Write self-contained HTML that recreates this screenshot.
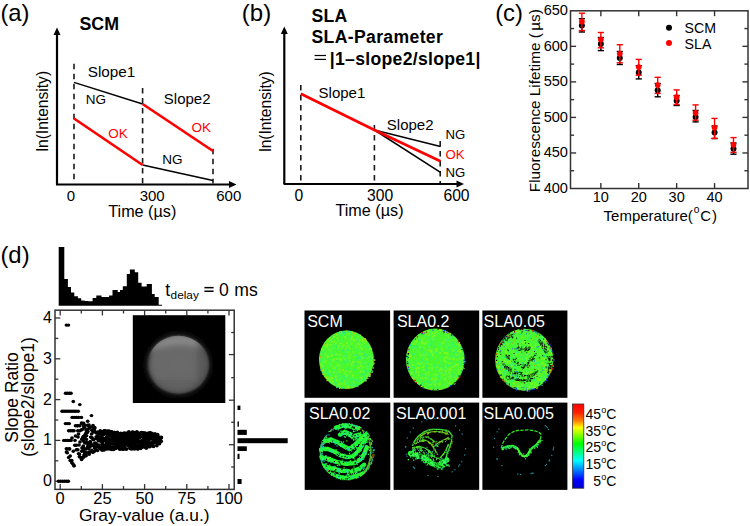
<!DOCTYPE html>
<html><head><meta charset="utf-8"><style>
html,body{margin:0;padding:0;background:#fff;}
svg{display:block;font-family:"Liberation Sans", sans-serif;}
</style></head><body>
<svg width="750" height="526" viewBox="0 0 750 526">
<text x="0.4" y="21" font-size="23.8" text-anchor="start" font-weight="normal" fill="#000" >(a)</text>
<text x="79.5" y="30" font-size="17.8" text-anchor="start" font-weight="bold" fill="#000" >SCM</text>
<line x1="57" y1="184.5" x2="57" y2="34" stroke="#000" stroke-width="2.2" />
<polygon points="53.5,35 60.5,35 57,27.5" fill="#000"/>
<line x1="56" y1="184.5" x2="230" y2="184.5" stroke="#000" stroke-width="2.2" />
<polygon points="229,181 229,188 236.5,184.5" fill="#000"/>
<line x1="74" y1="63.8" x2="74" y2="183.5" stroke="#1a1a1a" stroke-width="1.6" stroke-dasharray="5.4 4.6"/>
<line x1="142.6" y1="88" x2="142.6" y2="183.5" stroke="#1a1a1a" stroke-width="1.6" stroke-dasharray="5.4 4.6"/>
<line x1="213" y1="148.8" x2="213" y2="183.5" stroke="#1a1a1a" stroke-width="1.6" stroke-dasharray="5.4 4.6"/>
<line x1="74" y1="82.4" x2="142.6" y2="104" stroke="#000" stroke-width="1.5" />
<line x1="142.6" y1="165" x2="213" y2="180.6" stroke="#000" stroke-width="1.5" />
<line x1="142.6" y1="104" x2="213" y2="151" stroke="#f00" stroke-width="2.7" />
<line x1="74" y1="118.5" x2="142.6" y2="165" stroke="#f00" stroke-width="2.7" />
<text x="87.7" y="76.9" font-size="15.3" text-anchor="start" font-weight="normal" fill="#000" >Slope1</text>
<text x="163.8" y="104.4" font-size="15" text-anchor="start" font-weight="normal" fill="#000" >Slope2</text>
<text x="85.7" y="104" font-size="13.5" text-anchor="start" font-weight="normal" fill="#000" >NG</text>
<text x="162.2" y="164.3" font-size="13.5" text-anchor="start" font-weight="normal" fill="#000" >NG</text>
<text x="108.2" y="138.2" font-size="13.5" text-anchor="start" font-weight="normal" fill="#f00" >OK</text>
<text x="191.4" y="131.8" font-size="13.5" text-anchor="start" font-weight="normal" fill="#f00" >OK</text>
<text x="71" y="200.8" font-size="15" text-anchor="middle" font-weight="normal" fill="#000" >0</text>
<text x="152.2" y="200.8" font-size="15" text-anchor="middle" font-weight="normal" fill="#000" >300</text>
<text x="228.8" y="200.8" font-size="15" text-anchor="middle" font-weight="normal" fill="#000" >600</text>
<text x="142.3" y="216.8" font-size="16.2" text-anchor="middle" font-weight="normal" fill="#000" >Time (µs)</text>
<text transform="translate(47.8,111.2) rotate(-90)" font-size="15.6" text-anchor="middle">ln(Intensity)</text>
<text x="241.8" y="21" font-size="24" text-anchor="start" font-weight="normal" fill="#000" >(b)</text>
<text x="311.5" y="21.8" font-size="17.6" text-anchor="start" font-weight="bold" fill="#000" letter-spacing="0.3">SLA</text>
<text x="311.5" y="42.8" font-size="17.6" text-anchor="start" font-weight="bold" fill="#000" letter-spacing="0.35">SLA-Parameter</text>
<line x1="314.6" y1="55.5" x2="326" y2="55.5" stroke="#000" stroke-width="1.2" />
<line x1="314.6" y1="59.4" x2="326" y2="59.4" stroke="#000" stroke-width="1.2" />
<text x="329.8" y="64.6" font-size="17.6" text-anchor="start" font-weight="bold" fill="#000" letter-spacing="0.3">|1–slope2/slope1|</text>
<line x1="284.3" y1="184" x2="284.3" y2="33" stroke="#000" stroke-width="2.2" />
<polygon points="280.8,34 287.8,34 284.3,26.5" fill="#000"/>
<line x1="283.6" y1="184" x2="457" y2="184" stroke="#000" stroke-width="2.2" />
<polygon points="456.5,180.5 456.5,187.5 464,184" fill="#000"/>
<line x1="300.8" y1="85" x2="300.8" y2="183" stroke="#1a1a1a" stroke-width="1.6" stroke-dasharray="5.4 4.6"/>
<line x1="374.4" y1="125" x2="374.4" y2="183" stroke="#1a1a1a" stroke-width="1.6" stroke-dasharray="5.4 4.6"/>
<line x1="440.2" y1="141" x2="440.2" y2="183" stroke="#1a1a1a" stroke-width="1.6" stroke-dasharray="5.4 4.6"/>
<line x1="374.4" y1="130" x2="440.5" y2="146.4" stroke="#000" stroke-width="1.5" />
<line x1="374.4" y1="130" x2="440.5" y2="172.3" stroke="#000" stroke-width="1.5" />
<polyline points="300.8,93.7 374.4,130 440.5,161.2" fill="none" stroke="#f00" stroke-width="2.7"/>
<text x="318.6" y="98.2" font-size="15" text-anchor="start" font-weight="normal" fill="#000" >Slope1</text>
<text x="386.8" y="129.6" font-size="15" text-anchor="start" font-weight="normal" fill="#000" >Slope2</text>
<text x="445.4" y="139.3" font-size="13.2" text-anchor="start" font-weight="normal" fill="#000" >NG</text>
<text x="445.4" y="158.6" font-size="13.2" text-anchor="start" font-weight="normal" fill="#f00" >OK</text>
<text x="445.4" y="177.4" font-size="13.2" text-anchor="start" font-weight="normal" fill="#000" >NG</text>
<text x="298.9" y="200.5" font-size="15.7" text-anchor="middle" font-weight="normal" fill="#000" >0</text>
<text x="380.2" y="200.5" font-size="15.7" text-anchor="middle" font-weight="normal" fill="#000" >300</text>
<text x="456.5" y="200.5" font-size="15.7" text-anchor="middle" font-weight="normal" fill="#000" >600</text>
<text x="369.5" y="215.8" font-size="16.2" text-anchor="middle" font-weight="normal" fill="#000" >Time (µs)</text>
<text transform="translate(270.7,111.5) rotate(-90)" font-size="15.6" text-anchor="middle">ln(Intensity)</text>
<text x="495.2" y="21" font-size="23.8" text-anchor="start" font-weight="normal" fill="#000" >(c)</text>
<rect x="570.5" y="10.8" width="177.5" height="177.7" fill="none" stroke="#333" stroke-width="1.5"/>
<text x="568" y="192.7" font-size="14.6" text-anchor="end" font-weight="normal" fill="#000" >400</text>
<line x1="570.5" y1="170.73000000000002" x2="574.1" y2="170.73000000000002" stroke="#333" stroke-width="1.4" />
<line x1="748.0" y1="170.73000000000002" x2="744.4" y2="170.73000000000002" stroke="#333" stroke-width="1.4" />
<line x1="570.5" y1="152.96" x2="576.1" y2="152.96" stroke="#333" stroke-width="1.4" />
<line x1="748.0" y1="152.96" x2="742.4" y2="152.96" stroke="#333" stroke-width="1.4" />
<text x="568" y="157.16" font-size="14.6" text-anchor="end" font-weight="normal" fill="#000" >450</text>
<line x1="570.5" y1="135.19" x2="574.1" y2="135.19" stroke="#333" stroke-width="1.4" />
<line x1="748.0" y1="135.19" x2="744.4" y2="135.19" stroke="#333" stroke-width="1.4" />
<line x1="570.5" y1="117.42" x2="576.1" y2="117.42" stroke="#333" stroke-width="1.4" />
<line x1="748.0" y1="117.42" x2="742.4" y2="117.42" stroke="#333" stroke-width="1.4" />
<text x="568" y="121.62" font-size="14.6" text-anchor="end" font-weight="normal" fill="#000" >500</text>
<line x1="570.5" y1="99.64999999999999" x2="574.1" y2="99.64999999999999" stroke="#333" stroke-width="1.4" />
<line x1="748.0" y1="99.64999999999999" x2="744.4" y2="99.64999999999999" stroke="#333" stroke-width="1.4" />
<line x1="570.5" y1="81.88" x2="576.1" y2="81.88" stroke="#333" stroke-width="1.4" />
<line x1="748.0" y1="81.88" x2="742.4" y2="81.88" stroke="#333" stroke-width="1.4" />
<text x="568" y="86.08" font-size="14.6" text-anchor="end" font-weight="normal" fill="#000" >550</text>
<line x1="570.5" y1="64.11" x2="574.1" y2="64.11" stroke="#333" stroke-width="1.4" />
<line x1="748.0" y1="64.11" x2="744.4" y2="64.11" stroke="#333" stroke-width="1.4" />
<line x1="570.5" y1="46.34" x2="576.1" y2="46.34" stroke="#333" stroke-width="1.4" />
<line x1="748.0" y1="46.34" x2="742.4" y2="46.34" stroke="#333" stroke-width="1.4" />
<text x="568" y="50.540000000000006" font-size="14.6" text-anchor="end" font-weight="normal" fill="#000" >600</text>
<line x1="570.5" y1="28.57" x2="574.1" y2="28.57" stroke="#333" stroke-width="1.4" />
<line x1="748.0" y1="28.57" x2="744.4" y2="28.57" stroke="#333" stroke-width="1.4" />
<text x="568" y="15.0" font-size="14.6" text-anchor="end" font-weight="normal" fill="#000" >650</text>
<line x1="600.85" y1="188.5" x2="600.85" y2="183.1" stroke="#333" stroke-width="1.4" />
<line x1="600.85" y1="10.8" x2="600.85" y2="16.200000000000003" stroke="#333" stroke-width="1.4" />
<text x="600.85" y="201.8" font-size="14.5" text-anchor="middle" font-weight="normal" fill="#000" >10</text>
<line x1="638.75" y1="188.5" x2="638.75" y2="183.1" stroke="#333" stroke-width="1.4" />
<line x1="638.75" y1="10.8" x2="638.75" y2="16.200000000000003" stroke="#333" stroke-width="1.4" />
<text x="638.75" y="201.8" font-size="14.5" text-anchor="middle" font-weight="normal" fill="#000" >20</text>
<line x1="676.6500000000001" y1="188.5" x2="676.6500000000001" y2="183.1" stroke="#333" stroke-width="1.4" />
<line x1="676.6500000000001" y1="10.8" x2="676.6500000000001" y2="16.200000000000003" stroke="#333" stroke-width="1.4" />
<text x="676.6500000000001" y="201.8" font-size="14.5" text-anchor="middle" font-weight="normal" fill="#000" >30</text>
<line x1="714.5500000000001" y1="188.5" x2="714.5500000000001" y2="183.1" stroke="#333" stroke-width="1.4" />
<line x1="714.5500000000001" y1="10.8" x2="714.5500000000001" y2="16.200000000000003" stroke="#333" stroke-width="1.4" />
<text x="714.5500000000001" y="201.8" font-size="14.5" text-anchor="middle" font-weight="normal" fill="#000" >40</text>
<text x="603.6" y="220.6" font-size="15">Temperature(<tspan font-size="10.2" dx="0.9" dy="-7.2">o</tspan><tspan dx="0.8" dy="7.2">C</tspan><tspan dx="0.9">)</tspan></text>
<text transform="translate(540.4,100.7) rotate(-90)" font-size="15.3" text-anchor="middle">Fluorescence Lifetime (<tspan dx="2.5">µs)</tspan></text>
<line x1="581.9000000000001" y1="18.7" x2="581.9000000000001" y2="32" stroke="#000" stroke-width="1.4" />
<line x1="578.8000000000001" y1="18.7" x2="585.0000000000001" y2="18.7" stroke="#000" stroke-width="1.4" />
<line x1="578.8000000000001" y1="32" x2="585.0000000000001" y2="32" stroke="#000" stroke-width="1.4" />
<line x1="600.85" y1="37.5" x2="600.85" y2="50.6" stroke="#000" stroke-width="1.4" />
<line x1="597.75" y1="37.5" x2="603.95" y2="37.5" stroke="#000" stroke-width="1.4" />
<line x1="597.75" y1="50.6" x2="603.95" y2="50.6" stroke="#000" stroke-width="1.4" />
<line x1="619.8000000000001" y1="51.5" x2="619.8000000000001" y2="64.5" stroke="#000" stroke-width="1.4" />
<line x1="616.7" y1="51.5" x2="622.9000000000001" y2="51.5" stroke="#000" stroke-width="1.4" />
<line x1="616.7" y1="64.5" x2="622.9000000000001" y2="64.5" stroke="#000" stroke-width="1.4" />
<line x1="638.75" y1="65.7" x2="638.75" y2="78.9" stroke="#000" stroke-width="1.4" />
<line x1="635.65" y1="65.7" x2="641.85" y2="65.7" stroke="#000" stroke-width="1.4" />
<line x1="635.65" y1="78.9" x2="641.85" y2="78.9" stroke="#000" stroke-width="1.4" />
<line x1="657.7" y1="83.5" x2="657.7" y2="96.8" stroke="#000" stroke-width="1.4" />
<line x1="654.6" y1="83.5" x2="660.8000000000001" y2="83.5" stroke="#000" stroke-width="1.4" />
<line x1="654.6" y1="96.8" x2="660.8000000000001" y2="96.8" stroke="#000" stroke-width="1.4" />
<line x1="676.6500000000001" y1="95.5" x2="676.6500000000001" y2="105.5" stroke="#000" stroke-width="1.4" />
<line x1="673.5500000000001" y1="95.5" x2="679.7500000000001" y2="95.5" stroke="#000" stroke-width="1.4" />
<line x1="673.5500000000001" y1="105.5" x2="679.7500000000001" y2="105.5" stroke="#000" stroke-width="1.4" />
<line x1="695.6" y1="110.5" x2="695.6" y2="121.9" stroke="#000" stroke-width="1.4" />
<line x1="692.5" y1="110.5" x2="698.7" y2="110.5" stroke="#000" stroke-width="1.4" />
<line x1="692.5" y1="121.9" x2="698.7" y2="121.9" stroke="#000" stroke-width="1.4" />
<line x1="714.5500000000001" y1="126" x2="714.5500000000001" y2="138.6" stroke="#000" stroke-width="1.4" />
<line x1="711.45" y1="126" x2="717.6500000000001" y2="126" stroke="#000" stroke-width="1.4" />
<line x1="711.45" y1="138.6" x2="717.6500000000001" y2="138.6" stroke="#000" stroke-width="1.4" />
<line x1="733.5" y1="143" x2="733.5" y2="154.2" stroke="#000" stroke-width="1.4" />
<line x1="730.4" y1="143" x2="736.6" y2="143" stroke="#000" stroke-width="1.4" />
<line x1="730.4" y1="154.2" x2="736.6" y2="154.2" stroke="#000" stroke-width="1.4" />
<circle cx="581.90" cy="25.4" r="3.0" fill="#000"/>
<circle cx="600.85" cy="44.1" r="3.0" fill="#000"/>
<circle cx="619.80" cy="58" r="3.0" fill="#000"/>
<circle cx="638.75" cy="72.6" r="3.0" fill="#000"/>
<circle cx="657.70" cy="90.3" r="3.0" fill="#000"/>
<circle cx="676.65" cy="100.7" r="3.0" fill="#000"/>
<circle cx="695.60" cy="117" r="3.0" fill="#000"/>
<circle cx="714.55" cy="132.6" r="3.0" fill="#000"/>
<circle cx="733.50" cy="148.8" r="3.0" fill="#000"/>
<line x1="581.9000000000001" y1="13.2" x2="581.9000000000001" y2="30.6" stroke="#f00" stroke-width="1.4" />
<line x1="578.8000000000001" y1="13.2" x2="585.0000000000001" y2="13.2" stroke="#f00" stroke-width="1.4" />
<line x1="578.8000000000001" y1="30.6" x2="585.0000000000001" y2="30.6" stroke="#f00" stroke-width="1.4" />
<line x1="600.85" y1="32.5" x2="600.85" y2="47.8" stroke="#f00" stroke-width="1.4" />
<line x1="597.75" y1="32.5" x2="603.95" y2="32.5" stroke="#f00" stroke-width="1.4" />
<line x1="597.75" y1="47.8" x2="603.95" y2="47.8" stroke="#f00" stroke-width="1.4" />
<line x1="619.8000000000001" y1="44.7" x2="619.8000000000001" y2="62.8" stroke="#f00" stroke-width="1.4" />
<line x1="616.7" y1="44.7" x2="622.9000000000001" y2="44.7" stroke="#f00" stroke-width="1.4" />
<line x1="616.7" y1="62.8" x2="622.9000000000001" y2="62.8" stroke="#f00" stroke-width="1.4" />
<line x1="638.75" y1="59.4" x2="638.75" y2="75.2" stroke="#f00" stroke-width="1.4" />
<line x1="635.65" y1="59.4" x2="641.85" y2="59.4" stroke="#f00" stroke-width="1.4" />
<line x1="635.65" y1="75.2" x2="641.85" y2="75.2" stroke="#f00" stroke-width="1.4" />
<line x1="657.7" y1="77.3" x2="657.7" y2="93.4" stroke="#f00" stroke-width="1.4" />
<line x1="654.6" y1="77.3" x2="660.8000000000001" y2="77.3" stroke="#f00" stroke-width="1.4" />
<line x1="654.6" y1="93.4" x2="660.8000000000001" y2="93.4" stroke="#f00" stroke-width="1.4" />
<line x1="676.6500000000001" y1="89.9" x2="676.6500000000001" y2="104.5" stroke="#f00" stroke-width="1.4" />
<line x1="673.5500000000001" y1="89.9" x2="679.7500000000001" y2="89.9" stroke="#f00" stroke-width="1.4" />
<line x1="673.5500000000001" y1="104.5" x2="679.7500000000001" y2="104.5" stroke="#f00" stroke-width="1.4" />
<line x1="695.6" y1="104.9" x2="695.6" y2="120.2" stroke="#f00" stroke-width="1.4" />
<line x1="692.5" y1="104.9" x2="698.7" y2="104.9" stroke="#f00" stroke-width="1.4" />
<line x1="692.5" y1="120.2" x2="698.7" y2="120.2" stroke="#f00" stroke-width="1.4" />
<line x1="714.5500000000001" y1="118.4" x2="714.5500000000001" y2="138.3" stroke="#f00" stroke-width="1.4" />
<line x1="711.45" y1="118.4" x2="717.6500000000001" y2="118.4" stroke="#f00" stroke-width="1.4" />
<line x1="711.45" y1="138.3" x2="717.6500000000001" y2="138.3" stroke="#f00" stroke-width="1.4" />
<line x1="733.5" y1="137.6" x2="733.5" y2="152.3" stroke="#f00" stroke-width="1.4" />
<line x1="730.4" y1="137.6" x2="736.6" y2="137.6" stroke="#f00" stroke-width="1.4" />
<line x1="730.4" y1="152.3" x2="736.6" y2="152.3" stroke="#f00" stroke-width="1.4" />
<circle cx="581.90" cy="21.6" r="2.85" fill="#f00"/>
<circle cx="600.85" cy="39.5" r="2.85" fill="#f00"/>
<circle cx="619.80" cy="53.8" r="2.85" fill="#f00"/>
<circle cx="638.75" cy="67" r="2.85" fill="#f00"/>
<circle cx="657.70" cy="85" r="2.85" fill="#f00"/>
<circle cx="676.65" cy="97.2" r="2.85" fill="#f00"/>
<circle cx="695.60" cy="112.9" r="2.85" fill="#f00"/>
<circle cx="714.55" cy="127.6" r="2.85" fill="#f00"/>
<circle cx="733.50" cy="144.7" r="2.85" fill="#f00"/>
<circle cx="669" cy="27.8" r="3" fill="#000"/>
<circle cx="669" cy="43" r="3" fill="#f00"/>
<text x="684.6" y="33" font-size="14.2" text-anchor="start" font-weight="normal" fill="#000" >SCM</text>
<text x="684.6" y="48.6" font-size="14.2" text-anchor="start" font-weight="normal" fill="#000" >SLA</text>
<text x="0.4" y="262.7" font-size="23.9" text-anchor="start" font-weight="normal" fill="#000" >(d)</text>
<polygon points="58.7,305.8 58.7,246.9 64.3,246.9 64.3,278.9 67.9,278.9 67.9,286.9 71.0,286.9 71.0,292.6 74.3,292.6 74.3,296.2 77.9,296.2 77.9,298.2 81.2,298.2 81.2,300.6 84.6,300.6 84.6,301 88.3,301 88.3,301.3 92.6,301.3 92.6,298 96.3,298 96.3,295.5 101.5,295.5 101.5,297 105.5,297 105.5,297 109.1,297 109.1,295.6 112.5,295.6 112.5,290.1 117.7,290.1 117.7,292 120,292 120,289.9 122.8,289.9 122.8,286.3 126.8,286.3 126.8,274 129.9,274 129.9,269.4 134.8,269.4 134.8,272.2 138.2,272.2 138.2,282.8 141.6,282.8 141.6,286.5 146.7,286.5 146.7,284 151.9,284 151.9,293.9 154.7,293.9 154.7,297 158.7,297 158.7,304.7 162.1,304.7 162.1,305.8" fill="#000"/>
<text x="165.3" y="295.8" font-size="17.5">t</text>
<text x="170.6" y="299" font-size="11.8">delay</text>
<rect x="204.4" y="286.9" width="9.2" height="1.5" fill="#000"/><rect x="204.4" y="290.5" width="9.2" height="1.5" fill="#000"/>
<text x="219" y="295.8" font-size="17.6">0</text>
<text x="234.3" y="295.8" font-size="17.6">ms</text>
<rect x="55" y="310.2" width="179.2" height="179.2" fill="none" stroke="#333" stroke-width="1.5"/>
<line x1="55" y1="481.2" x2="60.3" y2="481.2" stroke="#333" stroke-width="1.3" />
<text x="52" y="486.2" font-size="16" text-anchor="end" font-weight="normal" fill="#000" >0</text>
<line x1="55" y1="460.8" x2="58.3" y2="460.8" stroke="#333" stroke-width="1.3" />
<line x1="55" y1="440.4" x2="60.3" y2="440.4" stroke="#333" stroke-width="1.3" />
<text x="52" y="445.4" font-size="16" text-anchor="end" font-weight="normal" fill="#000" >1</text>
<line x1="55" y1="420.0" x2="58.3" y2="420.0" stroke="#333" stroke-width="1.3" />
<line x1="55" y1="399.6" x2="60.3" y2="399.6" stroke="#333" stroke-width="1.3" />
<text x="52" y="404.6" font-size="16" text-anchor="end" font-weight="normal" fill="#000" >2</text>
<line x1="55" y1="379.2" x2="58.3" y2="379.2" stroke="#333" stroke-width="1.3" />
<line x1="55" y1="358.8" x2="60.3" y2="358.8" stroke="#333" stroke-width="1.3" />
<text x="52" y="363.8" font-size="16" text-anchor="end" font-weight="normal" fill="#000" >3</text>
<line x1="55" y1="338.4" x2="58.3" y2="338.4" stroke="#333" stroke-width="1.3" />
<line x1="55" y1="318.0" x2="60.3" y2="318.0" stroke="#333" stroke-width="1.3" />
<text x="52" y="323.0" font-size="16" text-anchor="end" font-weight="normal" fill="#000" >4</text>
<line x1="60.2" y1="489.4" x2="60.2" y2="484.09999999999997" stroke="#333" stroke-width="1.3" />
<line x1="60.2" y1="310.2" x2="60.2" y2="315.5" stroke="#333" stroke-width="1.3" />
<text x="60.2" y="504" font-size="16.5" text-anchor="middle" font-weight="normal" fill="#000" >0</text>
<line x1="81.3" y1="489.4" x2="81.3" y2="486.09999999999997" stroke="#333" stroke-width="1.3" />
<line x1="81.3" y1="310.2" x2="81.3" y2="313.5" stroke="#333" stroke-width="1.3" />
<line x1="102.4" y1="489.4" x2="102.4" y2="484.09999999999997" stroke="#333" stroke-width="1.3" />
<line x1="102.4" y1="310.2" x2="102.4" y2="315.5" stroke="#333" stroke-width="1.3" />
<text x="102.4" y="504" font-size="16.5" text-anchor="middle" font-weight="normal" fill="#000" >25</text>
<line x1="123.5" y1="489.4" x2="123.5" y2="486.09999999999997" stroke="#333" stroke-width="1.3" />
<line x1="123.5" y1="310.2" x2="123.5" y2="313.5" stroke="#333" stroke-width="1.3" />
<line x1="144.6" y1="489.4" x2="144.6" y2="484.09999999999997" stroke="#333" stroke-width="1.3" />
<line x1="144.6" y1="310.2" x2="144.6" y2="315.5" stroke="#333" stroke-width="1.3" />
<text x="144.6" y="504" font-size="16.5" text-anchor="middle" font-weight="normal" fill="#000" >50</text>
<line x1="165.7" y1="489.4" x2="165.7" y2="486.09999999999997" stroke="#333" stroke-width="1.3" />
<line x1="165.7" y1="310.2" x2="165.7" y2="313.5" stroke="#333" stroke-width="1.3" />
<line x1="186.8" y1="489.4" x2="186.8" y2="484.09999999999997" stroke="#333" stroke-width="1.3" />
<line x1="186.8" y1="310.2" x2="186.8" y2="315.5" stroke="#333" stroke-width="1.3" />
<text x="186.8" y="504" font-size="16.5" text-anchor="middle" font-weight="normal" fill="#000" >75</text>
<line x1="207.89999999999998" y1="489.4" x2="207.89999999999998" y2="486.09999999999997" stroke="#333" stroke-width="1.3" />
<line x1="207.89999999999998" y1="310.2" x2="207.89999999999998" y2="313.5" stroke="#333" stroke-width="1.3" />
<line x1="229.0" y1="489.4" x2="229.0" y2="484.09999999999997" stroke="#333" stroke-width="1.3" />
<line x1="229.0" y1="310.2" x2="229.0" y2="315.5" stroke="#333" stroke-width="1.3" />
<text x="229.0" y="504" font-size="16.5" text-anchor="middle" font-weight="normal" fill="#000" >100</text>
<line x1="234.2" y1="332.5" x2="231.2" y2="332.5" stroke="#333" stroke-width="1.3" />
<line x1="234.2" y1="354.6" x2="228.89999999999998" y2="354.6" stroke="#333" stroke-width="1.3" />
<line x1="234.2" y1="377.7" x2="231.2" y2="377.7" stroke="#333" stroke-width="1.3" />
<line x1="234.2" y1="400.2" x2="228.89999999999998" y2="400.2" stroke="#333" stroke-width="1.3" />
<line x1="234.2" y1="422.3" x2="231.2" y2="422.3" stroke="#333" stroke-width="1.3" />
<line x1="234.2" y1="444.7" x2="228.89999999999998" y2="444.7" stroke="#333" stroke-width="1.3" />
<line x1="234.2" y1="467.0" x2="231.2" y2="467.0" stroke="#333" stroke-width="1.3" />
<text x="144.3" y="520.5" font-size="17.4" text-anchor="middle" font-weight="normal" fill="#000" >Gray-value (a.u.)</text>
<text transform="translate(17.8,397.5) rotate(-90)" font-size="17.5" text-anchor="middle">Slope Ratio</text>
<text transform="translate(34.2,397) rotate(-90)" font-size="17.5" text-anchor="middle">(slope2/slope1)</text>
<rect x="237.5" y="405.6" width="2.9000000000000057" height="4.399999999999977" fill="#000"/>
<rect x="237.5" y="421.4" width="1.4000000000000057" height="5.300000000000011" fill="#000"/>
<rect x="237.5" y="429.8" width="9.300000000000011" height="5.099999999999966" fill="#000"/>
<rect x="237.5" y="438.2" width="50.19999999999999" height="5.0" fill="#000"/>
<rect x="237.5" y="446.3" width="9.300000000000011" height="4.699999999999989" fill="#000"/>
<rect x="237.5" y="453.8" width="2.0" height="5.199999999999989" fill="#000"/>
<rect x="237.5" y="479" width="4.099999999999994" height="5" fill="#000"/>
<defs><radialGradient id="disc" cx="0.5" cy="0.5" r="0.5"><stop offset="0" stop-color="#6a6a6a"/><stop offset="0.8" stop-color="#686868"/><stop offset="0.93" stop-color="#585858"/><stop offset="1" stop-color="#2a2a2a"/></radialGradient><filter id="blur1" x="-20%" y="-20%" width="140%" height="140%"><feGaussianBlur stdDeviation="1.8"/></filter><filter id="blur2" x="-20%" y="-20%" width="140%" height="140%"><feGaussianBlur stdDeviation="2.5"/></filter><filter id="blur3" x="-30%" y="-30%" width="160%" height="160%"><feGaussianBlur stdDeviation="3.5"/></filter><clipPath id="discclip"><ellipse cx="178.3" cy="364.6" rx="30.5" ry="28.8"/></clipPath></defs>
<rect x="132.8" y="315.2" width="92.5" height="87.8" fill="#000"/>
<ellipse cx="178.3" cy="364.6" rx="33" ry="31.5" fill="#161616" filter="url(#blur3)"/>
<ellipse cx="178.3" cy="364.6" rx="31" ry="29.4" fill="url(#disc)" filter="url(#blur1)"/>
<g clip-path="url(#discclip)" filter="url(#blur2)"><path d="M148,352 C156,336 176,330 196,337 C202,341 205,346 203,350 C188,343 166,343 148,354 Z" fill="#8a8a8a" opacity="0.9"/><rect x="197" y="340" width="15" height="50" fill="#4a4a4a" opacity="0.5"/><rect x="150" y="380" width="60" height="20" fill="#555" opacity="0.4"/></g>
<g fill="#000"><ellipse cx="58.5" cy="481.2" rx="1.85" ry="1.7"/><ellipse cx="60.5" cy="481.2" rx="1.85" ry="1.7"/><ellipse cx="62.5" cy="481.2" rx="1.85" ry="1.7"/><ellipse cx="64.5" cy="481.2" rx="1.85" ry="1.7"/><ellipse cx="66.5" cy="481.2" rx="1.85" ry="1.7"/><ellipse cx="68.3" cy="481.2" rx="1.85" ry="1.7"/><ellipse cx="66.4" cy="325.1" rx="1.85" ry="1.7"/><ellipse cx="68.4" cy="325.1" rx="1.85" ry="1.7"/><ellipse cx="65.6" cy="393.3" rx="1.85" ry="1.7"/><ellipse cx="67.4" cy="393.3" rx="1.85" ry="1.7"/><ellipse cx="69.3" cy="393.3" rx="1.85" ry="1.7"/><ellipse cx="71" cy="393.3" rx="1.85" ry="1.7"/><ellipse cx="73.3" cy="401.5" rx="1.85" ry="1.7"/><ellipse cx="79.8" cy="404.6" rx="1.85" ry="1.7"/><ellipse cx="91.5" cy="415.6" rx="1.85" ry="1.7"/><ellipse cx="87.7" cy="421.2" rx="1.85" ry="1.7"/><ellipse cx="81.6" cy="422.9" rx="1.85" ry="1.7"/><ellipse cx="77.5" cy="425.8" rx="1.85" ry="1.7"/><ellipse cx="93" cy="425.5" rx="1.85" ry="1.7"/><ellipse cx="67.2" cy="449" rx="1.85" ry="1.7"/><ellipse cx="69.5" cy="449" rx="1.85" ry="1.7"/><ellipse cx="74.8" cy="445.3" rx="1.85" ry="1.7"/><ellipse cx="76.3" cy="449.8" rx="1.85" ry="1.7"/><ellipse cx="68.7" cy="457.4" rx="1.85" ry="1.7"/><ellipse cx="70.2" cy="460.5" rx="1.85" ry="1.7"/><ellipse cx="71.8" cy="462.8" rx="1.85" ry="1.7"/><ellipse cx="74" cy="465.8" rx="1.85" ry="1.7"/><ellipse cx="73" cy="464" rx="1.85" ry="1.7"/><ellipse cx="78.6" cy="453.6" rx="1.85" ry="1.7"/><ellipse cx="79.4" cy="456.7" rx="1.85" ry="1.7"/><ellipse cx="81.6" cy="459" rx="1.85" ry="1.7"/><ellipse cx="73.3" cy="451.3" rx="1.85" ry="1.7"/><ellipse cx="66.5" cy="452" rx="1.85" ry="1.7"/><ellipse cx="84" cy="455" rx="1.85" ry="1.7"/><ellipse cx="86" cy="452" rx="1.85" ry="1.7"/><ellipse cx="82" cy="448" rx="1.85" ry="1.7"/><ellipse cx="88" cy="448" rx="1.85" ry="1.7"/><ellipse cx="79" cy="445" rx="1.85" ry="1.7"/><ellipse cx="77.8" cy="430.8" rx="1.85" ry="1.7"/><ellipse cx="80" cy="430.8" rx="1.85" ry="1.7"/><ellipse cx="84" cy="428" rx="1.85" ry="1.7"/><ellipse cx="86" cy="433" rx="1.85" ry="1.7"/><ellipse cx="83" cy="437" rx="1.85" ry="1.7"/><ellipse cx="78" cy="437" rx="1.85" ry="1.7"/><ellipse cx="75" cy="440.4" rx="1.85" ry="1.7"/><ellipse cx="80" cy="442" rx="1.85" ry="1.7"/><ellipse cx="85" cy="443" rx="1.85" ry="1.7"/><ellipse cx="66.4" cy="448.8" rx="1.85" ry="1.7"/><ellipse cx="69.4" cy="448.8" rx="1.85" ry="1.7"/><ellipse cx="67.2" cy="452.8" rx="1.85" ry="1.7"/><ellipse cx="70.2" cy="455.9" rx="1.85" ry="1.7"/><ellipse cx="71.8" cy="460.5" rx="1.85" ry="1.7"/><ellipse cx="74" cy="465.8" rx="1.85" ry="1.7"/><ellipse cx="76.3" cy="445.3" rx="1.85" ry="1.7"/><ellipse cx="77.8" cy="449.8" rx="1.85" ry="1.7"/><ellipse cx="79.4" cy="454.3" rx="1.85" ry="1.7"/><ellipse cx="80.9" cy="457.4" rx="1.85" ry="1.7"/><ellipse cx="81.6" cy="459.6" rx="1.85" ry="1.7"/><ellipse cx="75.5" cy="436" rx="1.85" ry="1.7"/><ellipse cx="72" cy="438" rx="1.85" ry="1.7"/><ellipse cx="78.5" cy="434" rx="1.85" ry="1.7"/><ellipse cx="62.1" cy="411.3" rx="1.85" ry="1.7"/><ellipse cx="64" cy="411.3" rx="1.85" ry="1.7"/><ellipse cx="66" cy="411.3" rx="1.85" ry="1.7"/><ellipse cx="68" cy="411.3" rx="1.85" ry="1.7"/><ellipse cx="70" cy="411.3" rx="1.85" ry="1.7"/><ellipse cx="72" cy="411.3" rx="1.85" ry="1.7"/><ellipse cx="74" cy="411.3" rx="1.85" ry="1.7"/><ellipse cx="76" cy="411.3" rx="1.85" ry="1.7"/><ellipse cx="78.2" cy="411.3" rx="1.85" ry="1.7"/><ellipse cx="72.2" cy="417.4" rx="1.85" ry="1.7"/><ellipse cx="74.2" cy="417.4" rx="1.85" ry="1.7"/><ellipse cx="76.4" cy="417.4" rx="1.85" ry="1.7"/><ellipse cx="78.6" cy="417.4" rx="1.85" ry="1.7"/><ellipse cx="81.4" cy="417.4" rx="1.85" ry="1.7"/><ellipse cx="65.5" cy="423.6" rx="1.85" ry="1.7"/><ellipse cx="67.5" cy="423.6" rx="1.85" ry="1.7"/><ellipse cx="69.2" cy="423.6" rx="1.85" ry="1.7"/><ellipse cx="75.5" cy="425.8" rx="1.85" ry="1.7"/><ellipse cx="77.5" cy="425.8" rx="1.85" ry="1.7"/><ellipse cx="79.8" cy="425.8" rx="1.85" ry="1.7"/><ellipse cx="68.7" cy="430.8" rx="1.85" ry="1.7"/><ellipse cx="70.5" cy="430.8" rx="1.85" ry="1.7"/><ellipse cx="72.3" cy="430.8" rx="1.85" ry="1.7"/><ellipse cx="74" cy="430.8" rx="1.85" ry="1.7"/><ellipse cx="63.8" cy="440.4" rx="1.85" ry="1.7"/><ellipse cx="65.8" cy="440.4" rx="1.85" ry="1.7"/><ellipse cx="67.8" cy="440.4" rx="1.85" ry="1.7"/><ellipse cx="69.8" cy="440.4" rx="1.85" ry="1.7"/><ellipse cx="71" cy="440.4" rx="1.85" ry="1.7"/><ellipse cx="82.3" cy="438.8" rx="1.85" ry="1.7"/><ellipse cx="82.1" cy="439.3" rx="1.85" ry="1.7"/><ellipse cx="82.1" cy="429.5" rx="1.85" ry="1.7"/><ellipse cx="81.7" cy="451.3" rx="1.85" ry="1.7"/><ellipse cx="82.1" cy="457.4" rx="1.85" ry="1.7"/><ellipse cx="81.7" cy="423.5" rx="1.85" ry="1.7"/><ellipse cx="81.7" cy="429.7" rx="1.85" ry="1.7"/><ellipse cx="82.2" cy="439.2" rx="1.85" ry="1.7"/><ellipse cx="83.4" cy="441.0" rx="1.85" ry="1.7"/><ellipse cx="83.3" cy="445.9" rx="1.85" ry="1.7"/><ellipse cx="83.6" cy="457.3" rx="1.85" ry="1.7"/><ellipse cx="83.2" cy="447.4" rx="1.85" ry="1.7"/><ellipse cx="83.6" cy="449.4" rx="1.85" ry="1.7"/><ellipse cx="83.6" cy="436.5" rx="1.85" ry="1.7"/><ellipse cx="83.6" cy="423.3" rx="1.85" ry="1.7"/><ellipse cx="83.3" cy="439.3" rx="1.85" ry="1.7"/><ellipse cx="83.6" cy="425.8" rx="1.85" ry="1.7"/><ellipse cx="85.0" cy="434.6" rx="1.85" ry="1.7"/><ellipse cx="84.6" cy="427.4" rx="1.85" ry="1.7"/><ellipse cx="84.6" cy="425.5" rx="1.85" ry="1.7"/><ellipse cx="84.6" cy="442.1" rx="1.85" ry="1.7"/><ellipse cx="84.7" cy="437.5" rx="1.85" ry="1.7"/><ellipse cx="84.7" cy="455.8" rx="1.85" ry="1.7"/><ellipse cx="84.7" cy="452.9" rx="1.85" ry="1.7"/><ellipse cx="84.6" cy="451.9" rx="1.85" ry="1.7"/><ellipse cx="86.1" cy="455.8" rx="1.85" ry="1.7"/><ellipse cx="86.1" cy="448.8" rx="1.85" ry="1.7"/><ellipse cx="86.3" cy="442.7" rx="1.85" ry="1.7"/><ellipse cx="86.5" cy="435.8" rx="1.85" ry="1.7"/><ellipse cx="86.4" cy="439.4" rx="1.85" ry="1.7"/><ellipse cx="86.0" cy="453.2" rx="1.85" ry="1.7"/><ellipse cx="86.5" cy="429.9" rx="1.85" ry="1.7"/><ellipse cx="86.4" cy="430.2" rx="1.85" ry="1.7"/><ellipse cx="87.4" cy="443.1" rx="1.85" ry="1.7"/><ellipse cx="87.4" cy="425.3" rx="1.85" ry="1.7"/><ellipse cx="87.8" cy="446.2" rx="1.85" ry="1.7"/><ellipse cx="87.4" cy="442.8" rx="1.85" ry="1.7"/><ellipse cx="87.8" cy="431.2" rx="1.85" ry="1.7"/><ellipse cx="87.9" cy="443.4" rx="1.85" ry="1.7"/><ellipse cx="87.3" cy="432.5" rx="1.85" ry="1.7"/><ellipse cx="87.6" cy="429.6" rx="1.85" ry="1.7"/><ellipse cx="89.2" cy="428.3" rx="1.85" ry="1.7"/><ellipse cx="89.1" cy="454.3" rx="1.85" ry="1.7"/><ellipse cx="89.3" cy="452.2" rx="1.85" ry="1.7"/><ellipse cx="89.0" cy="425.0" rx="1.85" ry="1.7"/><ellipse cx="89.3" cy="446.7" rx="1.85" ry="1.7"/><ellipse cx="89.1" cy="426.6" rx="1.85" ry="1.7"/><ellipse cx="89.1" cy="451.9" rx="1.85" ry="1.7"/><ellipse cx="88.9" cy="448.6" rx="1.85" ry="1.7"/><ellipse cx="90.6" cy="445.0" rx="1.85" ry="1.7"/><ellipse cx="90.6" cy="437.1" rx="1.85" ry="1.7"/><ellipse cx="90.3" cy="441.7" rx="1.85" ry="1.7"/><ellipse cx="90.1" cy="442.0" rx="1.85" ry="1.7"/><ellipse cx="90.6" cy="443.6" rx="1.85" ry="1.7"/><ellipse cx="90.5" cy="446.3" rx="1.85" ry="1.7"/><ellipse cx="90.6" cy="441.9" rx="1.85" ry="1.7"/><ellipse cx="90.1" cy="427.2" rx="1.85" ry="1.7"/><ellipse cx="90.2" cy="442.5" rx="1.85" ry="1.7"/><ellipse cx="91.9" cy="445.1" rx="1.85" ry="1.7"/><ellipse cx="91.5" cy="451.4" rx="1.85" ry="1.7"/><ellipse cx="91.6" cy="434.0" rx="1.85" ry="1.7"/><ellipse cx="91.9" cy="430.3" rx="1.85" ry="1.7"/><ellipse cx="91.7" cy="437.9" rx="1.85" ry="1.7"/><ellipse cx="92.0" cy="437.6" rx="1.85" ry="1.7"/><ellipse cx="91.8" cy="450.2" rx="1.85" ry="1.7"/><ellipse cx="93.4" cy="439.5" rx="1.85" ry="1.7"/><ellipse cx="93.1" cy="445.2" rx="1.85" ry="1.7"/><ellipse cx="93.1" cy="430.9" rx="1.85" ry="1.7"/><ellipse cx="93.3" cy="432.0" rx="1.85" ry="1.7"/><ellipse cx="93.4" cy="439.5" rx="1.85" ry="1.7"/><ellipse cx="92.9" cy="452.4" rx="1.85" ry="1.7"/><ellipse cx="92.9" cy="427.2" rx="1.85" ry="1.7"/><ellipse cx="93.1" cy="445.2" rx="1.85" ry="1.7"/><ellipse cx="94.3" cy="430.6" rx="1.85" ry="1.7"/><ellipse cx="94.4" cy="447.9" rx="1.85" ry="1.7"/><ellipse cx="94.6" cy="428.4" rx="1.85" ry="1.7"/><ellipse cx="94.8" cy="442.9" rx="1.85" ry="1.7"/><ellipse cx="94.4" cy="451.2" rx="1.85" ry="1.7"/><ellipse cx="94.7" cy="427.5" rx="1.85" ry="1.7"/><ellipse cx="94.5" cy="431.7" rx="1.85" ry="1.7"/><ellipse cx="96.1" cy="444.4" rx="1.85" ry="1.7"/><ellipse cx="96.2" cy="445.8" rx="1.85" ry="1.7"/><ellipse cx="95.8" cy="449.9" rx="1.85" ry="1.7"/><ellipse cx="96.2" cy="438.7" rx="1.85" ry="1.7"/><ellipse cx="96.2" cy="436.9" rx="1.85" ry="1.7"/><ellipse cx="96.0" cy="446.7" rx="1.85" ry="1.7"/><ellipse cx="96.1" cy="443.3" rx="1.85" ry="1.7"/><ellipse cx="96.1" cy="447.2" rx="1.85" ry="1.7"/><ellipse cx="96.3" cy="433.0" rx="1.85" ry="1.7"/><ellipse cx="97.6" cy="450.6" rx="1.85" ry="1.7"/><ellipse cx="97.6" cy="435.9" rx="1.85" ry="1.7"/><ellipse cx="97.6" cy="438.6" rx="1.85" ry="1.7"/><ellipse cx="97.2" cy="436.2" rx="1.85" ry="1.7"/><ellipse cx="97.5" cy="432.0" rx="1.85" ry="1.7"/><ellipse cx="99.1" cy="447.3" rx="1.85" ry="1.7"/><ellipse cx="98.6" cy="439.9" rx="1.85" ry="1.7"/><ellipse cx="98.7" cy="434.1" rx="1.85" ry="1.7"/><ellipse cx="98.8" cy="444.9" rx="1.85" ry="1.7"/><ellipse cx="98.7" cy="447.3" rx="1.85" ry="1.7"/><ellipse cx="99.0" cy="437.5" rx="1.85" ry="1.7"/><ellipse cx="99.1" cy="433.8" rx="1.85" ry="1.7"/><ellipse cx="98.6" cy="440.5" rx="1.85" ry="1.7"/><ellipse cx="98.9" cy="440.8" rx="1.85" ry="1.7"/><ellipse cx="100.2" cy="430.6" rx="1.85" ry="1.7"/><ellipse cx="100.2" cy="438.1" rx="1.85" ry="1.7"/><ellipse cx="99.9" cy="440.0" rx="1.85" ry="1.7"/><ellipse cx="100.5" cy="440.9" rx="1.85" ry="1.7"/><ellipse cx="100.2" cy="448.7" rx="1.85" ry="1.7"/><ellipse cx="100.4" cy="432.6" rx="1.85" ry="1.7"/><ellipse cx="100.1" cy="448.3" rx="1.85" ry="1.7"/><ellipse cx="100.5" cy="433.9" rx="1.85" ry="1.7"/><ellipse cx="100.8" cy="432.7" rx="1.85" ry="1.7"/><ellipse cx="101.2" cy="434.0" rx="1.85" ry="1.7"/><ellipse cx="101.2" cy="436.6" rx="1.85" ry="1.7"/><ellipse cx="100.9" cy="432.2" rx="1.85" ry="1.7"/><ellipse cx="100.9" cy="440.4" rx="1.85" ry="1.7"/><ellipse cx="101.0" cy="440.8" rx="1.85" ry="1.7"/><ellipse cx="100.9" cy="438.4" rx="1.85" ry="1.7"/><ellipse cx="101.2" cy="434.2" rx="1.85" ry="1.7"/><ellipse cx="102.2" cy="440.8" rx="1.85" ry="1.7"/><ellipse cx="102.2" cy="442.4" rx="1.85" ry="1.7"/><ellipse cx="102.1" cy="434.8" rx="1.85" ry="1.7"/><ellipse cx="102.2" cy="446.4" rx="1.85" ry="1.7"/><ellipse cx="101.9" cy="436.5" rx="1.85" ry="1.7"/><ellipse cx="101.8" cy="448.7" rx="1.85" ry="1.7"/><ellipse cx="102.2" cy="450.2" rx="1.85" ry="1.7"/><ellipse cx="101.8" cy="432.8" rx="1.85" ry="1.7"/><ellipse cx="101.9" cy="444.7" rx="1.85" ry="1.7"/><ellipse cx="103.1" cy="432.2" rx="1.85" ry="1.7"/><ellipse cx="103.1" cy="438.7" rx="1.85" ry="1.7"/><ellipse cx="102.8" cy="432.7" rx="1.85" ry="1.7"/><ellipse cx="102.6" cy="443.9" rx="1.85" ry="1.7"/><ellipse cx="103.0" cy="434.2" rx="1.85" ry="1.7"/><ellipse cx="103.2" cy="448.4" rx="1.85" ry="1.7"/><ellipse cx="102.9" cy="432.5" rx="1.85" ry="1.7"/><ellipse cx="102.9" cy="445.4" rx="1.85" ry="1.7"/><ellipse cx="102.7" cy="443.9" rx="1.85" ry="1.7"/><ellipse cx="103.6" cy="431.7" rx="1.85" ry="1.7"/><ellipse cx="103.8" cy="431.0" rx="1.85" ry="1.7"/><ellipse cx="103.8" cy="440.5" rx="1.85" ry="1.7"/><ellipse cx="103.6" cy="433.2" rx="1.85" ry="1.7"/><ellipse cx="104.0" cy="434.4" rx="1.85" ry="1.7"/><ellipse cx="104.1" cy="450.0" rx="1.85" ry="1.7"/><ellipse cx="103.5" cy="432.2" rx="1.85" ry="1.7"/><ellipse cx="103.8" cy="449.2" rx="1.85" ry="1.7"/><ellipse cx="103.7" cy="445.5" rx="1.85" ry="1.7"/><ellipse cx="104.7" cy="439.6" rx="1.85" ry="1.7"/><ellipse cx="104.8" cy="438.9" rx="1.85" ry="1.7"/><ellipse cx="104.8" cy="430.6" rx="1.85" ry="1.7"/><ellipse cx="104.5" cy="447.1" rx="1.85" ry="1.7"/><ellipse cx="104.8" cy="439.4" rx="1.85" ry="1.7"/><ellipse cx="104.5" cy="438.4" rx="1.85" ry="1.7"/><ellipse cx="104.7" cy="433.6" rx="1.85" ry="1.7"/><ellipse cx="104.9" cy="430.7" rx="1.85" ry="1.7"/><ellipse cx="104.8" cy="446.2" rx="1.85" ry="1.7"/><ellipse cx="105.7" cy="447.4" rx="1.85" ry="1.7"/><ellipse cx="105.7" cy="438.4" rx="1.85" ry="1.7"/><ellipse cx="105.9" cy="440.4" rx="1.85" ry="1.7"/><ellipse cx="105.5" cy="446.3" rx="1.85" ry="1.7"/><ellipse cx="105.7" cy="448.4" rx="1.85" ry="1.7"/><ellipse cx="105.8" cy="445.8" rx="1.85" ry="1.7"/><ellipse cx="105.8" cy="438.4" rx="1.85" ry="1.7"/><ellipse cx="105.7" cy="447.8" rx="1.85" ry="1.7"/><ellipse cx="105.8" cy="445.6" rx="1.85" ry="1.7"/><ellipse cx="106.6" cy="438.5" rx="1.85" ry="1.7"/><ellipse cx="106.4" cy="431.9" rx="1.85" ry="1.7"/><ellipse cx="106.2" cy="439.7" rx="1.85" ry="1.7"/><ellipse cx="106.6" cy="437.5" rx="1.85" ry="1.7"/><ellipse cx="106.3" cy="442.7" rx="1.85" ry="1.7"/><ellipse cx="106.6" cy="449.0" rx="1.85" ry="1.7"/><ellipse cx="106.6" cy="437.1" rx="1.85" ry="1.7"/><ellipse cx="106.5" cy="441.7" rx="1.85" ry="1.7"/><ellipse cx="106.8" cy="438.2" rx="1.85" ry="1.7"/><ellipse cx="107.5" cy="443.1" rx="1.85" ry="1.7"/><ellipse cx="107.7" cy="445.4" rx="1.85" ry="1.7"/><ellipse cx="107.5" cy="431.0" rx="1.85" ry="1.7"/><ellipse cx="107.3" cy="445.0" rx="1.85" ry="1.7"/><ellipse cx="107.1" cy="438.4" rx="1.85" ry="1.7"/><ellipse cx="107.3" cy="434.4" rx="1.85" ry="1.7"/><ellipse cx="107.3" cy="432.5" rx="1.85" ry="1.7"/><ellipse cx="107.4" cy="448.2" rx="1.85" ry="1.7"/><ellipse cx="107.7" cy="440.5" rx="1.85" ry="1.7"/><ellipse cx="108.6" cy="441.7" rx="1.85" ry="1.7"/><ellipse cx="108.5" cy="443.0" rx="1.85" ry="1.7"/><ellipse cx="108.4" cy="432.1" rx="1.85" ry="1.7"/><ellipse cx="108.0" cy="445.4" rx="1.85" ry="1.7"/><ellipse cx="108.1" cy="448.7" rx="1.85" ry="1.7"/><ellipse cx="108.1" cy="439.8" rx="1.85" ry="1.7"/><ellipse cx="108.4" cy="440.3" rx="1.85" ry="1.7"/><ellipse cx="108.6" cy="431.8" rx="1.85" ry="1.7"/><ellipse cx="108.3" cy="438.8" rx="1.85" ry="1.7"/><ellipse cx="109.1" cy="442.3" rx="1.85" ry="1.7"/><ellipse cx="109.3" cy="436.2" rx="1.85" ry="1.7"/><ellipse cx="109.1" cy="441.5" rx="1.85" ry="1.7"/><ellipse cx="109.1" cy="444.6" rx="1.85" ry="1.7"/><ellipse cx="109.0" cy="431.0" rx="1.85" ry="1.7"/><ellipse cx="109.0" cy="431.6" rx="1.85" ry="1.7"/><ellipse cx="109.1" cy="445.3" rx="1.85" ry="1.7"/><ellipse cx="109.3" cy="448.0" rx="1.85" ry="1.7"/><ellipse cx="109.5" cy="431.7" rx="1.85" ry="1.7"/><ellipse cx="109.8" cy="448.9" rx="1.85" ry="1.7"/><ellipse cx="110.1" cy="448.2" rx="1.85" ry="1.7"/><ellipse cx="110.4" cy="440.0" rx="1.85" ry="1.7"/><ellipse cx="110.1" cy="435.5" rx="1.85" ry="1.7"/><ellipse cx="110.2" cy="448.8" rx="1.85" ry="1.7"/><ellipse cx="110.4" cy="439.8" rx="1.85" ry="1.7"/><ellipse cx="110.2" cy="446.5" rx="1.85" ry="1.7"/><ellipse cx="110.2" cy="433.0" rx="1.85" ry="1.7"/><ellipse cx="109.9" cy="439.5" rx="1.85" ry="1.7"/><ellipse cx="111.0" cy="431.8" rx="1.85" ry="1.7"/><ellipse cx="111.0" cy="433.2" rx="1.85" ry="1.7"/><ellipse cx="111.0" cy="443.6" rx="1.85" ry="1.7"/><ellipse cx="111.0" cy="435.8" rx="1.85" ry="1.7"/><ellipse cx="111.2" cy="438.9" rx="1.85" ry="1.7"/><ellipse cx="111.3" cy="441.0" rx="1.85" ry="1.7"/><ellipse cx="111.1" cy="449.0" rx="1.85" ry="1.7"/><ellipse cx="110.8" cy="435.4" rx="1.85" ry="1.7"/><ellipse cx="111.2" cy="447.9" rx="1.85" ry="1.7"/><ellipse cx="111.8" cy="442.8" rx="1.85" ry="1.7"/><ellipse cx="112.0" cy="436.0" rx="1.85" ry="1.7"/><ellipse cx="112.0" cy="441.6" rx="1.85" ry="1.7"/><ellipse cx="112.1" cy="442.9" rx="1.85" ry="1.7"/><ellipse cx="111.7" cy="434.5" rx="1.85" ry="1.7"/><ellipse cx="112.1" cy="449.5" rx="1.85" ry="1.7"/><ellipse cx="111.6" cy="447.6" rx="1.85" ry="1.7"/><ellipse cx="111.8" cy="432.0" rx="1.85" ry="1.7"/><ellipse cx="112.0" cy="439.0" rx="1.85" ry="1.7"/><ellipse cx="112.8" cy="432.9" rx="1.85" ry="1.7"/><ellipse cx="112.6" cy="432.3" rx="1.85" ry="1.7"/><ellipse cx="112.8" cy="443.7" rx="1.85" ry="1.7"/><ellipse cx="112.7" cy="442.9" rx="1.85" ry="1.7"/><ellipse cx="112.6" cy="440.0" rx="1.85" ry="1.7"/><ellipse cx="112.9" cy="437.4" rx="1.85" ry="1.7"/><ellipse cx="112.5" cy="446.8" rx="1.85" ry="1.7"/><ellipse cx="113.0" cy="433.2" rx="1.85" ry="1.7"/><ellipse cx="113.9" cy="442.7" rx="1.85" ry="1.7"/><ellipse cx="113.7" cy="435.0" rx="1.85" ry="1.7"/><ellipse cx="113.9" cy="435.8" rx="1.85" ry="1.7"/><ellipse cx="113.8" cy="437.9" rx="1.85" ry="1.7"/><ellipse cx="113.6" cy="449.6" rx="1.85" ry="1.7"/><ellipse cx="113.8" cy="441.3" rx="1.85" ry="1.7"/><ellipse cx="113.7" cy="448.3" rx="1.85" ry="1.7"/><ellipse cx="113.5" cy="437.9" rx="1.85" ry="1.7"/><ellipse cx="114.3" cy="447.4" rx="1.85" ry="1.7"/><ellipse cx="114.6" cy="432.5" rx="1.85" ry="1.7"/><ellipse cx="114.7" cy="440.1" rx="1.85" ry="1.7"/><ellipse cx="114.8" cy="436.6" rx="1.85" ry="1.7"/><ellipse cx="114.4" cy="432.4" rx="1.85" ry="1.7"/><ellipse cx="114.3" cy="443.4" rx="1.85" ry="1.7"/><ellipse cx="114.7" cy="436.7" rx="1.85" ry="1.7"/><ellipse cx="114.5" cy="444.0" rx="1.85" ry="1.7"/><ellipse cx="115.4" cy="433.7" rx="1.85" ry="1.7"/><ellipse cx="115.4" cy="444.6" rx="1.85" ry="1.7"/><ellipse cx="115.6" cy="433.2" rx="1.85" ry="1.7"/><ellipse cx="115.8" cy="441.7" rx="1.85" ry="1.7"/><ellipse cx="115.7" cy="448.6" rx="1.85" ry="1.7"/><ellipse cx="115.7" cy="439.2" rx="1.85" ry="1.7"/><ellipse cx="115.4" cy="436.7" rx="1.85" ry="1.7"/><ellipse cx="115.8" cy="438.5" rx="1.85" ry="1.7"/><ellipse cx="116.2" cy="447.7" rx="1.85" ry="1.7"/><ellipse cx="116.3" cy="437.8" rx="1.85" ry="1.7"/><ellipse cx="116.3" cy="437.8" rx="1.85" ry="1.7"/><ellipse cx="116.2" cy="438.3" rx="1.85" ry="1.7"/><ellipse cx="116.6" cy="441.6" rx="1.85" ry="1.7"/><ellipse cx="116.6" cy="441.1" rx="1.85" ry="1.7"/><ellipse cx="116.2" cy="441.5" rx="1.85" ry="1.7"/><ellipse cx="116.6" cy="445.2" rx="1.85" ry="1.7"/><ellipse cx="117.0" cy="436.3" rx="1.85" ry="1.7"/><ellipse cx="117.3" cy="440.7" rx="1.85" ry="1.7"/><ellipse cx="117.6" cy="441.6" rx="1.85" ry="1.7"/><ellipse cx="117.5" cy="443.2" rx="1.85" ry="1.7"/><ellipse cx="117.3" cy="432.3" rx="1.85" ry="1.7"/><ellipse cx="117.1" cy="445.7" rx="1.85" ry="1.7"/><ellipse cx="117.4" cy="432.6" rx="1.85" ry="1.7"/><ellipse cx="117.1" cy="447.8" rx="1.85" ry="1.7"/><ellipse cx="118.0" cy="442.8" rx="1.85" ry="1.7"/><ellipse cx="118.3" cy="444.9" rx="1.85" ry="1.7"/><ellipse cx="118.0" cy="435.7" rx="1.85" ry="1.7"/><ellipse cx="118.2" cy="445.3" rx="1.85" ry="1.7"/><ellipse cx="118.1" cy="445.2" rx="1.85" ry="1.7"/><ellipse cx="118.5" cy="437.4" rx="1.85" ry="1.7"/><ellipse cx="118.2" cy="443.5" rx="1.85" ry="1.7"/><ellipse cx="118.3" cy="441.0" rx="1.85" ry="1.7"/><ellipse cx="119.3" cy="444.2" rx="1.85" ry="1.7"/><ellipse cx="119.3" cy="438.7" rx="1.85" ry="1.7"/><ellipse cx="119.3" cy="443.4" rx="1.85" ry="1.7"/><ellipse cx="119.3" cy="446.0" rx="1.85" ry="1.7"/><ellipse cx="119.4" cy="447.5" rx="1.85" ry="1.7"/><ellipse cx="119.1" cy="442.9" rx="1.85" ry="1.7"/><ellipse cx="119.3" cy="444.2" rx="1.85" ry="1.7"/><ellipse cx="119.1" cy="438.9" rx="1.85" ry="1.7"/><ellipse cx="120.1" cy="433.9" rx="1.85" ry="1.7"/><ellipse cx="119.9" cy="449.3" rx="1.85" ry="1.7"/><ellipse cx="119.8" cy="434.3" rx="1.85" ry="1.7"/><ellipse cx="119.9" cy="439.0" rx="1.85" ry="1.7"/><ellipse cx="119.7" cy="448.9" rx="1.85" ry="1.7"/><ellipse cx="119.8" cy="436.8" rx="1.85" ry="1.7"/><ellipse cx="120.2" cy="443.1" rx="1.85" ry="1.7"/><ellipse cx="119.7" cy="434.5" rx="1.85" ry="1.7"/><ellipse cx="121.0" cy="439.6" rx="1.85" ry="1.7"/><ellipse cx="120.6" cy="447.8" rx="1.85" ry="1.7"/><ellipse cx="120.7" cy="433.2" rx="1.85" ry="1.7"/><ellipse cx="120.7" cy="435.2" rx="1.85" ry="1.7"/><ellipse cx="121.0" cy="444.3" rx="1.85" ry="1.7"/><ellipse cx="120.7" cy="435.3" rx="1.85" ry="1.7"/><ellipse cx="120.7" cy="436.4" rx="1.85" ry="1.7"/><ellipse cx="120.8" cy="445.1" rx="1.85" ry="1.7"/><ellipse cx="122.0" cy="441.2" rx="1.85" ry="1.7"/><ellipse cx="121.7" cy="440.0" rx="1.85" ry="1.7"/><ellipse cx="122.0" cy="447.4" rx="1.85" ry="1.7"/><ellipse cx="121.8" cy="437.5" rx="1.85" ry="1.7"/><ellipse cx="121.8" cy="448.7" rx="1.85" ry="1.7"/><ellipse cx="121.5" cy="435.3" rx="1.85" ry="1.7"/><ellipse cx="122.0" cy="448.5" rx="1.85" ry="1.7"/><ellipse cx="121.8" cy="438.3" rx="1.85" ry="1.7"/><ellipse cx="122.6" cy="440.6" rx="1.85" ry="1.7"/><ellipse cx="122.8" cy="449.3" rx="1.85" ry="1.7"/><ellipse cx="122.4" cy="435.6" rx="1.85" ry="1.7"/><ellipse cx="122.6" cy="439.9" rx="1.85" ry="1.7"/><ellipse cx="122.8" cy="445.7" rx="1.85" ry="1.7"/><ellipse cx="122.5" cy="442.3" rx="1.85" ry="1.7"/><ellipse cx="122.6" cy="434.1" rx="1.85" ry="1.7"/><ellipse cx="122.9" cy="436.0" rx="1.85" ry="1.7"/><ellipse cx="123.7" cy="440.7" rx="1.85" ry="1.7"/><ellipse cx="123.5" cy="449.3" rx="1.85" ry="1.7"/><ellipse cx="123.4" cy="441.0" rx="1.85" ry="1.7"/><ellipse cx="123.3" cy="445.3" rx="1.85" ry="1.7"/><ellipse cx="123.8" cy="446.2" rx="1.85" ry="1.7"/><ellipse cx="123.3" cy="446.2" rx="1.85" ry="1.7"/><ellipse cx="123.7" cy="436.2" rx="1.85" ry="1.7"/><ellipse cx="123.6" cy="433.1" rx="1.85" ry="1.7"/><ellipse cx="124.8" cy="439.8" rx="1.85" ry="1.7"/><ellipse cx="124.7" cy="441.9" rx="1.85" ry="1.7"/><ellipse cx="124.7" cy="436.8" rx="1.85" ry="1.7"/><ellipse cx="124.8" cy="438.9" rx="1.85" ry="1.7"/><ellipse cx="124.7" cy="433.0" rx="1.85" ry="1.7"/><ellipse cx="124.5" cy="435.1" rx="1.85" ry="1.7"/><ellipse cx="124.3" cy="440.8" rx="1.85" ry="1.7"/><ellipse cx="124.4" cy="446.4" rx="1.85" ry="1.7"/><ellipse cx="125.1" cy="437.0" rx="1.85" ry="1.7"/><ellipse cx="125.4" cy="436.9" rx="1.85" ry="1.7"/><ellipse cx="125.3" cy="444.2" rx="1.85" ry="1.7"/><ellipse cx="125.2" cy="443.7" rx="1.85" ry="1.7"/><ellipse cx="125.4" cy="438.5" rx="1.85" ry="1.7"/><ellipse cx="125.6" cy="448.8" rx="1.85" ry="1.7"/><ellipse cx="125.1" cy="443.1" rx="1.85" ry="1.7"/><ellipse cx="125.5" cy="438.2" rx="1.85" ry="1.7"/><ellipse cx="126.3" cy="435.7" rx="1.85" ry="1.7"/><ellipse cx="126.0" cy="439.6" rx="1.85" ry="1.7"/><ellipse cx="126.5" cy="449.2" rx="1.85" ry="1.7"/><ellipse cx="126.4" cy="435.1" rx="1.85" ry="1.7"/><ellipse cx="126.2" cy="436.6" rx="1.85" ry="1.7"/><ellipse cx="126.2" cy="441.1" rx="1.85" ry="1.7"/><ellipse cx="126.2" cy="437.4" rx="1.85" ry="1.7"/><ellipse cx="126.2" cy="443.4" rx="1.85" ry="1.7"/><ellipse cx="127.3" cy="435.0" rx="1.85" ry="1.7"/><ellipse cx="127.5" cy="437.3" rx="1.85" ry="1.7"/><ellipse cx="127.3" cy="441.5" rx="1.85" ry="1.7"/><ellipse cx="127.4" cy="437.4" rx="1.85" ry="1.7"/><ellipse cx="127.0" cy="433.1" rx="1.85" ry="1.7"/><ellipse cx="127.3" cy="433.1" rx="1.85" ry="1.7"/><ellipse cx="127.0" cy="444.1" rx="1.85" ry="1.7"/><ellipse cx="127.4" cy="438.6" rx="1.85" ry="1.7"/><ellipse cx="127.9" cy="442.0" rx="1.85" ry="1.7"/><ellipse cx="127.9" cy="435.5" rx="1.85" ry="1.7"/><ellipse cx="128.0" cy="433.7" rx="1.85" ry="1.7"/><ellipse cx="128.4" cy="432.7" rx="1.85" ry="1.7"/><ellipse cx="128.1" cy="439.1" rx="1.85" ry="1.7"/><ellipse cx="128.3" cy="443.0" rx="1.85" ry="1.7"/><ellipse cx="128.0" cy="446.1" rx="1.85" ry="1.7"/><ellipse cx="128.0" cy="437.4" rx="1.85" ry="1.7"/><ellipse cx="128.9" cy="431.7" rx="1.85" ry="1.7"/><ellipse cx="129.3" cy="443.9" rx="1.85" ry="1.7"/><ellipse cx="129.1" cy="445.5" rx="1.85" ry="1.7"/><ellipse cx="128.7" cy="442.3" rx="1.85" ry="1.7"/><ellipse cx="128.9" cy="437.4" rx="1.85" ry="1.7"/><ellipse cx="128.8" cy="443.1" rx="1.85" ry="1.7"/><ellipse cx="129.0" cy="438.2" rx="1.85" ry="1.7"/><ellipse cx="129.2" cy="445.5" rx="1.85" ry="1.7"/><ellipse cx="129.7" cy="442.4" rx="1.85" ry="1.7"/><ellipse cx="130.1" cy="445.1" rx="1.85" ry="1.7"/><ellipse cx="129.8" cy="441.2" rx="1.85" ry="1.7"/><ellipse cx="129.7" cy="440.4" rx="1.85" ry="1.7"/><ellipse cx="130.2" cy="444.2" rx="1.85" ry="1.7"/><ellipse cx="130.0" cy="440.7" rx="1.85" ry="1.7"/><ellipse cx="129.7" cy="446.3" rx="1.85" ry="1.7"/><ellipse cx="130.0" cy="448.3" rx="1.85" ry="1.7"/><ellipse cx="130.5" cy="435.0" rx="1.85" ry="1.7"/><ellipse cx="130.8" cy="435.9" rx="1.85" ry="1.7"/><ellipse cx="130.7" cy="443.9" rx="1.85" ry="1.7"/><ellipse cx="130.7" cy="448.0" rx="1.85" ry="1.7"/><ellipse cx="130.6" cy="439.7" rx="1.85" ry="1.7"/><ellipse cx="130.6" cy="448.8" rx="1.85" ry="1.7"/><ellipse cx="130.8" cy="447.5" rx="1.85" ry="1.7"/><ellipse cx="130.8" cy="441.5" rx="1.85" ry="1.7"/><ellipse cx="131.9" cy="436.2" rx="1.85" ry="1.7"/><ellipse cx="131.9" cy="449.1" rx="1.85" ry="1.7"/><ellipse cx="131.5" cy="442.2" rx="1.85" ry="1.7"/><ellipse cx="131.6" cy="446.1" rx="1.85" ry="1.7"/><ellipse cx="131.5" cy="447.4" rx="1.85" ry="1.7"/><ellipse cx="131.9" cy="441.7" rx="1.85" ry="1.7"/><ellipse cx="131.7" cy="434.8" rx="1.85" ry="1.7"/><ellipse cx="131.4" cy="432.9" rx="1.85" ry="1.7"/><ellipse cx="132.9" cy="434.7" rx="1.85" ry="1.7"/><ellipse cx="132.7" cy="448.1" rx="1.85" ry="1.7"/><ellipse cx="132.7" cy="437.0" rx="1.85" ry="1.7"/><ellipse cx="132.5" cy="444.6" rx="1.85" ry="1.7"/><ellipse cx="132.8" cy="442.0" rx="1.85" ry="1.7"/><ellipse cx="132.4" cy="431.9" rx="1.85" ry="1.7"/><ellipse cx="132.4" cy="439.8" rx="1.85" ry="1.7"/><ellipse cx="132.6" cy="438.4" rx="1.85" ry="1.7"/><ellipse cx="133.5" cy="434.7" rx="1.85" ry="1.7"/><ellipse cx="133.5" cy="436.2" rx="1.85" ry="1.7"/><ellipse cx="133.6" cy="437.4" rx="1.85" ry="1.7"/><ellipse cx="133.6" cy="432.3" rx="1.85" ry="1.7"/><ellipse cx="133.8" cy="434.1" rx="1.85" ry="1.7"/><ellipse cx="133.5" cy="442.1" rx="1.85" ry="1.7"/><ellipse cx="133.6" cy="438.8" rx="1.85" ry="1.7"/><ellipse cx="133.7" cy="443.7" rx="1.85" ry="1.7"/><ellipse cx="134.4" cy="444.8" rx="1.85" ry="1.7"/><ellipse cx="134.6" cy="449.0" rx="1.85" ry="1.7"/><ellipse cx="134.3" cy="446.6" rx="1.85" ry="1.7"/><ellipse cx="134.4" cy="439.2" rx="1.85" ry="1.7"/><ellipse cx="134.4" cy="447.5" rx="1.85" ry="1.7"/><ellipse cx="134.4" cy="440.8" rx="1.85" ry="1.7"/><ellipse cx="134.3" cy="447.5" rx="1.85" ry="1.7"/><ellipse cx="134.5" cy="432.6" rx="1.85" ry="1.7"/><ellipse cx="135.4" cy="447.4" rx="1.85" ry="1.7"/><ellipse cx="135.5" cy="442.1" rx="1.85" ry="1.7"/><ellipse cx="135.4" cy="437.0" rx="1.85" ry="1.7"/><ellipse cx="135.1" cy="432.9" rx="1.85" ry="1.7"/><ellipse cx="135.3" cy="439.5" rx="1.85" ry="1.7"/><ellipse cx="135.0" cy="438.6" rx="1.85" ry="1.7"/><ellipse cx="135.3" cy="443.8" rx="1.85" ry="1.7"/><ellipse cx="135.2" cy="435.8" rx="1.85" ry="1.7"/><ellipse cx="136.0" cy="438.6" rx="1.85" ry="1.7"/><ellipse cx="136.4" cy="432.9" rx="1.85" ry="1.7"/><ellipse cx="136.3" cy="448.5" rx="1.85" ry="1.7"/><ellipse cx="136.2" cy="446.8" rx="1.85" ry="1.7"/><ellipse cx="136.0" cy="445.7" rx="1.85" ry="1.7"/><ellipse cx="136.2" cy="444.7" rx="1.85" ry="1.7"/><ellipse cx="136.0" cy="447.4" rx="1.85" ry="1.7"/><ellipse cx="136.0" cy="445.5" rx="1.85" ry="1.7"/><ellipse cx="137.4" cy="441.0" rx="1.85" ry="1.7"/><ellipse cx="136.9" cy="431.7" rx="1.85" ry="1.7"/><ellipse cx="137.0" cy="436.9" rx="1.85" ry="1.7"/><ellipse cx="137.3" cy="432.8" rx="1.85" ry="1.7"/><ellipse cx="137.0" cy="445.9" rx="1.85" ry="1.7"/><ellipse cx="137.2" cy="437.9" rx="1.85" ry="1.7"/><ellipse cx="136.8" cy="432.5" rx="1.85" ry="1.7"/><ellipse cx="137.0" cy="447.3" rx="1.85" ry="1.7"/><ellipse cx="138.3" cy="440.4" rx="1.85" ry="1.7"/><ellipse cx="138.0" cy="448.7" rx="1.85" ry="1.7"/><ellipse cx="137.9" cy="435.3" rx="1.85" ry="1.7"/><ellipse cx="138.2" cy="447.7" rx="1.85" ry="1.7"/><ellipse cx="138.2" cy="435.1" rx="1.85" ry="1.7"/><ellipse cx="138.0" cy="437.9" rx="1.85" ry="1.7"/><ellipse cx="138.2" cy="434.7" rx="1.85" ry="1.7"/><ellipse cx="137.8" cy="449.0" rx="1.85" ry="1.7"/><ellipse cx="138.7" cy="442.7" rx="1.85" ry="1.7"/><ellipse cx="138.6" cy="447.0" rx="1.85" ry="1.7"/><ellipse cx="139.0" cy="433.6" rx="1.85" ry="1.7"/><ellipse cx="139.1" cy="437.2" rx="1.85" ry="1.7"/><ellipse cx="139.0" cy="446.8" rx="1.85" ry="1.7"/><ellipse cx="139.0" cy="434.1" rx="1.85" ry="1.7"/><ellipse cx="138.9" cy="448.0" rx="1.85" ry="1.7"/><ellipse cx="138.7" cy="433.1" rx="1.85" ry="1.7"/><ellipse cx="139.9" cy="437.1" rx="1.85" ry="1.7"/><ellipse cx="139.6" cy="435.2" rx="1.85" ry="1.7"/><ellipse cx="139.9" cy="435.8" rx="1.85" ry="1.7"/><ellipse cx="139.7" cy="445.4" rx="1.85" ry="1.7"/><ellipse cx="140.0" cy="443.2" rx="1.85" ry="1.7"/><ellipse cx="139.6" cy="441.9" rx="1.85" ry="1.7"/><ellipse cx="140.1" cy="437.0" rx="1.85" ry="1.7"/><ellipse cx="139.7" cy="443.3" rx="1.85" ry="1.7"/><ellipse cx="140.5" cy="442.8" rx="1.85" ry="1.7"/><ellipse cx="140.7" cy="448.6" rx="1.85" ry="1.7"/><ellipse cx="140.7" cy="440.9" rx="1.85" ry="1.7"/><ellipse cx="140.8" cy="432.6" rx="1.85" ry="1.7"/><ellipse cx="140.6" cy="436.7" rx="1.85" ry="1.7"/><ellipse cx="140.5" cy="445.6" rx="1.85" ry="1.7"/><ellipse cx="140.9" cy="436.7" rx="1.85" ry="1.7"/><ellipse cx="140.6" cy="436.0" rx="1.85" ry="1.7"/><ellipse cx="141.4" cy="441.2" rx="1.85" ry="1.7"/><ellipse cx="141.9" cy="447.1" rx="1.85" ry="1.7"/><ellipse cx="141.6" cy="432.5" rx="1.85" ry="1.7"/><ellipse cx="141.5" cy="444.6" rx="1.85" ry="1.7"/><ellipse cx="141.6" cy="447.6" rx="1.85" ry="1.7"/><ellipse cx="141.6" cy="435.0" rx="1.85" ry="1.7"/><ellipse cx="141.5" cy="442.8" rx="1.85" ry="1.7"/><ellipse cx="141.8" cy="443.1" rx="1.85" ry="1.7"/><ellipse cx="142.5" cy="440.6" rx="1.85" ry="1.7"/><ellipse cx="142.6" cy="446.2" rx="1.85" ry="1.7"/><ellipse cx="142.8" cy="440.7" rx="1.85" ry="1.7"/><ellipse cx="142.7" cy="434.9" rx="1.85" ry="1.7"/><ellipse cx="142.6" cy="434.7" rx="1.85" ry="1.7"/><ellipse cx="142.5" cy="435.9" rx="1.85" ry="1.7"/><ellipse cx="142.7" cy="444.9" rx="1.85" ry="1.7"/><ellipse cx="142.3" cy="445.2" rx="1.85" ry="1.7"/><ellipse cx="143.2" cy="440.2" rx="1.85" ry="1.7"/><ellipse cx="143.4" cy="441.7" rx="1.85" ry="1.7"/><ellipse cx="143.5" cy="432.6" rx="1.85" ry="1.7"/><ellipse cx="143.4" cy="443.9" rx="1.85" ry="1.7"/><ellipse cx="143.2" cy="446.5" rx="1.85" ry="1.7"/><ellipse cx="143.1" cy="434.6" rx="1.85" ry="1.7"/><ellipse cx="143.4" cy="440.3" rx="1.85" ry="1.7"/><ellipse cx="143.3" cy="439.4" rx="1.85" ry="1.7"/><ellipse cx="144.0" cy="445.3" rx="1.85" ry="1.7"/><ellipse cx="144.3" cy="447.0" rx="1.85" ry="1.7"/><ellipse cx="144.5" cy="441.0" rx="1.85" ry="1.7"/><ellipse cx="144.1" cy="436.0" rx="1.85" ry="1.7"/><ellipse cx="144.0" cy="437.2" rx="1.85" ry="1.7"/><ellipse cx="144.4" cy="437.3" rx="1.85" ry="1.7"/><ellipse cx="144.2" cy="440.8" rx="1.85" ry="1.7"/><ellipse cx="144.1" cy="441.8" rx="1.85" ry="1.7"/><ellipse cx="145.0" cy="445.6" rx="1.85" ry="1.7"/><ellipse cx="145.0" cy="436.3" rx="1.85" ry="1.7"/><ellipse cx="145.4" cy="443.4" rx="1.85" ry="1.7"/><ellipse cx="144.9" cy="445.0" rx="1.85" ry="1.7"/><ellipse cx="145.1" cy="438.9" rx="1.85" ry="1.7"/><ellipse cx="145.5" cy="435.7" rx="1.85" ry="1.7"/><ellipse cx="145.2" cy="432.9" rx="1.85" ry="1.7"/><ellipse cx="145.5" cy="444.6" rx="1.85" ry="1.7"/><ellipse cx="146.1" cy="434.6" rx="1.85" ry="1.7"/><ellipse cx="145.8" cy="444.3" rx="1.85" ry="1.7"/><ellipse cx="146.3" cy="436.1" rx="1.85" ry="1.7"/><ellipse cx="146.0" cy="434.5" rx="1.85" ry="1.7"/><ellipse cx="146.1" cy="437.0" rx="1.85" ry="1.7"/><ellipse cx="145.8" cy="433.5" rx="1.85" ry="1.7"/><ellipse cx="146.3" cy="448.3" rx="1.85" ry="1.7"/><ellipse cx="146.8" cy="444.0" rx="1.85" ry="1.7"/><ellipse cx="147.0" cy="436.3" rx="1.85" ry="1.7"/><ellipse cx="147.0" cy="436.2" rx="1.85" ry="1.7"/><ellipse cx="146.9" cy="447.2" rx="1.85" ry="1.7"/><ellipse cx="147.3" cy="437.7" rx="1.85" ry="1.7"/><ellipse cx="146.7" cy="442.1" rx="1.85" ry="1.7"/><ellipse cx="147.1" cy="438.7" rx="1.85" ry="1.7"/><ellipse cx="147.8" cy="433.3" rx="1.85" ry="1.7"/><ellipse cx="148.1" cy="443.4" rx="1.85" ry="1.7"/><ellipse cx="148.1" cy="441.7" rx="1.85" ry="1.7"/><ellipse cx="147.8" cy="439.7" rx="1.85" ry="1.7"/><ellipse cx="147.8" cy="445.7" rx="1.85" ry="1.7"/><ellipse cx="147.7" cy="444.7" rx="1.85" ry="1.7"/><ellipse cx="147.7" cy="437.9" rx="1.85" ry="1.7"/><ellipse cx="148.6" cy="441.0" rx="1.85" ry="1.7"/><ellipse cx="148.6" cy="435.6" rx="1.85" ry="1.7"/><ellipse cx="148.7" cy="439.8" rx="1.85" ry="1.7"/><ellipse cx="149.1" cy="439.4" rx="1.85" ry="1.7"/><ellipse cx="149.0" cy="443.1" rx="1.85" ry="1.7"/><ellipse cx="148.7" cy="435.6" rx="1.85" ry="1.7"/><ellipse cx="148.9" cy="433.6" rx="1.85" ry="1.7"/><ellipse cx="149.6" cy="438.1" rx="1.85" ry="1.7"/><ellipse cx="149.5" cy="432.8" rx="1.85" ry="1.7"/><ellipse cx="149.6" cy="436.6" rx="1.85" ry="1.7"/><ellipse cx="149.8" cy="446.8" rx="1.85" ry="1.7"/><ellipse cx="149.6" cy="436.7" rx="1.85" ry="1.7"/><ellipse cx="150.0" cy="434.9" rx="1.85" ry="1.7"/><ellipse cx="149.9" cy="438.1" rx="1.85" ry="1.7"/><ellipse cx="150.8" cy="443.6" rx="1.85" ry="1.7"/><ellipse cx="150.5" cy="432.9" rx="1.85" ry="1.7"/><ellipse cx="150.3" cy="438.5" rx="1.85" ry="1.7"/><ellipse cx="150.5" cy="446.1" rx="1.85" ry="1.7"/><ellipse cx="150.6" cy="444.4" rx="1.85" ry="1.7"/><ellipse cx="150.5" cy="433.4" rx="1.85" ry="1.7"/><ellipse cx="150.3" cy="436.2" rx="1.85" ry="1.7"/><ellipse cx="151.6" cy="435.0" rx="1.85" ry="1.7"/><ellipse cx="151.4" cy="433.3" rx="1.85" ry="1.7"/><ellipse cx="151.5" cy="439.1" rx="1.85" ry="1.7"/><ellipse cx="151.6" cy="434.8" rx="1.85" ry="1.7"/><ellipse cx="151.6" cy="436.6" rx="1.85" ry="1.7"/><ellipse cx="151.3" cy="442.7" rx="1.85" ry="1.7"/><ellipse cx="151.4" cy="435.8" rx="1.85" ry="1.7"/><ellipse cx="152.3" cy="443.2" rx="1.85" ry="1.7"/><ellipse cx="152.6" cy="438.5" rx="1.85" ry="1.7"/><ellipse cx="152.3" cy="436.2" rx="1.85" ry="1.7"/><ellipse cx="152.2" cy="437.9" rx="1.85" ry="1.7"/><ellipse cx="152.1" cy="433.5" rx="1.85" ry="1.7"/><ellipse cx="152.4" cy="442.1" rx="1.85" ry="1.7"/><ellipse cx="152.7" cy="444.6" rx="1.85" ry="1.7"/><ellipse cx="153.4" cy="437.3" rx="1.85" ry="1.7"/><ellipse cx="153.1" cy="446.0" rx="1.85" ry="1.7"/><ellipse cx="153.4" cy="442.8" rx="1.85" ry="1.7"/><ellipse cx="153.5" cy="446.5" rx="1.85" ry="1.7"/><ellipse cx="153.4" cy="436.4" rx="1.85" ry="1.7"/><ellipse cx="153.3" cy="434.4" rx="1.85" ry="1.7"/><ellipse cx="153.0" cy="438.6" rx="1.85" ry="1.7"/><ellipse cx="154.1" cy="438.5" rx="1.85" ry="1.7"/><ellipse cx="154.1" cy="440.1" rx="1.85" ry="1.7"/><ellipse cx="154.1" cy="435.5" rx="1.85" ry="1.7"/><ellipse cx="154.0" cy="439.8" rx="1.85" ry="1.7"/><ellipse cx="154.0" cy="442.4" rx="1.85" ry="1.7"/><ellipse cx="154.1" cy="434.6" rx="1.85" ry="1.7"/><ellipse cx="154.0" cy="439.1" rx="1.85" ry="1.7"/><ellipse cx="155.2" cy="441.2" rx="1.85" ry="1.7"/><ellipse cx="155.2" cy="440.8" rx="1.85" ry="1.7"/><ellipse cx="155.0" cy="433.8" rx="1.85" ry="1.7"/><ellipse cx="154.8" cy="438.3" rx="1.85" ry="1.7"/><ellipse cx="154.8" cy="438.8" rx="1.85" ry="1.7"/><ellipse cx="155.2" cy="440.0" rx="1.85" ry="1.7"/><ellipse cx="155.9" cy="439.7" rx="1.85" ry="1.7"/><ellipse cx="155.7" cy="436.9" rx="1.85" ry="1.7"/><ellipse cx="156.2" cy="438.1" rx="1.85" ry="1.7"/><ellipse cx="155.9" cy="440.9" rx="1.85" ry="1.7"/><ellipse cx="155.8" cy="442.2" rx="1.85" ry="1.7"/><ellipse cx="156.1" cy="439.7" rx="1.85" ry="1.7"/><ellipse cx="156.8" cy="445.7" rx="1.85" ry="1.7"/><ellipse cx="157.2" cy="441.0" rx="1.85" ry="1.7"/><ellipse cx="157.0" cy="443.4" rx="1.85" ry="1.7"/><ellipse cx="156.8" cy="441.5" rx="1.85" ry="1.7"/><ellipse cx="156.8" cy="439.0" rx="1.85" ry="1.7"/><ellipse cx="157.1" cy="444.1" rx="1.85" ry="1.7"/><ellipse cx="158.0" cy="438.6" rx="1.85" ry="1.7"/><ellipse cx="157.6" cy="434.4" rx="1.85" ry="1.7"/><ellipse cx="157.7" cy="440.1" rx="1.85" ry="1.7"/><ellipse cx="158.1" cy="438.3" rx="1.85" ry="1.7"/><ellipse cx="157.6" cy="435.8" rx="1.85" ry="1.7"/><ellipse cx="157.9" cy="436.7" rx="1.85" ry="1.7"/><ellipse cx="158.4" cy="437.1" rx="1.85" ry="1.7"/><ellipse cx="158.6" cy="440.5" rx="1.85" ry="1.7"/><ellipse cx="158.7" cy="437.2" rx="1.85" ry="1.7"/><ellipse cx="158.7" cy="441.6" rx="1.85" ry="1.7"/><ellipse cx="158.7" cy="441.4" rx="1.85" ry="1.7"/><ellipse cx="159.0" cy="443.6" rx="1.85" ry="1.7"/><ellipse cx="159.5" cy="438.4" rx="1.85" ry="1.7"/><ellipse cx="159.5" cy="443.7" rx="1.85" ry="1.7"/><ellipse cx="159.7" cy="442.1" rx="1.85" ry="1.7"/><ellipse cx="159.9" cy="441.8" rx="1.85" ry="1.7"/><ellipse cx="159.4" cy="443.1" rx="1.85" ry="1.7"/><ellipse cx="160.5" cy="441.0" rx="1.85" ry="1.7"/><ellipse cx="160.4" cy="440.5" rx="1.85" ry="1.7"/><ellipse cx="160.6" cy="438.3" rx="1.85" ry="1.7"/><ellipse cx="160.3" cy="440.3" rx="1.85" ry="1.7"/><ellipse cx="160.4" cy="438.0" rx="1.85" ry="1.7"/><ellipse cx="161.4" cy="437.8" rx="1.85" ry="1.7"/><ellipse cx="161.1" cy="437.5" rx="1.85" ry="1.7"/><ellipse cx="161.2" cy="437.1" rx="1.85" ry="1.7"/><ellipse cx="161.2" cy="441.4" rx="1.85" ry="1.7"/></g>
<defs><clipPath id="c1"><ellipse cx="346.4" cy="359.7" rx="27.6" ry="29.3"/></clipPath><clipPath id="c2"><ellipse cx="435" cy="359.4" rx="29.5" ry="30.9"/></clipPath><clipPath id="c3"><ellipse cx="524.2" cy="359.7" rx="29.2" ry="31.2"/></clipPath><clipPath id="c4"><ellipse cx="346.8" cy="451.6" rx="28" ry="29"/></clipPath></defs>
<rect x="304.5" y="310.5" width="85.6" height="87.3" fill="#000"/>
<rect x="393.6" y="310.5" width="85.6" height="87.3" fill="#000"/>
<rect x="482.4" y="310.5" width="85.0" height="87.3" fill="#000"/>
<rect x="304.7" y="402.6" width="85.6" height="87.3" fill="#000"/>
<rect x="393.6" y="402.6" width="85.6" height="87.3" fill="#000"/>
<rect x="482.4" y="402.6" width="85.0" height="87.3" fill="#000"/>
<defs><filter id="soft" x="-10%" y="-10%" width="120%" height="120%"><feGaussianBlur stdDeviation="0.45"/></filter></defs>
<g filter="url(#soft)"><ellipse cx="346.4" cy="359.7" rx="27.4" ry="29.2" fill="#48f82c"/>
<g clip-path="url(#c1)" opacity="0.5"><rect x="363.3" y="379.9" width="2" height="2" fill="#30f890"/><rect x="345.8" y="380.3" width="2" height="2" fill="#70f040"/><rect x="329.7" y="362.8" width="2" height="2" fill="#90ff18"/><rect x="350.3" y="362.4" width="2" height="2" fill="#70f040"/><rect x="324.4" y="370.2" width="2" height="2" fill="#30f890"/><rect x="341.6" y="345.4" width="2" height="2" fill="#90ff18"/><rect x="339.0" y="354.6" width="2" height="2" fill="#40ff60"/><rect x="350.7" y="360.6" width="2" height="2" fill="#20e8a0"/><rect x="372.3" y="361.3" width="2" height="2" fill="#b0f810"/><rect x="350.1" y="378.3" width="2" height="2" fill="#30f890"/><rect x="322.6" y="355.3" width="2" height="2" fill="#70f040"/><rect x="331.1" y="354.1" width="2" height="2" fill="#b0f810"/><rect x="350.0" y="379.2" width="2" height="2" fill="#40ff60"/><rect x="362.3" y="351.3" width="2" height="2" fill="#20e8a0"/><rect x="354.1" y="355.3" width="2" height="2" fill="#b0f810"/><rect x="372.0" y="358.4" width="2" height="2" fill="#30f890"/><rect x="345.3" y="332.0" width="2" height="2" fill="#b0f810"/><rect x="319.3" y="359.6" width="2" height="2" fill="#20e8a0"/><rect x="357.3" y="338.7" width="2" height="2" fill="#40ff60"/><rect x="340.6" y="387.9" width="2" height="2" fill="#70f040"/><rect x="357.5" y="342.6" width="2" height="2" fill="#20e8a0"/><rect x="358.0" y="343.5" width="2" height="2" fill="#b0f810"/><rect x="351.6" y="341.7" width="2" height="2" fill="#90ff18"/><rect x="329.0" y="380.1" width="2" height="2" fill="#b0f810"/><rect x="345.8" y="351.1" width="2" height="2" fill="#b0f810"/><rect x="322.1" y="358.3" width="2" height="2" fill="#20e8a0"/><rect x="355.4" y="344.6" width="2" height="2" fill="#b0f810"/><rect x="352.1" y="360.8" width="2" height="2" fill="#b0f810"/><rect x="358.9" y="341.0" width="2" height="2" fill="#20e8a0"/><rect x="337.5" y="367.2" width="2" height="2" fill="#20e8a0"/><rect x="346.8" y="362.9" width="2" height="2" fill="#90ff18"/><rect x="321.6" y="353.0" width="2" height="2" fill="#90ff18"/><rect x="333.0" y="369.4" width="2" height="2" fill="#20e8a0"/><rect x="330.5" y="382.0" width="2" height="2" fill="#b0f810"/><rect x="320.6" y="351.2" width="2" height="2" fill="#30f890"/><rect x="327.4" y="377.8" width="2" height="2" fill="#b0f810"/><rect x="336.5" y="358.9" width="2" height="2" fill="#20e8a0"/><rect x="353.8" y="387.1" width="2" height="2" fill="#70f040"/><rect x="360.7" y="343.6" width="2" height="2" fill="#90ff18"/><rect x="362.9" y="352.9" width="2" height="2" fill="#40ff60"/><rect x="345.5" y="360.3" width="2" height="2" fill="#20e8a0"/><rect x="331.0" y="343.6" width="2" height="2" fill="#70f040"/><rect x="326.4" y="344.3" width="2" height="2" fill="#b0f810"/><rect x="355.7" y="379.8" width="2" height="2" fill="#30f890"/><rect x="353.8" y="334.7" width="2" height="2" fill="#40ff60"/><rect x="372.7" y="365.5" width="2" height="2" fill="#30f890"/><rect x="349.5" y="361.6" width="2" height="2" fill="#30f890"/><rect x="346.8" y="344.2" width="2" height="2" fill="#40ff60"/><rect x="363.3" y="374.4" width="2" height="2" fill="#40ff60"/><rect x="343.6" y="371.3" width="2" height="2" fill="#40ff60"/><rect x="335.2" y="357.6" width="2" height="2" fill="#40ff60"/><rect x="337.5" y="346.9" width="2" height="2" fill="#b0f810"/><rect x="338.1" y="377.8" width="2" height="2" fill="#30f890"/><rect x="340.3" y="375.6" width="2" height="2" fill="#90ff18"/><rect x="345.7" y="374.4" width="2" height="2" fill="#b0f810"/><rect x="333.8" y="358.8" width="2" height="2" fill="#20e8a0"/><rect x="321.6" y="371.7" width="2" height="2" fill="#90ff18"/><rect x="356.9" y="361.0" width="2" height="2" fill="#b0f810"/><rect x="364.2" y="354.8" width="2" height="2" fill="#20e8a0"/><rect x="337.5" y="340.2" width="2" height="2" fill="#90ff18"/><rect x="368.1" y="356.3" width="2" height="2" fill="#b0f810"/><rect x="333.4" y="358.3" width="2" height="2" fill="#b0f810"/><rect x="368.7" y="364.3" width="2" height="2" fill="#40ff60"/><rect x="336.7" y="343.6" width="2" height="2" fill="#b0f810"/><rect x="338.2" y="387.2" width="2" height="2" fill="#30f890"/><rect x="337.5" y="385.2" width="2" height="2" fill="#40ff60"/><rect x="359.5" y="351.7" width="2" height="2" fill="#90ff18"/><rect x="334.4" y="367.1" width="2" height="2" fill="#30f890"/><rect x="322.8" y="349.6" width="2" height="2" fill="#20e8a0"/><rect x="357.8" y="333.6" width="2" height="2" fill="#20e8a0"/><rect x="322.0" y="366.2" width="2" height="2" fill="#b0f810"/><rect x="342.6" y="355.7" width="2" height="2" fill="#90ff18"/><rect x="339.2" y="370.6" width="2" height="2" fill="#b0f810"/><rect x="363.3" y="346.1" width="2" height="2" fill="#70f040"/><rect x="364.2" y="374.3" width="2" height="2" fill="#40ff60"/><rect x="342.8" y="359.6" width="2" height="2" fill="#20e8a0"/><rect x="364.5" y="339.6" width="2" height="2" fill="#30f890"/><rect x="360.5" y="382.3" width="2" height="2" fill="#20e8a0"/><rect x="349.7" y="343.0" width="2" height="2" fill="#90ff18"/><rect x="345.5" y="368.7" width="2" height="2" fill="#70f040"/><rect x="361.1" y="352.6" width="2" height="2" fill="#b0f810"/><rect x="322.8" y="354.2" width="2" height="2" fill="#20e8a0"/><rect x="348.7" y="384.5" width="2" height="2" fill="#30f890"/><rect x="354.0" y="368.6" width="2" height="2" fill="#20e8a0"/><rect x="351.9" y="384.5" width="2" height="2" fill="#20e8a0"/><rect x="332.5" y="359.2" width="2" height="2" fill="#40ff60"/><rect x="338.4" y="373.0" width="2" height="2" fill="#20e8a0"/><rect x="350.7" y="335.3" width="2" height="2" fill="#70f040"/><rect x="359.9" y="376.0" width="2" height="2" fill="#30f890"/><rect x="338.8" y="376.6" width="2" height="2" fill="#70f040"/><rect x="362.7" y="340.3" width="2" height="2" fill="#90ff18"/><rect x="334.7" y="379.0" width="2" height="2" fill="#70f040"/><rect x="364.5" y="369.8" width="2" height="2" fill="#20e8a0"/><rect x="358.8" y="367.1" width="2" height="2" fill="#40ff60"/><rect x="322.0" y="348.6" width="2" height="2" fill="#70f040"/><rect x="353.6" y="353.9" width="2" height="2" fill="#30f890"/><rect x="347.8" y="356.8" width="2" height="2" fill="#b0f810"/><rect x="364.1" y="361.4" width="2" height="2" fill="#30f890"/><rect x="355.7" y="383.7" width="2" height="2" fill="#20e8a0"/><rect x="338.1" y="364.4" width="2" height="2" fill="#90ff18"/><rect x="341.8" y="349.1" width="2" height="2" fill="#30f890"/><rect x="321.5" y="371.1" width="2" height="2" fill="#20e8a0"/><rect x="359.0" y="351.1" width="2" height="2" fill="#40ff60"/><rect x="342.7" y="343.7" width="2" height="2" fill="#90ff18"/><rect x="343.2" y="354.9" width="2" height="2" fill="#30f890"/><rect x="352.5" y="332.3" width="2" height="2" fill="#b0f810"/><rect x="331.2" y="348.5" width="2" height="2" fill="#40ff60"/><rect x="340.8" y="364.1" width="2" height="2" fill="#40ff60"/><rect x="373.1" y="354.3" width="2" height="2" fill="#30f890"/><rect x="346.4" y="385.7" width="2" height="2" fill="#20e8a0"/><rect x="359.1" y="344.9" width="2" height="2" fill="#40ff60"/><rect x="345.2" y="381.2" width="2" height="2" fill="#40ff60"/><rect x="351.6" y="376.4" width="2" height="2" fill="#40ff60"/><rect x="366.7" y="373.2" width="2" height="2" fill="#30f890"/><rect x="333.6" y="340.5" width="2" height="2" fill="#90ff18"/><rect x="334.6" y="370.0" width="2" height="2" fill="#40ff60"/><rect x="355.9" y="383.8" width="2" height="2" fill="#20e8a0"/><rect x="358.3" y="349.7" width="2" height="2" fill="#40ff60"/><rect x="363.8" y="373.3" width="2" height="2" fill="#20e8a0"/><rect x="357.2" y="367.2" width="2" height="2" fill="#90ff18"/><rect x="334.7" y="368.5" width="2" height="2" fill="#30f890"/><rect x="345.9" y="355.4" width="2" height="2" fill="#30f890"/><rect x="340.2" y="384.9" width="2" height="2" fill="#70f040"/><rect x="321.3" y="365.0" width="2" height="2" fill="#30f890"/><rect x="321.8" y="359.5" width="2" height="2" fill="#30f890"/><rect x="323.9" y="358.3" width="2" height="2" fill="#90ff18"/><rect x="350.9" y="331.0" width="2" height="2" fill="#40ff60"/><rect x="338.4" y="382.9" width="2" height="2" fill="#20e8a0"/><rect x="339.4" y="386.4" width="2" height="2" fill="#90ff18"/><rect x="323.9" y="352.7" width="2" height="2" fill="#40ff60"/><rect x="355.8" y="338.8" width="2" height="2" fill="#b0f810"/><rect x="367.5" y="344.9" width="2" height="2" fill="#b0f810"/><rect x="358.9" y="358.6" width="2" height="2" fill="#40ff60"/><rect x="336.4" y="364.5" width="2" height="2" fill="#b0f810"/><rect x="355.3" y="348.6" width="2" height="2" fill="#30f890"/><rect x="338.8" y="341.9" width="2" height="2" fill="#70f040"/><rect x="327.1" y="353.1" width="2" height="2" fill="#20e8a0"/><rect x="329.8" y="365.0" width="2" height="2" fill="#40ff60"/><rect x="355.5" y="377.7" width="2" height="2" fill="#b0f810"/><rect x="371.3" y="347.8" width="2" height="2" fill="#30f890"/><rect x="361.6" y="366.4" width="2" height="2" fill="#90ff18"/><rect x="337.9" y="353.7" width="2" height="2" fill="#40ff60"/><rect x="332.4" y="370.8" width="2" height="2" fill="#20e8a0"/><rect x="362.7" y="370.6" width="2" height="2" fill="#90ff18"/><rect x="327.2" y="356.0" width="2" height="2" fill="#b0f810"/><rect x="369.8" y="346.2" width="2" height="2" fill="#b0f810"/><rect x="344.8" y="345.5" width="2" height="2" fill="#70f040"/><rect x="336.0" y="333.3" width="2" height="2" fill="#b0f810"/><rect x="328.8" y="371.2" width="2" height="2" fill="#b0f810"/><rect x="359.0" y="352.1" width="2" height="2" fill="#b0f810"/><rect x="351.5" y="387.3" width="2" height="2" fill="#20e8a0"/><rect x="336.2" y="345.6" width="2" height="2" fill="#20e8a0"/><rect x="349.0" y="332.3" width="2" height="2" fill="#40ff60"/><rect x="341.8" y="375.0" width="2" height="2" fill="#20e8a0"/><rect x="330.4" y="377.4" width="2" height="2" fill="#b0f810"/><rect x="338.6" y="361.6" width="2" height="2" fill="#30f890"/><rect x="367.9" y="342.3" width="2" height="2" fill="#20e8a0"/><rect x="338.6" y="367.8" width="2" height="2" fill="#70f040"/><rect x="350.6" y="381.4" width="2" height="2" fill="#30f890"/><rect x="329.1" y="360.3" width="2" height="2" fill="#b0f810"/><rect x="335.0" y="376.9" width="2" height="2" fill="#90ff18"/><rect x="319.9" y="351.7" width="2" height="2" fill="#20e8a0"/><rect x="371.0" y="356.6" width="2" height="2" fill="#b0f810"/><rect x="365.5" y="374.6" width="2" height="2" fill="#30f890"/><rect x="356.4" y="356.9" width="2" height="2" fill="#20e8a0"/><rect x="358.6" y="339.8" width="2" height="2" fill="#b0f810"/><rect x="368.6" y="373.0" width="2" height="2" fill="#90ff18"/><rect x="363.2" y="356.4" width="2" height="2" fill="#70f040"/><rect x="325.4" y="376.5" width="2" height="2" fill="#70f040"/><rect x="364.8" y="379.6" width="2" height="2" fill="#90ff18"/><rect x="362.1" y="375.2" width="2" height="2" fill="#70f040"/><rect x="365.3" y="346.9" width="2" height="2" fill="#40ff60"/><rect x="346.7" y="385.1" width="2" height="2" fill="#30f890"/><rect x="365.8" y="354.4" width="2" height="2" fill="#20e8a0"/><rect x="368.1" y="362.8" width="2" height="2" fill="#20e8a0"/><rect x="347.1" y="374.6" width="2" height="2" fill="#90ff18"/><rect x="342.0" y="380.8" width="2" height="2" fill="#40ff60"/><rect x="337.4" y="383.3" width="2" height="2" fill="#b0f810"/><rect x="322.2" y="368.7" width="2" height="2" fill="#90ff18"/><rect x="327.8" y="353.9" width="2" height="2" fill="#30f890"/><rect x="348.9" y="337.7" width="2" height="2" fill="#70f040"/><rect x="353.4" y="385.0" width="2" height="2" fill="#30f890"/><rect x="364.0" y="376.8" width="2" height="2" fill="#20e8a0"/><rect x="339.9" y="382.7" width="2" height="2" fill="#b0f810"/><rect x="356.5" y="357.9" width="2" height="2" fill="#20e8a0"/><rect x="329.0" y="378.4" width="2" height="2" fill="#70f040"/><rect x="329.9" y="359.4" width="2" height="2" fill="#20e8a0"/><rect x="342.1" y="368.9" width="2" height="2" fill="#b0f810"/><rect x="331.9" y="364.7" width="2" height="2" fill="#70f040"/><rect x="333.8" y="380.9" width="2" height="2" fill="#20e8a0"/><rect x="324.2" y="360.8" width="2" height="2" fill="#70f040"/><rect x="331.2" y="374.4" width="2" height="2" fill="#40ff60"/><rect x="330.9" y="341.0" width="2" height="2" fill="#b0f810"/><rect x="355.8" y="341.3" width="2" height="2" fill="#70f040"/><rect x="330.4" y="347.2" width="2" height="2" fill="#b0f810"/><rect x="339.9" y="331.4" width="2" height="2" fill="#b0f810"/><rect x="356.8" y="379.9" width="2" height="2" fill="#20e8a0"/><rect x="352.9" y="379.8" width="2" height="2" fill="#b0f810"/><rect x="332.6" y="372.0" width="2" height="2" fill="#70f040"/><rect x="335.2" y="379.5" width="2" height="2" fill="#b0f810"/><rect x="337.9" y="332.3" width="2" height="2" fill="#30f890"/><rect x="322.6" y="360.9" width="2" height="2" fill="#b0f810"/><rect x="361.0" y="356.4" width="2" height="2" fill="#30f890"/><rect x="328.1" y="372.5" width="2" height="2" fill="#b0f810"/><rect x="349.5" y="341.5" width="2" height="2" fill="#40ff60"/><rect x="360.1" y="338.6" width="2" height="2" fill="#20e8a0"/><rect x="372.7" y="361.5" width="2" height="2" fill="#b0f810"/><rect x="327.0" y="372.5" width="2" height="2" fill="#40ff60"/><rect x="360.9" y="381.5" width="2" height="2" fill="#70f040"/><rect x="355.9" y="378.0" width="2" height="2" fill="#40ff60"/><rect x="322.6" y="358.1" width="2" height="2" fill="#70f040"/><rect x="352.9" y="362.9" width="2" height="2" fill="#70f040"/><rect x="365.9" y="362.3" width="2" height="2" fill="#90ff18"/><rect x="340.0" y="342.4" width="2" height="2" fill="#b0f810"/><rect x="343.9" y="375.7" width="2" height="2" fill="#20e8a0"/><rect x="353.2" y="386.3" width="2" height="2" fill="#40ff60"/><rect x="367.4" y="369.9" width="2" height="2" fill="#20e8a0"/><rect x="336.2" y="342.9" width="2" height="2" fill="#20e8a0"/><rect x="345.5" y="347.7" width="2" height="2" fill="#b0f810"/><rect x="343.8" y="330.6" width="2" height="2" fill="#20e8a0"/><rect x="343.7" y="382.4" width="2" height="2" fill="#90ff18"/><rect x="332.8" y="371.3" width="2" height="2" fill="#70f040"/><rect x="352.8" y="333.3" width="2" height="2" fill="#40ff60"/><rect x="343.4" y="345.1" width="2" height="2" fill="#20e8a0"/><rect x="339.6" y="333.8" width="2" height="2" fill="#30f890"/><rect x="361.7" y="337.8" width="2" height="2" fill="#70f040"/><rect x="339.0" y="377.3" width="2" height="2" fill="#90ff18"/><rect x="349.1" y="347.2" width="2" height="2" fill="#b0f810"/><rect x="343.5" y="332.5" width="2" height="2" fill="#20e8a0"/><rect x="321.7" y="369.4" width="2" height="2" fill="#b0f810"/><rect x="362.4" y="382.6" width="2" height="2" fill="#70f040"/><rect x="336.3" y="357.9" width="2" height="2" fill="#90ff18"/><rect x="360.8" y="347.7" width="2" height="2" fill="#40ff60"/><rect x="346.5" y="345.3" width="2" height="2" fill="#b0f810"/><rect x="352.6" y="383.0" width="2" height="2" fill="#30f890"/><rect x="360.0" y="371.1" width="2" height="2" fill="#70f040"/><rect x="370.7" y="347.3" width="2" height="2" fill="#30f890"/><rect x="366.5" y="367.4" width="2" height="2" fill="#90ff18"/><rect x="338.5" y="340.9" width="2" height="2" fill="#20e8a0"/><rect x="357.1" y="333.3" width="2" height="2" fill="#20e8a0"/><rect x="325.4" y="368.2" width="2" height="2" fill="#40ff60"/><rect x="363.3" y="376.2" width="2" height="2" fill="#30f890"/><rect x="348.7" y="373.6" width="2" height="2" fill="#70f040"/><rect x="338.2" y="368.1" width="2" height="2" fill="#90ff18"/><rect x="347.7" y="375.2" width="2" height="2" fill="#20e8a0"/><rect x="335.3" y="353.2" width="2" height="2" fill="#b0f810"/><rect x="345.4" y="380.3" width="2" height="2" fill="#30f890"/><rect x="369.6" y="344.0" width="2" height="2" fill="#30f890"/><rect x="348.4" y="359.9" width="2" height="2" fill="#70f040"/><rect x="339.2" y="376.1" width="2" height="2" fill="#20e8a0"/><rect x="343.6" y="372.3" width="2" height="2" fill="#90ff18"/><rect x="363.9" y="342.2" width="2" height="2" fill="#90ff18"/><rect x="347.7" y="354.8" width="2" height="2" fill="#70f040"/><rect x="360.2" y="378.6" width="2" height="2" fill="#30f890"/><rect x="333.6" y="353.9" width="2" height="2" fill="#30f890"/><rect x="321.8" y="365.9" width="2" height="2" fill="#30f890"/><rect x="353.0" y="361.3" width="2" height="2" fill="#90ff18"/><rect x="360.3" y="363.8" width="2" height="2" fill="#30f890"/><rect x="335.4" y="365.0" width="2" height="2" fill="#70f040"/><rect x="330.9" y="340.5" width="2" height="2" fill="#b0f810"/><rect x="351.4" y="348.0" width="2" height="2" fill="#70f040"/><rect x="329.5" y="374.6" width="2" height="2" fill="#40ff60"/><rect x="337.8" y="348.5" width="2" height="2" fill="#30f890"/><rect x="325.5" y="346.1" width="2" height="2" fill="#90ff18"/><rect x="333.8" y="378.2" width="2" height="2" fill="#20e8a0"/><rect x="328.9" y="337.7" width="2" height="2" fill="#40ff60"/><rect x="327.0" y="353.5" width="2" height="2" fill="#b0f810"/><rect x="359.5" y="346.6" width="2" height="2" fill="#b0f810"/><rect x="359.3" y="366.2" width="2" height="2" fill="#20e8a0"/><rect x="342.1" y="334.7" width="2" height="2" fill="#40ff60"/><rect x="350.2" y="367.9" width="2" height="2" fill="#30f890"/><rect x="368.7" y="346.5" width="2" height="2" fill="#30f890"/><rect x="354.3" y="362.6" width="2" height="2" fill="#20e8a0"/><rect x="329.9" y="363.1" width="2" height="2" fill="#40ff60"/><rect x="365.9" y="365.0" width="2" height="2" fill="#70f040"/><rect x="333.0" y="335.9" width="2" height="2" fill="#b0f810"/><rect x="361.2" y="348.1" width="2" height="2" fill="#b0f810"/><rect x="338.2" y="358.3" width="2" height="2" fill="#40ff60"/><rect x="350.8" y="362.5" width="2" height="2" fill="#70f040"/><rect x="359.6" y="365.0" width="2" height="2" fill="#b0f810"/><rect x="363.2" y="378.7" width="2" height="2" fill="#30f890"/><rect x="355.8" y="347.0" width="2" height="2" fill="#70f040"/><rect x="357.0" y="342.3" width="2" height="2" fill="#90ff18"/><rect x="338.7" y="374.6" width="2" height="2" fill="#70f040"/><rect x="366.7" y="353.6" width="2" height="2" fill="#30f890"/><rect x="363.5" y="378.9" width="2" height="2" fill="#20e8a0"/><rect x="369.7" y="357.8" width="2" height="2" fill="#20e8a0"/><rect x="340.3" y="339.3" width="2" height="2" fill="#40ff60"/><rect x="345.9" y="346.6" width="2" height="2" fill="#70f040"/><rect x="337.9" y="358.5" width="2" height="2" fill="#40ff60"/><rect x="351.3" y="365.0" width="2" height="2" fill="#40ff60"/><rect x="355.2" y="338.0" width="2" height="2" fill="#40ff60"/><rect x="332.9" y="367.9" width="2" height="2" fill="#40ff60"/><rect x="335.5" y="382.3" width="2" height="2" fill="#20e8a0"/><rect x="356.0" y="360.3" width="2" height="2" fill="#40ff60"/><rect x="359.9" y="351.1" width="2" height="2" fill="#40ff60"/><rect x="329.8" y="351.0" width="2" height="2" fill="#40ff60"/><rect x="320.2" y="363.3" width="2" height="2" fill="#b0f810"/><rect x="370.9" y="354.7" width="2" height="2" fill="#30f890"/><rect x="368.2" y="347.4" width="2" height="2" fill="#90ff18"/><rect x="364.9" y="365.9" width="2" height="2" fill="#40ff60"/><rect x="351.3" y="335.7" width="2" height="2" fill="#b0f810"/><rect x="331.9" y="384.5" width="2" height="2" fill="#b0f810"/><rect x="335.9" y="371.5" width="2" height="2" fill="#20e8a0"/><rect x="366.4" y="357.0" width="2" height="2" fill="#90ff18"/><rect x="360.0" y="362.4" width="2" height="2" fill="#90ff18"/><rect x="322.1" y="349.0" width="2" height="2" fill="#90ff18"/><rect x="349.1" y="331.5" width="2" height="2" fill="#20e8a0"/><rect x="354.7" y="362.6" width="2" height="2" fill="#20e8a0"/><rect x="336.6" y="337.2" width="2" height="2" fill="#90ff18"/><rect x="344.8" y="382.9" width="2" height="2" fill="#20e8a0"/><rect x="330.3" y="338.7" width="2" height="2" fill="#90ff18"/><rect x="339.3" y="350.1" width="2" height="2" fill="#70f040"/><rect x="363.0" y="362.1" width="2" height="2" fill="#70f040"/><rect x="342.8" y="344.6" width="2" height="2" fill="#90ff18"/><rect x="325.4" y="343.9" width="2" height="2" fill="#90ff18"/><rect x="326.2" y="370.6" width="2" height="2" fill="#20e8a0"/><rect x="356.6" y="353.1" width="2" height="2" fill="#70f040"/><rect x="342.6" y="333.6" width="2" height="2" fill="#40ff60"/><rect x="344.3" y="361.2" width="2" height="2" fill="#20e8a0"/><rect x="348.9" y="338.9" width="2" height="2" fill="#70f040"/><rect x="365.6" y="370.3" width="2" height="2" fill="#20e8a0"/><rect x="352.4" y="338.2" width="2" height="2" fill="#30f890"/><rect x="330.0" y="383.1" width="2" height="2" fill="#30f890"/><rect x="352.0" y="374.6" width="2" height="2" fill="#b0f810"/><rect x="333.7" y="342.9" width="2" height="2" fill="#40ff60"/><rect x="319.0" y="357.4" width="2" height="2" fill="#40ff60"/><rect x="366.4" y="355.8" width="2" height="2" fill="#20e8a0"/><rect x="361.1" y="359.1" width="2" height="2" fill="#70f040"/><rect x="322.3" y="352.8" width="2" height="2" fill="#20e8a0"/><rect x="328.0" y="372.4" width="2" height="2" fill="#40ff60"/><rect x="336.9" y="362.8" width="2" height="2" fill="#70f040"/><rect x="328.9" y="348.5" width="2" height="2" fill="#90ff18"/><rect x="346.4" y="362.6" width="2" height="2" fill="#70f040"/><rect x="344.6" y="337.7" width="2" height="2" fill="#40ff60"/><rect x="333.5" y="367.1" width="2" height="2" fill="#b0f810"/><rect x="364.3" y="345.0" width="2" height="2" fill="#30f890"/><rect x="369.0" y="347.5" width="2" height="2" fill="#70f040"/><rect x="344.7" y="374.9" width="2" height="2" fill="#40ff60"/><rect x="329.7" y="339.3" width="2" height="2" fill="#40ff60"/><rect x="327.5" y="376.6" width="2" height="2" fill="#70f040"/><rect x="335.5" y="374.7" width="2" height="2" fill="#30f890"/><rect x="371.3" y="358.9" width="2" height="2" fill="#40ff60"/><rect x="359.7" y="342.2" width="2" height="2" fill="#40ff60"/><rect x="363.3" y="353.8" width="2" height="2" fill="#20e8a0"/><rect x="342.2" y="378.2" width="2" height="2" fill="#40ff60"/><rect x="324.2" y="370.2" width="2" height="2" fill="#70f040"/><rect x="351.8" y="385.8" width="2" height="2" fill="#70f040"/><rect x="344.6" y="351.0" width="2" height="2" fill="#90ff18"/><rect x="349.3" y="370.6" width="2" height="2" fill="#b0f810"/><rect x="360.1" y="362.1" width="2" height="2" fill="#70f040"/><rect x="347.7" y="350.6" width="2" height="2" fill="#b0f810"/><rect x="342.2" y="333.3" width="2" height="2" fill="#30f890"/><rect x="322.2" y="372.3" width="2" height="2" fill="#30f890"/><rect x="327.2" y="353.1" width="2" height="2" fill="#40ff60"/><rect x="367.7" y="366.6" width="2" height="2" fill="#30f890"/><rect x="344.2" y="335.7" width="2" height="2" fill="#b0f810"/><rect x="344.9" y="330.5" width="2" height="2" fill="#b0f810"/><rect x="343.0" y="379.7" width="2" height="2" fill="#b0f810"/><rect x="361.7" y="339.5" width="2" height="2" fill="#b0f810"/><rect x="330.6" y="338.2" width="2" height="2" fill="#30f890"/><rect x="339.1" y="345.8" width="2" height="2" fill="#20e8a0"/><rect x="329.1" y="359.9" width="2" height="2" fill="#20e8a0"/><rect x="351.9" y="352.1" width="2" height="2" fill="#70f040"/><rect x="328.9" y="343.6" width="2" height="2" fill="#90ff18"/><rect x="328.7" y="357.2" width="2" height="2" fill="#20e8a0"/><rect x="341.7" y="379.7" width="2" height="2" fill="#20e8a0"/><rect x="367.3" y="346.2" width="2" height="2" fill="#20e8a0"/><rect x="336.4" y="377.1" width="2" height="2" fill="#30f890"/><rect x="347.6" y="334.7" width="2" height="2" fill="#40ff60"/><rect x="370.7" y="346.7" width="2" height="2" fill="#40ff60"/><rect x="366.9" y="367.7" width="2" height="2" fill="#40ff60"/><rect x="348.0" y="332.9" width="2" height="2" fill="#90ff18"/><rect x="332.1" y="358.9" width="2" height="2" fill="#90ff18"/><rect x="337.9" y="365.3" width="2" height="2" fill="#90ff18"/><rect x="328.1" y="372.4" width="2" height="2" fill="#30f890"/><rect x="325.3" y="355.0" width="2" height="2" fill="#90ff18"/><rect x="359.9" y="354.6" width="2" height="2" fill="#70f040"/><rect x="341.6" y="345.4" width="2" height="2" fill="#90ff18"/><rect x="325.0" y="359.9" width="2" height="2" fill="#90ff18"/><rect x="335.1" y="379.1" width="2" height="2" fill="#90ff18"/><rect x="345.0" y="337.4" width="2" height="2" fill="#70f040"/><rect x="339.9" y="358.2" width="2" height="2" fill="#40ff60"/><rect x="336.4" y="357.8" width="2" height="2" fill="#90ff18"/><rect x="338.7" y="378.6" width="2" height="2" fill="#40ff60"/><rect x="365.5" y="378.4" width="2" height="2" fill="#b0f810"/><rect x="346.1" y="368.4" width="2" height="2" fill="#20e8a0"/><rect x="349.3" y="353.9" width="2" height="2" fill="#90ff18"/><rect x="341.2" y="346.9" width="2" height="2" fill="#90ff18"/><rect x="324.0" y="359.2" width="2" height="2" fill="#40ff60"/><rect x="344.8" y="360.6" width="2" height="2" fill="#30f890"/><rect x="357.3" y="335.8" width="2" height="2" fill="#90ff18"/><rect x="357.7" y="366.7" width="2" height="2" fill="#b0f810"/><rect x="328.4" y="340.4" width="2" height="2" fill="#40ff60"/><rect x="330.4" y="347.2" width="2" height="2" fill="#30f890"/><rect x="358.1" y="371.6" width="2" height="2" fill="#30f890"/><rect x="346.3" y="385.4" width="2" height="2" fill="#b0f810"/><rect x="331.9" y="352.0" width="2" height="2" fill="#30f890"/><rect x="345.0" y="350.4" width="2" height="2" fill="#40ff60"/><rect x="346.5" y="381.0" width="2" height="2" fill="#40ff60"/><rect x="356.5" y="361.8" width="2" height="2" fill="#70f040"/><rect x="330.1" y="377.6" width="2" height="2" fill="#b0f810"/><rect x="347.5" y="383.8" width="2" height="2" fill="#40ff60"/><rect x="372.4" y="361.1" width="2" height="2" fill="#30f890"/><rect x="331.6" y="380.7" width="2" height="2" fill="#b0f810"/><rect x="344.8" y="349.4" width="2" height="2" fill="#40ff60"/><rect x="327.6" y="373.3" width="2" height="2" fill="#20e8a0"/><rect x="343.5" y="339.7" width="2" height="2" fill="#70f040"/><rect x="329.5" y="355.6" width="2" height="2" fill="#90ff18"/><rect x="332.7" y="343.6" width="2" height="2" fill="#30f890"/><rect x="339.0" y="354.0" width="2" height="2" fill="#90ff18"/><rect x="350.4" y="378.6" width="2" height="2" fill="#20e8a0"/><rect x="366.5" y="362.4" width="2" height="2" fill="#20e8a0"/><rect x="345.7" y="370.1" width="2" height="2" fill="#b0f810"/><rect x="359.8" y="370.6" width="2" height="2" fill="#b0f810"/><rect x="362.9" y="357.2" width="2" height="2" fill="#20e8a0"/><rect x="359.4" y="339.0" width="2" height="2" fill="#b0f810"/><rect x="327.4" y="348.5" width="2" height="2" fill="#70f040"/><rect x="341.9" y="349.2" width="2" height="2" fill="#20e8a0"/><rect x="362.7" y="381.1" width="2" height="2" fill="#90ff18"/><rect x="321.8" y="362.3" width="2" height="2" fill="#40ff60"/><rect x="336.5" y="371.6" width="2" height="2" fill="#90ff18"/><rect x="356.3" y="345.0" width="2" height="2" fill="#70f040"/><rect x="323.8" y="375.9" width="2" height="2" fill="#90ff18"/><rect x="343.6" y="383.4" width="2" height="2" fill="#b0f810"/><rect x="344.4" y="358.1" width="2" height="2" fill="#30f890"/><rect x="365.8" y="348.3" width="2" height="2" fill="#70f040"/><rect x="345.9" y="331.3" width="2" height="2" fill="#30f890"/><rect x="322.8" y="366.2" width="2" height="2" fill="#20e8a0"/><rect x="340.2" y="345.8" width="2" height="2" fill="#40ff60"/><rect x="328.4" y="372.1" width="2" height="2" fill="#30f890"/><rect x="366.2" y="374.8" width="2" height="2" fill="#b0f810"/><rect x="346.2" y="359.0" width="2" height="2" fill="#30f890"/><rect x="356.8" y="340.1" width="2" height="2" fill="#20e8a0"/><rect x="329.9" y="358.8" width="2" height="2" fill="#40ff60"/><rect x="350.7" y="338.1" width="2" height="2" fill="#b0f810"/><rect x="334.6" y="375.5" width="2" height="2" fill="#b0f810"/><rect x="347.2" y="386.0" width="2" height="2" fill="#90ff18"/><rect x="367.6" y="377.3" width="2" height="2" fill="#90ff18"/><rect x="350.5" y="363.6" width="2" height="2" fill="#b0f810"/><rect x="336.3" y="385.0" width="2" height="2" fill="#40ff60"/><rect x="345.9" y="382.9" width="2" height="2" fill="#30f890"/><rect x="333.2" y="347.0" width="2" height="2" fill="#40ff60"/><rect x="339.6" y="385.2" width="2" height="2" fill="#70f040"/><rect x="350.4" y="346.1" width="2" height="2" fill="#20e8a0"/><rect x="339.9" y="358.9" width="2" height="2" fill="#b0f810"/><rect x="361.4" y="373.4" width="2" height="2" fill="#20e8a0"/><rect x="334.4" y="343.7" width="2" height="2" fill="#40ff60"/><rect x="346.9" y="349.5" width="2" height="2" fill="#20e8a0"/><rect x="372.3" y="363.5" width="2" height="2" fill="#70f040"/><rect x="328.2" y="338.7" width="2" height="2" fill="#70f040"/><rect x="344.6" y="350.7" width="2" height="2" fill="#40ff60"/><rect x="362.0" y="357.1" width="2" height="2" fill="#90ff18"/><rect x="350.4" y="340.3" width="2" height="2" fill="#70f040"/><rect x="331.2" y="377.0" width="2" height="2" fill="#b0f810"/><rect x="344.4" y="347.0" width="2" height="2" fill="#70f040"/><rect x="338.7" y="365.7" width="2" height="2" fill="#70f040"/><rect x="369.1" y="347.8" width="2" height="2" fill="#90ff18"/><rect x="364.1" y="361.1" width="2" height="2" fill="#30f890"/><rect x="331.0" y="336.5" width="2" height="2" fill="#70f040"/><rect x="348.7" y="335.9" width="2" height="2" fill="#40ff60"/><rect x="355.8" y="354.0" width="2" height="2" fill="#20e8a0"/><rect x="358.7" y="334.4" width="2" height="2" fill="#30f890"/><rect x="322.2" y="365.5" width="2" height="2" fill="#b0f810"/><rect x="344.1" y="331.8" width="2" height="2" fill="#20e8a0"/><rect x="337.2" y="332.2" width="2" height="2" fill="#20e8a0"/><rect x="355.5" y="332.3" width="2" height="2" fill="#90ff18"/><rect x="337.9" y="345.1" width="2" height="2" fill="#90ff18"/><rect x="364.3" y="369.6" width="2" height="2" fill="#20e8a0"/><rect x="357.6" y="356.7" width="2" height="2" fill="#20e8a0"/><rect x="359.1" y="361.5" width="2" height="2" fill="#90ff18"/><rect x="353.8" y="332.5" width="2" height="2" fill="#b0f810"/><rect x="353.6" y="379.1" width="2" height="2" fill="#20e8a0"/><rect x="334.9" y="342.1" width="2" height="2" fill="#90ff18"/><rect x="331.3" y="371.6" width="2" height="2" fill="#20e8a0"/><rect x="335.8" y="345.4" width="2" height="2" fill="#20e8a0"/><rect x="367.0" y="374.5" width="2" height="2" fill="#30f890"/><rect x="359.8" y="357.7" width="2" height="2" fill="#30f890"/><rect x="371.8" y="363.2" width="2" height="2" fill="#70f040"/><rect x="343.3" y="378.3" width="2" height="2" fill="#20e8a0"/><rect x="360.3" y="376.0" width="2" height="2" fill="#40ff60"/><rect x="349.2" y="336.5" width="2" height="2" fill="#20e8a0"/><rect x="353.1" y="339.1" width="2" height="2" fill="#b0f810"/><rect x="332.8" y="370.9" width="2" height="2" fill="#90ff18"/><rect x="331.8" y="360.1" width="2" height="2" fill="#90ff18"/><rect x="345.5" y="375.2" width="2" height="2" fill="#90ff18"/><rect x="350.6" y="337.0" width="2" height="2" fill="#b0f810"/><rect x="329.4" y="381.4" width="2" height="2" fill="#40ff60"/><rect x="345.9" y="377.0" width="2" height="2" fill="#40ff60"/><rect x="343.5" y="358.3" width="2" height="2" fill="#90ff18"/><rect x="359.1" y="356.1" width="2" height="2" fill="#30f890"/><rect x="352.9" y="339.3" width="2" height="2" fill="#90ff18"/><rect x="323.9" y="353.1" width="2" height="2" fill="#90ff18"/><rect x="328.3" y="349.5" width="2" height="2" fill="#70f040"/><rect x="344.5" y="351.5" width="2" height="2" fill="#30f890"/><rect x="359.3" y="379.3" width="2" height="2" fill="#30f890"/><rect x="346.0" y="341.6" width="2" height="2" fill="#b0f810"/><rect x="360.3" y="376.9" width="2" height="2" fill="#b0f810"/><rect x="339.1" y="357.8" width="2" height="2" fill="#90ff18"/><rect x="352.5" y="350.8" width="2" height="2" fill="#90ff18"/></g>
<rect x="320.8" y="368.1" width="1.3" height="1.3" fill="#a0e000"/><rect x="321.2" y="368.1" width="1.3" height="1.3" fill="#20d0a0"/><rect x="357.1" y="385.9" width="1.3" height="1.3" fill="#20d0a0"/><rect x="369.0" y="375.8" width="1.3" height="1.3" fill="#c0d000"/><rect x="320.8" y="353.0" width="1.3" height="1.3" fill="#c0d000"/><rect x="324.1" y="343.5" width="1.3" height="1.3" fill="#a0e000"/><rect x="331.2" y="336.3" width="1.3" height="1.3" fill="#20d0a0"/><rect x="327.5" y="340.1" width="1.3" height="1.3" fill="#c0d000"/><rect x="371.8" y="370.3" width="1.3" height="1.3" fill="#20d0a0"/><rect x="324.9" y="343.2" width="1.3" height="1.3" fill="#e0a000"/><rect x="321.8" y="369.9" width="1.3" height="1.3" fill="#20d0a0"/><rect x="329.3" y="337.7" width="1.3" height="1.3" fill="#c0d000"/><rect x="320.2" y="367.4" width="1.3" height="1.3" fill="#c0d000"/><rect x="339.3" y="331.9" width="1.3" height="1.3" fill="#20d0a0"/><rect x="318.9" y="357.3" width="1.3" height="1.3" fill="#c0d000"/><rect x="325.0" y="376.1" width="1.3" height="1.3" fill="#a0e000"/><rect x="371.6" y="371.6" width="1.3" height="1.3" fill="#c0d000"/><rect x="352.4" y="386.9" width="1.3" height="1.3" fill="#c0d000"/><rect x="320.6" y="364.9" width="1.3" height="1.3" fill="#a0e000"/><rect x="322.9" y="373.4" width="1.3" height="1.3" fill="#20d0a0"/><rect x="351.3" y="331.3" width="1.3" height="1.3" fill="#c0d000"/><rect x="336.1" y="386.8" width="1.3" height="1.3" fill="#a0e000"/><rect x="347.8" y="330.6" width="1.3" height="1.3" fill="#20d0a0"/><rect x="339.0" y="331.5" width="1.3" height="1.3" fill="#a0e000"/><rect x="354.4" y="331.9" width="1.3" height="1.3" fill="#20d0a0"/><rect x="320.5" y="369.1" width="1.3" height="1.3" fill="#20d0a0"/><rect x="322.7" y="373.7" width="1.3" height="1.3" fill="#a0e000"/><rect x="322.4" y="373.5" width="1.3" height="1.3" fill="#e0a000"/><rect x="363.7" y="338.7" width="1.3" height="1.3" fill="#e0a000"/><rect x="374.0" y="359.3" width="1.3" height="1.3" fill="#20d0a0"/><rect x="325.6" y="377.0" width="1.3" height="1.3" fill="#c0d000"/><rect x="372.8" y="367.3" width="1.3" height="1.3" fill="#a0e000"/><rect x="345.0" y="387.8" width="1.3" height="1.3" fill="#e0a000"/><rect x="359.5" y="334.5" width="1.3" height="1.3" fill="#c0d000"/><rect x="369.0" y="375.0" width="1.3" height="1.3" fill="#20d0a0"/><rect x="373.4" y="362.5" width="1.3" height="1.3" fill="#a0e000"/><rect x="365.1" y="380.1" width="1.3" height="1.3" fill="#20d0a0"/><rect x="364.7" y="338.1" width="1.3" height="1.3" fill="#20d0a0"/><rect x="336.2" y="386.6" width="1.3" height="1.3" fill="#20d0a0"/><rect x="342.2" y="331.0" width="1.3" height="1.3" fill="#20d0a0"/><rect x="336.0" y="333.2" width="1.3" height="1.3" fill="#a0e000"/><rect x="324.9" y="342.3" width="1.3" height="1.3" fill="#c0d000"/><rect x="367.2" y="377.8" width="1.3" height="1.3" fill="#e0a000"/><rect x="348.3" y="387.9" width="1.3" height="1.3" fill="#e0a000"/><rect x="323.2" y="373.1" width="1.3" height="1.3" fill="#a0e000"/><rect x="339.0" y="387.7" width="1.3" height="1.3" fill="#c0d000"/><rect x="365.3" y="380.1" width="1.3" height="1.3" fill="#c0d000"/><rect x="341.4" y="387.2" width="1.3" height="1.3" fill="#20d0a0"/><rect x="346.2" y="330.5" width="1.3" height="1.3" fill="#a0e000"/><rect x="320.5" y="369.5" width="1.3" height="1.3" fill="#20d0a0"/><rect x="341.0" y="387.6" width="1.3" height="1.3" fill="#20d0a0"/><rect x="369.3" y="375.6" width="1.3" height="1.3" fill="#a0e000"/><rect x="372.9" y="356.2" width="1.3" height="1.3" fill="#20d0a0"/><rect x="324.2" y="344.7" width="1.3" height="1.3" fill="#a0e000"/><rect x="368.9" y="344.6" width="1.3" height="1.3" fill="#c0d000"/><rect x="372.9" y="363.5" width="1.3" height="1.3" fill="#a0e000"/><rect x="371.2" y="371.5" width="1.3" height="1.3" fill="#20d0a0"/><rect x="373.9" y="359.6" width="1.3" height="1.3" fill="#e0a000"/><rect x="344.3" y="331.8" width="1.3" height="1.3" fill="#20d0a0"/><rect x="353.5" y="332.8" width="1.3" height="1.3" fill="#e0a000"/><rect x="369.6" y="374.3" width="1.3" height="1.3" fill="#c0d000"/><rect x="365.0" y="338.9" width="1.3" height="1.3" fill="#c0d000"/><rect x="363.9" y="338.2" width="1.3" height="1.3" fill="#a0e000"/><rect x="326.4" y="379.9" width="1.3" height="1.3" fill="#c0d000"/><rect x="369.8" y="373.4" width="1.3" height="1.3" fill="#e0a000"/><rect x="365.8" y="340.3" width="1.3" height="1.3" fill="#a0e000"/><rect x="370.8" y="348.3" width="1.3" height="1.3" fill="#a0e000"/><rect x="321.8" y="369.9" width="1.3" height="1.3" fill="#c0d000"/><rect x="319.7" y="356.4" width="1.3" height="1.3" fill="#e0a000"/><rect x="324.7" y="342.7" width="1.3" height="1.3" fill="#20d0a0"/></g>
<g filter="url(#soft)"><ellipse cx="435.3" cy="359.6" rx="29.3" ry="31" fill="#48f82c"/>
<g clip-path="url(#c2)" opacity="0.5"><rect x="462.6" y="351.2" width="2" height="2" fill="#30f890"/><rect x="449.9" y="369.5" width="2" height="2" fill="#90ff18"/><rect x="432.9" y="334.2" width="2" height="2" fill="#40ff60"/><rect x="434.9" y="373.6" width="2" height="2" fill="#30f890"/><rect x="424.8" y="353.4" width="2" height="2" fill="#70f040"/><rect x="417.9" y="338.2" width="2" height="2" fill="#20e8a0"/><rect x="455.7" y="352.3" width="2" height="2" fill="#70f040"/><rect x="407.0" y="359.0" width="2" height="2" fill="#30f890"/><rect x="416.3" y="381.9" width="2" height="2" fill="#70f040"/><rect x="410.4" y="372.8" width="2" height="2" fill="#90ff18"/><rect x="421.7" y="353.8" width="2" height="2" fill="#30f890"/><rect x="440.5" y="370.9" width="2" height="2" fill="#20e8a0"/><rect x="405.6" y="357.4" width="2" height="2" fill="#b0f810"/><rect x="407.6" y="348.1" width="2" height="2" fill="#70f040"/><rect x="442.3" y="334.1" width="2" height="2" fill="#40ff60"/><rect x="439.3" y="341.6" width="2" height="2" fill="#70f040"/><rect x="448.6" y="382.2" width="2" height="2" fill="#b0f810"/><rect x="433.3" y="334.5" width="2" height="2" fill="#90ff18"/><rect x="406.7" y="361.3" width="2" height="2" fill="#20e8a0"/><rect x="408.8" y="356.7" width="2" height="2" fill="#b0f810"/><rect x="455.7" y="339.7" width="2" height="2" fill="#70f040"/><rect x="420.1" y="380.6" width="2" height="2" fill="#20e8a0"/><rect x="431.6" y="338.1" width="2" height="2" fill="#90ff18"/><rect x="459.8" y="349.2" width="2" height="2" fill="#90ff18"/><rect x="451.6" y="342.4" width="2" height="2" fill="#70f040"/><rect x="424.4" y="387.5" width="2" height="2" fill="#b0f810"/><rect x="445.8" y="339.2" width="2" height="2" fill="#20e8a0"/><rect x="421.9" y="340.1" width="2" height="2" fill="#40ff60"/><rect x="432.5" y="337.9" width="2" height="2" fill="#40ff60"/><rect x="456.3" y="349.6" width="2" height="2" fill="#30f890"/><rect x="438.7" y="341.8" width="2" height="2" fill="#30f890"/><rect x="445.8" y="352.0" width="2" height="2" fill="#b0f810"/><rect x="452.6" y="373.9" width="2" height="2" fill="#30f890"/><rect x="433.0" y="374.0" width="2" height="2" fill="#30f890"/><rect x="435.3" y="348.0" width="2" height="2" fill="#40ff60"/><rect x="435.4" y="373.6" width="2" height="2" fill="#30f890"/><rect x="412.9" y="371.6" width="2" height="2" fill="#30f890"/><rect x="451.6" y="365.9" width="2" height="2" fill="#90ff18"/><rect x="431.0" y="351.5" width="2" height="2" fill="#30f890"/><rect x="459.9" y="363.6" width="2" height="2" fill="#30f890"/><rect x="427.6" y="367.3" width="2" height="2" fill="#90ff18"/><rect x="433.0" y="337.2" width="2" height="2" fill="#30f890"/><rect x="430.4" y="363.6" width="2" height="2" fill="#90ff18"/><rect x="438.3" y="364.2" width="2" height="2" fill="#40ff60"/><rect x="456.6" y="350.2" width="2" height="2" fill="#b0f810"/><rect x="448.0" y="371.1" width="2" height="2" fill="#30f890"/><rect x="427.1" y="380.8" width="2" height="2" fill="#20e8a0"/><rect x="433.2" y="330.1" width="2" height="2" fill="#70f040"/><rect x="451.1" y="339.7" width="2" height="2" fill="#70f040"/><rect x="443.7" y="357.0" width="2" height="2" fill="#b0f810"/><rect x="431.2" y="368.4" width="2" height="2" fill="#70f040"/><rect x="441.9" y="330.2" width="2" height="2" fill="#20e8a0"/><rect x="419.1" y="349.5" width="2" height="2" fill="#20e8a0"/><rect x="422.0" y="384.9" width="2" height="2" fill="#40ff60"/><rect x="433.7" y="383.4" width="2" height="2" fill="#70f040"/><rect x="420.9" y="338.2" width="2" height="2" fill="#90ff18"/><rect x="427.9" y="345.8" width="2" height="2" fill="#90ff18"/><rect x="439.8" y="367.5" width="2" height="2" fill="#b0f810"/><rect x="438.2" y="388.8" width="2" height="2" fill="#b0f810"/><rect x="461.9" y="347.0" width="2" height="2" fill="#90ff18"/><rect x="433.2" y="351.2" width="2" height="2" fill="#30f890"/><rect x="415.4" y="346.2" width="2" height="2" fill="#20e8a0"/><rect x="431.2" y="344.3" width="2" height="2" fill="#70f040"/><rect x="430.4" y="385.7" width="2" height="2" fill="#90ff18"/><rect x="453.4" y="363.8" width="2" height="2" fill="#30f890"/><rect x="426.3" y="358.7" width="2" height="2" fill="#30f890"/><rect x="445.2" y="367.1" width="2" height="2" fill="#90ff18"/><rect x="438.6" y="362.4" width="2" height="2" fill="#b0f810"/><rect x="419.0" y="363.2" width="2" height="2" fill="#b0f810"/><rect x="417.2" y="376.9" width="2" height="2" fill="#90ff18"/><rect x="432.4" y="339.2" width="2" height="2" fill="#20e8a0"/><rect x="457.5" y="362.6" width="2" height="2" fill="#70f040"/><rect x="455.3" y="349.2" width="2" height="2" fill="#30f890"/><rect x="424.4" y="341.1" width="2" height="2" fill="#30f890"/><rect x="406.9" y="355.8" width="2" height="2" fill="#20e8a0"/><rect x="418.6" y="378.5" width="2" height="2" fill="#40ff60"/><rect x="425.1" y="386.4" width="2" height="2" fill="#70f040"/><rect x="448.1" y="369.5" width="2" height="2" fill="#b0f810"/><rect x="447.1" y="334.6" width="2" height="2" fill="#30f890"/><rect x="417.6" y="370.9" width="2" height="2" fill="#90ff18"/><rect x="452.8" y="343.9" width="2" height="2" fill="#30f890"/><rect x="431.1" y="377.8" width="2" height="2" fill="#b0f810"/><rect x="457.7" y="371.8" width="2" height="2" fill="#90ff18"/><rect x="448.5" y="372.0" width="2" height="2" fill="#b0f810"/><rect x="410.1" y="365.5" width="2" height="2" fill="#70f040"/><rect x="446.3" y="349.3" width="2" height="2" fill="#30f890"/><rect x="458.8" y="373.2" width="2" height="2" fill="#b0f810"/><rect x="424.5" y="368.4" width="2" height="2" fill="#30f890"/><rect x="458.7" y="363.3" width="2" height="2" fill="#30f890"/><rect x="431.6" y="337.9" width="2" height="2" fill="#40ff60"/><rect x="445.7" y="356.5" width="2" height="2" fill="#40ff60"/><rect x="432.5" y="381.7" width="2" height="2" fill="#70f040"/><rect x="430.2" y="333.5" width="2" height="2" fill="#70f040"/><rect x="459.6" y="347.7" width="2" height="2" fill="#40ff60"/><rect x="425.8" y="366.9" width="2" height="2" fill="#20e8a0"/><rect x="433.9" y="379.6" width="2" height="2" fill="#b0f810"/><rect x="432.3" y="350.9" width="2" height="2" fill="#b0f810"/><rect x="438.8" y="350.7" width="2" height="2" fill="#40ff60"/><rect x="444.8" y="379.8" width="2" height="2" fill="#70f040"/><rect x="456.2" y="342.9" width="2" height="2" fill="#b0f810"/><rect x="458.7" y="357.6" width="2" height="2" fill="#90ff18"/><rect x="453.2" y="356.2" width="2" height="2" fill="#b0f810"/><rect x="423.4" y="337.0" width="2" height="2" fill="#70f040"/><rect x="442.4" y="374.0" width="2" height="2" fill="#90ff18"/><rect x="407.2" y="351.7" width="2" height="2" fill="#70f040"/><rect x="452.4" y="372.0" width="2" height="2" fill="#b0f810"/><rect x="422.9" y="358.3" width="2" height="2" fill="#90ff18"/><rect x="411.0" y="365.7" width="2" height="2" fill="#70f040"/><rect x="447.4" y="346.3" width="2" height="2" fill="#20e8a0"/><rect x="432.3" y="338.5" width="2" height="2" fill="#b0f810"/><rect x="457.4" y="363.8" width="2" height="2" fill="#b0f810"/><rect x="443.9" y="379.4" width="2" height="2" fill="#70f040"/><rect x="432.8" y="374.8" width="2" height="2" fill="#b0f810"/><rect x="457.8" y="349.3" width="2" height="2" fill="#70f040"/><rect x="421.1" y="377.0" width="2" height="2" fill="#b0f810"/><rect x="434.3" y="334.3" width="2" height="2" fill="#b0f810"/><rect x="438.6" y="383.5" width="2" height="2" fill="#70f040"/><rect x="442.4" y="341.9" width="2" height="2" fill="#b0f810"/><rect x="449.2" y="350.6" width="2" height="2" fill="#20e8a0"/><rect x="428.4" y="331.2" width="2" height="2" fill="#b0f810"/><rect x="439.0" y="367.9" width="2" height="2" fill="#70f040"/><rect x="458.6" y="350.2" width="2" height="2" fill="#20e8a0"/><rect x="424.7" y="368.8" width="2" height="2" fill="#30f890"/><rect x="418.0" y="374.1" width="2" height="2" fill="#90ff18"/><rect x="430.7" y="388.7" width="2" height="2" fill="#20e8a0"/><rect x="444.5" y="385.3" width="2" height="2" fill="#90ff18"/><rect x="459.3" y="360.8" width="2" height="2" fill="#70f040"/><rect x="434.5" y="382.6" width="2" height="2" fill="#70f040"/><rect x="428.2" y="329.8" width="2" height="2" fill="#30f890"/><rect x="418.5" y="383.2" width="2" height="2" fill="#20e8a0"/><rect x="447.5" y="338.0" width="2" height="2" fill="#20e8a0"/><rect x="410.9" y="361.8" width="2" height="2" fill="#40ff60"/><rect x="408.3" y="366.7" width="2" height="2" fill="#70f040"/><rect x="443.2" y="360.9" width="2" height="2" fill="#40ff60"/><rect x="446.8" y="383.1" width="2" height="2" fill="#70f040"/><rect x="434.2" y="383.8" width="2" height="2" fill="#b0f810"/><rect x="442.9" y="368.7" width="2" height="2" fill="#70f040"/><rect x="459.2" y="358.2" width="2" height="2" fill="#90ff18"/><rect x="457.0" y="360.9" width="2" height="2" fill="#30f890"/><rect x="420.5" y="376.3" width="2" height="2" fill="#70f040"/><rect x="422.7" y="353.9" width="2" height="2" fill="#b0f810"/><rect x="426.5" y="382.6" width="2" height="2" fill="#70f040"/><rect x="425.8" y="335.2" width="2" height="2" fill="#40ff60"/><rect x="458.7" y="372.4" width="2" height="2" fill="#40ff60"/><rect x="420.6" y="385.4" width="2" height="2" fill="#40ff60"/><rect x="424.5" y="343.5" width="2" height="2" fill="#30f890"/><rect x="421.5" y="358.6" width="2" height="2" fill="#20e8a0"/><rect x="408.3" y="354.0" width="2" height="2" fill="#20e8a0"/><rect x="423.7" y="347.0" width="2" height="2" fill="#90ff18"/><rect x="456.0" y="352.2" width="2" height="2" fill="#20e8a0"/><rect x="430.0" y="389.2" width="2" height="2" fill="#30f890"/><rect x="423.2" y="334.9" width="2" height="2" fill="#40ff60"/><rect x="439.0" y="377.4" width="2" height="2" fill="#40ff60"/><rect x="423.4" y="362.7" width="2" height="2" fill="#70f040"/><rect x="448.7" y="344.1" width="2" height="2" fill="#90ff18"/><rect x="452.3" y="349.7" width="2" height="2" fill="#b0f810"/><rect x="438.3" y="375.2" width="2" height="2" fill="#90ff18"/><rect x="446.7" y="368.2" width="2" height="2" fill="#90ff18"/><rect x="435.4" y="331.0" width="2" height="2" fill="#90ff18"/><rect x="418.7" y="381.1" width="2" height="2" fill="#90ff18"/><rect x="432.4" y="382.2" width="2" height="2" fill="#70f040"/><rect x="413.3" y="375.8" width="2" height="2" fill="#40ff60"/><rect x="430.2" y="385.1" width="2" height="2" fill="#20e8a0"/><rect x="410.5" y="359.0" width="2" height="2" fill="#40ff60"/><rect x="433.8" y="332.7" width="2" height="2" fill="#b0f810"/><rect x="458.5" y="348.8" width="2" height="2" fill="#b0f810"/><rect x="429.0" y="383.0" width="2" height="2" fill="#b0f810"/><rect x="449.7" y="367.0" width="2" height="2" fill="#70f040"/><rect x="448.1" y="386.3" width="2" height="2" fill="#40ff60"/><rect x="426.9" y="362.7" width="2" height="2" fill="#90ff18"/><rect x="427.8" y="376.9" width="2" height="2" fill="#30f890"/><rect x="444.6" y="367.1" width="2" height="2" fill="#30f890"/><rect x="459.1" y="345.0" width="2" height="2" fill="#b0f810"/><rect x="415.0" y="368.3" width="2" height="2" fill="#90ff18"/><rect x="445.3" y="338.2" width="2" height="2" fill="#20e8a0"/><rect x="429.9" y="383.5" width="2" height="2" fill="#90ff18"/><rect x="426.6" y="370.1" width="2" height="2" fill="#70f040"/><rect x="444.2" y="366.0" width="2" height="2" fill="#90ff18"/><rect x="429.6" y="369.5" width="2" height="2" fill="#40ff60"/><rect x="435.0" y="377.5" width="2" height="2" fill="#90ff18"/><rect x="428.3" y="334.0" width="2" height="2" fill="#30f890"/><rect x="425.7" y="375.6" width="2" height="2" fill="#20e8a0"/><rect x="445.4" y="363.8" width="2" height="2" fill="#30f890"/><rect x="411.5" y="371.0" width="2" height="2" fill="#90ff18"/><rect x="425.3" y="380.6" width="2" height="2" fill="#30f890"/><rect x="421.4" y="382.4" width="2" height="2" fill="#20e8a0"/><rect x="448.6" y="355.5" width="2" height="2" fill="#30f890"/><rect x="419.2" y="372.7" width="2" height="2" fill="#20e8a0"/><rect x="450.0" y="342.9" width="2" height="2" fill="#20e8a0"/><rect x="416.5" y="345.8" width="2" height="2" fill="#20e8a0"/><rect x="424.4" y="340.7" width="2" height="2" fill="#70f040"/><rect x="445.7" y="341.9" width="2" height="2" fill="#70f040"/><rect x="420.0" y="373.1" width="2" height="2" fill="#30f890"/><rect x="413.4" y="366.6" width="2" height="2" fill="#30f890"/><rect x="457.5" y="349.6" width="2" height="2" fill="#90ff18"/><rect x="449.4" y="367.4" width="2" height="2" fill="#b0f810"/><rect x="444.6" y="360.0" width="2" height="2" fill="#40ff60"/><rect x="435.9" y="364.2" width="2" height="2" fill="#70f040"/><rect x="430.7" y="351.2" width="2" height="2" fill="#b0f810"/><rect x="408.3" y="365.6" width="2" height="2" fill="#70f040"/><rect x="436.1" y="380.8" width="2" height="2" fill="#20e8a0"/><rect x="459.2" y="364.3" width="2" height="2" fill="#20e8a0"/><rect x="447.2" y="364.5" width="2" height="2" fill="#30f890"/><rect x="444.3" y="339.3" width="2" height="2" fill="#b0f810"/><rect x="420.8" y="356.7" width="2" height="2" fill="#40ff60"/><rect x="424.3" y="360.0" width="2" height="2" fill="#30f890"/><rect x="435.4" y="380.5" width="2" height="2" fill="#30f890"/><rect x="417.6" y="343.1" width="2" height="2" fill="#40ff60"/><rect x="415.4" y="339.5" width="2" height="2" fill="#b0f810"/><rect x="409.2" y="355.2" width="2" height="2" fill="#b0f810"/><rect x="440.0" y="368.0" width="2" height="2" fill="#90ff18"/><rect x="425.6" y="349.2" width="2" height="2" fill="#70f040"/><rect x="440.1" y="376.6" width="2" height="2" fill="#90ff18"/><rect x="418.3" y="368.0" width="2" height="2" fill="#40ff60"/><rect x="443.3" y="337.9" width="2" height="2" fill="#70f040"/><rect x="432.0" y="381.6" width="2" height="2" fill="#70f040"/><rect x="449.1" y="358.2" width="2" height="2" fill="#b0f810"/><rect x="449.2" y="376.8" width="2" height="2" fill="#30f890"/><rect x="456.5" y="363.8" width="2" height="2" fill="#90ff18"/><rect x="439.3" y="378.2" width="2" height="2" fill="#30f890"/><rect x="420.7" y="340.1" width="2" height="2" fill="#b0f810"/><rect x="433.0" y="385.6" width="2" height="2" fill="#20e8a0"/><rect x="459.8" y="367.4" width="2" height="2" fill="#90ff18"/><rect x="446.7" y="338.9" width="2" height="2" fill="#30f890"/><rect x="424.0" y="330.8" width="2" height="2" fill="#90ff18"/><rect x="420.7" y="342.2" width="2" height="2" fill="#90ff18"/><rect x="435.7" y="350.0" width="2" height="2" fill="#b0f810"/><rect x="451.2" y="347.0" width="2" height="2" fill="#40ff60"/><rect x="446.4" y="356.6" width="2" height="2" fill="#40ff60"/><rect x="430.3" y="343.9" width="2" height="2" fill="#20e8a0"/><rect x="417.8" y="351.1" width="2" height="2" fill="#70f040"/><rect x="432.3" y="354.5" width="2" height="2" fill="#40ff60"/><rect x="429.4" y="350.3" width="2" height="2" fill="#b0f810"/><rect x="432.2" y="329.5" width="2" height="2" fill="#30f890"/><rect x="438.8" y="376.8" width="2" height="2" fill="#20e8a0"/><rect x="431.9" y="335.8" width="2" height="2" fill="#b0f810"/><rect x="446.7" y="353.0" width="2" height="2" fill="#90ff18"/><rect x="425.9" y="333.7" width="2" height="2" fill="#70f040"/><rect x="455.1" y="337.4" width="2" height="2" fill="#70f040"/><rect x="420.3" y="362.0" width="2" height="2" fill="#90ff18"/><rect x="417.8" y="349.4" width="2" height="2" fill="#70f040"/><rect x="445.1" y="344.9" width="2" height="2" fill="#30f890"/><rect x="446.0" y="380.5" width="2" height="2" fill="#70f040"/><rect x="439.0" y="383.3" width="2" height="2" fill="#b0f810"/><rect x="425.7" y="354.3" width="2" height="2" fill="#40ff60"/><rect x="449.7" y="342.8" width="2" height="2" fill="#40ff60"/><rect x="456.4" y="375.3" width="2" height="2" fill="#30f890"/><rect x="440.3" y="375.8" width="2" height="2" fill="#40ff60"/><rect x="409.3" y="353.7" width="2" height="2" fill="#b0f810"/><rect x="424.2" y="376.5" width="2" height="2" fill="#70f040"/><rect x="410.5" y="364.2" width="2" height="2" fill="#40ff60"/><rect x="425.6" y="354.0" width="2" height="2" fill="#90ff18"/><rect x="448.6" y="382.5" width="2" height="2" fill="#b0f810"/><rect x="455.8" y="368.8" width="2" height="2" fill="#40ff60"/><rect x="422.3" y="342.2" width="2" height="2" fill="#90ff18"/><rect x="444.4" y="373.2" width="2" height="2" fill="#90ff18"/><rect x="442.2" y="384.2" width="2" height="2" fill="#40ff60"/><rect x="414.2" y="345.3" width="2" height="2" fill="#20e8a0"/><rect x="415.3" y="373.1" width="2" height="2" fill="#20e8a0"/><rect x="457.3" y="369.0" width="2" height="2" fill="#90ff18"/><rect x="458.7" y="350.2" width="2" height="2" fill="#70f040"/><rect x="449.6" y="373.6" width="2" height="2" fill="#70f040"/><rect x="417.0" y="362.4" width="2" height="2" fill="#90ff18"/><rect x="435.4" y="366.6" width="2" height="2" fill="#20e8a0"/><rect x="438.6" y="350.9" width="2" height="2" fill="#20e8a0"/><rect x="431.9" y="353.0" width="2" height="2" fill="#b0f810"/><rect x="422.1" y="365.7" width="2" height="2" fill="#40ff60"/><rect x="452.0" y="372.5" width="2" height="2" fill="#20e8a0"/><rect x="454.4" y="351.7" width="2" height="2" fill="#30f890"/><rect x="427.9" y="334.0" width="2" height="2" fill="#90ff18"/><rect x="434.1" y="364.6" width="2" height="2" fill="#30f890"/><rect x="442.6" y="367.8" width="2" height="2" fill="#40ff60"/><rect x="435.4" y="366.2" width="2" height="2" fill="#90ff18"/><rect x="417.6" y="335.5" width="2" height="2" fill="#30f890"/><rect x="421.3" y="341.8" width="2" height="2" fill="#b0f810"/><rect x="425.6" y="341.5" width="2" height="2" fill="#90ff18"/><rect x="455.6" y="364.1" width="2" height="2" fill="#40ff60"/><rect x="406.7" y="364.4" width="2" height="2" fill="#40ff60"/><rect x="437.1" y="333.9" width="2" height="2" fill="#30f890"/><rect x="427.4" y="353.2" width="2" height="2" fill="#40ff60"/><rect x="416.2" y="382.2" width="2" height="2" fill="#b0f810"/><rect x="431.7" y="380.5" width="2" height="2" fill="#40ff60"/><rect x="406.0" y="357.6" width="2" height="2" fill="#30f890"/><rect x="453.7" y="365.0" width="2" height="2" fill="#b0f810"/><rect x="459.2" y="360.7" width="2" height="2" fill="#20e8a0"/><rect x="429.1" y="331.4" width="2" height="2" fill="#30f890"/><rect x="427.3" y="338.9" width="2" height="2" fill="#70f040"/><rect x="422.0" y="366.0" width="2" height="2" fill="#90ff18"/><rect x="438.3" y="365.0" width="2" height="2" fill="#20e8a0"/><rect x="436.6" y="333.2" width="2" height="2" fill="#40ff60"/><rect x="427.6" y="344.5" width="2" height="2" fill="#30f890"/><rect x="456.8" y="354.8" width="2" height="2" fill="#90ff18"/><rect x="412.0" y="376.3" width="2" height="2" fill="#30f890"/><rect x="460.5" y="346.7" width="2" height="2" fill="#90ff18"/><rect x="436.3" y="372.8" width="2" height="2" fill="#30f890"/><rect x="432.0" y="351.2" width="2" height="2" fill="#40ff60"/><rect x="422.9" y="352.2" width="2" height="2" fill="#20e8a0"/><rect x="413.7" y="356.9" width="2" height="2" fill="#70f040"/><rect x="411.6" y="371.5" width="2" height="2" fill="#90ff18"/><rect x="417.1" y="368.7" width="2" height="2" fill="#40ff60"/><rect x="462.3" y="369.3" width="2" height="2" fill="#90ff18"/><rect x="415.5" y="357.3" width="2" height="2" fill="#70f040"/><rect x="413.3" y="343.0" width="2" height="2" fill="#b0f810"/><rect x="415.4" y="366.6" width="2" height="2" fill="#90ff18"/><rect x="441.8" y="350.0" width="2" height="2" fill="#40ff60"/><rect x="426.9" y="330.1" width="2" height="2" fill="#b0f810"/><rect x="415.1" y="372.3" width="2" height="2" fill="#70f040"/><rect x="422.4" y="361.9" width="2" height="2" fill="#70f040"/><rect x="433.3" y="373.8" width="2" height="2" fill="#b0f810"/><rect x="460.5" y="351.2" width="2" height="2" fill="#20e8a0"/><rect x="444.9" y="342.1" width="2" height="2" fill="#30f890"/><rect x="456.5" y="355.5" width="2" height="2" fill="#20e8a0"/><rect x="433.9" y="375.4" width="2" height="2" fill="#70f040"/><rect x="430.8" y="341.3" width="2" height="2" fill="#20e8a0"/><rect x="411.7" y="365.4" width="2" height="2" fill="#20e8a0"/><rect x="441.8" y="349.3" width="2" height="2" fill="#40ff60"/><rect x="459.5" y="351.5" width="2" height="2" fill="#70f040"/><rect x="453.8" y="375.7" width="2" height="2" fill="#90ff18"/><rect x="434.6" y="334.4" width="2" height="2" fill="#70f040"/><rect x="451.9" y="375.4" width="2" height="2" fill="#20e8a0"/><rect x="426.2" y="358.2" width="2" height="2" fill="#b0f810"/><rect x="453.1" y="355.5" width="2" height="2" fill="#20e8a0"/><rect x="458.2" y="350.0" width="2" height="2" fill="#b0f810"/><rect x="417.9" y="380.4" width="2" height="2" fill="#40ff60"/><rect x="442.2" y="372.3" width="2" height="2" fill="#b0f810"/><rect x="444.1" y="377.8" width="2" height="2" fill="#b0f810"/><rect x="461.4" y="357.3" width="2" height="2" fill="#70f040"/><rect x="433.6" y="376.6" width="2" height="2" fill="#70f040"/><rect x="427.4" y="384.3" width="2" height="2" fill="#40ff60"/><rect x="423.4" y="337.3" width="2" height="2" fill="#70f040"/><rect x="423.8" y="351.7" width="2" height="2" fill="#30f890"/><rect x="456.6" y="379.1" width="2" height="2" fill="#40ff60"/><rect x="427.7" y="375.0" width="2" height="2" fill="#70f040"/><rect x="446.7" y="384.8" width="2" height="2" fill="#40ff60"/><rect x="439.4" y="337.4" width="2" height="2" fill="#70f040"/><rect x="411.9" y="376.5" width="2" height="2" fill="#70f040"/><rect x="452.2" y="343.5" width="2" height="2" fill="#40ff60"/><rect x="455.3" y="363.5" width="2" height="2" fill="#b0f810"/><rect x="434.2" y="356.5" width="2" height="2" fill="#70f040"/><rect x="407.3" y="363.4" width="2" height="2" fill="#30f890"/><rect x="451.7" y="341.9" width="2" height="2" fill="#20e8a0"/><rect x="442.3" y="384.9" width="2" height="2" fill="#40ff60"/><rect x="443.2" y="374.1" width="2" height="2" fill="#70f040"/><rect x="412.1" y="348.5" width="2" height="2" fill="#70f040"/><rect x="435.7" y="350.4" width="2" height="2" fill="#90ff18"/><rect x="422.0" y="352.7" width="2" height="2" fill="#40ff60"/><rect x="447.5" y="357.8" width="2" height="2" fill="#90ff18"/><rect x="412.0" y="353.3" width="2" height="2" fill="#20e8a0"/><rect x="438.5" y="382.8" width="2" height="2" fill="#90ff18"/><rect x="422.8" y="368.9" width="2" height="2" fill="#90ff18"/><rect x="423.2" y="358.6" width="2" height="2" fill="#70f040"/><rect x="437.7" y="333.0" width="2" height="2" fill="#b0f810"/><rect x="440.6" y="371.8" width="2" height="2" fill="#b0f810"/><rect x="425.2" y="351.2" width="2" height="2" fill="#70f040"/><rect x="415.3" y="341.2" width="2" height="2" fill="#90ff18"/><rect x="460.6" y="344.2" width="2" height="2" fill="#90ff18"/><rect x="443.5" y="359.5" width="2" height="2" fill="#b0f810"/><rect x="439.2" y="372.0" width="2" height="2" fill="#70f040"/><rect x="431.8" y="356.3" width="2" height="2" fill="#40ff60"/><rect x="446.7" y="347.5" width="2" height="2" fill="#20e8a0"/><rect x="423.0" y="373.7" width="2" height="2" fill="#30f890"/><rect x="446.9" y="356.0" width="2" height="2" fill="#70f040"/><rect x="455.0" y="346.2" width="2" height="2" fill="#40ff60"/><rect x="447.3" y="376.6" width="2" height="2" fill="#30f890"/><rect x="458.8" y="344.0" width="2" height="2" fill="#b0f810"/><rect x="439.8" y="343.6" width="2" height="2" fill="#30f890"/><rect x="413.9" y="352.7" width="2" height="2" fill="#30f890"/><rect x="425.9" y="364.9" width="2" height="2" fill="#20e8a0"/><rect x="424.9" y="387.2" width="2" height="2" fill="#30f890"/><rect x="428.4" y="339.6" width="2" height="2" fill="#30f890"/><rect x="443.0" y="371.6" width="2" height="2" fill="#20e8a0"/><rect x="425.3" y="373.2" width="2" height="2" fill="#b0f810"/><rect x="418.3" y="336.9" width="2" height="2" fill="#90ff18"/><rect x="440.4" y="346.0" width="2" height="2" fill="#40ff60"/><rect x="442.0" y="366.2" width="2" height="2" fill="#30f890"/><rect x="406.7" y="358.5" width="2" height="2" fill="#b0f810"/><rect x="421.8" y="347.4" width="2" height="2" fill="#70f040"/><rect x="433.6" y="345.8" width="2" height="2" fill="#20e8a0"/><rect x="436.8" y="332.7" width="2" height="2" fill="#40ff60"/><rect x="418.9" y="339.3" width="2" height="2" fill="#20e8a0"/><rect x="435.2" y="348.0" width="2" height="2" fill="#b0f810"/><rect x="416.0" y="360.2" width="2" height="2" fill="#40ff60"/><rect x="419.1" y="361.4" width="2" height="2" fill="#30f890"/><rect x="443.8" y="351.8" width="2" height="2" fill="#b0f810"/><rect x="455.1" y="377.9" width="2" height="2" fill="#90ff18"/><rect x="418.7" y="382.2" width="2" height="2" fill="#90ff18"/><rect x="459.6" y="350.7" width="2" height="2" fill="#b0f810"/><rect x="450.7" y="343.9" width="2" height="2" fill="#30f890"/><rect x="449.1" y="358.7" width="2" height="2" fill="#b0f810"/><rect x="437.6" y="344.8" width="2" height="2" fill="#40ff60"/><rect x="462.5" y="357.4" width="2" height="2" fill="#b0f810"/><rect x="417.5" y="367.0" width="2" height="2" fill="#b0f810"/><rect x="463.3" y="366.5" width="2" height="2" fill="#70f040"/><rect x="456.3" y="348.1" width="2" height="2" fill="#40ff60"/><rect x="454.0" y="349.1" width="2" height="2" fill="#30f890"/><rect x="431.6" y="354.1" width="2" height="2" fill="#b0f810"/><rect x="445.7" y="355.9" width="2" height="2" fill="#b0f810"/><rect x="437.6" y="375.2" width="2" height="2" fill="#20e8a0"/><rect x="431.9" y="349.0" width="2" height="2" fill="#20e8a0"/><rect x="447.6" y="336.7" width="2" height="2" fill="#90ff18"/><rect x="444.2" y="388.4" width="2" height="2" fill="#b0f810"/><rect x="429.6" y="337.5" width="2" height="2" fill="#40ff60"/><rect x="444.9" y="370.3" width="2" height="2" fill="#b0f810"/><rect x="416.9" y="364.9" width="2" height="2" fill="#30f890"/><rect x="432.5" y="365.6" width="2" height="2" fill="#30f890"/><rect x="417.6" y="373.8" width="2" height="2" fill="#b0f810"/><rect x="441.6" y="342.4" width="2" height="2" fill="#90ff18"/><rect x="427.6" y="371.9" width="2" height="2" fill="#90ff18"/><rect x="440.3" y="369.1" width="2" height="2" fill="#b0f810"/><rect x="440.9" y="348.2" width="2" height="2" fill="#90ff18"/><rect x="458.7" y="358.3" width="2" height="2" fill="#70f040"/><rect x="425.5" y="361.7" width="2" height="2" fill="#30f890"/><rect x="425.0" y="333.2" width="2" height="2" fill="#90ff18"/><rect x="423.2" y="364.9" width="2" height="2" fill="#70f040"/><rect x="446.3" y="333.6" width="2" height="2" fill="#90ff18"/><rect x="433.2" y="375.2" width="2" height="2" fill="#40ff60"/><rect x="408.7" y="346.5" width="2" height="2" fill="#40ff60"/><rect x="428.1" y="378.0" width="2" height="2" fill="#70f040"/><rect x="447.0" y="344.9" width="2" height="2" fill="#40ff60"/><rect x="447.2" y="358.2" width="2" height="2" fill="#70f040"/><rect x="428.8" y="381.9" width="2" height="2" fill="#20e8a0"/><rect x="413.2" y="371.1" width="2" height="2" fill="#20e8a0"/><rect x="437.4" y="360.6" width="2" height="2" fill="#70f040"/><rect x="450.1" y="345.7" width="2" height="2" fill="#30f890"/><rect x="456.2" y="341.6" width="2" height="2" fill="#20e8a0"/><rect x="411.8" y="364.0" width="2" height="2" fill="#90ff18"/><rect x="452.5" y="355.4" width="2" height="2" fill="#30f890"/><rect x="432.2" y="328.9" width="2" height="2" fill="#70f040"/><rect x="449.8" y="375.1" width="2" height="2" fill="#90ff18"/><rect x="407.2" y="358.0" width="2" height="2" fill="#90ff18"/><rect x="445.9" y="346.6" width="2" height="2" fill="#70f040"/><rect x="448.4" y="376.6" width="2" height="2" fill="#b0f810"/><rect x="426.1" y="368.9" width="2" height="2" fill="#20e8a0"/><rect x="456.3" y="365.5" width="2" height="2" fill="#70f040"/><rect x="419.5" y="354.5" width="2" height="2" fill="#90ff18"/><rect x="431.2" y="332.2" width="2" height="2" fill="#90ff18"/><rect x="411.1" y="346.8" width="2" height="2" fill="#20e8a0"/><rect x="452.4" y="345.5" width="2" height="2" fill="#20e8a0"/><rect x="434.7" y="364.3" width="2" height="2" fill="#20e8a0"/><rect x="455.4" y="353.8" width="2" height="2" fill="#b0f810"/><rect x="459.8" y="368.0" width="2" height="2" fill="#90ff18"/><rect x="408.1" y="349.4" width="2" height="2" fill="#b0f810"/><rect x="457.9" y="352.8" width="2" height="2" fill="#70f040"/><rect x="424.9" y="377.2" width="2" height="2" fill="#90ff18"/><rect x="415.4" y="382.0" width="2" height="2" fill="#70f040"/><rect x="433.1" y="381.2" width="2" height="2" fill="#40ff60"/><rect x="451.0" y="364.6" width="2" height="2" fill="#70f040"/><rect x="427.8" y="348.5" width="2" height="2" fill="#b0f810"/><rect x="430.5" y="349.1" width="2" height="2" fill="#b0f810"/><rect x="443.0" y="359.4" width="2" height="2" fill="#90ff18"/><rect x="435.6" y="352.2" width="2" height="2" fill="#30f890"/><rect x="457.0" y="354.6" width="2" height="2" fill="#30f890"/><rect x="448.4" y="362.1" width="2" height="2" fill="#b0f810"/><rect x="420.2" y="337.4" width="2" height="2" fill="#70f040"/><rect x="413.1" y="370.1" width="2" height="2" fill="#20e8a0"/><rect x="428.6" y="343.0" width="2" height="2" fill="#30f890"/><rect x="439.0" y="361.6" width="2" height="2" fill="#20e8a0"/><rect x="449.9" y="337.2" width="2" height="2" fill="#20e8a0"/><rect x="439.9" y="360.4" width="2" height="2" fill="#40ff60"/><rect x="452.3" y="376.4" width="2" height="2" fill="#30f890"/><rect x="460.3" y="346.9" width="2" height="2" fill="#30f890"/><rect x="413.7" y="378.5" width="2" height="2" fill="#b0f810"/><rect x="424.6" y="342.8" width="2" height="2" fill="#90ff18"/><rect x="437.4" y="371.6" width="2" height="2" fill="#20e8a0"/><rect x="430.4" y="337.1" width="2" height="2" fill="#30f890"/><rect x="426.6" y="354.9" width="2" height="2" fill="#20e8a0"/><rect x="435.6" y="373.7" width="2" height="2" fill="#b0f810"/><rect x="437.3" y="387.4" width="2" height="2" fill="#20e8a0"/><rect x="435.6" y="359.0" width="2" height="2" fill="#30f890"/><rect x="414.5" y="347.0" width="2" height="2" fill="#40ff60"/><rect x="430.9" y="367.2" width="2" height="2" fill="#b0f810"/><rect x="438.0" y="370.2" width="2" height="2" fill="#90ff18"/><rect x="452.7" y="358.1" width="2" height="2" fill="#b0f810"/><rect x="440.3" y="372.6" width="2" height="2" fill="#40ff60"/><rect x="449.1" y="359.7" width="2" height="2" fill="#20e8a0"/><rect x="428.8" y="377.1" width="2" height="2" fill="#20e8a0"/><rect x="439.6" y="329.5" width="2" height="2" fill="#b0f810"/><rect x="450.9" y="363.9" width="2" height="2" fill="#30f890"/><rect x="455.9" y="358.8" width="2" height="2" fill="#90ff18"/><rect x="421.3" y="347.8" width="2" height="2" fill="#20e8a0"/><rect x="414.9" y="370.6" width="2" height="2" fill="#b0f810"/><rect x="446.1" y="331.6" width="2" height="2" fill="#90ff18"/><rect x="426.4" y="347.5" width="2" height="2" fill="#20e8a0"/><rect x="430.0" y="353.5" width="2" height="2" fill="#30f890"/><rect x="419.0" y="346.1" width="2" height="2" fill="#90ff18"/><rect x="420.5" y="374.5" width="2" height="2" fill="#20e8a0"/><rect x="423.8" y="342.8" width="2" height="2" fill="#90ff18"/><rect x="448.7" y="370.4" width="2" height="2" fill="#70f040"/><rect x="449.7" y="377.4" width="2" height="2" fill="#70f040"/><rect x="444.6" y="331.4" width="2" height="2" fill="#b0f810"/><rect x="440.4" y="356.0" width="2" height="2" fill="#30f890"/><rect x="436.9" y="366.5" width="2" height="2" fill="#70f040"/><rect x="458.7" y="348.9" width="2" height="2" fill="#90ff18"/><rect x="435.4" y="368.0" width="2" height="2" fill="#30f890"/><rect x="442.5" y="366.1" width="2" height="2" fill="#20e8a0"/><rect x="452.7" y="351.7" width="2" height="2" fill="#20e8a0"/><rect x="459.2" y="350.8" width="2" height="2" fill="#b0f810"/><rect x="445.2" y="361.2" width="2" height="2" fill="#90ff18"/><rect x="439.0" y="351.7" width="2" height="2" fill="#b0f810"/><rect x="429.9" y="388.5" width="2" height="2" fill="#40ff60"/></g>
<rect x="407.3" y="364.4" width="1.2" height="1.2" fill="#20c0c0"/><rect x="453.7" y="383.9" width="1.2" height="1.2" fill="#20c0c0"/><rect x="407.1" y="362.9" width="1.2" height="1.2" fill="#000"/><rect x="424.9" y="331.6" width="1.2" height="1.2" fill="#c0d000"/><rect x="463.7" y="359.9" width="1.2" height="1.2" fill="#000"/><rect x="415.8" y="382.2" width="1.2" height="1.2" fill="#e02000"/><rect x="461.5" y="370.3" width="1.2" height="1.2" fill="#2040ff"/><rect x="407.4" y="357.1" width="1.2" height="1.2" fill="#000"/><rect x="444.0" y="330.0" width="1.2" height="1.2" fill="#2040ff"/><rect x="447.3" y="332.5" width="1.2" height="1.2" fill="#e02000"/><rect x="458.6" y="375.5" width="1.2" height="1.2" fill="#000"/><rect x="457.2" y="379.4" width="1.2" height="1.2" fill="#e02000"/><rect x="408.2" y="352.3" width="1.2" height="1.2" fill="#c0d000"/><rect x="449.9" y="385.2" width="1.2" height="1.2" fill="#2040ff"/><rect x="408.4" y="349.3" width="1.2" height="1.2" fill="#2040ff"/><rect x="412.0" y="377.4" width="1.2" height="1.2" fill="#c0d000"/><rect x="407.4" y="365.3" width="1.2" height="1.2" fill="#c0d000"/><rect x="463.0" y="365.3" width="1.2" height="1.2" fill="#e02000"/><rect x="463.3" y="355.2" width="1.2" height="1.2" fill="#20c0c0"/><rect x="461.4" y="348.9" width="1.2" height="1.2" fill="#000"/><rect x="421.8" y="332.1" width="1.2" height="1.2" fill="#e02000"/><rect x="420.6" y="385.8" width="1.2" height="1.2" fill="#c0d000"/><rect x="445.9" y="331.5" width="1.2" height="1.2" fill="#2040ff"/><rect x="414.8" y="379.7" width="1.2" height="1.2" fill="#2040ff"/><rect x="406.4" y="355.9" width="1.2" height="1.2" fill="#000"/><rect x="463.4" y="367.9" width="1.2" height="1.2" fill="#c0d000"/><rect x="458.1" y="377.7" width="1.2" height="1.2" fill="#e02000"/><rect x="460.9" y="374.0" width="1.2" height="1.2" fill="#000"/><rect x="430.5" y="389.7" width="1.2" height="1.2" fill="#2040ff"/><rect x="406.6" y="356.9" width="1.2" height="1.2" fill="#20c0c0"/><rect x="429.6" y="389.3" width="1.2" height="1.2" fill="#000"/><rect x="437.1" y="388.9" width="1.2" height="1.2" fill="#000"/><rect x="460.9" y="345.6" width="1.2" height="1.2" fill="#e02000"/><rect x="438.3" y="329.0" width="1.2" height="1.2" fill="#c0d000"/><rect x="464.3" y="360.9" width="1.2" height="1.2" fill="#20c0c0"/><rect x="447.3" y="386.4" width="1.2" height="1.2" fill="#c0d000"/><rect x="462.8" y="367.1" width="1.2" height="1.2" fill="#20c0c0"/><rect x="463.9" y="359.3" width="1.2" height="1.2" fill="#2040ff"/><rect x="460.4" y="346.6" width="1.2" height="1.2" fill="#20c0c0"/><rect x="416.7" y="336.0" width="1.2" height="1.2" fill="#c0d000"/><rect x="406.7" y="359.2" width="1.2" height="1.2" fill="#20c0c0"/><rect x="433.1" y="388.9" width="1.2" height="1.2" fill="#e02000"/><rect x="408.3" y="369.1" width="1.2" height="1.2" fill="#2040ff"/><rect x="430.4" y="388.6" width="1.2" height="1.2" fill="#c0d000"/><rect x="417.0" y="336.2" width="1.2" height="1.2" fill="#e02000"/><rect x="432.4" y="329.5" width="1.2" height="1.2" fill="#2040ff"/><rect x="423.8" y="332.3" width="1.2" height="1.2" fill="#e02000"/><rect x="408.2" y="348.7" width="1.2" height="1.2" fill="#e02000"/><rect x="436.9" y="389.9" width="1.2" height="1.2" fill="#2040ff"/><rect x="408.9" y="348.6" width="1.2" height="1.2" fill="#20c0c0"/><rect x="437.2" y="329.2" width="1.2" height="1.2" fill="#c0d000"/><rect x="459.3" y="376.4" width="1.2" height="1.2" fill="#e02000"/><rect x="410.0" y="344.9" width="1.2" height="1.2" fill="#20c0c0"/><rect x="416.7" y="336.4" width="1.2" height="1.2" fill="#e02000"/><rect x="463.4" y="362.8" width="1.2" height="1.2" fill="#2040ff"/><rect x="443.5" y="331.4" width="1.2" height="1.2" fill="#000"/><rect x="407.9" y="353.1" width="1.2" height="1.2" fill="#000"/><rect x="442.7" y="330.8" width="1.2" height="1.2" fill="#e02000"/><rect x="424.7" y="386.8" width="1.2" height="1.2" fill="#c0d000"/><rect x="406.9" y="361.2" width="1.2" height="1.2" fill="#e02000"/><rect x="407.7" y="353.2" width="1.2" height="1.2" fill="#000"/><rect x="409.6" y="344.5" width="1.2" height="1.2" fill="#20c0c0"/><rect x="422.7" y="386.4" width="1.2" height="1.2" fill="#e02000"/><rect x="424.3" y="332.1" width="1.2" height="1.2" fill="#20c0c0"/><rect x="425.9" y="331.5" width="1.2" height="1.2" fill="#000"/><rect x="415.7" y="382.9" width="1.2" height="1.2" fill="#000"/><rect x="414.8" y="338.5" width="1.2" height="1.2" fill="#2040ff"/><rect x="421.0" y="333.1" width="1.2" height="1.2" fill="#e02000"/><rect x="457.2" y="339.0" width="1.2" height="1.2" fill="#e02000"/><rect x="464.1" y="361.1" width="1.2" height="1.2" fill="#20c0c0"/><rect x="451.7" y="335.3" width="1.2" height="1.2" fill="#20c0c0"/><rect x="440.5" y="388.6" width="1.2" height="1.2" fill="#c0d000"/><rect x="459.0" y="342.0" width="1.2" height="1.2" fill="#c0d000"/><rect x="407.6" y="366.2" width="1.2" height="1.2" fill="#e02000"/><rect x="408.1" y="367.0" width="1.2" height="1.2" fill="#2040ff"/><rect x="449.6" y="332.8" width="1.2" height="1.2" fill="#c0d000"/><rect x="426.4" y="331.4" width="1.2" height="1.2" fill="#c0d000"/><rect x="422.2" y="333.0" width="1.2" height="1.2" fill="#2040ff"/><rect x="408.6" y="349.7" width="1.2" height="1.2" fill="#20c0c0"/><rect x="437.5" y="328.5" width="1.2" height="1.2" fill="#000"/><rect x="457.8" y="341.3" width="1.2" height="1.2" fill="#e02000"/><rect x="454.4" y="382.8" width="1.2" height="1.2" fill="#c0d000"/><rect x="454.3" y="382.2" width="1.2" height="1.2" fill="#000"/><rect x="444.9" y="330.7" width="1.2" height="1.2" fill="#c0d000"/><rect x="429.6" y="388.7" width="1.2" height="1.2" fill="#c0d000"/><rect x="422.7" y="387.5" width="1.2" height="1.2" fill="#2040ff"/><rect x="450.9" y="334.5" width="1.2" height="1.2" fill="#000"/><rect x="411.1" y="375.3" width="1.2" height="1.2" fill="#20c0c0"/><rect x="420.2" y="384.7" width="1.2" height="1.2" fill="#000"/><rect x="413.7" y="379.8" width="1.2" height="1.2" fill="#e02000"/></g>
<g filter="url(#soft)"><ellipse cx="524.2" cy="359.7" rx="29" ry="31" fill="#48f82c"/>
<g clip-path="url(#c3)" opacity="0.5"><rect x="525.8" y="382.7" width="2" height="2" fill="#40ff60"/><rect x="541.6" y="348.9" width="2" height="2" fill="#20e8a0"/><rect x="527.3" y="361.1" width="2" height="2" fill="#70f040"/><rect x="523.4" y="374.8" width="2" height="2" fill="#b0f810"/><rect x="498.0" y="365.0" width="2" height="2" fill="#70f040"/><rect x="502.6" y="377.1" width="2" height="2" fill="#90ff18"/><rect x="506.2" y="337.9" width="2" height="2" fill="#20e8a0"/><rect x="521.4" y="362.1" width="2" height="2" fill="#30f890"/><rect x="539.6" y="385.4" width="2" height="2" fill="#30f890"/><rect x="522.6" y="364.9" width="2" height="2" fill="#40ff60"/><rect x="499.8" y="364.2" width="2" height="2" fill="#70f040"/><rect x="517.9" y="330.5" width="2" height="2" fill="#70f040"/><rect x="521.2" y="336.2" width="2" height="2" fill="#90ff18"/><rect x="530.8" y="353.0" width="2" height="2" fill="#90ff18"/><rect x="509.4" y="360.2" width="2" height="2" fill="#b0f810"/><rect x="502.9" y="369.3" width="2" height="2" fill="#40ff60"/><rect x="500.7" y="373.2" width="2" height="2" fill="#20e8a0"/><rect x="511.0" y="378.9" width="2" height="2" fill="#20e8a0"/><rect x="526.1" y="377.7" width="2" height="2" fill="#30f890"/><rect x="542.2" y="335.3" width="2" height="2" fill="#b0f810"/><rect x="516.0" y="335.1" width="2" height="2" fill="#40ff60"/><rect x="551.3" y="353.2" width="2" height="2" fill="#20e8a0"/><rect x="543.0" y="375.1" width="2" height="2" fill="#b0f810"/><rect x="535.0" y="339.1" width="2" height="2" fill="#40ff60"/><rect x="538.6" y="375.0" width="2" height="2" fill="#b0f810"/><rect x="532.9" y="359.1" width="2" height="2" fill="#30f890"/><rect x="514.6" y="366.2" width="2" height="2" fill="#40ff60"/><rect x="507.3" y="368.6" width="2" height="2" fill="#30f890"/><rect x="546.2" y="366.4" width="2" height="2" fill="#30f890"/><rect x="508.1" y="376.3" width="2" height="2" fill="#20e8a0"/><rect x="545.4" y="338.7" width="2" height="2" fill="#20e8a0"/><rect x="524.7" y="365.6" width="2" height="2" fill="#30f890"/><rect x="544.2" y="370.9" width="2" height="2" fill="#30f890"/><rect x="551.5" y="350.0" width="2" height="2" fill="#40ff60"/><rect x="515.3" y="351.8" width="2" height="2" fill="#30f890"/><rect x="541.1" y="357.4" width="2" height="2" fill="#40ff60"/><rect x="550.9" y="352.1" width="2" height="2" fill="#70f040"/><rect x="504.7" y="380.0" width="2" height="2" fill="#70f040"/><rect x="510.3" y="340.8" width="2" height="2" fill="#20e8a0"/><rect x="547.2" y="378.2" width="2" height="2" fill="#20e8a0"/><rect x="521.1" y="384.3" width="2" height="2" fill="#b0f810"/><rect x="525.4" y="376.8" width="2" height="2" fill="#40ff60"/><rect x="502.8" y="356.6" width="2" height="2" fill="#30f890"/><rect x="531.1" y="329.6" width="2" height="2" fill="#40ff60"/><rect x="546.9" y="362.8" width="2" height="2" fill="#b0f810"/><rect x="539.8" y="378.1" width="2" height="2" fill="#40ff60"/><rect x="500.7" y="365.1" width="2" height="2" fill="#40ff60"/><rect x="512.2" y="349.3" width="2" height="2" fill="#70f040"/><rect x="531.3" y="360.8" width="2" height="2" fill="#b0f810"/><rect x="541.8" y="362.2" width="2" height="2" fill="#b0f810"/><rect x="502.6" y="366.2" width="2" height="2" fill="#40ff60"/><rect x="529.7" y="371.8" width="2" height="2" fill="#40ff60"/><rect x="532.5" y="346.4" width="2" height="2" fill="#70f040"/><rect x="545.0" y="376.9" width="2" height="2" fill="#20e8a0"/><rect x="519.9" y="349.4" width="2" height="2" fill="#20e8a0"/><rect x="528.7" y="387.3" width="2" height="2" fill="#90ff18"/><rect x="512.9" y="382.4" width="2" height="2" fill="#b0f810"/><rect x="521.2" y="350.3" width="2" height="2" fill="#40ff60"/><rect x="547.0" y="351.6" width="2" height="2" fill="#90ff18"/><rect x="499.2" y="370.6" width="2" height="2" fill="#90ff18"/><rect x="546.2" y="372.6" width="2" height="2" fill="#90ff18"/><rect x="538.9" y="345.8" width="2" height="2" fill="#90ff18"/><rect x="525.4" y="354.1" width="2" height="2" fill="#90ff18"/><rect x="513.6" y="385.9" width="2" height="2" fill="#20e8a0"/><rect x="530.4" y="374.8" width="2" height="2" fill="#b0f810"/><rect x="543.9" y="372.3" width="2" height="2" fill="#20e8a0"/><rect x="535.0" y="372.0" width="2" height="2" fill="#40ff60"/><rect x="501.5" y="365.2" width="2" height="2" fill="#40ff60"/><rect x="507.8" y="369.3" width="2" height="2" fill="#70f040"/><rect x="525.3" y="361.5" width="2" height="2" fill="#20e8a0"/><rect x="543.4" y="358.0" width="2" height="2" fill="#b0f810"/><rect x="528.6" y="386.2" width="2" height="2" fill="#b0f810"/><rect x="523.8" y="329.1" width="2" height="2" fill="#20e8a0"/><rect x="516.7" y="372.2" width="2" height="2" fill="#30f890"/><rect x="542.3" y="335.8" width="2" height="2" fill="#30f890"/><rect x="526.5" y="353.5" width="2" height="2" fill="#b0f810"/><rect x="511.2" y="358.6" width="2" height="2" fill="#70f040"/><rect x="521.2" y="358.0" width="2" height="2" fill="#b0f810"/><rect x="539.2" y="374.9" width="2" height="2" fill="#90ff18"/><rect x="513.2" y="340.4" width="2" height="2" fill="#70f040"/><rect x="550.6" y="369.5" width="2" height="2" fill="#30f890"/><rect x="516.2" y="372.9" width="2" height="2" fill="#20e8a0"/><rect x="498.6" y="363.6" width="2" height="2" fill="#40ff60"/><rect x="526.1" y="370.4" width="2" height="2" fill="#30f890"/><rect x="536.5" y="384.1" width="2" height="2" fill="#90ff18"/><rect x="525.3" y="357.3" width="2" height="2" fill="#b0f810"/><rect x="507.5" y="351.2" width="2" height="2" fill="#40ff60"/><rect x="524.5" y="384.2" width="2" height="2" fill="#20e8a0"/><rect x="506.4" y="369.7" width="2" height="2" fill="#30f890"/><rect x="540.2" y="338.2" width="2" height="2" fill="#30f890"/><rect x="529.6" y="365.5" width="2" height="2" fill="#30f890"/><rect x="529.4" y="352.4" width="2" height="2" fill="#20e8a0"/><rect x="512.7" y="360.5" width="2" height="2" fill="#30f890"/><rect x="510.2" y="379.9" width="2" height="2" fill="#20e8a0"/><rect x="519.2" y="374.8" width="2" height="2" fill="#40ff60"/><rect x="514.8" y="364.5" width="2" height="2" fill="#30f890"/><rect x="520.4" y="340.9" width="2" height="2" fill="#30f890"/><rect x="518.7" y="357.1" width="2" height="2" fill="#70f040"/><rect x="503.7" y="342.9" width="2" height="2" fill="#70f040"/><rect x="520.2" y="354.8" width="2" height="2" fill="#70f040"/><rect x="546.1" y="367.8" width="2" height="2" fill="#b0f810"/><rect x="512.9" y="387.6" width="2" height="2" fill="#70f040"/><rect x="510.2" y="363.5" width="2" height="2" fill="#20e8a0"/><rect x="521.4" y="383.5" width="2" height="2" fill="#70f040"/><rect x="525.9" y="370.8" width="2" height="2" fill="#30f890"/><rect x="540.7" y="352.3" width="2" height="2" fill="#20e8a0"/><rect x="528.0" y="344.2" width="2" height="2" fill="#70f040"/><rect x="513.9" y="331.6" width="2" height="2" fill="#b0f810"/><rect x="509.8" y="334.7" width="2" height="2" fill="#70f040"/><rect x="511.8" y="336.5" width="2" height="2" fill="#20e8a0"/><rect x="498.4" y="354.1" width="2" height="2" fill="#b0f810"/><rect x="535.3" y="360.1" width="2" height="2" fill="#70f040"/><rect x="532.7" y="362.3" width="2" height="2" fill="#30f890"/><rect x="514.5" y="343.6" width="2" height="2" fill="#30f890"/><rect x="509.5" y="383.9" width="2" height="2" fill="#30f890"/><rect x="537.5" y="338.4" width="2" height="2" fill="#b0f810"/><rect x="545.4" y="352.7" width="2" height="2" fill="#30f890"/><rect x="549.1" y="365.9" width="2" height="2" fill="#20e8a0"/><rect x="510.2" y="356.9" width="2" height="2" fill="#20e8a0"/><rect x="524.0" y="329.5" width="2" height="2" fill="#30f890"/><rect x="498.3" y="350.7" width="2" height="2" fill="#90ff18"/><rect x="531.0" y="346.2" width="2" height="2" fill="#90ff18"/><rect x="512.2" y="343.0" width="2" height="2" fill="#b0f810"/><rect x="524.6" y="340.1" width="2" height="2" fill="#40ff60"/><rect x="501.3" y="342.0" width="2" height="2" fill="#20e8a0"/><rect x="516.9" y="364.1" width="2" height="2" fill="#20e8a0"/><rect x="526.8" y="389.7" width="2" height="2" fill="#b0f810"/><rect x="542.6" y="355.6" width="2" height="2" fill="#20e8a0"/><rect x="525.1" y="334.1" width="2" height="2" fill="#20e8a0"/><rect x="519.7" y="348.4" width="2" height="2" fill="#70f040"/><rect x="533.2" y="352.5" width="2" height="2" fill="#30f890"/><rect x="503.9" y="360.0" width="2" height="2" fill="#b0f810"/><rect x="504.9" y="357.5" width="2" height="2" fill="#b0f810"/><rect x="531.0" y="350.7" width="2" height="2" fill="#90ff18"/><rect x="536.9" y="377.5" width="2" height="2" fill="#90ff18"/><rect x="537.0" y="341.3" width="2" height="2" fill="#40ff60"/><rect x="511.4" y="334.3" width="2" height="2" fill="#20e8a0"/><rect x="537.7" y="340.7" width="2" height="2" fill="#40ff60"/><rect x="536.6" y="348.6" width="2" height="2" fill="#40ff60"/><rect x="506.3" y="362.2" width="2" height="2" fill="#90ff18"/><rect x="511.3" y="353.2" width="2" height="2" fill="#70f040"/><rect x="525.9" y="348.0" width="2" height="2" fill="#b0f810"/><rect x="501.8" y="362.8" width="2" height="2" fill="#70f040"/><rect x="499.9" y="345.3" width="2" height="2" fill="#b0f810"/><rect x="505.2" y="352.1" width="2" height="2" fill="#b0f810"/><rect x="549.7" y="373.0" width="2" height="2" fill="#b0f810"/><rect x="528.8" y="355.2" width="2" height="2" fill="#90ff18"/><rect x="542.4" y="343.8" width="2" height="2" fill="#b0f810"/><rect x="536.5" y="365.8" width="2" height="2" fill="#40ff60"/><rect x="524.8" y="373.3" width="2" height="2" fill="#40ff60"/><rect x="539.2" y="378.4" width="2" height="2" fill="#b0f810"/><rect x="541.7" y="336.7" width="2" height="2" fill="#40ff60"/><rect x="527.2" y="365.5" width="2" height="2" fill="#90ff18"/><rect x="502.1" y="372.0" width="2" height="2" fill="#30f890"/><rect x="535.3" y="370.5" width="2" height="2" fill="#40ff60"/><rect x="543.3" y="364.4" width="2" height="2" fill="#b0f810"/><rect x="523.1" y="357.4" width="2" height="2" fill="#40ff60"/><rect x="515.4" y="376.5" width="2" height="2" fill="#30f890"/><rect x="529.7" y="382.8" width="2" height="2" fill="#70f040"/><rect x="507.5" y="374.3" width="2" height="2" fill="#30f890"/><rect x="530.2" y="353.9" width="2" height="2" fill="#70f040"/><rect x="545.1" y="378.8" width="2" height="2" fill="#40ff60"/><rect x="547.4" y="377.0" width="2" height="2" fill="#40ff60"/><rect x="516.5" y="342.6" width="2" height="2" fill="#70f040"/><rect x="517.4" y="384.3" width="2" height="2" fill="#b0f810"/><rect x="549.0" y="350.0" width="2" height="2" fill="#30f890"/><rect x="525.0" y="329.1" width="2" height="2" fill="#b0f810"/><rect x="504.8" y="350.6" width="2" height="2" fill="#b0f810"/><rect x="506.9" y="360.4" width="2" height="2" fill="#b0f810"/><rect x="517.3" y="385.3" width="2" height="2" fill="#b0f810"/><rect x="533.9" y="382.5" width="2" height="2" fill="#b0f810"/><rect x="534.7" y="375.0" width="2" height="2" fill="#b0f810"/><rect x="515.0" y="362.6" width="2" height="2" fill="#20e8a0"/><rect x="534.8" y="373.6" width="2" height="2" fill="#b0f810"/><rect x="513.0" y="343.4" width="2" height="2" fill="#40ff60"/><rect x="512.3" y="342.8" width="2" height="2" fill="#40ff60"/><rect x="529.1" y="334.0" width="2" height="2" fill="#30f890"/><rect x="518.8" y="333.2" width="2" height="2" fill="#20e8a0"/><rect x="508.0" y="350.7" width="2" height="2" fill="#30f890"/><rect x="522.4" y="378.9" width="2" height="2" fill="#90ff18"/><rect x="544.2" y="365.5" width="2" height="2" fill="#90ff18"/><rect x="517.2" y="338.6" width="2" height="2" fill="#40ff60"/><rect x="542.6" y="352.6" width="2" height="2" fill="#30f890"/><rect x="508.0" y="382.6" width="2" height="2" fill="#30f890"/><rect x="537.2" y="379.2" width="2" height="2" fill="#b0f810"/><rect x="543.8" y="377.6" width="2" height="2" fill="#b0f810"/><rect x="542.8" y="376.6" width="2" height="2" fill="#20e8a0"/><rect x="502.4" y="373.2" width="2" height="2" fill="#b0f810"/><rect x="539.9" y="377.3" width="2" height="2" fill="#70f040"/><rect x="530.6" y="337.7" width="2" height="2" fill="#90ff18"/><rect x="512.3" y="353.9" width="2" height="2" fill="#40ff60"/><rect x="513.4" y="372.0" width="2" height="2" fill="#70f040"/><rect x="546.3" y="340.5" width="2" height="2" fill="#70f040"/><rect x="513.0" y="386.9" width="2" height="2" fill="#40ff60"/><rect x="504.9" y="336.7" width="2" height="2" fill="#b0f810"/><rect x="516.8" y="331.2" width="2" height="2" fill="#b0f810"/><rect x="501.7" y="362.1" width="2" height="2" fill="#b0f810"/><rect x="517.8" y="352.1" width="2" height="2" fill="#b0f810"/><rect x="525.4" y="372.6" width="2" height="2" fill="#b0f810"/><rect x="511.8" y="363.1" width="2" height="2" fill="#20e8a0"/><rect x="530.4" y="387.0" width="2" height="2" fill="#b0f810"/><rect x="533.4" y="356.3" width="2" height="2" fill="#40ff60"/><rect x="550.9" y="352.2" width="2" height="2" fill="#90ff18"/><rect x="515.7" y="361.6" width="2" height="2" fill="#30f890"/><rect x="546.9" y="363.6" width="2" height="2" fill="#20e8a0"/><rect x="543.1" y="370.5" width="2" height="2" fill="#40ff60"/><rect x="512.1" y="385.8" width="2" height="2" fill="#b0f810"/><rect x="521.3" y="351.4" width="2" height="2" fill="#20e8a0"/><rect x="525.1" y="354.0" width="2" height="2" fill="#30f890"/><rect x="523.1" y="341.4" width="2" height="2" fill="#90ff18"/><rect x="548.8" y="347.7" width="2" height="2" fill="#70f040"/><rect x="519.9" y="345.8" width="2" height="2" fill="#40ff60"/><rect x="528.9" y="363.8" width="2" height="2" fill="#30f890"/><rect x="538.0" y="338.0" width="2" height="2" fill="#70f040"/><rect x="499.8" y="360.2" width="2" height="2" fill="#20e8a0"/><rect x="532.2" y="348.3" width="2" height="2" fill="#70f040"/><rect x="517.5" y="379.7" width="2" height="2" fill="#b0f810"/><rect x="514.1" y="367.4" width="2" height="2" fill="#30f890"/><rect x="520.9" y="341.1" width="2" height="2" fill="#40ff60"/><rect x="507.6" y="365.7" width="2" height="2" fill="#70f040"/><rect x="524.4" y="361.3" width="2" height="2" fill="#90ff18"/><rect x="523.2" y="378.6" width="2" height="2" fill="#70f040"/><rect x="512.8" y="357.1" width="2" height="2" fill="#30f890"/><rect x="533.1" y="377.1" width="2" height="2" fill="#90ff18"/><rect x="517.1" y="350.9" width="2" height="2" fill="#20e8a0"/><rect x="534.2" y="378.7" width="2" height="2" fill="#30f890"/><rect x="534.3" y="343.1" width="2" height="2" fill="#40ff60"/><rect x="503.7" y="374.0" width="2" height="2" fill="#30f890"/><rect x="524.6" y="365.9" width="2" height="2" fill="#70f040"/><rect x="552.5" y="364.8" width="2" height="2" fill="#90ff18"/><rect x="525.2" y="379.1" width="2" height="2" fill="#90ff18"/><rect x="536.0" y="380.9" width="2" height="2" fill="#40ff60"/><rect x="543.4" y="347.2" width="2" height="2" fill="#b0f810"/><rect x="516.9" y="389.6" width="2" height="2" fill="#70f040"/><rect x="531.2" y="330.0" width="2" height="2" fill="#70f040"/><rect x="524.2" y="375.8" width="2" height="2" fill="#40ff60"/><rect x="512.4" y="346.4" width="2" height="2" fill="#30f890"/><rect x="542.3" y="366.9" width="2" height="2" fill="#30f890"/><rect x="522.7" y="358.7" width="2" height="2" fill="#30f890"/><rect x="522.5" y="355.8" width="2" height="2" fill="#20e8a0"/><rect x="530.8" y="361.4" width="2" height="2" fill="#b0f810"/><rect x="507.4" y="358.6" width="2" height="2" fill="#70f040"/><rect x="513.4" y="377.9" width="2" height="2" fill="#40ff60"/><rect x="529.2" y="357.6" width="2" height="2" fill="#40ff60"/><rect x="524.4" y="334.9" width="2" height="2" fill="#70f040"/><rect x="537.7" y="368.6" width="2" height="2" fill="#70f040"/><rect x="537.9" y="372.6" width="2" height="2" fill="#40ff60"/><rect x="499.1" y="353.4" width="2" height="2" fill="#70f040"/><rect x="535.7" y="383.6" width="2" height="2" fill="#b0f810"/><rect x="502.9" y="379.6" width="2" height="2" fill="#40ff60"/><rect x="539.8" y="351.0" width="2" height="2" fill="#70f040"/><rect x="506.2" y="367.5" width="2" height="2" fill="#b0f810"/><rect x="509.2" y="361.7" width="2" height="2" fill="#90ff18"/><rect x="498.9" y="358.5" width="2" height="2" fill="#b0f810"/><rect x="514.9" y="331.0" width="2" height="2" fill="#30f890"/><rect x="538.2" y="381.4" width="2" height="2" fill="#30f890"/><rect x="528.1" y="351.2" width="2" height="2" fill="#b0f810"/><rect x="520.2" y="351.0" width="2" height="2" fill="#90ff18"/><rect x="503.1" y="343.2" width="2" height="2" fill="#30f890"/><rect x="543.9" y="339.6" width="2" height="2" fill="#70f040"/><rect x="497.6" y="365.8" width="2" height="2" fill="#b0f810"/><rect x="515.3" y="376.1" width="2" height="2" fill="#30f890"/><rect x="533.0" y="385.7" width="2" height="2" fill="#30f890"/><rect x="515.6" y="374.5" width="2" height="2" fill="#70f040"/><rect x="544.8" y="371.9" width="2" height="2" fill="#90ff18"/><rect x="513.3" y="331.1" width="2" height="2" fill="#b0f810"/><rect x="542.2" y="383.9" width="2" height="2" fill="#30f890"/><rect x="527.8" y="390.1" width="2" height="2" fill="#90ff18"/><rect x="536.6" y="341.6" width="2" height="2" fill="#20e8a0"/><rect x="528.6" y="335.9" width="2" height="2" fill="#20e8a0"/><rect x="528.2" y="338.8" width="2" height="2" fill="#20e8a0"/><rect x="547.5" y="373.2" width="2" height="2" fill="#30f890"/><rect x="502.1" y="343.0" width="2" height="2" fill="#30f890"/><rect x="532.9" y="387.7" width="2" height="2" fill="#30f890"/><rect x="538.5" y="372.2" width="2" height="2" fill="#b0f810"/><rect x="506.7" y="343.1" width="2" height="2" fill="#b0f810"/><rect x="536.1" y="346.5" width="2" height="2" fill="#20e8a0"/><rect x="510.5" y="336.4" width="2" height="2" fill="#40ff60"/><rect x="535.7" y="339.0" width="2" height="2" fill="#70f040"/><rect x="530.1" y="381.7" width="2" height="2" fill="#70f040"/><rect x="517.1" y="383.5" width="2" height="2" fill="#40ff60"/><rect x="512.7" y="377.6" width="2" height="2" fill="#30f890"/><rect x="545.7" y="347.8" width="2" height="2" fill="#40ff60"/><rect x="503.4" y="371.4" width="2" height="2" fill="#20e8a0"/><rect x="509.7" y="357.9" width="2" height="2" fill="#30f890"/><rect x="514.4" y="377.3" width="2" height="2" fill="#30f890"/><rect x="524.1" y="377.4" width="2" height="2" fill="#b0f810"/><rect x="546.8" y="348.5" width="2" height="2" fill="#b0f810"/><rect x="502.7" y="340.2" width="2" height="2" fill="#20e8a0"/><rect x="534.8" y="344.6" width="2" height="2" fill="#90ff18"/><rect x="547.5" y="342.3" width="2" height="2" fill="#70f040"/><rect x="546.9" y="340.5" width="2" height="2" fill="#70f040"/><rect x="552.2" y="359.2" width="2" height="2" fill="#40ff60"/><rect x="528.0" y="358.6" width="2" height="2" fill="#30f890"/><rect x="535.4" y="361.8" width="2" height="2" fill="#20e8a0"/><rect x="501.0" y="356.7" width="2" height="2" fill="#30f890"/><rect x="528.7" y="373.1" width="2" height="2" fill="#70f040"/><rect x="508.6" y="367.3" width="2" height="2" fill="#b0f810"/><rect x="532.7" y="385.8" width="2" height="2" fill="#90ff18"/><rect x="536.9" y="370.0" width="2" height="2" fill="#70f040"/><rect x="511.8" y="364.6" width="2" height="2" fill="#70f040"/><rect x="526.2" y="333.7" width="2" height="2" fill="#70f040"/><rect x="551.3" y="356.0" width="2" height="2" fill="#40ff60"/><rect x="542.2" y="352.5" width="2" height="2" fill="#70f040"/><rect x="495.4" y="364.8" width="2" height="2" fill="#90ff18"/><rect x="507.1" y="381.9" width="2" height="2" fill="#40ff60"/><rect x="541.7" y="363.2" width="2" height="2" fill="#40ff60"/><rect x="529.8" y="343.8" width="2" height="2" fill="#90ff18"/><rect x="543.3" y="350.1" width="2" height="2" fill="#30f890"/><rect x="538.6" y="376.4" width="2" height="2" fill="#20e8a0"/><rect x="552.4" y="363.7" width="2" height="2" fill="#30f890"/><rect x="531.5" y="385.9" width="2" height="2" fill="#70f040"/><rect x="506.6" y="383.9" width="2" height="2" fill="#40ff60"/><rect x="529.6" y="358.9" width="2" height="2" fill="#90ff18"/><rect x="525.3" y="376.1" width="2" height="2" fill="#40ff60"/><rect x="535.8" y="338.9" width="2" height="2" fill="#30f890"/><rect x="510.0" y="364.6" width="2" height="2" fill="#b0f810"/><rect x="530.3" y="340.6" width="2" height="2" fill="#40ff60"/><rect x="521.5" y="364.2" width="2" height="2" fill="#30f890"/><rect x="507.5" y="341.3" width="2" height="2" fill="#20e8a0"/><rect x="524.4" y="371.2" width="2" height="2" fill="#70f040"/><rect x="497.6" y="358.1" width="2" height="2" fill="#20e8a0"/><rect x="526.7" y="362.7" width="2" height="2" fill="#30f890"/><rect x="547.5" y="362.4" width="2" height="2" fill="#70f040"/><rect x="500.9" y="364.9" width="2" height="2" fill="#20e8a0"/><rect x="506.5" y="357.9" width="2" height="2" fill="#b0f810"/><rect x="530.2" y="371.4" width="2" height="2" fill="#b0f810"/><rect x="541.2" y="381.6" width="2" height="2" fill="#30f890"/><rect x="509.7" y="369.8" width="2" height="2" fill="#70f040"/><rect x="521.6" y="375.2" width="2" height="2" fill="#40ff60"/><rect x="535.3" y="356.6" width="2" height="2" fill="#40ff60"/><rect x="527.8" y="364.4" width="2" height="2" fill="#70f040"/><rect x="540.0" y="336.8" width="2" height="2" fill="#20e8a0"/><rect x="520.3" y="356.2" width="2" height="2" fill="#20e8a0"/><rect x="516.1" y="353.6" width="2" height="2" fill="#90ff18"/><rect x="519.6" y="385.5" width="2" height="2" fill="#40ff60"/><rect x="543.3" y="375.0" width="2" height="2" fill="#40ff60"/><rect x="544.1" y="364.3" width="2" height="2" fill="#b0f810"/><rect x="508.8" y="365.3" width="2" height="2" fill="#40ff60"/><rect x="531.8" y="377.2" width="2" height="2" fill="#70f040"/><rect x="518.1" y="374.6" width="2" height="2" fill="#30f890"/><rect x="539.6" y="353.6" width="2" height="2" fill="#70f040"/><rect x="519.0" y="357.7" width="2" height="2" fill="#70f040"/><rect x="524.2" y="390.6" width="2" height="2" fill="#30f890"/><rect x="495.7" y="360.6" width="2" height="2" fill="#b0f810"/><rect x="542.8" y="370.5" width="2" height="2" fill="#b0f810"/><rect x="517.3" y="351.6" width="2" height="2" fill="#30f890"/><rect x="551.1" y="348.7" width="2" height="2" fill="#b0f810"/><rect x="537.9" y="366.5" width="2" height="2" fill="#70f040"/><rect x="508.9" y="363.7" width="2" height="2" fill="#20e8a0"/><rect x="537.8" y="364.1" width="2" height="2" fill="#90ff18"/><rect x="541.3" y="383.1" width="2" height="2" fill="#90ff18"/><rect x="516.9" y="339.9" width="2" height="2" fill="#70f040"/><rect x="517.6" y="350.3" width="2" height="2" fill="#30f890"/><rect x="534.0" y="382.1" width="2" height="2" fill="#40ff60"/><rect x="534.0" y="386.0" width="2" height="2" fill="#90ff18"/><rect x="551.5" y="368.9" width="2" height="2" fill="#20e8a0"/><rect x="529.9" y="386.5" width="2" height="2" fill="#70f040"/><rect x="501.9" y="379.5" width="2" height="2" fill="#40ff60"/><rect x="532.0" y="366.2" width="2" height="2" fill="#40ff60"/><rect x="536.3" y="373.0" width="2" height="2" fill="#20e8a0"/><rect x="535.5" y="366.1" width="2" height="2" fill="#40ff60"/><rect x="553.1" y="359.1" width="2" height="2" fill="#90ff18"/><rect x="544.0" y="368.8" width="2" height="2" fill="#70f040"/><rect x="545.6" y="377.1" width="2" height="2" fill="#70f040"/><rect x="541.2" y="362.2" width="2" height="2" fill="#b0f810"/><rect x="536.0" y="343.2" width="2" height="2" fill="#70f040"/><rect x="503.3" y="364.8" width="2" height="2" fill="#70f040"/><rect x="535.9" y="376.7" width="2" height="2" fill="#70f040"/><rect x="531.1" y="382.6" width="2" height="2" fill="#b0f810"/><rect x="531.4" y="348.9" width="2" height="2" fill="#90ff18"/><rect x="513.3" y="385.8" width="2" height="2" fill="#90ff18"/><rect x="551.5" y="369.8" width="2" height="2" fill="#70f040"/><rect x="514.9" y="351.0" width="2" height="2" fill="#20e8a0"/><rect x="551.3" y="362.2" width="2" height="2" fill="#70f040"/><rect x="548.3" y="358.3" width="2" height="2" fill="#20e8a0"/><rect x="519.2" y="344.2" width="2" height="2" fill="#70f040"/><rect x="505.4" y="354.5" width="2" height="2" fill="#90ff18"/><rect x="512.7" y="351.8" width="2" height="2" fill="#70f040"/><rect x="506.4" y="358.9" width="2" height="2" fill="#40ff60"/><rect x="503.6" y="345.5" width="2" height="2" fill="#b0f810"/><rect x="549.2" y="348.4" width="2" height="2" fill="#40ff60"/><rect x="517.6" y="389.7" width="2" height="2" fill="#40ff60"/><rect x="533.5" y="381.8" width="2" height="2" fill="#90ff18"/><rect x="522.3" y="341.6" width="2" height="2" fill="#b0f810"/><rect x="524.4" y="380.3" width="2" height="2" fill="#40ff60"/><rect x="504.9" y="366.0" width="2" height="2" fill="#20e8a0"/><rect x="527.1" y="347.0" width="2" height="2" fill="#20e8a0"/><rect x="505.1" y="356.0" width="2" height="2" fill="#20e8a0"/><rect x="542.1" y="366.1" width="2" height="2" fill="#20e8a0"/><rect x="539.0" y="337.2" width="2" height="2" fill="#30f890"/><rect x="525.7" y="378.9" width="2" height="2" fill="#90ff18"/><rect x="541.8" y="357.5" width="2" height="2" fill="#90ff18"/><rect x="543.5" y="367.2" width="2" height="2" fill="#30f890"/><rect x="499.5" y="371.9" width="2" height="2" fill="#b0f810"/><rect x="521.2" y="358.4" width="2" height="2" fill="#40ff60"/><rect x="505.8" y="359.0" width="2" height="2" fill="#40ff60"/><rect x="544.4" y="345.6" width="2" height="2" fill="#30f890"/><rect x="514.6" y="353.7" width="2" height="2" fill="#90ff18"/><rect x="531.6" y="359.7" width="2" height="2" fill="#30f890"/></g><g clip-path="url(#c3)"><rect x="534.0" y="360.5" width="1.0" height="1.0" fill="#2060ff"/><rect x="528.0" y="364.7" width="1.0" height="1.0" fill="#000"/><rect x="500.2" y="353.9" width="1.0" height="1.0" fill="#103010"/><rect x="539.3" y="381.2" width="1.0" height="1.0" fill="#20e0a0"/><rect x="537.2" y="365.3" width="1.0" height="1.0" fill="#20e0a0"/><rect x="506.4" y="366.2" width="1.0" height="1.0" fill="#20c0c0"/><rect x="527.7" y="362.2" width="1.0" height="1.0" fill="#2060ff"/><rect x="517.0" y="371.6" width="1.0" height="1.0" fill="#2060ff"/><rect x="505.3" y="382.6" width="1.0" height="1.0" fill="#103010"/><rect x="521.1" y="339.8" width="1.0" height="1.0" fill="#20e0a0"/><rect x="496.9" y="350.8" width="1.0" height="1.0" fill="#103010"/><rect x="516.1" y="370.8" width="1.0" height="1.0" fill="#2060ff"/><rect x="548.8" y="364.8" width="1.0" height="1.0" fill="#2060ff"/><rect x="516.3" y="347.8" width="1.0" height="1.0" fill="#2060ff"/><rect x="522.6" y="346.1" width="1.0" height="1.0" fill="#20e0a0"/><rect x="532.7" y="340.0" width="1.0" height="1.0" fill="#c0a000"/><rect x="515.5" y="375.2" width="1.0" height="1.0" fill="#2060ff"/><rect x="500.8" y="362.6" width="1.0" height="1.0" fill="#c0a000"/><rect x="552.2" y="352.3" width="1.0" height="1.0" fill="#000"/><rect x="528.2" y="343.0" width="1.0" height="1.0" fill="#103010"/><rect x="497.9" y="348.6" width="1.0" height="1.0" fill="#20e0a0"/><rect x="520.8" y="372.2" width="1.0" height="1.0" fill="#000"/><rect x="544.1" y="348.2" width="1.0" height="1.0" fill="#20e0a0"/><rect x="547.2" y="352.9" width="1.0" height="1.0" fill="#c0a000"/><rect x="544.1" y="346.2" width="1.0" height="1.0" fill="#103010"/><rect x="534.1" y="368.9" width="1.0" height="1.0" fill="#c0a000"/><rect x="499.8" y="369.1" width="1.0" height="1.0" fill="#20c0c0"/><rect x="520.8" y="344.0" width="1.0" height="1.0" fill="#20e0a0"/><rect x="533.6" y="369.1" width="1.0" height="1.0" fill="#c0a000"/><rect x="539.4" y="386.2" width="1.0" height="1.0" fill="#103010"/><rect x="503.8" y="363.1" width="1.0" height="1.0" fill="#20c0c0"/><rect x="521.1" y="378.4" width="1.0" height="1.0" fill="#20c0c0"/><rect x="501.8" y="361.2" width="1.0" height="1.0" fill="#000"/><rect x="498.2" y="362.2" width="1.0" height="1.0" fill="#20c0c0"/><rect x="514.1" y="330.9" width="1.0" height="1.0" fill="#000"/><rect x="523.4" y="387.0" width="1.0" height="1.0" fill="#2060ff"/><rect x="522.4" y="362.4" width="1.0" height="1.0" fill="#2060ff"/><rect x="507.3" y="349.4" width="1.0" height="1.0" fill="#000"/><rect x="539.0" y="377.0" width="1.0" height="1.0" fill="#20c0c0"/><rect x="546.0" y="367.3" width="1.0" height="1.0" fill="#103010"/><rect x="531.1" y="330.2" width="1.0" height="1.0" fill="#c0a000"/><rect x="516.1" y="338.1" width="1.0" height="1.0" fill="#20c0c0"/><rect x="517.0" y="338.4" width="1.0" height="1.0" fill="#20c0c0"/><rect x="507.0" y="372.8" width="1.0" height="1.0" fill="#20e0a0"/><rect x="512.0" y="348.3" width="1.0" height="1.0" fill="#2060ff"/><rect x="516.0" y="376.6" width="1.0" height="1.0" fill="#20c0c0"/><rect x="529.4" y="333.4" width="1.0" height="1.0" fill="#c0a000"/><rect x="516.0" y="337.6" width="1.0" height="1.0" fill="#103010"/><rect x="547.2" y="366.4" width="1.0" height="1.0" fill="#20e0a0"/><rect x="514.4" y="365.0" width="1.0" height="1.0" fill="#2060ff"/><rect x="534.0" y="350.2" width="1.0" height="1.0" fill="#20e0a0"/><rect x="516.4" y="382.1" width="1.0" height="1.0" fill="#c0a000"/><rect x="521.7" y="331.4" width="1.0" height="1.0" fill="#000"/><rect x="498.0" y="364.6" width="1.0" height="1.0" fill="#c0a000"/><rect x="523.5" y="373.7" width="1.0" height="1.0" fill="#20e0a0"/><rect x="512.1" y="374.6" width="1.0" height="1.0" fill="#2060ff"/><rect x="514.5" y="368.9" width="1.0" height="1.0" fill="#103010"/><rect x="517.2" y="375.0" width="1.0" height="1.0" fill="#c0a000"/><rect x="534.5" y="369.1" width="1.0" height="1.0" fill="#103010"/><rect x="542.4" y="342.5" width="1.0" height="1.0" fill="#2060ff"/><rect x="501.7" y="367.2" width="1.0" height="1.0" fill="#20e0a0"/><rect x="526.4" y="364.9" width="1.0" height="1.0" fill="#2060ff"/><rect x="539.1" y="382.8" width="1.0" height="1.0" fill="#000"/><rect x="539.5" y="357.8" width="1.0" height="1.0" fill="#c0a000"/><rect x="525.0" y="342.6" width="1.0" height="1.0" fill="#103010"/><rect x="507.9" y="350.2" width="1.0" height="1.0" fill="#103010"/><rect x="525.0" y="371.4" width="1.0" height="1.0" fill="#20e0a0"/><rect x="508.2" y="355.2" width="1.0" height="1.0" fill="#000"/><rect x="512.4" y="336.7" width="1.0" height="1.0" fill="#000"/><rect x="509.2" y="376.1" width="1.0" height="1.0" fill="#c0a000"/><rect x="514.5" y="339.8" width="1.0" height="1.0" fill="#c0a000"/><rect x="517.7" y="377.8" width="1.0" height="1.0" fill="#20e0a0"/><rect x="530.5" y="388.3" width="1.0" height="1.0" fill="#2060ff"/><rect x="545.2" y="366.7" width="1.0" height="1.0" fill="#20e0a0"/><rect x="526.0" y="388.4" width="1.0" height="1.0" fill="#2060ff"/><rect x="517.5" y="343.4" width="1.0" height="1.0" fill="#000"/><rect x="526.3" y="352.3" width="1.0" height="1.0" fill="#103010"/><rect x="520.9" y="332.7" width="1.0" height="1.0" fill="#2060ff"/><rect x="528.2" y="365.0" width="1.0" height="1.0" fill="#c0a000"/><rect x="532.7" y="330.9" width="1.0" height="1.0" fill="#103010"/><rect x="505.4" y="354.7" width="1.0" height="1.0" fill="#103010"/><rect x="542.4" y="369.9" width="1.0" height="1.0" fill="#2060ff"/><rect x="505.4" y="367.7" width="1.0" height="1.0" fill="#2060ff"/><rect x="523.4" y="358.1" width="1.0" height="1.0" fill="#20e0a0"/><rect x="535.8" y="336.2" width="1.0" height="1.0" fill="#c0a000"/><rect x="526.9" y="390.7" width="1.0" height="1.0" fill="#2060ff"/><rect x="528.6" y="353.9" width="1.0" height="1.0" fill="#20c0c0"/><rect x="503.0" y="378.0" width="1.0" height="1.0" fill="#20c0c0"/><rect x="509.7" y="372.6" width="1.0" height="1.0" fill="#000"/><rect x="513.5" y="333.5" width="1.0" height="1.0" fill="#000"/><rect x="538.1" y="346.3" width="1.0" height="1.0" fill="#2060ff"/><rect x="543.0" y="382.8" width="1.0" height="1.0" fill="#20e0a0"/><rect x="507.8" y="357.9" width="1.0" height="1.0" fill="#103010"/><rect x="499.9" y="350.2" width="1.0" height="1.0" fill="#2060ff"/><rect x="549.8" y="369.7" width="1.0" height="1.0" fill="#c0a000"/><rect x="543.0" y="338.6" width="1.0" height="1.0" fill="#103010"/><rect x="511.9" y="342.9" width="1.0" height="1.0" fill="#c0a000"/><rect x="508.7" y="385.4" width="1.0" height="1.0" fill="#2060ff"/><rect x="528.3" y="331.6" width="1.0" height="1.0" fill="#20c0c0"/><rect x="502.0" y="369.0" width="1.0" height="1.0" fill="#c0a000"/><rect x="545.6" y="370.3" width="1.0" height="1.0" fill="#c0a000"/><rect x="535.3" y="331.4" width="1.0" height="1.0" fill="#000"/><rect x="524.4" y="349.4" width="1.0" height="1.0" fill="#c0a000"/><rect x="521.6" y="387.1" width="1.0" height="1.0" fill="#2060ff"/><rect x="531.1" y="380.7" width="1.0" height="1.0" fill="#c0a000"/><rect x="530.8" y="337.9" width="1.0" height="1.0" fill="#2060ff"/><rect x="513.3" y="361.4" width="1.0" height="1.0" fill="#2060ff"/><rect x="517.0" y="360.6" width="1.0" height="1.0" fill="#20c0c0"/><rect x="512.5" y="385.6" width="1.0" height="1.0" fill="#c0a000"/><rect x="499.7" y="351.4" width="1.0" height="1.0" fill="#000"/><rect x="514.3" y="333.1" width="1.0" height="1.0" fill="#20e0a0"/><rect x="540.4" y="344.3" width="1.0" height="1.0" fill="#20c0c0"/><rect x="513.6" y="353.0" width="1.0" height="1.0" fill="#103010"/><rect x="499.3" y="352.0" width="1.0" height="1.0" fill="#20c0c0"/><rect x="508.8" y="366.0" width="1.0" height="1.0" fill="#20c0c0"/><rect x="538.9" y="357.2" width="1.0" height="1.0" fill="#000"/><rect x="516.9" y="349.5" width="1.0" height="1.0" fill="#20e0a0"/><rect x="544.0" y="355.6" width="1.0" height="1.0" fill="#20c0c0"/><rect x="519.7" y="333.7" width="1.0" height="1.0" fill="#20e0a0"/><rect x="536.5" y="376.1" width="1.0" height="1.0" fill="#103010"/><rect x="534.0" y="379.4" width="1.0" height="1.0" fill="#20e0a0"/><rect x="536.7" y="346.7" width="1.0" height="1.0" fill="#2060ff"/><rect x="511.2" y="360.8" width="1.0" height="1.0" fill="#2060ff"/><rect x="513.6" y="378.6" width="1.0" height="1.0" fill="#20e0a0"/><rect x="526.1" y="333.3" width="1.0" height="1.0" fill="#2060ff"/><rect x="531.5" y="349.9" width="1.0" height="1.0" fill="#20e0a0"/><rect x="540.6" y="371.7" width="1.0" height="1.0" fill="#2060ff"/><rect x="508.9" y="383.5" width="1.0" height="1.0" fill="#000"/><rect x="524.8" y="330.0" width="1.0" height="1.0" fill="#20c0c0"/><rect x="521.3" y="372.1" width="1.0" height="1.0" fill="#000"/><rect x="530.8" y="360.5" width="1.0" height="1.0" fill="#c0a000"/><rect x="511.2" y="353.5" width="1.0" height="1.0" fill="#c0a000"/><rect x="510.5" y="368.5" width="1.0" height="1.0" fill="#000"/><rect x="542.2" y="355.2" width="1.0" height="1.0" fill="#000"/><rect x="541.2" y="367.6" width="1.0" height="1.0" fill="#20c0c0"/><rect x="517.7" y="383.9" width="1.0" height="1.0" fill="#c0a000"/><rect x="534.1" y="365.0" width="1.0" height="1.0" fill="#c0a000"/><rect x="540.0" y="339.7" width="1.0" height="1.0" fill="#000"/><rect x="517.5" y="373.6" width="1.0" height="1.0" fill="#20c0c0"/><rect x="498.9" y="364.4" width="1.0" height="1.0" fill="#20c0c0"/><rect x="503.1" y="373.4" width="1.0" height="1.0" fill="#20e0a0"/><rect x="531.8" y="373.5" width="1.0" height="1.0" fill="#000"/><rect x="514.5" y="348.4" width="1.0" height="1.0" fill="#103010"/><rect x="514.0" y="354.7" width="1.0" height="1.0" fill="#20e0a0"/><rect x="505.0" y="344.5" width="1.0" height="1.0" fill="#c0a000"/><rect x="513.2" y="341.3" width="1.0" height="1.0" fill="#c0a000"/><rect x="509.1" y="364.2" width="1.0" height="1.0" fill="#20e0a0"/><rect x="514.8" y="371.0" width="1.0" height="1.0" fill="#20e0a0"/><rect x="506.4" y="383.6" width="1.0" height="1.0" fill="#c0a000"/><rect x="543.7" y="355.5" width="1.0" height="1.0" fill="#20e0a0"/><rect x="516.3" y="348.6" width="1.0" height="1.0" fill="#2060ff"/><rect x="497.8" y="347.1" width="1.0" height="1.0" fill="#000"/><rect x="545.4" y="362.0" width="1.0" height="1.0" fill="#20c0c0"/><rect x="533.8" y="331.1" width="1.0" height="1.0" fill="#2060ff"/><rect x="505.8" y="370.2" width="1.0" height="1.0" fill="#20e0a0"/><rect x="503.7" y="346.2" width="1.0" height="1.0" fill="#2060ff"/><rect x="503.1" y="361.0" width="1.0" height="1.0" fill="#20c0c0"/><rect x="538.3" y="362.3" width="1.0" height="1.0" fill="#20e0a0"/><rect x="541.6" y="365.8" width="1.0" height="1.0" fill="#c0a000"/><rect x="524.6" y="340.0" width="1.0" height="1.0" fill="#000"/></g>
<g clip-path="url(#c3)"><rect x="504.1" y="338.2" width="1.0" height="1.0" fill="#101010"/><rect x="506.4" y="336.2" width="1.0" height="1.0" fill="#101010"/><rect x="502.1" y="338.9" width="1.0" height="1.0" fill="#006040"/><rect x="511.6" y="336.4" width="1.0" height="1.0" fill="#006040"/><rect x="507.8" y="336.2" width="1.0" height="1.0" fill="#006040"/><rect x="502.5" y="341.4" width="1.0" height="1.0" fill="#006040"/><rect x="504.2" y="336.3" width="1.0" height="1.0" fill="#403000"/><rect x="510.7" y="334.6" width="1.0" height="1.0" fill="#101010"/><rect x="502.1" y="342.1" width="1.0" height="1.0" fill="#101010"/><rect x="506.9" y="338.5" width="1.0" height="1.0" fill="#000"/><rect x="510.7" y="336.4" width="1.0" height="1.0" fill="#000"/><rect x="501.7" y="344.3" width="1.0" height="1.0" fill="#000"/><rect x="500.0" y="343.2" width="1.0" height="1.0" fill="#000"/><rect x="506.4" y="340.1" width="1.0" height="1.0" fill="#101010"/><rect x="504.2" y="337.7" width="1.0" height="1.0" fill="#006040"/><rect x="512.0" y="337.4" width="1.0" height="1.0" fill="#000"/><rect x="507.0" y="339.6" width="1.0" height="1.0" fill="#403000"/><rect x="500.5" y="342.6" width="1.0" height="1.0" fill="#000"/><rect x="502.7" y="338.8" width="1.0" height="1.0" fill="#000"/><rect x="503.9" y="337.9" width="1.0" height="1.0" fill="#000"/><rect x="502.4" y="341.0" width="1.0" height="1.0" fill="#101010"/><rect x="501.1" y="343.3" width="1.0" height="1.0" fill="#000"/><rect x="509.2" y="337.0" width="1.0" height="1.0" fill="#403000"/><rect x="511.5" y="335.8" width="1.0" height="1.0" fill="#000"/><rect x="509.2" y="333.3" width="1.0" height="1.0" fill="#000"/><rect x="509.0" y="335.2" width="1.0" height="1.0" fill="#000"/><rect x="501.1" y="341.6" width="1.0" height="1.0" fill="#403000"/><rect x="502.3" y="339.0" width="1.0" height="1.0" fill="#006040"/><rect x="503.9" y="337.3" width="1.0" height="1.0" fill="#006040"/><rect x="501.1" y="343.8" width="1.0" height="1.0" fill="#000"/><rect x="505.2" y="339.2" width="1.0" height="1.0" fill="#000"/><rect x="504.4" y="336.8" width="1.0" height="1.0" fill="#000"/><rect x="502.4" y="341.1" width="1.0" height="1.0" fill="#000"/><rect x="507.8" y="337.6" width="1.0" height="1.0" fill="#101010"/><rect x="507.7" y="337.4" width="1.0" height="1.0" fill="#403000"/><rect x="499.9" y="343.4" width="1.0" height="1.0" fill="#403000"/><rect x="503.4" y="342.2" width="1.0" height="1.0" fill="#101010"/><rect x="509.6" y="335.3" width="1.0" height="1.0" fill="#403000"/><rect x="505.1" y="339.7" width="1.0" height="1.0" fill="#403000"/><rect x="511.7" y="334.0" width="1.0" height="1.0" fill="#000"/><rect x="502.5" y="340.0" width="1.0" height="1.0" fill="#403000"/><rect x="502.9" y="338.5" width="1.0" height="1.0" fill="#006040"/><rect x="498.1" y="343.0" width="1.0" height="1.0" fill="#006040"/><rect x="508.9" y="337.3" width="1.0" height="1.0" fill="#101010"/><rect x="503.7" y="338.5" width="1.0" height="1.0" fill="#006040"/><rect x="510.7" y="334.5" width="1.0" height="1.0" fill="#403000"/><rect x="508.4" y="336.6" width="1.0" height="1.0" fill="#403000"/><rect x="504.6" y="338.0" width="1.0" height="1.0" fill="#101010"/><rect x="498.4" y="344.7" width="1.0" height="1.0" fill="#403000"/><rect x="502.5" y="340.9" width="1.0" height="1.0" fill="#000"/><rect x="507.0" y="337.5" width="1.0" height="1.0" fill="#000"/><rect x="519.0" y="364.8" width="1.0" height="1.0" fill="#403000"/><rect x="524.2" y="364.5" width="1.0" height="1.0" fill="#403000"/><rect x="531.9" y="357.7" width="1.0" height="1.0" fill="#000"/><rect x="527.9" y="362.7" width="1.0" height="1.0" fill="#000"/><rect x="535.6" y="353.1" width="1.0" height="1.0" fill="#101010"/><rect x="526.8" y="363.7" width="1.0" height="1.0" fill="#006040"/><rect x="509.0" y="355.1" width="1.0" height="1.0" fill="#000"/><rect x="508.3" y="358.2" width="1.0" height="1.0" fill="#006040"/><rect x="529.2" y="365.2" width="1.0" height="1.0" fill="#000"/><rect x="507.7" y="358.4" width="1.0" height="1.0" fill="#006040"/><rect x="522.9" y="366.6" width="1.0" height="1.0" fill="#000"/><rect x="517.6" y="363.4" width="1.0" height="1.0" fill="#403000"/><rect x="506.0" y="354.7" width="1.0" height="1.0" fill="#000"/><rect x="508.0" y="357.4" width="1.0" height="1.0" fill="#403000"/><rect x="520.2" y="364.0" width="1.0" height="1.0" fill="#000"/><rect x="526.8" y="364.5" width="1.0" height="1.0" fill="#000"/><rect x="528.3" y="360.4" width="1.0" height="1.0" fill="#000"/><rect x="534.0" y="351.0" width="1.0" height="1.0" fill="#403000"/><rect x="527.1" y="362.4" width="1.0" height="1.0" fill="#403000"/><rect x="527.6" y="366.8" width="1.0" height="1.0" fill="#000"/><rect x="520.4" y="364.1" width="1.0" height="1.0" fill="#403000"/><rect x="531.8" y="360.6" width="1.0" height="1.0" fill="#006040"/><rect x="513.5" y="359.1" width="1.0" height="1.0" fill="#101010"/><rect x="529.5" y="357.9" width="1.0" height="1.0" fill="#101010"/><rect x="529.4" y="360.2" width="1.0" height="1.0" fill="#000"/><rect x="514.1" y="361.2" width="1.0" height="1.0" fill="#000"/><rect x="508.9" y="358.6" width="1.0" height="1.0" fill="#000"/><rect x="522.9" y="368.0" width="1.0" height="1.0" fill="#000"/><rect x="529.6" y="359.4" width="1.0" height="1.0" fill="#000"/><rect x="521.0" y="366.5" width="1.0" height="1.0" fill="#101010"/><rect x="532.7" y="359.1" width="1.0" height="1.0" fill="#000"/><rect x="525.0" y="364.3" width="1.0" height="1.0" fill="#000"/><rect x="522.6" y="364.5" width="1.0" height="1.0" fill="#000"/><rect x="521.7" y="366.9" width="1.0" height="1.0" fill="#403000"/><rect x="534.1" y="354.9" width="1.0" height="1.0" fill="#000"/><rect x="514.7" y="361.6" width="1.0" height="1.0" fill="#000"/><rect x="532.0" y="358.7" width="1.0" height="1.0" fill="#101010"/><rect x="517.4" y="364.9" width="1.0" height="1.0" fill="#000"/><rect x="521.6" y="367.0" width="1.0" height="1.0" fill="#000"/><rect x="532.7" y="356.9" width="1.0" height="1.0" fill="#403000"/><rect x="533.9" y="354.5" width="1.0" height="1.0" fill="#006040"/><rect x="507.4" y="355.9" width="1.0" height="1.0" fill="#403000"/><rect x="516.8" y="363.1" width="1.0" height="1.0" fill="#000"/><rect x="515.1" y="359.2" width="1.0" height="1.0" fill="#000"/><rect x="506.5" y="356.0" width="1.0" height="1.0" fill="#000"/><rect x="531.3" y="359.0" width="1.0" height="1.0" fill="#006040"/><rect x="528.4" y="362.2" width="1.0" height="1.0" fill="#006040"/><rect x="516.7" y="362.7" width="1.0" height="1.0" fill="#000"/><rect x="524.3" y="365.4" width="1.0" height="1.0" fill="#000"/><rect x="517.2" y="362.3" width="1.0" height="1.0" fill="#403000"/><rect x="506.7" y="357.3" width="1.0" height="1.0" fill="#000"/><rect x="524.4" y="366.0" width="1.0" height="1.0" fill="#403000"/><rect x="528.2" y="362.4" width="1.0" height="1.0" fill="#000"/><rect x="508.5" y="357.7" width="1.0" height="1.0" fill="#403000"/><rect x="512.9" y="359.3" width="1.0" height="1.0" fill="#000"/><rect x="517.8" y="361.9" width="1.0" height="1.0" fill="#000"/><rect x="515.7" y="357.8" width="1.0" height="1.0" fill="#000"/><rect x="535.2" y="354.9" width="1.0" height="1.0" fill="#101010"/><rect x="523.9" y="366.7" width="1.0" height="1.0" fill="#000"/><rect x="530.9" y="359.6" width="1.0" height="1.0" fill="#403000"/><rect x="521.8" y="368.7" width="1.0" height="1.0" fill="#006040"/><rect x="527.7" y="362.2" width="1.0" height="1.0" fill="#000"/><rect x="531.7" y="359.5" width="1.0" height="1.0" fill="#000"/><rect x="512.8" y="358.7" width="1.0" height="1.0" fill="#101010"/><rect x="533.2" y="356.2" width="1.0" height="1.0" fill="#000"/><rect x="532.7" y="358.0" width="1.0" height="1.0" fill="#403000"/><rect x="530.7" y="356.5" width="1.0" height="1.0" fill="#101010"/><rect x="527.2" y="366.7" width="1.0" height="1.0" fill="#403000"/><rect x="524.8" y="364.3" width="1.0" height="1.0" fill="#000"/><rect x="508.1" y="357.6" width="1.0" height="1.0" fill="#101010"/><rect x="505.5" y="356.6" width="1.0" height="1.0" fill="#006040"/><rect x="526.5" y="365.6" width="1.0" height="1.0" fill="#006040"/><rect x="508.5" y="356.4" width="1.0" height="1.0" fill="#403000"/><rect x="523.1" y="367.4" width="1.0" height="1.0" fill="#000"/><rect x="533.9" y="358.3" width="1.0" height="1.0" fill="#000"/><rect x="524.8" y="375.0" width="1.0" height="1.0" fill="#000"/><rect x="507.9" y="368.1" width="1.0" height="1.0" fill="#006040"/><rect x="504.5" y="366.1" width="1.0" height="1.0" fill="#000"/><rect x="508.4" y="368.1" width="1.0" height="1.0" fill="#006040"/><rect x="514.9" y="372.9" width="1.0" height="1.0" fill="#000"/><rect x="529.1" y="376.5" width="1.0" height="1.0" fill="#101010"/><rect x="508.0" y="367.0" width="1.0" height="1.0" fill="#000"/><rect x="513.6" y="372.9" width="1.0" height="1.0" fill="#101010"/><rect x="530.1" y="373.8" width="1.0" height="1.0" fill="#403000"/><rect x="504.0" y="367.3" width="1.0" height="1.0" fill="#101010"/><rect x="521.4" y="374.2" width="1.0" height="1.0" fill="#000"/><rect x="531.2" y="375.4" width="1.0" height="1.0" fill="#000"/><rect x="512.3" y="372.7" width="1.0" height="1.0" fill="#000"/><rect x="514.2" y="372.7" width="1.0" height="1.0" fill="#000"/><rect x="523.6" y="376.3" width="1.0" height="1.0" fill="#000"/><rect x="517.0" y="375.7" width="1.0" height="1.0" fill="#006040"/><rect x="508.2" y="370.3" width="1.0" height="1.0" fill="#000"/><rect x="510.3" y="369.0" width="1.0" height="1.0" fill="#101010"/><rect x="505.2" y="364.8" width="1.0" height="1.0" fill="#101010"/><rect x="506.6" y="368.5" width="1.0" height="1.0" fill="#403000"/><rect x="507.7" y="368.4" width="1.0" height="1.0" fill="#006040"/><rect x="508.5" y="368.4" width="1.0" height="1.0" fill="#403000"/><rect x="514.3" y="371.7" width="1.0" height="1.0" fill="#403000"/><rect x="505.3" y="366.2" width="1.0" height="1.0" fill="#000"/><rect x="529.4" y="375.5" width="1.0" height="1.0" fill="#403000"/><rect x="521.4" y="374.8" width="1.0" height="1.0" fill="#006040"/><rect x="534.0" y="374.4" width="1.0" height="1.0" fill="#006040"/><rect x="528.3" y="374.5" width="1.0" height="1.0" fill="#101010"/><rect x="513.7" y="373.6" width="1.0" height="1.0" fill="#101010"/><rect x="536.3" y="371.3" width="1.0" height="1.0" fill="#000"/><rect x="532.1" y="375.7" width="1.0" height="1.0" fill="#006040"/><rect x="508.0" y="368.7" width="1.0" height="1.0" fill="#006040"/><rect x="533.2" y="372.7" width="1.0" height="1.0" fill="#000"/><rect x="536.2" y="371.8" width="1.0" height="1.0" fill="#101010"/><rect x="509.8" y="370.5" width="1.0" height="1.0" fill="#000"/><rect x="504.2" y="365.9" width="1.0" height="1.0" fill="#006040"/><rect x="529.7" y="376.4" width="1.0" height="1.0" fill="#006040"/><rect x="505.8" y="367.2" width="1.0" height="1.0" fill="#000"/><rect x="534.7" y="371.6" width="1.0" height="1.0" fill="#101010"/><rect x="514.4" y="371.4" width="1.0" height="1.0" fill="#006040"/><rect x="516.9" y="373.4" width="1.0" height="1.0" fill="#000"/><rect x="522.1" y="375.4" width="1.0" height="1.0" fill="#000"/><rect x="526.9" y="375.4" width="1.0" height="1.0" fill="#000"/><rect x="532.9" y="374.7" width="1.0" height="1.0" fill="#403000"/><rect x="510.6" y="370.4" width="1.0" height="1.0" fill="#006040"/><rect x="521.5" y="375.8" width="1.0" height="1.0" fill="#403000"/><rect x="509.1" y="368.7" width="1.0" height="1.0" fill="#403000"/><rect x="515.6" y="372.3" width="1.0" height="1.0" fill="#000"/><rect x="503.6" y="363.5" width="1.0" height="1.0" fill="#000"/><rect x="510.5" y="370.4" width="1.0" height="1.0" fill="#403000"/><rect x="505.7" y="368.4" width="1.0" height="1.0" fill="#000"/><rect x="517.5" y="371.9" width="1.0" height="1.0" fill="#000"/><rect x="524.2" y="374.9" width="1.0" height="1.0" fill="#000"/><rect x="535.0" y="372.8" width="1.0" height="1.0" fill="#403000"/><rect x="519.5" y="371.6" width="1.0" height="1.0" fill="#000"/><rect x="515.1" y="372.0" width="1.0" height="1.0" fill="#403000"/><rect x="510.6" y="368.4" width="1.0" height="1.0" fill="#006040"/><rect x="524.1" y="375.1" width="1.0" height="1.0" fill="#000"/><rect x="534.9" y="372.0" width="1.0" height="1.0" fill="#101010"/><rect x="502.6" y="364.7" width="1.0" height="1.0" fill="#006040"/><rect x="507.5" y="367.2" width="1.0" height="1.0" fill="#000"/><rect x="506.1" y="366.5" width="1.0" height="1.0" fill="#403000"/><rect x="506.4" y="366.1" width="1.0" height="1.0" fill="#006040"/><rect x="504.5" y="365.8" width="1.0" height="1.0" fill="#006040"/><rect x="520.2" y="373.6" width="1.0" height="1.0" fill="#101010"/><rect x="508.4" y="370.1" width="1.0" height="1.0" fill="#101010"/><rect x="519.4" y="372.0" width="1.0" height="1.0" fill="#000"/><rect x="520.8" y="373.1" width="1.0" height="1.0" fill="#000"/><rect x="519.5" y="374.1" width="1.0" height="1.0" fill="#101010"/><rect x="533.7" y="373.3" width="1.0" height="1.0" fill="#000"/><rect x="515.5" y="372.6" width="1.0" height="1.0" fill="#006040"/><rect x="502.4" y="363.5" width="1.0" height="1.0" fill="#000"/><rect x="535.4" y="373.5" width="1.0" height="1.0" fill="#000"/><rect x="528.4" y="376.2" width="1.0" height="1.0" fill="#000"/><rect x="527.4" y="376.8" width="1.0" height="1.0" fill="#101010"/><rect x="518.9" y="376.1" width="1.0" height="1.0" fill="#000"/><rect x="504.1" y="366.4" width="1.0" height="1.0" fill="#000"/><rect x="514.9" y="373.4" width="1.0" height="1.0" fill="#000"/><rect x="526.7" y="375.0" width="1.0" height="1.0" fill="#000"/><rect x="507.1" y="365.9" width="1.0" height="1.0" fill="#000"/><rect x="521.1" y="373.0" width="1.0" height="1.0" fill="#000"/><rect x="517.1" y="373.0" width="1.0" height="1.0" fill="#000"/><rect x="533.8" y="374.5" width="1.0" height="1.0" fill="#000"/><rect x="511.3" y="370.7" width="1.0" height="1.0" fill="#006040"/><rect x="528.9" y="375.1" width="1.0" height="1.0" fill="#000"/><rect x="537.2" y="370.5" width="1.0" height="1.0" fill="#000"/><rect x="509.5" y="366.9" width="1.0" height="1.0" fill="#403000"/><rect x="531.4" y="373.7" width="1.0" height="1.0" fill="#101010"/><rect x="506.8" y="366.3" width="1.0" height="1.0" fill="#000"/><rect x="507.2" y="375.4" width="1.0" height="1.0" fill="#403000"/><rect x="516.1" y="378.6" width="1.0" height="1.0" fill="#006040"/><rect x="521.0" y="379.7" width="1.0" height="1.0" fill="#101010"/><rect x="525.6" y="379.3" width="1.0" height="1.0" fill="#403000"/><rect x="517.4" y="379.4" width="1.0" height="1.0" fill="#000"/><rect x="517.5" y="379.9" width="1.0" height="1.0" fill="#403000"/><rect x="507.5" y="378.9" width="1.0" height="1.0" fill="#101010"/><rect x="521.8" y="380.1" width="1.0" height="1.0" fill="#000"/><rect x="512.0" y="377.7" width="1.0" height="1.0" fill="#101010"/><rect x="530.2" y="378.6" width="1.0" height="1.0" fill="#006040"/><rect x="524.0" y="379.8" width="1.0" height="1.0" fill="#006040"/><rect x="517.7" y="378.0" width="1.0" height="1.0" fill="#101010"/><rect x="520.5" y="379.1" width="1.0" height="1.0" fill="#000"/><rect x="529.2" y="379.9" width="1.0" height="1.0" fill="#101010"/><rect x="526.1" y="379.4" width="1.0" height="1.0" fill="#006040"/><rect x="523.8" y="382.4" width="1.0" height="1.0" fill="#101010"/><rect x="528.7" y="380.6" width="1.0" height="1.0" fill="#006040"/><rect x="526.6" y="380.7" width="1.0" height="1.0" fill="#000"/><rect x="521.4" y="381.4" width="1.0" height="1.0" fill="#403000"/><rect x="518.4" y="379.4" width="1.0" height="1.0" fill="#000"/><rect x="511.6" y="377.1" width="1.0" height="1.0" fill="#101010"/><rect x="508.7" y="376.6" width="1.0" height="1.0" fill="#403000"/><rect x="530.2" y="378.1" width="1.0" height="1.0" fill="#000"/><rect x="509.6" y="379.0" width="1.0" height="1.0" fill="#403000"/><rect x="512.6" y="377.1" width="1.0" height="1.0" fill="#006040"/><rect x="523.2" y="379.4" width="1.0" height="1.0" fill="#101010"/><rect x="505.9" y="375.7" width="1.0" height="1.0" fill="#000"/><rect x="527.3" y="379.6" width="1.0" height="1.0" fill="#101010"/><rect x="512.6" y="378.5" width="1.0" height="1.0" fill="#403000"/><rect x="528.6" y="379.4" width="1.0" height="1.0" fill="#006040"/><rect x="509.4" y="376.4" width="1.0" height="1.0" fill="#006040"/><rect x="530.6" y="378.1" width="1.0" height="1.0" fill="#006040"/><rect x="531.7" y="377.8" width="1.0" height="1.0" fill="#000"/><rect x="517.9" y="379.9" width="1.0" height="1.0" fill="#000"/><rect x="526.6" y="381.1" width="1.0" height="1.0" fill="#000"/><rect x="517.0" y="379.6" width="1.0" height="1.0" fill="#000"/><rect x="515.1" y="379.4" width="1.0" height="1.0" fill="#006040"/><rect x="510.5" y="377.9" width="1.0" height="1.0" fill="#000"/><rect x="513.3" y="377.4" width="1.0" height="1.0" fill="#000"/><rect x="518.9" y="380.3" width="1.0" height="1.0" fill="#000"/><rect x="524.8" y="380.0" width="1.0" height="1.0" fill="#101010"/><rect x="520.2" y="380.4" width="1.0" height="1.0" fill="#403000"/><rect x="516.4" y="378.2" width="1.0" height="1.0" fill="#403000"/><rect x="528.2" y="377.8" width="1.0" height="1.0" fill="#006040"/><rect x="530.1" y="379.8" width="1.0" height="1.0" fill="#000"/><rect x="523.4" y="380.1" width="1.0" height="1.0" fill="#000"/><rect x="531.8" y="378.1" width="1.0" height="1.0" fill="#000"/><rect x="522.9" y="378.7" width="1.0" height="1.0" fill="#101010"/><rect x="512.1" y="377.3" width="1.0" height="1.0" fill="#000"/><rect x="514.7" y="379.3" width="1.0" height="1.0" fill="#000"/><rect x="509.0" y="377.6" width="1.0" height="1.0" fill="#000"/><rect x="527.5" y="378.3" width="1.0" height="1.0" fill="#101010"/><rect x="529.8" y="380.9" width="1.0" height="1.0" fill="#000"/><rect x="517.2" y="379.1" width="1.0" height="1.0" fill="#006040"/><rect x="512.5" y="376.5" width="1.0" height="1.0" fill="#101010"/><rect x="530.8" y="377.9" width="1.0" height="1.0" fill="#000"/><rect x="524.4" y="379.0" width="1.0" height="1.0" fill="#000"/><rect x="510.9" y="378.2" width="1.0" height="1.0" fill="#000"/><rect x="533.9" y="377.5" width="1.0" height="1.0" fill="#006040"/><rect x="517.0" y="379.8" width="1.0" height="1.0" fill="#006040"/><rect x="527.1" y="380.2" width="1.0" height="1.0" fill="#006040"/><rect x="516.1" y="380.0" width="1.0" height="1.0" fill="#403000"/><rect x="519.0" y="379.1" width="1.0" height="1.0" fill="#000"/><rect x="522.8" y="380.3" width="1.0" height="1.0" fill="#101010"/><rect x="509.1" y="375.5" width="1.0" height="1.0" fill="#000"/><rect x="523.8" y="379.8" width="1.0" height="1.0" fill="#000"/><rect x="516.8" y="379.5" width="1.0" height="1.0" fill="#000"/><rect x="507.8" y="376.1" width="1.0" height="1.0" fill="#000"/><rect x="524.2" y="382.1" width="1.0" height="1.0" fill="#403000"/><rect x="520.6" y="379.6" width="1.0" height="1.0" fill="#000"/><rect x="532.3" y="378.0" width="1.0" height="1.0" fill="#000"/><rect x="505.7" y="377.4" width="1.0" height="1.0" fill="#000"/><rect x="516.5" y="379.6" width="1.0" height="1.0" fill="#000"/><rect x="547.5" y="362.7" width="1.0" height="1.0" fill="#000"/><rect x="549.3" y="363.5" width="1.0" height="1.0" fill="#006040"/><rect x="549.4" y="357.5" width="1.0" height="1.0" fill="#101010"/><rect x="547.9" y="368.9" width="1.0" height="1.0" fill="#101010"/><rect x="549.0" y="363.2" width="1.0" height="1.0" fill="#000"/><rect x="549.3" y="358.3" width="1.0" height="1.0" fill="#101010"/><rect x="546.8" y="356.0" width="1.0" height="1.0" fill="#000"/><rect x="550.4" y="362.9" width="1.0" height="1.0" fill="#000"/><rect x="549.0" y="360.3" width="1.0" height="1.0" fill="#000"/><rect x="550.3" y="356.5" width="1.0" height="1.0" fill="#000"/><rect x="547.8" y="366.9" width="1.0" height="1.0" fill="#101010"/><rect x="548.3" y="362.8" width="1.0" height="1.0" fill="#006040"/><rect x="545.5" y="359.2" width="1.0" height="1.0" fill="#101010"/><rect x="550.8" y="366.5" width="1.0" height="1.0" fill="#101010"/><rect x="549.0" y="359.1" width="1.0" height="1.0" fill="#006040"/><rect x="545.5" y="366.4" width="1.0" height="1.0" fill="#101010"/><rect x="548.4" y="366.5" width="1.0" height="1.0" fill="#000"/><rect x="547.9" y="370.3" width="1.0" height="1.0" fill="#403000"/><rect x="547.9" y="368.1" width="1.0" height="1.0" fill="#000"/><rect x="547.7" y="357.7" width="1.0" height="1.0" fill="#006040"/><rect x="549.3" y="367.2" width="1.0" height="1.0" fill="#000"/><rect x="548.4" y="358.0" width="1.0" height="1.0" fill="#000"/><rect x="548.5" y="370.8" width="1.0" height="1.0" fill="#403000"/><rect x="547.6" y="373.0" width="1.0" height="1.0" fill="#006040"/><rect x="548.8" y="368.1" width="1.0" height="1.0" fill="#403000"/><rect x="547.6" y="357.4" width="1.0" height="1.0" fill="#101010"/><rect x="549.8" y="365.5" width="1.0" height="1.0" fill="#101010"/><rect x="549.3" y="358.9" width="1.0" height="1.0" fill="#403000"/><rect x="548.9" y="364.0" width="1.0" height="1.0" fill="#101010"/><rect x="548.0" y="370.8" width="1.0" height="1.0" fill="#006040"/><rect x="549.3" y="365.1" width="1.0" height="1.0" fill="#000"/><rect x="550.1" y="366.2" width="1.0" height="1.0" fill="#403000"/><rect x="550.0" y="368.0" width="1.0" height="1.0" fill="#000"/><rect x="548.0" y="359.4" width="1.0" height="1.0" fill="#101010"/><rect x="548.2" y="372.4" width="1.0" height="1.0" fill="#000"/><rect x="551.0" y="356.2" width="1.0" height="1.0" fill="#403000"/><rect x="551.3" y="362.4" width="1.0" height="1.0" fill="#006040"/><rect x="550.0" y="365.6" width="1.0" height="1.0" fill="#000"/><rect x="551.1" y="362.1" width="1.0" height="1.0" fill="#006040"/><rect x="549.0" y="358.6" width="1.0" height="1.0" fill="#000"/><rect x="548.5" y="357.8" width="1.0" height="1.0" fill="#101010"/><rect x="549.2" y="365.1" width="1.0" height="1.0" fill="#000"/><rect x="548.5" y="367.0" width="1.0" height="1.0" fill="#006040"/><rect x="549.3" y="372.0" width="1.0" height="1.0" fill="#101010"/><rect x="548.8" y="356.0" width="1.0" height="1.0" fill="#000"/><rect x="549.2" y="359.5" width="1.0" height="1.0" fill="#000"/><rect x="547.6" y="370.7" width="1.0" height="1.0" fill="#403000"/><rect x="548.2" y="371.2" width="1.0" height="1.0" fill="#000"/><rect x="549.6" y="359.5" width="1.0" height="1.0" fill="#000"/><rect x="549.2" y="368.1" width="1.0" height="1.0" fill="#403000"/><rect x="547.0" y="371.9" width="1.0" height="1.0" fill="#101010"/><rect x="549.7" y="367.1" width="1.0" height="1.0" fill="#403000"/><rect x="550.9" y="365.6" width="1.0" height="1.0" fill="#006040"/><rect x="520.4" y="348.4" width="1.0" height="1.0" fill="#101010"/><rect x="517.5" y="347.3" width="1.0" height="1.0" fill="#000"/><rect x="529.7" y="347.1" width="1.0" height="1.0" fill="#006040"/><rect x="518.2" y="349.7" width="1.0" height="1.0" fill="#000"/><rect x="521.2" y="346.6" width="1.0" height="1.0" fill="#000"/><rect x="524.9" y="349.4" width="1.0" height="1.0" fill="#000"/><rect x="519.7" y="349.8" width="1.0" height="1.0" fill="#101010"/><rect x="520.4" y="348.5" width="1.0" height="1.0" fill="#101010"/><rect x="525.9" y="346.3" width="1.0" height="1.0" fill="#006040"/><rect x="526.4" y="347.7" width="1.0" height="1.0" fill="#101010"/><rect x="526.7" y="350.1" width="1.0" height="1.0" fill="#000"/><rect x="521.6" y="348.5" width="1.0" height="1.0" fill="#403000"/><rect x="525.1" y="349.3" width="1.0" height="1.0" fill="#403000"/><rect x="528.0" y="349.6" width="1.0" height="1.0" fill="#000"/><rect x="525.3" y="349.8" width="1.0" height="1.0" fill="#000"/><rect x="523.3" y="348.7" width="1.0" height="1.0" fill="#101010"/><rect x="521.4" y="348.7" width="1.0" height="1.0" fill="#101010"/><rect x="518.8" y="347.1" width="1.0" height="1.0" fill="#006040"/><rect x="527.9" y="346.9" width="1.0" height="1.0" fill="#403000"/><rect x="521.3" y="351.6" width="1.0" height="1.0" fill="#006040"/><rect x="528.7" y="348.6" width="1.0" height="1.0" fill="#000"/><rect x="524.4" y="350.4" width="1.0" height="1.0" fill="#000"/><rect x="525.1" y="346.9" width="1.0" height="1.0" fill="#000"/><rect x="527.5" y="348.7" width="1.0" height="1.0" fill="#000"/><rect x="518.1" y="345.7" width="1.0" height="1.0" fill="#403000"/><rect x="528.8" y="347.6" width="1.0" height="1.0" fill="#101010"/><rect x="521.2" y="349.4" width="1.0" height="1.0" fill="#006040"/><rect x="529.1" y="349.1" width="1.0" height="1.0" fill="#403000"/><rect x="518.9" y="349.9" width="1.0" height="1.0" fill="#000"/><rect x="529.3" y="347.7" width="1.0" height="1.0" fill="#006040"/><rect x="525.2" y="347.6" width="1.0" height="1.0" fill="#403000"/><rect x="524.8" y="348.9" width="1.0" height="1.0" fill="#006040"/><rect x="520.4" y="348.5" width="1.0" height="1.0" fill="#006040"/><rect x="525.9" y="348.3" width="1.0" height="1.0" fill="#101010"/><rect x="529.2" y="346.4" width="1.0" height="1.0" fill="#403000"/><rect x="524.2" y="348.1" width="1.0" height="1.0" fill="#403000"/><rect x="526.0" y="349.1" width="1.0" height="1.0" fill="#000"/><rect x="528.2" y="349.0" width="1.0" height="1.0" fill="#101010"/><rect x="517.7" y="347.1" width="1.0" height="1.0" fill="#000"/><rect x="517.6" y="347.7" width="1.0" height="1.0" fill="#000"/><rect x="524.6" y="348.1" width="1.0" height="1.0" fill="#006040"/><rect x="544.2" y="351.4" width="1.0" height="1.0" fill="#000"/><rect x="544.7" y="348.2" width="1.0" height="1.0" fill="#000"/><rect x="538.6" y="338.8" width="1.0" height="1.0" fill="#000"/><rect x="546.7" y="351.7" width="1.0" height="1.0" fill="#006040"/><rect x="541.0" y="341.6" width="1.0" height="1.0" fill="#403000"/><rect x="545.2" y="351.7" width="1.0" height="1.0" fill="#403000"/><rect x="543.4" y="350.1" width="1.0" height="1.0" fill="#006040"/><rect x="539.3" y="342.4" width="1.0" height="1.0" fill="#101010"/><rect x="537.7" y="340.3" width="1.0" height="1.0" fill="#006040"/><rect x="542.0" y="343.0" width="1.0" height="1.0" fill="#101010"/><rect x="542.0" y="341.7" width="1.0" height="1.0" fill="#006040"/><rect x="539.2" y="341.5" width="1.0" height="1.0" fill="#101010"/><rect x="538.6" y="341.2" width="1.0" height="1.0" fill="#006040"/><rect x="538.3" y="341.6" width="1.0" height="1.0" fill="#006040"/><rect x="544.9" y="349.0" width="1.0" height="1.0" fill="#403000"/><rect x="539.5" y="340.5" width="1.0" height="1.0" fill="#000"/><rect x="545.8" y="346.1" width="1.0" height="1.0" fill="#403000"/><rect x="543.8" y="346.2" width="1.0" height="1.0" fill="#000"/><rect x="540.3" y="344.6" width="1.0" height="1.0" fill="#000"/><rect x="541.7" y="343.6" width="1.0" height="1.0" fill="#403000"/><rect x="543.9" y="345.1" width="1.0" height="1.0" fill="#403000"/><rect x="543.9" y="343.8" width="1.0" height="1.0" fill="#101010"/><rect x="541.6" y="344.3" width="1.0" height="1.0" fill="#000"/><rect x="545.2" y="352.3" width="1.0" height="1.0" fill="#006040"/><rect x="546.3" y="346.8" width="1.0" height="1.0" fill="#000"/><rect x="542.0" y="345.5" width="1.0" height="1.0" fill="#101010"/><rect x="543.6" y="348.4" width="1.0" height="1.0" fill="#101010"/><rect x="547.7" y="350.7" width="1.0" height="1.0" fill="#403000"/><rect x="544.2" y="344.1" width="1.0" height="1.0" fill="#006040"/><rect x="544.8" y="345.8" width="1.0" height="1.0" fill="#101010"/><rect x="541.5" y="346.4" width="1.0" height="1.0" fill="#000"/><rect x="546.5" y="350.7" width="1.0" height="1.0" fill="#006040"/><rect x="544.0" y="347.6" width="1.0" height="1.0" fill="#101010"/><rect x="541.4" y="341.8" width="1.0" height="1.0" fill="#403000"/><rect x="539.1" y="342.3" width="1.0" height="1.0" fill="#006040"/><rect x="541.2" y="342.9" width="1.0" height="1.0" fill="#000"/><rect x="539.9" y="342.8" width="1.0" height="1.0" fill="#403000"/><rect x="545.5" y="352.3" width="1.0" height="1.0" fill="#000"/><rect x="540.1" y="343.8" width="1.0" height="1.0" fill="#101010"/><rect x="544.1" y="350.7" width="1.0" height="1.0" fill="#000"/><rect x="542.2" y="345.3" width="1.0" height="1.0" fill="#000"/><rect x="542.1" y="347.9" width="1.0" height="1.0" fill="#403000"/><rect x="544.9" y="350.9" width="1.0" height="1.0" fill="#006040"/><rect x="545.9" y="348.8" width="1.0" height="1.0" fill="#000"/><rect x="545.8" y="349.5" width="1.0" height="1.0" fill="#101010"/><rect x="545.1" y="349.1" width="1.0" height="1.0" fill="#006040"/><rect x="541.6" y="343.2" width="1.0" height="1.0" fill="#006040"/><rect x="539.5" y="342.8" width="1.0" height="1.0" fill="#403000"/><rect x="498.0" y="378.1" width="1.0" height="1.0" fill="#101010"/><rect x="497.4" y="377.1" width="1.0" height="1.0" fill="#403000"/><rect x="501.9" y="381.9" width="1.0" height="1.0" fill="#403000"/><rect x="504.7" y="382.8" width="1.0" height="1.0" fill="#101010"/><rect x="501.0" y="382.1" width="1.0" height="1.0" fill="#101010"/><rect x="499.7" y="380.5" width="1.0" height="1.0" fill="#101010"/><rect x="499.5" y="380.5" width="1.0" height="1.0" fill="#000"/><rect x="503.1" y="380.9" width="1.0" height="1.0" fill="#000"/><rect x="498.3" y="378.1" width="1.0" height="1.0" fill="#006040"/><rect x="505.6" y="385.0" width="1.0" height="1.0" fill="#000"/><rect x="505.6" y="384.5" width="1.0" height="1.0" fill="#000"/><rect x="502.0" y="382.3" width="1.0" height="1.0" fill="#101010"/><rect x="505.3" y="382.7" width="1.0" height="1.0" fill="#101010"/><rect x="498.0" y="377.2" width="1.0" height="1.0" fill="#006040"/><rect x="503.2" y="385.1" width="1.0" height="1.0" fill="#000"/><rect x="500.7" y="380.7" width="1.0" height="1.0" fill="#403000"/><rect x="496.5" y="374.5" width="1.0" height="1.0" fill="#000"/><rect x="501.0" y="378.9" width="1.0" height="1.0" fill="#000"/><rect x="495.9" y="373.1" width="1.0" height="1.0" fill="#403000"/><rect x="501.1" y="384.3" width="1.0" height="1.0" fill="#000"/><rect x="502.5" y="380.4" width="1.0" height="1.0" fill="#403000"/><rect x="503.2" y="382.9" width="1.0" height="1.0" fill="#000"/><rect x="501.2" y="382.0" width="1.0" height="1.0" fill="#000"/><rect x="498.6" y="374.5" width="1.0" height="1.0" fill="#000"/><rect x="501.5" y="382.2" width="1.0" height="1.0" fill="#000"/><rect x="499.2" y="376.3" width="1.0" height="1.0" fill="#000"/><rect x="499.2" y="378.5" width="1.0" height="1.0" fill="#006040"/><rect x="504.6" y="385.8" width="1.0" height="1.0" fill="#403000"/><rect x="500.2" y="380.3" width="1.0" height="1.0" fill="#000"/><rect x="498.9" y="375.9" width="1.0" height="1.0" fill="#000"/><rect x="504.6" y="384.9" width="1.0" height="1.0" fill="#000"/><rect x="496.4" y="374.5" width="1.0" height="1.0" fill="#101010"/><rect x="499.5" y="375.0" width="1.0" height="1.0" fill="#006040"/><rect x="500.6" y="383.1" width="1.0" height="1.0" fill="#006040"/><rect x="496.1" y="373.4" width="1.0" height="1.0" fill="#000"/><rect x="498.9" y="379.3" width="1.0" height="1.0" fill="#403000"/><rect x="502.4" y="381.7" width="1.0" height="1.0" fill="#403000"/><rect x="501.6" y="381.9" width="1.0" height="1.0" fill="#006040"/><rect x="502.1" y="379.8" width="1.0" height="1.0" fill="#101010"/><rect x="502.9" y="383.4" width="1.0" height="1.0" fill="#000"/><rect x="498.5" y="378.7" width="1.0" height="1.0" fill="#006040"/><rect x="496.4" y="373.9" width="1.0" height="1.0" fill="#101010"/><rect x="501.0" y="380.1" width="1.0" height="1.0" fill="#000"/><rect x="506.2" y="387.1" width="1.0" height="1.0" fill="#000"/><rect x="502.2" y="383.0" width="1.0" height="1.0" fill="#000"/><rect x="504.2" y="383.1" width="1.0" height="1.0" fill="#006040"/><rect x="502.3" y="383.6" width="1.0" height="1.0" fill="#000"/><rect x="505.0" y="384.2" width="1.0" height="1.0" fill="#006040"/><rect x="502.9" y="384.3" width="1.0" height="1.0" fill="#101010"/><rect x="504.4" y="383.8" width="1.0" height="1.0" fill="#006040"/><rect x="502.3" y="383.7" width="1.0" height="1.0" fill="#000"/><rect x="504.5" y="384.5" width="1.0" height="1.0" fill="#000"/></g>
<rect x="522.6" y="389.6" width="1.2" height="1.2" fill="#e02000"/><rect x="508.0" y="335.2" width="1.2" height="1.2" fill="#e02000"/><rect x="505.9" y="335.8" width="1.2" height="1.2" fill="#2040ff"/><rect x="495.9" y="353.7" width="1.2" height="1.2" fill="#20c0c0"/><rect x="552.7" y="365.5" width="1.2" height="1.2" fill="#c0d000"/><rect x="551.7" y="359.3" width="1.2" height="1.2" fill="#e02000"/><rect x="548.1" y="374.8" width="1.2" height="1.2" fill="#20c0c0"/><rect x="537.1" y="333.3" width="1.2" height="1.2" fill="#e02000"/><rect x="532.0" y="330.1" width="1.2" height="1.2" fill="#e02000"/><rect x="496.4" y="362.2" width="1.2" height="1.2" fill="#c0d000"/><rect x="552.0" y="356.2" width="1.2" height="1.2" fill="#000"/><rect x="506.1" y="336.8" width="1.2" height="1.2" fill="#20c0c0"/><rect x="536.0" y="332.8" width="1.2" height="1.2" fill="#20c0c0"/><rect x="514.0" y="331.6" width="1.2" height="1.2" fill="#e02000"/><rect x="498.2" y="370.6" width="1.2" height="1.2" fill="#c0d000"/><rect x="537.0" y="387.3" width="1.2" height="1.2" fill="#c0d000"/><rect x="506.5" y="383.7" width="1.2" height="1.2" fill="#20c0c0"/><rect x="501.7" y="341.0" width="1.2" height="1.2" fill="#e02000"/><rect x="499.2" y="345.6" width="1.2" height="1.2" fill="#c0d000"/><rect x="526.8" y="390.4" width="1.2" height="1.2" fill="#20c0c0"/><rect x="543.5" y="382.0" width="1.2" height="1.2" fill="#000"/><rect x="502.7" y="378.8" width="1.2" height="1.2" fill="#2040ff"/><rect x="528.6" y="389.6" width="1.2" height="1.2" fill="#000"/><rect x="505.6" y="336.0" width="1.2" height="1.2" fill="#000"/><rect x="521.7" y="329.1" width="1.2" height="1.2" fill="#20c0c0"/><rect x="532.3" y="388.0" width="1.2" height="1.2" fill="#20c0c0"/><rect x="496.4" y="355.9" width="1.2" height="1.2" fill="#c0d000"/><rect x="526.4" y="389.9" width="1.2" height="1.2" fill="#c0d000"/><rect x="551.2" y="367.6" width="1.2" height="1.2" fill="#2040ff"/><rect x="506.5" y="382.8" width="1.2" height="1.2" fill="#20c0c0"/><rect x="536.1" y="387.8" width="1.2" height="1.2" fill="#c0d000"/><rect x="546.1" y="379.7" width="1.2" height="1.2" fill="#2040ff"/><rect x="498.8" y="372.7" width="1.2" height="1.2" fill="#c0d000"/><rect x="514.9" y="332.0" width="1.2" height="1.2" fill="#20c0c0"/><rect x="506.9" y="335.8" width="1.2" height="1.2" fill="#e02000"/><rect x="553.2" y="359.3" width="1.2" height="1.2" fill="#20c0c0"/><rect x="547.7" y="343.0" width="1.2" height="1.2" fill="#2040ff"/><rect x="550.4" y="348.3" width="1.2" height="1.2" fill="#2040ff"/><rect x="552.8" y="360.8" width="1.2" height="1.2" fill="#000"/><rect x="497.9" y="348.6" width="1.2" height="1.2" fill="#000"/><rect x="529.1" y="390.1" width="1.2" height="1.2" fill="#2040ff"/><rect x="504.3" y="380.7" width="1.2" height="1.2" fill="#e02000"/><rect x="522.1" y="329.1" width="1.2" height="1.2" fill="#e02000"/><rect x="522.7" y="389.8" width="1.2" height="1.2" fill="#20c0c0"/><rect x="528.2" y="329.9" width="1.2" height="1.2" fill="#000"/><rect x="532.4" y="389.0" width="1.2" height="1.2" fill="#2040ff"/><rect x="512.6" y="387.4" width="1.2" height="1.2" fill="#2040ff"/><rect x="525.6" y="329.7" width="1.2" height="1.2" fill="#2040ff"/><rect x="507.8" y="334.6" width="1.2" height="1.2" fill="#000"/><rect x="496.2" y="363.3" width="1.2" height="1.2" fill="#20c0c0"/><rect x="550.4" y="371.1" width="1.2" height="1.2" fill="#e02000"/><rect x="541.5" y="384.7" width="1.2" height="1.2" fill="#20c0c0"/><rect x="537.0" y="332.1" width="1.2" height="1.2" fill="#20c0c0"/><rect x="501.3" y="341.2" width="1.2" height="1.2" fill="#20c0c0"/><rect x="544.0" y="381.7" width="1.2" height="1.2" fill="#000"/><rect x="500.0" y="344.3" width="1.2" height="1.2" fill="#000"/><rect x="551.4" y="367.9" width="1.2" height="1.2" fill="#e02000"/><rect x="552.7" y="353.4" width="1.2" height="1.2" fill="#e02000"/><rect x="546.3" y="340.9" width="1.2" height="1.2" fill="#e02000"/><rect x="546.8" y="342.7" width="1.2" height="1.2" fill="#e02000"/><rect x="547.5" y="375.4" width="1.2" height="1.2" fill="#2040ff"/><rect x="508.6" y="384.3" width="1.2" height="1.2" fill="#e02000"/><rect x="551.7" y="368.6" width="1.2" height="1.2" fill="#e02000"/><rect x="496.8" y="356.0" width="1.2" height="1.2" fill="#000"/><rect x="533.8" y="388.4" width="1.2" height="1.2" fill="#2040ff"/><rect x="539.0" y="334.7" width="1.2" height="1.2" fill="#2040ff"/><rect x="503.3" y="340.5" width="1.2" height="1.2" fill="#20c0c0"/><rect x="496.2" y="353.3" width="1.2" height="1.2" fill="#c0d000"/><rect x="515.6" y="389.3" width="1.2" height="1.2" fill="#2040ff"/><rect x="550.5" y="346.9" width="1.2" height="1.2" fill="#2040ff"/><rect x="546.0" y="378.3" width="1.2" height="1.2" fill="#2040ff"/><rect x="552.0" y="359.6" width="1.2" height="1.2" fill="#000"/><rect x="538.8" y="384.5" width="1.2" height="1.2" fill="#20c0c0"/><rect x="549.6" y="344.4" width="1.2" height="1.2" fill="#2040ff"/><rect x="514.3" y="387.1" width="1.2" height="1.2" fill="#000"/><rect x="501.9" y="379.4" width="1.2" height="1.2" fill="#e02000"/><rect x="496.4" y="369.3" width="1.2" height="1.2" fill="#2040ff"/><rect x="496.1" y="353.5" width="1.2" height="1.2" fill="#e02000"/><rect x="550.8" y="347.9" width="1.2" height="1.2" fill="#20c0c0"/><rect x="500.5" y="374.5" width="1.2" height="1.2" fill="#000"/><rect x="499.9" y="376.4" width="1.2" height="1.2" fill="#c0d000"/><rect x="547.3" y="342.3" width="1.2" height="1.2" fill="#e02000"/><rect x="527.1" y="330.0" width="1.2" height="1.2" fill="#e02000"/><rect x="551.4" y="365.1" width="1.2" height="1.2" fill="#000"/><rect x="536.7" y="331.9" width="1.2" height="1.2" fill="#2040ff"/><rect x="553.1" y="360.8" width="1.2" height="1.2" fill="#2040ff"/><rect x="545.5" y="339.7" width="1.2" height="1.2" fill="#c0d000"/><rect x="519.6" y="329.0" width="1.2" height="1.2" fill="#000"/><rect x="552.1" y="364.8" width="1.2" height="1.2" fill="#e02000"/><rect x="515.8" y="388.4" width="1.2" height="1.2" fill="#2040ff"/><rect x="521.0" y="329.5" width="1.2" height="1.2" fill="#20c0c0"/><rect x="528.6" y="390.5" width="1.2" height="1.2" fill="#2040ff"/><rect x="525.3" y="389.9" width="1.2" height="1.2" fill="#2040ff"/><rect x="499.3" y="346.9" width="1.2" height="1.2" fill="#20c0c0"/><rect x="508.1" y="335.1" width="1.2" height="1.2" fill="#c0d000"/><rect x="515.5" y="330.8" width="1.2" height="1.2" fill="#c0d000"/><rect x="522.5" y="328.7" width="1.2" height="1.2" fill="#e02000"/><rect x="549.5" y="347.4" width="1.2" height="1.2" fill="#e02000"/><rect x="512.5" y="332.6" width="1.2" height="1.2" fill="#20c0c0"/><rect x="500.0" y="343.1" width="1.2" height="1.2" fill="#e02000"/><rect x="544.6" y="381.6" width="1.2" height="1.2" fill="#2040ff"/><rect x="550.5" y="370.1" width="1.2" height="1.2" fill="#c0d000"/><rect x="521.5" y="328.7" width="1.2" height="1.2" fill="#000"/><rect x="544.5" y="338.3" width="1.2" height="1.2" fill="#c0d000"/><rect x="496.0" y="359.8" width="1.2" height="1.2" fill="#000"/><rect x="549.4" y="371.9" width="1.2" height="1.2" fill="#c0d000"/><rect x="551.5" y="350.7" width="1.2" height="1.2" fill="#2040ff"/><rect x="548.1" y="344.1" width="1.2" height="1.2" fill="#000"/><rect x="499.8" y="345.4" width="1.2" height="1.2" fill="#000"/><rect x="515.7" y="387.7" width="1.2" height="1.2" fill="#2040ff"/></g>
<g filter="url(#soft)" clip-path="url(#c4)">
<rect x="366.8" y="468.1" width="1.3" height="1.3" fill="#c07000"/><rect x="320.4" y="446.9" width="1.3" height="1.3" fill="#c07000"/><rect x="345.9" y="478.0" width="1.3" height="1.3" fill="#c07000"/><rect x="321.9" y="460.0" width="1.3" height="1.3" fill="#20a0c0"/><rect x="327.2" y="467.6" width="1.3" height="1.3" fill="#d08000"/><rect x="351.0" y="477.2" width="1.3" height="1.3" fill="#d08000"/><rect x="356.2" y="425.9" width="1.3" height="1.3" fill="#c07000"/><rect x="328.5" y="430.9" width="1.3" height="1.3" fill="#50f050"/><rect x="333.2" y="427.7" width="1.3" height="1.3" fill="#20c0a0"/><rect x="331.1" y="428.7" width="1.3" height="1.3" fill="#d08000"/><rect x="373.1" y="456.4" width="1.3" height="1.3" fill="#20a0c0"/><rect x="326.4" y="466.2" width="1.3" height="1.3" fill="#20a0c0"/><rect x="368.5" y="434.5" width="1.3" height="1.3" fill="#c07000"/><rect x="336.3" y="425.6" width="1.3" height="1.3" fill="#50f050"/><rect x="329.6" y="430.7" width="1.3" height="1.3" fill="#20c0a0"/><rect x="346.3" y="424.5" width="1.3" height="1.3" fill="#c07000"/><rect x="355.9" y="477.1" width="1.3" height="1.3" fill="#30e050"/><rect x="320.2" y="454.3" width="1.3" height="1.3" fill="#d08000"/><rect x="367.0" y="467.3" width="1.3" height="1.3" fill="#20c0a0"/><rect x="341.9" y="479.3" width="1.3" height="1.3" fill="#30e050"/><rect x="345.2" y="423.5" width="1.3" height="1.3" fill="#50f050"/><rect x="324.2" y="437.6" width="1.3" height="1.3" fill="#c07000"/><rect x="359.8" y="475.5" width="1.3" height="1.3" fill="#d08000"/><rect x="320.6" y="454.2" width="1.3" height="1.3" fill="#50f050"/><rect x="359.2" y="427.0" width="1.3" height="1.3" fill="#20a0c0"/><rect x="349.0" y="477.5" width="1.3" height="1.3" fill="#20a0c0"/><rect x="371.6" y="463.0" width="1.3" height="1.3" fill="#c07000"/><rect x="344.0" y="478.7" width="1.3" height="1.3" fill="#c07000"/><rect x="326.2" y="465.9" width="1.3" height="1.3" fill="#20c0a0"/><rect x="331.9" y="473.6" width="1.3" height="1.3" fill="#20a0c0"/><rect x="344.5" y="479.1" width="1.3" height="1.3" fill="#30e050"/><rect x="371.8" y="458.7" width="1.3" height="1.3" fill="#d08000"/><rect x="369.3" y="467.5" width="1.3" height="1.3" fill="#30e050"/><rect x="337.3" y="475.3" width="1.3" height="1.3" fill="#50f050"/><rect x="320.8" y="450.5" width="1.3" height="1.3" fill="#d08000"/><rect x="373.9" y="449.8" width="1.3" height="1.3" fill="#30e050"/><rect x="351.1" y="423.5" width="1.3" height="1.3" fill="#d08000"/><rect x="365.5" y="431.7" width="1.3" height="1.3" fill="#30e050"/><rect x="353.5" y="477.2" width="1.3" height="1.3" fill="#d08000"/><rect x="340.3" y="477.0" width="1.3" height="1.3" fill="#d08000"/><rect x="371.3" y="456.7" width="1.3" height="1.3" fill="#c07000"/><rect x="370.6" y="442.3" width="1.3" height="1.3" fill="#50f050"/><rect x="330.2" y="429.6" width="1.3" height="1.3" fill="#20a0c0"/><rect x="328.2" y="468.7" width="1.3" height="1.3" fill="#50f050"/><rect x="323.2" y="443.0" width="1.3" height="1.3" fill="#20a0c0"/><rect x="369.0" y="438.0" width="1.3" height="1.3" fill="#30e050"/><rect x="330.4" y="430.2" width="1.3" height="1.3" fill="#d08000"/><rect x="368.2" y="465.6" width="1.3" height="1.3" fill="#30e050"/><rect x="354.6" y="476.9" width="1.3" height="1.3" fill="#30e050"/><rect x="353.1" y="477.9" width="1.3" height="1.3" fill="#30e050"/><rect x="321.4" y="444.0" width="1.3" height="1.3" fill="#20c0a0"/><rect x="345.7" y="479.0" width="1.3" height="1.3" fill="#20a0c0"/><rect x="323.9" y="464.9" width="1.3" height="1.3" fill="#20c0a0"/><rect x="362.2" y="472.6" width="1.3" height="1.3" fill="#30e050"/><rect x="371.7" y="454.4" width="1.3" height="1.3" fill="#c07000"/><rect x="362.9" y="431.5" width="1.3" height="1.3" fill="#50f050"/><rect x="332.4" y="429.2" width="1.3" height="1.3" fill="#20c0a0"/><rect x="323.7" y="438.8" width="1.3" height="1.3" fill="#20a0c0"/><rect x="334.8" y="477.0" width="1.3" height="1.3" fill="#d08000"/><rect x="370.5" y="461.7" width="1.3" height="1.3" fill="#c07000"/><rect x="320.5" y="444.2" width="1.3" height="1.3" fill="#20c0a0"/><rect x="324.6" y="463.1" width="1.3" height="1.3" fill="#20c0a0"/><rect x="358.7" y="428.9" width="1.3" height="1.3" fill="#20c0a0"/><rect x="372.4" y="451.6" width="1.3" height="1.3" fill="#20c0a0"/><rect x="364.3" y="472.2" width="1.3" height="1.3" fill="#50f050"/><rect x="361.6" y="472.6" width="1.3" height="1.3" fill="#20a0c0"/><rect x="352.4" y="425.1" width="1.3" height="1.3" fill="#50f050"/><rect x="373.9" y="455.1" width="1.3" height="1.3" fill="#d08000"/><rect x="347.1" y="478.2" width="1.3" height="1.3" fill="#c07000"/><rect x="320.8" y="450.2" width="1.3" height="1.3" fill="#30e050"/><rect x="342.5" y="423.5" width="1.3" height="1.3" fill="#d08000"/><rect x="367.2" y="436.4" width="1.3" height="1.3" fill="#20a0c0"/><rect x="327.1" y="470.2" width="1.3" height="1.3" fill="#c07000"/><rect x="372.0" y="440.5" width="1.3" height="1.3" fill="#30e050"/><rect x="341.6" y="477.9" width="1.3" height="1.3" fill="#c07000"/><rect x="336.8" y="477.5" width="1.3" height="1.3" fill="#50f050"/><rect x="360.2" y="428.2" width="1.3" height="1.3" fill="#c07000"/><rect x="370.6" y="463.1" width="1.3" height="1.3" fill="#50f050"/><rect x="327.5" y="469.4" width="1.3" height="1.3" fill="#d08000"/><rect x="336.3" y="428.3" width="1.3" height="1.3" fill="#20a0c0"/><rect x="371.7" y="446.9" width="1.3" height="1.3" fill="#20a0c0"/><rect x="363.7" y="430.9" width="1.3" height="1.3" fill="#20a0c0"/><rect x="356.5" y="427.9" width="1.3" height="1.3" fill="#30e050"/><rect x="359.4" y="426.9" width="1.3" height="1.3" fill="#20c0a0"/><rect x="347.4" y="479.8" width="1.3" height="1.3" fill="#c07000"/><rect x="321.2" y="441.4" width="1.3" height="1.3" fill="#c07000"/><rect x="356.6" y="426.8" width="1.3" height="1.3" fill="#d08000"/><rect x="350.9" y="424.6" width="1.3" height="1.3" fill="#30e050"/><rect x="368.8" y="434.9" width="1.3" height="1.3" fill="#20c0a0"/><rect x="339.1" y="424.8" width="1.3" height="1.3" fill="#d08000"/><rect x="320.7" y="458.4" width="1.3" height="1.3" fill="#20c0a0"/><rect x="325.8" y="435.3" width="1.3" height="1.3" fill="#c07000"/><rect x="331.7" y="473.7" width="1.3" height="1.3" fill="#d08000"/><rect x="371.4" y="459.8" width="1.3" height="1.3" fill="#20a0c0"/><rect x="363.6" y="470.9" width="1.3" height="1.3" fill="#d08000"/><rect x="320.5" y="455.8" width="1.3" height="1.3" fill="#20c0a0"/><rect x="361.6" y="473.9" width="1.3" height="1.3" fill="#c07000"/><rect x="337.6" y="477.3" width="1.3" height="1.3" fill="#d08000"/><rect x="329.9" y="470.5" width="1.3" height="1.3" fill="#30e050"/><rect x="363.6" y="470.5" width="1.3" height="1.3" fill="#30e050"/><rect x="319.5" y="450.3" width="1.3" height="1.3" fill="#30e050"/><rect x="365.9" y="432.0" width="1.3" height="1.3" fill="#d08000"/><rect x="361.9" y="429.8" width="1.3" height="1.3" fill="#50f050"/><rect x="357.1" y="425.7" width="1.3" height="1.3" fill="#30e050"/><rect x="362.5" y="430.2" width="1.3" height="1.3" fill="#d08000"/><rect x="333.5" y="474.8" width="1.3" height="1.3" fill="#20a0c0"/><rect x="367.9" y="469.7" width="1.3" height="1.3" fill="#d08000"/><rect x="359.5" y="476.2" width="1.3" height="1.3" fill="#30e050"/><rect x="365.7" y="468.8" width="1.3" height="1.3" fill="#30e050"/><rect x="371.2" y="440.2" width="1.3" height="1.3" fill="#20a0c0"/><rect x="366.1" y="468.6" width="1.3" height="1.3" fill="#20a0c0"/><rect x="372.6" y="449.7" width="1.3" height="1.3" fill="#20c0a0"/><rect x="339.5" y="425.7" width="1.3" height="1.3" fill="#30e050"/><rect x="371.0" y="461.4" width="1.3" height="1.3" fill="#50f050"/><rect x="322.1" y="445.3" width="1.3" height="1.3" fill="#20a0c0"/><rect x="356.1" y="478.2" width="1.3" height="1.3" fill="#d08000"/><rect x="363.6" y="431.4" width="1.3" height="1.3" fill="#20c0a0"/><rect x="369.0" y="464.4" width="1.3" height="1.3" fill="#20c0a0"/><rect x="364.8" y="432.3" width="1.3" height="1.3" fill="#30e050"/><rect x="369.0" y="435.2" width="1.3" height="1.3" fill="#20a0c0"/><rect x="321.8" y="442.2" width="1.3" height="1.3" fill="#50f050"/><rect x="370.4" y="462.1" width="1.3" height="1.3" fill="#d08000"/><rect x="365.6" y="470.4" width="1.3" height="1.3" fill="#d08000"/><rect x="360.1" y="475.0" width="1.3" height="1.3" fill="#c07000"/><rect x="351.5" y="425.4" width="1.3" height="1.3" fill="#20c0a0"/><rect x="320.8" y="445.5" width="1.3" height="1.3" fill="#20c0a0"/><rect x="320.5" y="445.5" width="1.3" height="1.3" fill="#50f050"/><rect x="367.5" y="468.0" width="1.3" height="1.3" fill="#30e050"/><rect x="369.5" y="437.9" width="1.3" height="1.3" fill="#30e050"/><rect x="347.2" y="423.3" width="1.3" height="1.3" fill="#c07000"/><rect x="332.9" y="473.4" width="1.3" height="1.3" fill="#50f050"/><rect x="365.0" y="433.8" width="1.3" height="1.3" fill="#20a0c0"/><rect x="361.0" y="472.8" width="1.3" height="1.3" fill="#50f050"/><rect x="347.7" y="424.3" width="1.3" height="1.3" fill="#c07000"/><rect x="347.8" y="479.2" width="1.3" height="1.3" fill="#30e050"/><rect x="338.3" y="426.5" width="1.3" height="1.3" fill="#d08000"/><rect x="348.0" y="478.3" width="1.3" height="1.3" fill="#30e050"/><rect x="363.2" y="473.1" width="1.3" height="1.3" fill="#20c0a0"/><rect x="349.5" y="479.9" width="1.3" height="1.3" fill="#c07000"/><rect x="335.0" y="428.3" width="1.3" height="1.3" fill="#20c0a0"/><rect x="367.7" y="435.7" width="1.3" height="1.3" fill="#30e050"/><rect x="333.2" y="475.9" width="1.3" height="1.3" fill="#20c0a0"/><rect x="356.0" y="427.2" width="1.3" height="1.3" fill="#20c0a0"/><rect x="322.8" y="443.6" width="1.3" height="1.3" fill="#c07000"/><rect x="321.9" y="451.2" width="1.3" height="1.3" fill="#20a0c0"/><rect x="349.5" y="425.4" width="1.3" height="1.3" fill="#20a0c0"/><rect x="366.5" y="433.7" width="1.3" height="1.3" fill="#c07000"/><rect x="343.6" y="424.0" width="1.3" height="1.3" fill="#30e050"/><rect x="321.8" y="450.9" width="1.3" height="1.3" fill="#d08000"/><rect x="369.9" y="438.9" width="1.3" height="1.3" fill="#20a0c0"/><rect x="371.2" y="456.2" width="1.3" height="1.3" fill="#d08000"/><rect x="373.3" y="449.5" width="1.3" height="1.3" fill="#50f050"/><rect x="335.3" y="475.8" width="1.3" height="1.3" fill="#c07000"/><rect x="373.2" y="454.1" width="1.3" height="1.3" fill="#30e050"/><rect x="361.1" y="475.3" width="1.3" height="1.3" fill="#d08000"/><rect x="323.4" y="460.5" width="1.3" height="1.3" fill="#20a0c0"/><rect x="348.7" y="423.2" width="1.3" height="1.3" fill="#50f050"/><rect x="348.9" y="478.0" width="1.3" height="1.3" fill="#d08000"/><rect x="368.3" y="466.5" width="1.3" height="1.3" fill="#30e050"/><rect x="349.5" y="425.4" width="1.3" height="1.3" fill="#20a0c0"/><rect x="370.9" y="443.7" width="1.3" height="1.3" fill="#20a0c0"/><rect x="340.9" y="425.1" width="1.3" height="1.3" fill="#d08000"/><rect x="327.6" y="469.7" width="1.3" height="1.3" fill="#c07000"/><rect x="346.5" y="424.2" width="1.3" height="1.3" fill="#d08000"/><rect x="357.6" y="477.4" width="1.3" height="1.3" fill="#d08000"/><rect x="365.0" y="469.7" width="1.3" height="1.3" fill="#c07000"/><rect x="370.9" y="442.5" width="1.3" height="1.3" fill="#30e050"/><rect x="319.8" y="456.8" width="1.3" height="1.3" fill="#30e050"/><rect x="325.5" y="465.1" width="1.3" height="1.3" fill="#30e050"/><rect x="326.0" y="437.0" width="1.3" height="1.3" fill="#30e050"/><rect x="326.6" y="470.1" width="1.3" height="1.3" fill="#30e050"/><rect x="371.6" y="439.6" width="1.3" height="1.3" fill="#d08000"/><rect x="369.7" y="461.7" width="1.3" height="1.3" fill="#20c0a0"/><rect x="368.2" y="469.2" width="1.3" height="1.3" fill="#20c0a0"/><rect x="348.0" y="424.7" width="1.3" height="1.3" fill="#30e050"/><rect x="366.2" y="432.8" width="1.3" height="1.3" fill="#50f050"/><rect x="326.2" y="434.6" width="1.3" height="1.3" fill="#20a0c0"/><rect x="360.2" y="426.7" width="1.3" height="1.3" fill="#50f050"/><rect x="322.0" y="454.8" width="1.3" height="1.3" fill="#20c0a0"/><rect x="373.7" y="456.1" width="1.3" height="1.3" fill="#20a0c0"/><rect x="356.0" y="476.7" width="1.3" height="1.3" fill="#c07000"/><rect x="365.6" y="471.2" width="1.3" height="1.3" fill="#20c0a0"/><rect x="371.4" y="458.5" width="1.3" height="1.3" fill="#20a0c0"/><rect x="350.1" y="424.2" width="1.3" height="1.3" fill="#30e050"/><rect x="341.2" y="478.7" width="1.3" height="1.3" fill="#20a0c0"/><rect x="325.2" y="464.8" width="1.3" height="1.3" fill="#c07000"/><rect x="346.4" y="423.7" width="1.3" height="1.3" fill="#30e050"/><rect x="352.4" y="425.1" width="1.3" height="1.3" fill="#d08000"/><rect x="373.7" y="449.1" width="1.3" height="1.3" fill="#20c0a0"/><rect x="334.5" y="427.2" width="1.3" height="1.3" fill="#30e050"/><rect x="357.6" y="476.0" width="1.3" height="1.3" fill="#20a0c0"/><rect x="336.7" y="475.3" width="1.3" height="1.3" fill="#d08000"/><rect x="323.6" y="463.8" width="1.3" height="1.3" fill="#20c0a0"/><rect x="372.8" y="460.4" width="1.3" height="1.3" fill="#50f050"/><rect x="322.1" y="449.9" width="1.3" height="1.3" fill="#20c0a0"/><rect x="322.9" y="444.0" width="1.3" height="1.3" fill="#d08000"/><rect x="369.4" y="463.6" width="1.3" height="1.3" fill="#30e050"/><rect x="348.6" y="424.9" width="1.3" height="1.3" fill="#20a0c0"/><rect x="344.4" y="424.8" width="1.3" height="1.3" fill="#d08000"/><rect x="325.1" y="468.6" width="1.3" height="1.3" fill="#50f050"/>
<path d="M326,436 C321,443 319.5,452 321,460 C323,468 328,474 334,477.5" fill="none" stroke="#22d880" stroke-width="1.6" opacity="0.8"/>
<path d="M366,433 C370,440 371.5,450 370.5,458 C369,466 366,471 362,475" fill="none" stroke="#60d030" stroke-width="1.8" opacity="0.85"/>
<path d="M340,434.6 L344.2,432.1 L349.2,433.6 L352.4,436.6 L355.5,435.6 L359.2,434.5" fill="none" stroke="#22f832" stroke-width="4.3" stroke-linejoin="round" stroke-linecap="round"/>
<rect x="344.7" y="432.0" width="1.2" height="1.2" fill="#000"/><rect x="352.9" y="430.8" width="1.2" height="1.2" fill="#10ff40"/><rect x="356.5" y="433.8" width="1.2" height="1.2" fill="#40ff80"/><rect x="345.2" y="433.6" width="1.2" height="1.2" fill="#10ff40"/><rect x="347.9" y="432.4" width="1.2" height="1.2" fill="#20e0a0"/><rect x="350.8" y="434.2" width="1.2" height="1.2" fill="#20e0a0"/><rect x="357.4" y="436.3" width="1.2" height="1.2" fill="#20d0c0"/><rect x="343.9" y="432.6" width="1.2" height="1.2" fill="#000"/><rect x="343.9" y="436.2" width="1.2" height="1.2" fill="#40ff80"/><rect x="353.0" y="439.6" width="1.2" height="1.2" fill="#1ee830"/><rect x="356.5" y="437.9" width="1.2" height="1.2" fill="#10ff40"/><rect x="350.3" y="432.6" width="1.2" height="1.2" fill="#10ff40"/><rect x="355.3" y="435.2" width="1.2" height="1.2" fill="#20e0a0"/><rect x="356.3" y="437.9" width="1.2" height="1.2" fill="#1ee830"/><rect x="341.5" y="431.0" width="1.2" height="1.2" fill="#000"/><rect x="346.7" y="430.7" width="1.2" height="1.2" fill="#20d0c0"/><rect x="357.3" y="435.6" width="1.2" height="1.2" fill="#20e0a0"/><rect x="353.2" y="436.2" width="1.2" height="1.2" fill="#20d0c0"/><rect x="361.2" y="437.0" width="1.2" height="1.2" fill="#40ff80"/><rect x="349.7" y="434.2" width="1.2" height="1.2" fill="#20e0a0"/><rect x="353.5" y="434.2" width="1.2" height="1.2" fill="#10ff40"/><rect x="351.3" y="432.5" width="1.2" height="1.2" fill="#40ff80"/><rect x="357.9" y="437.5" width="1.2" height="1.2" fill="#000"/><rect x="348.3" y="431.4" width="1.2" height="1.2" fill="#20e0a0"/><rect x="354.3" y="435.1" width="1.2" height="1.2" fill="#000"/><rect x="359.6" y="435.4" width="1.2" height="1.2" fill="#60f020"/><rect x="355.4" y="436.6" width="1.2" height="1.2" fill="#20d0c0"/><rect x="342.0" y="431.3" width="1.2" height="1.2" fill="#40ff80"/><rect x="355.2" y="438.5" width="1.2" height="1.2" fill="#10ff40"/><rect x="339.8" y="435.2" width="1.2" height="1.2" fill="#20e0a0"/><rect x="345.8" y="430.6" width="1.2" height="1.2" fill="#10ff40"/><rect x="352.7" y="436.8" width="1.2" height="1.2" fill="#60f020"/><rect x="355.4" y="438.4" width="1.2" height="1.2" fill="#20e0a0"/><rect x="357.2" y="434.1" width="1.2" height="1.2" fill="#000"/><rect x="352.3" y="434.1" width="1.2" height="1.2" fill="#60f020"/><rect x="350.2" y="436.3" width="1.2" height="1.2" fill="#20e0a0"/><rect x="347.3" y="431.1" width="1.2" height="1.2" fill="#1ee830"/><rect x="358.2" y="439.0" width="1.2" height="1.2" fill="#000"/><rect x="339.5" y="433.0" width="1.2" height="1.2" fill="#1ee830"/><rect x="345.3" y="432.5" width="1.2" height="1.2" fill="#20e0a0"/><rect x="349.6" y="432.5" width="1.2" height="1.2" fill="#40ff80"/><rect x="349.2" y="430.6" width="1.2" height="1.2" fill="#000"/><rect x="353.5" y="437.0" width="1.2" height="1.2" fill="#1ee830"/><rect x="353.1" y="437.4" width="1.2" height="1.2" fill="#000"/><rect x="348.6" y="432.7" width="1.2" height="1.2" fill="#000"/><rect x="351.4" y="438.2" width="1.2" height="1.2" fill="#1ee830"/><rect x="340.0" y="431.6" width="1.2" height="1.2" fill="#000"/><rect x="348.1" y="433.1" width="1.2" height="1.2" fill="#20d0c0"/><rect x="351.8" y="435.9" width="1.2" height="1.2" fill="#40ff80"/><rect x="348.4" y="435.5" width="1.2" height="1.2" fill="#40ff80"/><rect x="351.1" y="436.2" width="1.2" height="1.2" fill="#20e0a0"/><rect x="340.4" y="430.8" width="1.2" height="1.2" fill="#1ee830"/><rect x="344.8" y="436.4" width="1.2" height="1.2" fill="#60f020"/><rect x="352.2" y="434.0" width="1.2" height="1.2" fill="#000"/><rect x="358.7" y="437.2" width="1.2" height="1.2" fill="#20e0a0"/><rect x="343.7" y="432.8" width="1.2" height="1.2" fill="#40ff80"/><rect x="346.2" y="435.1" width="1.2" height="1.2" fill="#20e0a0"/><rect x="347.0" y="433.0" width="1.2" height="1.2" fill="#20e0a0"/><rect x="359.8" y="431.7" width="1.2" height="1.2" fill="#1ee830"/><rect x="353.1" y="438.9" width="1.2" height="1.2" fill="#10ff40"/><rect x="340.2" y="434.1" width="1.2" height="1.2" fill="#1ee830"/><rect x="348.6" y="436.1" width="1.2" height="1.2" fill="#60f020"/><rect x="340.7" y="430.5" width="1.2" height="1.2" fill="#1ee830"/><rect x="347.5" y="432.9" width="1.2" height="1.2" fill="#1ee830"/><rect x="359.5" y="433.6" width="1.2" height="1.2" fill="#10ff40"/><rect x="345.4" y="429.8" width="1.2" height="1.2" fill="#10ff40"/><rect x="341.8" y="432.3" width="1.2" height="1.2" fill="#1ee830"/><rect x="351.4" y="435.7" width="1.2" height="1.2" fill="#000"/><rect x="340.2" y="432.8" width="1.2" height="1.2" fill="#10ff40"/><rect x="354.6" y="439.3" width="1.2" height="1.2" fill="#10ff40"/>
<path d="M324.1,441.3 L330.8,439.6 L337.5,442.2 L344.2,446.3 L349.2,449.2 L354.2,445.5 L359.2,440.5 L364.2,435.5 L367.6,433" fill="none" stroke="#22f832" stroke-width="4.3" stroke-linejoin="round" stroke-linecap="round"/>
<rect x="344.7" y="447.2" width="1.2" height="1.2" fill="#20d0c0"/><rect x="338.7" y="442.5" width="1.2" height="1.2" fill="#20d0c0"/><rect x="340.2" y="445.5" width="1.2" height="1.2" fill="#40ff80"/><rect x="342.4" y="444.1" width="1.2" height="1.2" fill="#10ff40"/><rect x="352.7" y="447.5" width="1.2" height="1.2" fill="#40ff80"/><rect x="327.6" y="441.8" width="1.2" height="1.2" fill="#1ee830"/><rect x="364.3" y="437.6" width="1.2" height="1.2" fill="#20e0a0"/><rect x="343.1" y="442.9" width="1.2" height="1.2" fill="#000"/><rect x="356.5" y="444.9" width="1.2" height="1.2" fill="#40ff80"/><rect x="331.3" y="440.0" width="1.2" height="1.2" fill="#20e0a0"/><rect x="346.3" y="440.4" width="1.2" height="1.2" fill="#60f020"/><rect x="330.4" y="441.0" width="1.2" height="1.2" fill="#60f020"/><rect x="333.3" y="439.6" width="1.2" height="1.2" fill="#10ff40"/><rect x="360.4" y="442.5" width="1.2" height="1.2" fill="#40ff80"/><rect x="330.3" y="440.1" width="1.2" height="1.2" fill="#1ee830"/><rect x="334.6" y="443.5" width="1.2" height="1.2" fill="#10ff40"/><rect x="365.0" y="435.2" width="1.2" height="1.2" fill="#20d0c0"/><rect x="363.3" y="437.0" width="1.2" height="1.2" fill="#000"/><rect x="348.6" y="448.3" width="1.2" height="1.2" fill="#10ff40"/><rect x="356.8" y="442.2" width="1.2" height="1.2" fill="#20e0a0"/><rect x="323.3" y="442.5" width="1.2" height="1.2" fill="#20d0c0"/><rect x="359.7" y="437.7" width="1.2" height="1.2" fill="#60f020"/><rect x="328.7" y="439.5" width="1.2" height="1.2" fill="#40ff80"/><rect x="345.6" y="448.7" width="1.2" height="1.2" fill="#40ff80"/><rect x="353.7" y="448.5" width="1.2" height="1.2" fill="#40ff80"/><rect x="332.1" y="440.4" width="1.2" height="1.2" fill="#000"/><rect x="327.7" y="441.6" width="1.2" height="1.2" fill="#60f020"/><rect x="353.3" y="444.2" width="1.2" height="1.2" fill="#1ee830"/><rect x="367.0" y="431.1" width="1.2" height="1.2" fill="#000"/><rect x="329.4" y="439.5" width="1.2" height="1.2" fill="#60f020"/><rect x="335.7" y="442.7" width="1.2" height="1.2" fill="#20e0a0"/><rect x="321.9" y="441.1" width="1.2" height="1.2" fill="#000"/><rect x="340.8" y="441.3" width="1.2" height="1.2" fill="#20d0c0"/><rect x="363.6" y="435.2" width="1.2" height="1.2" fill="#40ff80"/><rect x="350.2" y="450.3" width="1.2" height="1.2" fill="#1ee830"/><rect x="365.7" y="432.6" width="1.2" height="1.2" fill="#1ee830"/><rect x="352.4" y="447.4" width="1.2" height="1.2" fill="#20e0a0"/><rect x="345.6" y="447.5" width="1.2" height="1.2" fill="#000"/><rect x="330.3" y="437.2" width="1.2" height="1.2" fill="#60f020"/><rect x="328.5" y="438.6" width="1.2" height="1.2" fill="#20e0a0"/><rect x="341.2" y="445.3" width="1.2" height="1.2" fill="#20d0c0"/><rect x="359.2" y="439.5" width="1.2" height="1.2" fill="#20e0a0"/><rect x="361.5" y="437.8" width="1.2" height="1.2" fill="#40ff80"/><rect x="352.6" y="445.7" width="1.2" height="1.2" fill="#10ff40"/><rect x="348.3" y="448.1" width="1.2" height="1.2" fill="#20d0c0"/><rect x="331.4" y="440.3" width="1.2" height="1.2" fill="#20e0a0"/><rect x="350.8" y="446.2" width="1.2" height="1.2" fill="#20e0a0"/><rect x="346.2" y="449.4" width="1.2" height="1.2" fill="#000"/><rect x="349.4" y="451.2" width="1.2" height="1.2" fill="#20e0a0"/><rect x="338.7" y="442.6" width="1.2" height="1.2" fill="#1ee830"/><rect x="335.0" y="440.7" width="1.2" height="1.2" fill="#10ff40"/><rect x="340.8" y="444.9" width="1.2" height="1.2" fill="#20e0a0"/><rect x="351.4" y="444.4" width="1.2" height="1.2" fill="#40ff80"/><rect x="367.2" y="434.6" width="1.2" height="1.2" fill="#000"/><rect x="347.7" y="448.7" width="1.2" height="1.2" fill="#20d0c0"/><rect x="342.1" y="443.2" width="1.2" height="1.2" fill="#10ff40"/><rect x="339.3" y="443.2" width="1.2" height="1.2" fill="#40ff80"/><rect x="356.3" y="447.5" width="1.2" height="1.2" fill="#1ee830"/><rect x="342.9" y="441.4" width="1.2" height="1.2" fill="#40ff80"/><rect x="353.6" y="445.6" width="1.2" height="1.2" fill="#000"/><rect x="350.3" y="448.1" width="1.2" height="1.2" fill="#000"/><rect x="363.8" y="437.1" width="1.2" height="1.2" fill="#000"/><rect x="328.8" y="437.7" width="1.2" height="1.2" fill="#20e0a0"/><rect x="345.8" y="447.8" width="1.2" height="1.2" fill="#40ff80"/><rect x="329.1" y="440.5" width="1.2" height="1.2" fill="#40ff80"/><rect x="358.9" y="441.1" width="1.2" height="1.2" fill="#1ee830"/><rect x="333.1" y="440.8" width="1.2" height="1.2" fill="#10ff40"/><rect x="328.9" y="442.3" width="1.2" height="1.2" fill="#20d0c0"/><rect x="356.0" y="447.0" width="1.2" height="1.2" fill="#1ee830"/><rect x="333.7" y="441.8" width="1.2" height="1.2" fill="#20e0a0"/>
<path d="M320.7,449.7 L327.4,448.8 L334.1,451.4 L340.8,455.5 L347.5,457.2 L352.5,456.4 L357.5,452.2 L361.7,445.5 L365.9,438.8" fill="none" stroke="#22f832" stroke-width="4.3" stroke-linejoin="round" stroke-linecap="round"/>
<rect x="365.9" y="446.2" width="1.2" height="1.2" fill="#40ff80"/><rect x="361.8" y="446.3" width="1.2" height="1.2" fill="#40ff80"/><rect x="349.6" y="460.8" width="1.2" height="1.2" fill="#1ee830"/><rect x="331.5" y="451.2" width="1.2" height="1.2" fill="#20e0a0"/><rect x="324.6" y="446.5" width="1.2" height="1.2" fill="#1ee830"/><rect x="329.6" y="450.3" width="1.2" height="1.2" fill="#20e0a0"/><rect x="345.7" y="456.5" width="1.2" height="1.2" fill="#20d0c0"/><rect x="360.5" y="446.5" width="1.2" height="1.2" fill="#10ff40"/><rect x="336.5" y="454.9" width="1.2" height="1.2" fill="#1ee830"/><rect x="353.6" y="458.3" width="1.2" height="1.2" fill="#10ff40"/><rect x="350.8" y="456.5" width="1.2" height="1.2" fill="#40ff80"/><rect x="327.2" y="447.7" width="1.2" height="1.2" fill="#60f020"/><rect x="366.5" y="438.0" width="1.2" height="1.2" fill="#20e0a0"/><rect x="362.5" y="445.7" width="1.2" height="1.2" fill="#20e0a0"/><rect x="356.3" y="454.0" width="1.2" height="1.2" fill="#20d0c0"/><rect x="349.5" y="456.6" width="1.2" height="1.2" fill="#10ff40"/><rect x="355.7" y="451.7" width="1.2" height="1.2" fill="#40ff80"/><rect x="352.8" y="457.3" width="1.2" height="1.2" fill="#40ff80"/><rect x="365.6" y="441.8" width="1.2" height="1.2" fill="#10ff40"/><rect x="370.1" y="439.0" width="1.2" height="1.2" fill="#60f020"/><rect x="361.2" y="440.2" width="1.2" height="1.2" fill="#60f020"/><rect x="358.8" y="442.8" width="1.2" height="1.2" fill="#1ee830"/><rect x="333.7" y="452.6" width="1.2" height="1.2" fill="#1ee830"/><rect x="327.4" y="448.8" width="1.2" height="1.2" fill="#1ee830"/><rect x="342.0" y="453.8" width="1.2" height="1.2" fill="#40ff80"/><rect x="323.3" y="450.7" width="1.2" height="1.2" fill="#000"/><rect x="334.5" y="451.5" width="1.2" height="1.2" fill="#10ff40"/><rect x="332.6" y="449.7" width="1.2" height="1.2" fill="#20d0c0"/><rect x="321.9" y="449.4" width="1.2" height="1.2" fill="#20e0a0"/><rect x="363.1" y="441.3" width="1.2" height="1.2" fill="#20d0c0"/><rect x="349.9" y="460.0" width="1.2" height="1.2" fill="#1ee830"/><rect x="342.9" y="457.0" width="1.2" height="1.2" fill="#60f020"/><rect x="344.3" y="456.5" width="1.2" height="1.2" fill="#1ee830"/><rect x="362.9" y="443.0" width="1.2" height="1.2" fill="#60f020"/><rect x="356.7" y="453.2" width="1.2" height="1.2" fill="#1ee830"/><rect x="340.8" y="454.3" width="1.2" height="1.2" fill="#60f020"/><rect x="347.5" y="456.1" width="1.2" height="1.2" fill="#10ff40"/><rect x="363.8" y="443.7" width="1.2" height="1.2" fill="#000"/><rect x="361.1" y="446.1" width="1.2" height="1.2" fill="#20d0c0"/><rect x="359.7" y="450.6" width="1.2" height="1.2" fill="#1ee830"/><rect x="321.1" y="453.3" width="1.2" height="1.2" fill="#1ee830"/><rect x="331.7" y="449.0" width="1.2" height="1.2" fill="#10ff40"/><rect x="338.8" y="453.0" width="1.2" height="1.2" fill="#000"/><rect x="321.8" y="446.8" width="1.2" height="1.2" fill="#20d0c0"/><rect x="361.3" y="443.2" width="1.2" height="1.2" fill="#10ff40"/><rect x="359.2" y="454.7" width="1.2" height="1.2" fill="#1ee830"/><rect x="350.6" y="450.9" width="1.2" height="1.2" fill="#000"/><rect x="341.0" y="456.6" width="1.2" height="1.2" fill="#10ff40"/><rect x="365.0" y="441.0" width="1.2" height="1.2" fill="#1ee830"/><rect x="361.0" y="447.8" width="1.2" height="1.2" fill="#40ff80"/><rect x="336.5" y="453.6" width="1.2" height="1.2" fill="#40ff80"/><rect x="329.4" y="450.5" width="1.2" height="1.2" fill="#20e0a0"/><rect x="337.5" y="454.4" width="1.2" height="1.2" fill="#20e0a0"/><rect x="331.7" y="451.4" width="1.2" height="1.2" fill="#20e0a0"/><rect x="364.4" y="443.3" width="1.2" height="1.2" fill="#20e0a0"/><rect x="332.4" y="447.7" width="1.2" height="1.2" fill="#000"/><rect x="360.8" y="449.6" width="1.2" height="1.2" fill="#20e0a0"/><rect x="354.7" y="454.0" width="1.2" height="1.2" fill="#60f020"/><rect x="350.9" y="458.1" width="1.2" height="1.2" fill="#000"/><rect x="345.4" y="458.1" width="1.2" height="1.2" fill="#20e0a0"/><rect x="322.1" y="447.5" width="1.2" height="1.2" fill="#20e0a0"/><rect x="344.4" y="455.9" width="1.2" height="1.2" fill="#000"/><rect x="338.1" y="454.8" width="1.2" height="1.2" fill="#000"/><rect x="346.7" y="456.9" width="1.2" height="1.2" fill="#000"/><rect x="340.7" y="456.6" width="1.2" height="1.2" fill="#20d0c0"/><rect x="347.5" y="457.4" width="1.2" height="1.2" fill="#40ff80"/><rect x="343.3" y="453.8" width="1.2" height="1.2" fill="#40ff80"/><rect x="335.6" y="449.2" width="1.2" height="1.2" fill="#60f020"/><rect x="333.7" y="451.5" width="1.2" height="1.2" fill="#60f020"/><rect x="362.2" y="444.2" width="1.2" height="1.2" fill="#000"/>
<path d="M320.7,457.4 L329.1,458.9 L337.5,462.2 L345.8,463.9 L354.2,463.1 L360,459.7 L364.2,453.9 L366.7,447.2" fill="none" stroke="#22f832" stroke-width="4.3" stroke-linejoin="round" stroke-linecap="round"/>
<rect x="343.5" y="467.2" width="1.2" height="1.2" fill="#60f020"/><rect x="355.5" y="462.5" width="1.2" height="1.2" fill="#1ee830"/><rect x="333.8" y="461.0" width="1.2" height="1.2" fill="#000"/><rect x="362.5" y="460.4" width="1.2" height="1.2" fill="#000"/><rect x="327.9" y="460.9" width="1.2" height="1.2" fill="#10ff40"/><rect x="369.1" y="446.8" width="1.2" height="1.2" fill="#1ee830"/><rect x="329.8" y="456.9" width="1.2" height="1.2" fill="#60f020"/><rect x="353.9" y="462.7" width="1.2" height="1.2" fill="#10ff40"/><rect x="321.8" y="459.0" width="1.2" height="1.2" fill="#10ff40"/><rect x="322.8" y="457.1" width="1.2" height="1.2" fill="#10ff40"/><rect x="363.9" y="452.1" width="1.2" height="1.2" fill="#20d0c0"/><rect x="325.7" y="458.6" width="1.2" height="1.2" fill="#20d0c0"/><rect x="366.1" y="445.4" width="1.2" height="1.2" fill="#20e0a0"/><rect x="322.3" y="458.1" width="1.2" height="1.2" fill="#60f020"/><rect x="360.0" y="456.8" width="1.2" height="1.2" fill="#000"/><rect x="321.9" y="459.1" width="1.2" height="1.2" fill="#20d0c0"/><rect x="358.1" y="463.1" width="1.2" height="1.2" fill="#000"/><rect x="367.7" y="448.5" width="1.2" height="1.2" fill="#40ff80"/><rect x="336.6" y="462.0" width="1.2" height="1.2" fill="#60f020"/><rect x="355.8" y="459.4" width="1.2" height="1.2" fill="#000"/><rect x="359.9" y="458.0" width="1.2" height="1.2" fill="#20e0a0"/><rect x="363.6" y="457.2" width="1.2" height="1.2" fill="#20e0a0"/><rect x="358.3" y="458.3" width="1.2" height="1.2" fill="#60f020"/><rect x="327.7" y="457.8" width="1.2" height="1.2" fill="#60f020"/><rect x="341.5" y="462.6" width="1.2" height="1.2" fill="#60f020"/><rect x="333.5" y="462.3" width="1.2" height="1.2" fill="#20e0a0"/><rect x="327.1" y="458.0" width="1.2" height="1.2" fill="#40ff80"/><rect x="344.7" y="463.9" width="1.2" height="1.2" fill="#60f020"/><rect x="325.3" y="454.9" width="1.2" height="1.2" fill="#20d0c0"/><rect x="339.9" y="463.6" width="1.2" height="1.2" fill="#000"/><rect x="347.1" y="464.8" width="1.2" height="1.2" fill="#60f020"/><rect x="353.4" y="466.5" width="1.2" height="1.2" fill="#60f020"/><rect x="355.5" y="461.6" width="1.2" height="1.2" fill="#1ee830"/><rect x="327.2" y="460.3" width="1.2" height="1.2" fill="#20d0c0"/><rect x="339.1" y="464.2" width="1.2" height="1.2" fill="#1ee830"/><rect x="321.1" y="456.6" width="1.2" height="1.2" fill="#20e0a0"/><rect x="328.9" y="460.4" width="1.2" height="1.2" fill="#40ff80"/><rect x="325.0" y="455.9" width="1.2" height="1.2" fill="#40ff80"/><rect x="346.0" y="461.6" width="1.2" height="1.2" fill="#20e0a0"/><rect x="338.8" y="462.0" width="1.2" height="1.2" fill="#000"/><rect x="330.4" y="462.0" width="1.2" height="1.2" fill="#20e0a0"/><rect x="354.1" y="462.8" width="1.2" height="1.2" fill="#000"/><rect x="322.8" y="459.1" width="1.2" height="1.2" fill="#1ee830"/><rect x="324.3" y="456.2" width="1.2" height="1.2" fill="#10ff40"/><rect x="334.9" y="462.2" width="1.2" height="1.2" fill="#60f020"/><rect x="343.3" y="462.6" width="1.2" height="1.2" fill="#60f020"/><rect x="349.5" y="462.7" width="1.2" height="1.2" fill="#10ff40"/><rect x="361.3" y="455.8" width="1.2" height="1.2" fill="#20d0c0"/><rect x="353.5" y="462.6" width="1.2" height="1.2" fill="#60f020"/><rect x="341.5" y="461.1" width="1.2" height="1.2" fill="#20e0a0"/><rect x="356.5" y="464.0" width="1.2" height="1.2" fill="#1ee830"/><rect x="338.1" y="461.4" width="1.2" height="1.2" fill="#40ff80"/><rect x="358.4" y="452.9" width="1.2" height="1.2" fill="#000"/><rect x="362.1" y="459.0" width="1.2" height="1.2" fill="#20e0a0"/><rect x="338.3" y="464.6" width="1.2" height="1.2" fill="#1ee830"/><rect x="360.0" y="459.1" width="1.2" height="1.2" fill="#20d0c0"/><rect x="325.1" y="459.1" width="1.2" height="1.2" fill="#40ff80"/><rect x="348.6" y="462.8" width="1.2" height="1.2" fill="#1ee830"/><rect x="362.8" y="452.4" width="1.2" height="1.2" fill="#20d0c0"/><rect x="353.1" y="463.7" width="1.2" height="1.2" fill="#1ee830"/><rect x="318.5" y="457.3" width="1.2" height="1.2" fill="#20e0a0"/><rect x="364.6" y="450.6" width="1.2" height="1.2" fill="#60f020"/><rect x="322.3" y="458.3" width="1.2" height="1.2" fill="#40ff80"/><rect x="365.5" y="451.8" width="1.2" height="1.2" fill="#20d0c0"/><rect x="343.9" y="463.5" width="1.2" height="1.2" fill="#1ee830"/><rect x="333.1" y="461.7" width="1.2" height="1.2" fill="#20e0a0"/><rect x="324.1" y="458.1" width="1.2" height="1.2" fill="#10ff40"/><rect x="341.7" y="459.5" width="1.2" height="1.2" fill="#1ee830"/><rect x="367.9" y="446.7" width="1.2" height="1.2" fill="#60f020"/><rect x="365.2" y="452.6" width="1.2" height="1.2" fill="#60f020"/>
<path d="M322.4,465.6 L330.8,468.1 L340.8,470.6 L350.8,471.4 L359.2,468.9 L364.2,464.7" fill="none" stroke="#22f832" stroke-width="4.3" stroke-linejoin="round" stroke-linecap="round"/>
<rect x="341.7" y="469.5" width="1.2" height="1.2" fill="#1ee830"/><rect x="325.8" y="465.6" width="1.2" height="1.2" fill="#000"/><rect x="350.0" y="468.7" width="1.2" height="1.2" fill="#000"/><rect x="352.7" y="474.1" width="1.2" height="1.2" fill="#60f020"/><rect x="332.5" y="468.4" width="1.2" height="1.2" fill="#10ff40"/><rect x="362.8" y="468.8" width="1.2" height="1.2" fill="#20e0a0"/><rect x="333.0" y="468.6" width="1.2" height="1.2" fill="#10ff40"/><rect x="354.7" y="470.7" width="1.2" height="1.2" fill="#1ee830"/><rect x="326.4" y="468.2" width="1.2" height="1.2" fill="#1ee830"/><rect x="336.9" y="470.0" width="1.2" height="1.2" fill="#10ff40"/><rect x="332.9" y="469.5" width="1.2" height="1.2" fill="#1ee830"/><rect x="332.9" y="466.2" width="1.2" height="1.2" fill="#10ff40"/><rect x="356.9" y="469.3" width="1.2" height="1.2" fill="#10ff40"/><rect x="359.6" y="470.3" width="1.2" height="1.2" fill="#20e0a0"/><rect x="354.6" y="469.3" width="1.2" height="1.2" fill="#40ff80"/><rect x="363.2" y="467.2" width="1.2" height="1.2" fill="#60f020"/><rect x="334.3" y="470.2" width="1.2" height="1.2" fill="#000"/><rect x="330.6" y="468.0" width="1.2" height="1.2" fill="#10ff40"/><rect x="362.4" y="467.4" width="1.2" height="1.2" fill="#20d0c0"/><rect x="362.9" y="467.6" width="1.2" height="1.2" fill="#000"/><rect x="342.0" y="469.4" width="1.2" height="1.2" fill="#20e0a0"/><rect x="355.4" y="471.6" width="1.2" height="1.2" fill="#20d0c0"/><rect x="353.2" y="468.5" width="1.2" height="1.2" fill="#000"/><rect x="355.1" y="471.4" width="1.2" height="1.2" fill="#20e0a0"/><rect x="346.3" y="468.6" width="1.2" height="1.2" fill="#20d0c0"/><rect x="326.0" y="468.6" width="1.2" height="1.2" fill="#20d0c0"/><rect x="350.2" y="470.7" width="1.2" height="1.2" fill="#40ff80"/><rect x="354.8" y="468.2" width="1.2" height="1.2" fill="#20e0a0"/><rect x="341.1" y="471.9" width="1.2" height="1.2" fill="#60f020"/><rect x="362.2" y="466.9" width="1.2" height="1.2" fill="#000"/><rect x="326.7" y="465.9" width="1.2" height="1.2" fill="#1ee830"/><rect x="346.2" y="471.6" width="1.2" height="1.2" fill="#20e0a0"/><rect x="329.0" y="464.4" width="1.2" height="1.2" fill="#1ee830"/><rect x="362.0" y="464.3" width="1.2" height="1.2" fill="#10ff40"/><rect x="337.9" y="470.0" width="1.2" height="1.2" fill="#20d0c0"/><rect x="336.3" y="469.3" width="1.2" height="1.2" fill="#10ff40"/><rect x="339.8" y="469.6" width="1.2" height="1.2" fill="#60f020"/><rect x="326.5" y="468.4" width="1.2" height="1.2" fill="#10ff40"/><rect x="333.5" y="471.7" width="1.2" height="1.2" fill="#60f020"/><rect x="322.1" y="469.2" width="1.2" height="1.2" fill="#60f020"/><rect x="359.2" y="466.5" width="1.2" height="1.2" fill="#000"/><rect x="363.5" y="468.0" width="1.2" height="1.2" fill="#20d0c0"/><rect x="334.4" y="465.8" width="1.2" height="1.2" fill="#40ff80"/><rect x="346.3" y="470.4" width="1.2" height="1.2" fill="#20d0c0"/><rect x="346.8" y="473.3" width="1.2" height="1.2" fill="#40ff80"/><rect x="333.2" y="466.5" width="1.2" height="1.2" fill="#20e0a0"/><rect x="362.3" y="470.9" width="1.2" height="1.2" fill="#10ff40"/><rect x="358.3" y="468.9" width="1.2" height="1.2" fill="#20e0a0"/><rect x="337.8" y="468.2" width="1.2" height="1.2" fill="#20d0c0"/><rect x="339.7" y="470.2" width="1.2" height="1.2" fill="#60f020"/><rect x="325.1" y="466.8" width="1.2" height="1.2" fill="#20e0a0"/><rect x="345.8" y="472.4" width="1.2" height="1.2" fill="#000"/><rect x="343.2" y="470.9" width="1.2" height="1.2" fill="#1ee830"/><rect x="333.2" y="468.8" width="1.2" height="1.2" fill="#1ee830"/><rect x="332.9" y="468.5" width="1.2" height="1.2" fill="#40ff80"/><rect x="362.3" y="466.8" width="1.2" height="1.2" fill="#20d0c0"/><rect x="348.4" y="473.9" width="1.2" height="1.2" fill="#1ee830"/><rect x="356.2" y="471.9" width="1.2" height="1.2" fill="#40ff80"/><rect x="351.0" y="473.3" width="1.2" height="1.2" fill="#20e0a0"/><rect x="354.4" y="469.0" width="1.2" height="1.2" fill="#10ff40"/><rect x="334.0" y="468.6" width="1.2" height="1.2" fill="#60f020"/><rect x="334.6" y="467.9" width="1.2" height="1.2" fill="#60f020"/><rect x="340.7" y="468.8" width="1.2" height="1.2" fill="#10ff40"/><rect x="335.3" y="467.4" width="1.2" height="1.2" fill="#60f020"/><rect x="345.3" y="471.7" width="1.2" height="1.2" fill="#20e0a0"/><rect x="348.3" y="470.5" width="1.2" height="1.2" fill="#10ff40"/><rect x="351.2" y="471.7" width="1.2" height="1.2" fill="#60f020"/><rect x="359.8" y="466.1" width="1.2" height="1.2" fill="#10ff40"/><rect x="354.8" y="472.9" width="1.2" height="1.2" fill="#60f020"/><rect x="326.0" y="463.2" width="1.2" height="1.2" fill="#1ee830"/>
<path d="M329.1,473.9 L340.8,477.3 L352.5,477.3 L362.6,473.9" fill="none" stroke="#22f832" stroke-width="4.3" stroke-linejoin="round" stroke-linecap="round"/>
<rect x="342.2" y="480.5" width="1.2" height="1.2" fill="#60f020"/><rect x="340.8" y="478.7" width="1.2" height="1.2" fill="#000"/><rect x="351.2" y="476.9" width="1.2" height="1.2" fill="#20e0a0"/><rect x="345.4" y="479.1" width="1.2" height="1.2" fill="#1ee830"/><rect x="332.2" y="475.7" width="1.2" height="1.2" fill="#000"/><rect x="333.2" y="474.4" width="1.2" height="1.2" fill="#1ee830"/><rect x="339.3" y="476.5" width="1.2" height="1.2" fill="#40ff80"/><rect x="362.9" y="473.2" width="1.2" height="1.2" fill="#60f020"/><rect x="344.2" y="474.6" width="1.2" height="1.2" fill="#000"/><rect x="358.1" y="476.9" width="1.2" height="1.2" fill="#20d0c0"/><rect x="329.3" y="473.3" width="1.2" height="1.2" fill="#20e0a0"/><rect x="329.8" y="473.1" width="1.2" height="1.2" fill="#000"/><rect x="345.3" y="478.2" width="1.2" height="1.2" fill="#000"/><rect x="344.6" y="477.1" width="1.2" height="1.2" fill="#40ff80"/><rect x="338.0" y="478.1" width="1.2" height="1.2" fill="#20e0a0"/><rect x="352.9" y="477.0" width="1.2" height="1.2" fill="#1ee830"/><rect x="330.5" y="477.4" width="1.2" height="1.2" fill="#40ff80"/><rect x="358.7" y="475.9" width="1.2" height="1.2" fill="#000"/><rect x="351.7" y="476.1" width="1.2" height="1.2" fill="#20d0c0"/><rect x="365.8" y="469.8" width="1.2" height="1.2" fill="#1ee830"/><rect x="347.4" y="477.9" width="1.2" height="1.2" fill="#000"/><rect x="360.0" y="473.6" width="1.2" height="1.2" fill="#60f020"/><rect x="337.6" y="477.0" width="1.2" height="1.2" fill="#20d0c0"/><rect x="361.2" y="473.1" width="1.2" height="1.2" fill="#1ee830"/><rect x="349.1" y="477.2" width="1.2" height="1.2" fill="#000"/><rect x="338.9" y="473.1" width="1.2" height="1.2" fill="#20d0c0"/><rect x="353.8" y="476.2" width="1.2" height="1.2" fill="#1ee830"/><rect x="355.4" y="477.6" width="1.2" height="1.2" fill="#60f020"/><rect x="336.2" y="477.7" width="1.2" height="1.2" fill="#1ee830"/><rect x="350.3" y="477.2" width="1.2" height="1.2" fill="#20e0a0"/><rect x="358.4" y="473.1" width="1.2" height="1.2" fill="#20d0c0"/><rect x="336.8" y="478.4" width="1.2" height="1.2" fill="#000"/><rect x="341.9" y="478.3" width="1.2" height="1.2" fill="#1ee830"/><rect x="340.0" y="478.5" width="1.2" height="1.2" fill="#60f020"/><rect x="353.4" y="474.4" width="1.2" height="1.2" fill="#10ff40"/><rect x="354.4" y="478.4" width="1.2" height="1.2" fill="#000"/><rect x="361.0" y="472.4" width="1.2" height="1.2" fill="#60f020"/><rect x="328.9" y="477.5" width="1.2" height="1.2" fill="#20e0a0"/><rect x="337.1" y="476.3" width="1.2" height="1.2" fill="#40ff80"/><rect x="357.7" y="473.9" width="1.2" height="1.2" fill="#60f020"/><rect x="359.0" y="473.6" width="1.2" height="1.2" fill="#1ee830"/><rect x="346.5" y="474.3" width="1.2" height="1.2" fill="#20d0c0"/><rect x="359.0" y="474.2" width="1.2" height="1.2" fill="#1ee830"/><rect x="334.3" y="476.9" width="1.2" height="1.2" fill="#000"/><rect x="365.3" y="473.1" width="1.2" height="1.2" fill="#60f020"/><rect x="347.1" y="474.9" width="1.2" height="1.2" fill="#20d0c0"/><rect x="334.0" y="473.4" width="1.2" height="1.2" fill="#000"/><rect x="349.9" y="478.7" width="1.2" height="1.2" fill="#10ff40"/><rect x="331.5" y="476.5" width="1.2" height="1.2" fill="#000"/><rect x="338.6" y="475.8" width="1.2" height="1.2" fill="#000"/><rect x="347.2" y="475.4" width="1.2" height="1.2" fill="#000"/><rect x="353.9" y="476.5" width="1.2" height="1.2" fill="#10ff40"/><rect x="363.5" y="473.6" width="1.2" height="1.2" fill="#40ff80"/><rect x="347.7" y="473.7" width="1.2" height="1.2" fill="#60f020"/><rect x="336.5" y="475.0" width="1.2" height="1.2" fill="#20e0a0"/><rect x="348.6" y="479.1" width="1.2" height="1.2" fill="#1ee830"/><rect x="352.8" y="473.2" width="1.2" height="1.2" fill="#10ff40"/><rect x="332.2" y="477.8" width="1.2" height="1.2" fill="#1ee830"/><rect x="364.1" y="477.5" width="1.2" height="1.2" fill="#60f020"/><rect x="338.2" y="475.3" width="1.2" height="1.2" fill="#20e0a0"/><rect x="347.9" y="474.2" width="1.2" height="1.2" fill="#10ff40"/><rect x="339.1" y="476.4" width="1.2" height="1.2" fill="#1ee830"/><rect x="333.1" y="473.6" width="1.2" height="1.2" fill="#20e0a0"/><rect x="358.8" y="474.1" width="1.2" height="1.2" fill="#20e0a0"/><rect x="336.6" y="479.2" width="1.2" height="1.2" fill="#10ff40"/><rect x="361.3" y="474.6" width="1.2" height="1.2" fill="#1ee830"/><rect x="348.2" y="478.2" width="1.2" height="1.2" fill="#40ff80"/><rect x="335.9" y="479.2" width="1.2" height="1.2" fill="#20e0a0"/><rect x="333.8" y="475.1" width="1.2" height="1.2" fill="#60f020"/><rect x="340.1" y="479.8" width="1.2" height="1.2" fill="#40ff80"/>
<path d="M336,427.5 L344,425.5 L352,426.5 L358,428" fill="none" stroke="#22f832" stroke-width="4.3" stroke-linejoin="round" stroke-linecap="round"/>
<rect x="336.4" y="427.6" width="1.2" height="1.2" fill="#60f020"/><rect x="345.4" y="425.5" width="1.2" height="1.2" fill="#10ff40"/><rect x="354.2" y="425.7" width="1.2" height="1.2" fill="#60f020"/><rect x="349.8" y="424.6" width="1.2" height="1.2" fill="#1ee830"/><rect x="345.3" y="427.9" width="1.2" height="1.2" fill="#60f020"/><rect x="350.9" y="426.4" width="1.2" height="1.2" fill="#60f020"/><rect x="355.2" y="430.4" width="1.2" height="1.2" fill="#1ee830"/><rect x="338.2" y="426.8" width="1.2" height="1.2" fill="#1ee830"/><rect x="341.5" y="425.9" width="1.2" height="1.2" fill="#20d0c0"/><rect x="337.6" y="425.6" width="1.2" height="1.2" fill="#1ee830"/><rect x="355.8" y="425.7" width="1.2" height="1.2" fill="#20d0c0"/><rect x="337.6" y="429.3" width="1.2" height="1.2" fill="#20d0c0"/><rect x="344.3" y="427.1" width="1.2" height="1.2" fill="#20e0a0"/><rect x="351.4" y="424.1" width="1.2" height="1.2" fill="#20d0c0"/><rect x="345.4" y="427.0" width="1.2" height="1.2" fill="#1ee830"/><rect x="358.8" y="431.3" width="1.2" height="1.2" fill="#000"/><rect x="344.7" y="426.0" width="1.2" height="1.2" fill="#20d0c0"/><rect x="348.4" y="426.2" width="1.2" height="1.2" fill="#20e0a0"/><rect x="349.8" y="424.7" width="1.2" height="1.2" fill="#10ff40"/><rect x="344.1" y="424.1" width="1.2" height="1.2" fill="#10ff40"/><rect x="339.3" y="427.8" width="1.2" height="1.2" fill="#20e0a0"/><rect x="350.5" y="425.3" width="1.2" height="1.2" fill="#1ee830"/><rect x="336.3" y="428.0" width="1.2" height="1.2" fill="#20d0c0"/><rect x="354.2" y="424.8" width="1.2" height="1.2" fill="#20e0a0"/><rect x="343.9" y="425.4" width="1.2" height="1.2" fill="#60f020"/><rect x="357.1" y="429.2" width="1.2" height="1.2" fill="#60f020"/><rect x="341.6" y="423.5" width="1.2" height="1.2" fill="#60f020"/><rect x="351.5" y="427.1" width="1.2" height="1.2" fill="#000"/><rect x="354.1" y="429.0" width="1.2" height="1.2" fill="#1ee830"/><rect x="339.2" y="427.4" width="1.2" height="1.2" fill="#10ff40"/><rect x="352.1" y="425.7" width="1.2" height="1.2" fill="#000"/><rect x="353.5" y="426.8" width="1.2" height="1.2" fill="#000"/><rect x="339.7" y="425.7" width="1.2" height="1.2" fill="#60f020"/><rect x="351.5" y="423.9" width="1.2" height="1.2" fill="#20d0c0"/><rect x="342.9" y="424.4" width="1.2" height="1.2" fill="#10ff40"/><rect x="349.9" y="427.6" width="1.2" height="1.2" fill="#1ee830"/><rect x="345.3" y="423.5" width="1.2" height="1.2" fill="#40ff80"/><rect x="339.0" y="423.8" width="1.2" height="1.2" fill="#20e0a0"/><rect x="342.2" y="422.4" width="1.2" height="1.2" fill="#40ff80"/><rect x="352.0" y="428.5" width="1.2" height="1.2" fill="#10ff40"/><rect x="347.8" y="424.4" width="1.2" height="1.2" fill="#1ee830"/><rect x="357.3" y="429.9" width="1.2" height="1.2" fill="#000"/><rect x="352.9" y="429.2" width="1.2" height="1.2" fill="#40ff80"/><rect x="353.5" y="427.8" width="1.2" height="1.2" fill="#000"/><rect x="357.6" y="423.5" width="1.2" height="1.2" fill="#60f020"/><rect x="353.5" y="426.7" width="1.2" height="1.2" fill="#000"/><rect x="353.4" y="430.9" width="1.2" height="1.2" fill="#20e0a0"/><rect x="347.0" y="423.3" width="1.2" height="1.2" fill="#20e0a0"/><rect x="345.6" y="425.9" width="1.2" height="1.2" fill="#40ff80"/><rect x="349.1" y="424.8" width="1.2" height="1.2" fill="#000"/><rect x="352.4" y="424.8" width="1.2" height="1.2" fill="#40ff80"/><rect x="344.4" y="428.7" width="1.2" height="1.2" fill="#1ee830"/><rect x="338.1" y="428.3" width="1.2" height="1.2" fill="#10ff40"/><rect x="356.1" y="426.2" width="1.2" height="1.2" fill="#20d0c0"/><rect x="343.1" y="425.6" width="1.2" height="1.2" fill="#10ff40"/><rect x="358.9" y="425.6" width="1.2" height="1.2" fill="#60f020"/><rect x="347.6" y="423.2" width="1.2" height="1.2" fill="#000"/><rect x="340.4" y="424.9" width="1.2" height="1.2" fill="#20d0c0"/><rect x="348.8" y="425.9" width="1.2" height="1.2" fill="#1ee830"/><rect x="345.5" y="429.0" width="1.2" height="1.2" fill="#000"/><rect x="340.2" y="425.5" width="1.2" height="1.2" fill="#000"/><rect x="348.5" y="423.1" width="1.2" height="1.2" fill="#20e0a0"/><rect x="357.3" y="427.9" width="1.2" height="1.2" fill="#1ee830"/><rect x="344.1" y="426.1" width="1.2" height="1.2" fill="#40ff80"/><rect x="355.1" y="427.6" width="1.2" height="1.2" fill="#20d0c0"/><rect x="343.0" y="425.0" width="1.2" height="1.2" fill="#20d0c0"/><rect x="344.5" y="425.5" width="1.2" height="1.2" fill="#10ff40"/><rect x="347.3" y="423.7" width="1.2" height="1.2" fill="#10ff40"/><rect x="355.7" y="427.4" width="1.2" height="1.2" fill="#60f020"/><rect x="345.6" y="425.6" width="1.2" height="1.2" fill="#40ff80"/>
<rect x="349.5" y="451.0" width="1.2" height="1.2" fill="#000"/><rect x="371.0" y="457.4" width="1.2" height="1.2" fill="#20c0c0"/><rect x="371.0" y="454.3" width="1.2" height="1.2" fill="#000"/><rect x="359.8" y="469.6" width="1.2" height="1.2" fill="#30e050"/><rect x="347.8" y="467.3" width="1.2" height="1.2" fill="#000"/><rect x="336.8" y="464.9" width="1.2" height="1.2" fill="#30e050"/><rect x="350.0" y="476.4" width="1.2" height="1.2" fill="#30e050"/><rect x="350.4" y="439.4" width="1.2" height="1.2" fill="#000"/><rect x="334.3" y="450.7" width="1.2" height="1.2" fill="#30e050"/><rect x="356.6" y="435.7" width="1.2" height="1.2" fill="#30e050"/><rect x="332.5" y="445.2" width="1.2" height="1.2" fill="#000"/><rect x="338.2" y="472.2" width="1.2" height="1.2" fill="#30e050"/><rect x="326.8" y="465.7" width="1.2" height="1.2" fill="#20c0c0"/><rect x="321.6" y="453.2" width="1.2" height="1.2" fill="#20c0c0"/><rect x="353.2" y="470.2" width="1.2" height="1.2" fill="#000"/><rect x="366.8" y="443.1" width="1.2" height="1.2" fill="#000"/><rect x="365.6" y="453.7" width="1.2" height="1.2" fill="#20c0c0"/><rect x="353.0" y="446.0" width="1.2" height="1.2" fill="#20c0c0"/><rect x="341.2" y="456.1" width="1.2" height="1.2" fill="#000"/><rect x="357.2" y="434.6" width="1.2" height="1.2" fill="#30e050"/><rect x="357.9" y="445.5" width="1.2" height="1.2" fill="#000"/><rect x="361.5" y="446.5" width="1.2" height="1.2" fill="#20c0c0"/><rect x="342.9" y="461.8" width="1.2" height="1.2" fill="#000"/><rect x="336.5" y="475.0" width="1.2" height="1.2" fill="#30e050"/><rect x="362.6" y="434.2" width="1.2" height="1.2" fill="#30e050"/><rect x="338.1" y="453.1" width="1.2" height="1.2" fill="#30e050"/><rect x="344.3" y="453.7" width="1.2" height="1.2" fill="#30e050"/><rect x="366.9" y="441.4" width="1.2" height="1.2" fill="#30e050"/><rect x="362.9" y="458.7" width="1.2" height="1.2" fill="#20c0c0"/><rect x="356.5" y="447.9" width="1.2" height="1.2" fill="#30e050"/><rect x="324.5" y="441.6" width="1.2" height="1.2" fill="#30e050"/><rect x="353.0" y="453.4" width="1.2" height="1.2" fill="#20c0c0"/><rect x="330.8" y="443.8" width="1.2" height="1.2" fill="#000"/><rect x="325.8" y="458.8" width="1.2" height="1.2" fill="#000"/><rect x="348.9" y="452.9" width="1.2" height="1.2" fill="#30e050"/><rect x="347.4" y="426.9" width="1.2" height="1.2" fill="#30e050"/><rect x="335.1" y="469.0" width="1.2" height="1.2" fill="#000"/><rect x="341.2" y="468.7" width="1.2" height="1.2" fill="#000"/><rect x="356.9" y="429.9" width="1.2" height="1.2" fill="#30e050"/><rect x="368.0" y="453.7" width="1.2" height="1.2" fill="#30e050"/><rect x="328.4" y="434.4" width="1.2" height="1.2" fill="#20c0c0"/><rect x="354.8" y="462.2" width="1.2" height="1.2" fill="#000"/><rect x="334.7" y="474.1" width="1.2" height="1.2" fill="#000"/><rect x="331.2" y="441.8" width="1.2" height="1.2" fill="#20c0c0"/><rect x="329.6" y="437.7" width="1.2" height="1.2" fill="#30e050"/><rect x="368.3" y="440.3" width="1.2" height="1.2" fill="#000"/><rect x="361.0" y="433.9" width="1.2" height="1.2" fill="#20c0c0"/><rect x="368.8" y="449.8" width="1.2" height="1.2" fill="#30e050"/><rect x="334.3" y="473.6" width="1.2" height="1.2" fill="#20c0c0"/><rect x="339.3" y="464.6" width="1.2" height="1.2" fill="#30e050"/><rect x="345.3" y="431.7" width="1.2" height="1.2" fill="#30e050"/><rect x="338.6" y="447.5" width="1.2" height="1.2" fill="#000"/><rect x="369.8" y="452.3" width="1.2" height="1.2" fill="#20c0c0"/><rect x="342.2" y="433.9" width="1.2" height="1.2" fill="#20c0c0"/><rect x="335.8" y="434.6" width="1.2" height="1.2" fill="#000"/><rect x="335.9" y="441.3" width="1.2" height="1.2" fill="#30e050"/><rect x="348.8" y="471.6" width="1.2" height="1.2" fill="#000"/><rect x="328.9" y="432.1" width="1.2" height="1.2" fill="#000"/><rect x="336.7" y="453.8" width="1.2" height="1.2" fill="#000"/><rect x="337.0" y="427.8" width="1.2" height="1.2" fill="#30e050"/><rect x="363.9" y="431.5" width="1.2" height="1.2" fill="#000"/><rect x="351.1" y="450.5" width="1.2" height="1.2" fill="#30e050"/><rect x="356.1" y="461.9" width="1.2" height="1.2" fill="#20c0c0"/><rect x="369.9" y="461.2" width="1.2" height="1.2" fill="#000"/><rect x="336.4" y="445.4" width="1.2" height="1.2" fill="#20c0c0"/><rect x="339.6" y="441.9" width="1.2" height="1.2" fill="#000"/><rect x="368.8" y="462.5" width="1.2" height="1.2" fill="#30e050"/><rect x="322.9" y="446.0" width="1.2" height="1.2" fill="#20c0c0"/><rect x="337.9" y="470.6" width="1.2" height="1.2" fill="#20c0c0"/><rect x="338.4" y="461.1" width="1.2" height="1.2" fill="#000"/>
</g>
<g filter="url(#soft)">
<path d="M412.5,446 L414.5,441 L418.7,435.7 L423.5,432.2 L429.1,429.9 L434.5,429.3 L439.6,429.4 L444.5,430.2 L449,431.5 L452.1,435.7 L451.5,441 L450,446.1 L446.9,454.5 L444.8,461.8" fill="none" stroke="#38e030" stroke-width="1.3" stroke-linejoin="round"/>
<path d="M416.6,441 L420,437 L423.9,433.6 L429,432.2 L434.4,431.5 L441,432 L447.9,433.6" fill="none" stroke="#78c818" stroke-width="1.1" stroke-linejoin="round"/>
<path d="M413.5,443.5 L418,442 L423.9,439.9 L427.5,441 L430.2,443 L432.5,446 L434.4,449.3 L437.5,454.5" fill="none" stroke="#70d020" stroke-width="1.2" stroke-linejoin="round"/>
<path d="M434.4,446.1 L438,443 L441.7,440.9 L445.5,439 L449,437.8" fill="none" stroke="#90c010" stroke-width="1.1" stroke-linejoin="round"/>
<path d="M412,448 L416,447 L420,446.5 L424.5,448 L428,450 L431,453 L434,456.5 L437,458.5 L440.5,457.5 L443.5,454 L446,450 L448.5,444" fill="none" stroke="#40e030" stroke-width="1.3" stroke-linejoin="round"/>
<path d="M419,438.5 L423,436.8 L427.5,437 L432,439.5 L435.5,443 L438,446.5" fill="none" stroke="#80c010" stroke-width="1" stroke-linejoin="round"/>
<rect x="422.4" y="434.2" width="1.0" height="1.0" fill="#60e020"/><rect x="429.7" y="429.2" width="1.0" height="1.0" fill="#60e020"/><rect x="447.5" y="453.1" width="1.0" height="1.0" fill="#20c090"/><rect x="432.9" y="429.3" width="1.0" height="1.0" fill="#000"/><rect x="433.7" y="429.1" width="1.0" height="1.0" fill="#60e020"/><rect x="420.0" y="434.5" width="1.0" height="1.0" fill="#60e020"/><rect x="427.3" y="430.3" width="1.0" height="1.0" fill="#000"/><rect x="415.2" y="440.7" width="1.0" height="1.0" fill="#a0c000"/><rect x="446.4" y="460.5" width="1.0" height="1.0" fill="#000"/><rect x="445.5" y="429.2" width="1.0" height="1.0" fill="#30f030"/><rect x="441.5" y="429.1" width="1.0" height="1.0" fill="#20c090"/><rect x="447.9" y="450.2" width="1.0" height="1.0" fill="#20c090"/><rect x="452.8" y="436.9" width="1.0" height="1.0" fill="#000"/><rect x="445.8" y="458.8" width="1.0" height="1.0" fill="#20c090"/><rect x="445.9" y="431.1" width="1.0" height="1.0" fill="#60e020"/><rect x="452.2" y="441.4" width="1.0" height="1.0" fill="#a0c000"/><rect x="427.4" y="429.9" width="1.0" height="1.0" fill="#30f030"/><rect x="447.6" y="430.2" width="1.0" height="1.0" fill="#a0c000"/><rect x="450.3" y="446.6" width="1.0" height="1.0" fill="#a0c000"/><rect x="451.4" y="438.2" width="1.0" height="1.0" fill="#000"/><rect x="417.7" y="438.3" width="1.0" height="1.0" fill="#60e020"/><rect x="413.2" y="446.2" width="1.0" height="1.0" fill="#000"/><rect x="418.6" y="437.6" width="1.0" height="1.0" fill="#000"/><rect x="446.6" y="456.7" width="1.0" height="1.0" fill="#30f030"/><rect x="432.5" y="428.5" width="1.0" height="1.0" fill="#30f030"/><rect x="429.0" y="430.0" width="1.0" height="1.0" fill="#a0c000"/><rect x="413.3" y="443.1" width="1.0" height="1.0" fill="#000"/><rect x="451.4" y="443.1" width="1.0" height="1.0" fill="#a0c000"/><rect x="414.3" y="443.1" width="1.0" height="1.0" fill="#30f030"/><rect x="439.5" y="429.1" width="1.0" height="1.0" fill="#30f030"/><rect x="423.3" y="431.9" width="1.0" height="1.0" fill="#20c090"/><rect x="441.9" y="430.7" width="1.0" height="1.0" fill="#30f030"/><rect x="441.8" y="430.5" width="1.0" height="1.0" fill="#a0c000"/><rect x="447.2" y="431.9" width="1.0" height="1.0" fill="#20c090"/><rect x="435.8" y="430.6" width="1.0" height="1.0" fill="#60e020"/><rect x="425.5" y="431.4" width="1.0" height="1.0" fill="#a0c000"/><rect x="418.5" y="435.5" width="1.0" height="1.0" fill="#30f030"/><rect x="419.2" y="435.0" width="1.0" height="1.0" fill="#a0c000"/><rect x="428.4" y="430.6" width="1.0" height="1.0" fill="#000"/><rect x="449.4" y="449.9" width="1.0" height="1.0" fill="#30f030"/>
<rect x="419.0" y="439.7" width="1.0" height="1.0" fill="#a0c000"/><rect x="426.2" y="433.0" width="1.0" height="1.0" fill="#000"/><rect x="429.8" y="431.7" width="1.0" height="1.0" fill="#60e020"/><rect x="442.6" y="431.9" width="1.0" height="1.0" fill="#a0c000"/><rect x="427.9" y="433.5" width="1.0" height="1.0" fill="#000"/><rect x="437.1" y="431.2" width="1.0" height="1.0" fill="#20c090"/><rect x="427.5" y="432.8" width="1.0" height="1.0" fill="#60e020"/><rect x="428.0" y="433.0" width="1.0" height="1.0" fill="#20c090"/><rect x="437.8" y="431.4" width="1.0" height="1.0" fill="#20c090"/><rect x="439.0" y="431.8" width="1.0" height="1.0" fill="#000"/><rect x="427.9" y="432.4" width="1.0" height="1.0" fill="#60e020"/><rect x="427.6" y="431.4" width="1.0" height="1.0" fill="#60e020"/><rect x="441.6" y="432.5" width="1.0" height="1.0" fill="#60e020"/><rect x="441.3" y="433.1" width="1.0" height="1.0" fill="#000"/><rect x="445.2" y="431.3" width="1.0" height="1.0" fill="#20c090"/><rect x="428.2" y="433.0" width="1.0" height="1.0" fill="#a0c000"/><rect x="439.0" y="431.0" width="1.0" height="1.0" fill="#20c090"/><rect x="421.0" y="435.0" width="1.0" height="1.0" fill="#60e020"/><rect x="420.1" y="438.7" width="1.0" height="1.0" fill="#20c090"/><rect x="445.5" y="434.1" width="1.0" height="1.0" fill="#60e020"/><rect x="428.5" y="432.0" width="1.0" height="1.0" fill="#a0c000"/><rect x="427.4" y="433.7" width="1.0" height="1.0" fill="#a0c000"/><rect x="421.6" y="434.8" width="1.0" height="1.0" fill="#a0c000"/><rect x="427.0" y="433.5" width="1.0" height="1.0" fill="#20c090"/><rect x="423.4" y="434.0" width="1.0" height="1.0" fill="#a0c000"/><rect x="418.5" y="437.2" width="1.0" height="1.0" fill="#a0c000"/><rect x="440.9" y="432.3" width="1.0" height="1.0" fill="#000"/><rect x="434.3" y="431.6" width="1.0" height="1.0" fill="#a0c000"/><rect x="445.9" y="432.6" width="1.0" height="1.0" fill="#a0c000"/><rect x="436.9" y="431.9" width="1.0" height="1.0" fill="#000"/><rect x="419.2" y="440.6" width="1.0" height="1.0" fill="#60e020"/><rect x="427.6" y="433.0" width="1.0" height="1.0" fill="#60e020"/><rect x="447.5" y="434.1" width="1.0" height="1.0" fill="#a0c000"/><rect x="444.6" y="433.3" width="1.0" height="1.0" fill="#a0c000"/><rect x="440.1" y="431.3" width="1.0" height="1.0" fill="#a0c000"/><rect x="439.1" y="431.9" width="1.0" height="1.0" fill="#60e020"/><rect x="446.5" y="433.3" width="1.0" height="1.0" fill="#30f030"/><rect x="430.6" y="432.9" width="1.0" height="1.0" fill="#000"/><rect x="440.8" y="432.3" width="1.0" height="1.0" fill="#20c090"/><rect x="420.2" y="438.3" width="1.0" height="1.0" fill="#60e020"/>
<rect x="425.3" y="440.2" width="1.0" height="1.0" fill="#60e020"/><rect x="422.0" y="439.4" width="1.0" height="1.0" fill="#30f030"/><rect x="428.9" y="443.2" width="1.0" height="1.0" fill="#30f030"/><rect x="430.1" y="442.9" width="1.0" height="1.0" fill="#30f030"/><rect x="431.3" y="444.5" width="1.0" height="1.0" fill="#60e020"/><rect x="417.5" y="441.1" width="1.0" height="1.0" fill="#000"/><rect x="433.6" y="446.4" width="1.0" height="1.0" fill="#a0c000"/><rect x="434.7" y="449.1" width="1.0" height="1.0" fill="#30f030"/><rect x="421.9" y="441.1" width="1.0" height="1.0" fill="#60e020"/><rect x="419.0" y="442.6" width="1.0" height="1.0" fill="#000"/><rect x="433.0" y="449.5" width="1.0" height="1.0" fill="#20c090"/><rect x="423.6" y="440.5" width="1.0" height="1.0" fill="#60e020"/><rect x="429.0" y="442.6" width="1.0" height="1.0" fill="#60e020"/><rect x="436.2" y="452.8" width="1.0" height="1.0" fill="#000"/><rect x="428.0" y="442.1" width="1.0" height="1.0" fill="#a0c000"/><rect x="433.6" y="448.6" width="1.0" height="1.0" fill="#000"/><rect x="434.9" y="450.4" width="1.0" height="1.0" fill="#30f030"/><rect x="415.3" y="441.9" width="1.0" height="1.0" fill="#000"/><rect x="432.9" y="444.5" width="1.0" height="1.0" fill="#60e020"/><rect x="423.3" y="439.9" width="1.0" height="1.0" fill="#60e020"/><rect x="415.9" y="443.0" width="1.0" height="1.0" fill="#a0c000"/><rect x="422.9" y="441.0" width="1.0" height="1.0" fill="#a0c000"/><rect x="433.7" y="444.8" width="1.0" height="1.0" fill="#000"/><rect x="437.2" y="453.8" width="1.0" height="1.0" fill="#60e020"/><rect x="417.8" y="442.0" width="1.0" height="1.0" fill="#20c090"/><rect x="418.1" y="441.0" width="1.0" height="1.0" fill="#000"/><rect x="415.1" y="443.4" width="1.0" height="1.0" fill="#30f030"/><rect x="419.1" y="441.1" width="1.0" height="1.0" fill="#60e020"/><rect x="417.0" y="441.4" width="1.0" height="1.0" fill="#a0c000"/><rect x="426.4" y="439.7" width="1.0" height="1.0" fill="#000"/><rect x="425.4" y="440.0" width="1.0" height="1.0" fill="#60e020"/><rect x="423.4" y="440.3" width="1.0" height="1.0" fill="#30f030"/><rect x="430.4" y="442.7" width="1.0" height="1.0" fill="#a0c000"/><rect x="422.5" y="439.1" width="1.0" height="1.0" fill="#60e020"/><rect x="435.6" y="451.4" width="1.0" height="1.0" fill="#a0c000"/><rect x="420.8" y="441.0" width="1.0" height="1.0" fill="#20c090"/><rect x="425.4" y="441.0" width="1.0" height="1.0" fill="#000"/><rect x="433.5" y="447.9" width="1.0" height="1.0" fill="#20c090"/><rect x="417.1" y="443.6" width="1.0" height="1.0" fill="#000"/><rect x="431.9" y="443.9" width="1.0" height="1.0" fill="#a0c000"/>
<rect x="446.7" y="438.3" width="1.0" height="1.0" fill="#20c090"/><rect x="447.5" y="438.7" width="1.0" height="1.0" fill="#000"/><rect x="436.1" y="444.9" width="1.0" height="1.0" fill="#60e020"/><rect x="446.8" y="437.2" width="1.0" height="1.0" fill="#000"/><rect x="446.8" y="437.3" width="1.0" height="1.0" fill="#a0c000"/><rect x="447.3" y="438.4" width="1.0" height="1.0" fill="#a0c000"/><rect x="442.1" y="440.1" width="1.0" height="1.0" fill="#000"/><rect x="448.1" y="438.4" width="1.0" height="1.0" fill="#30f030"/><rect x="449.5" y="438.5" width="1.0" height="1.0" fill="#30f030"/><rect x="437.2" y="443.0" width="1.0" height="1.0" fill="#a0c000"/><rect x="439.4" y="441.1" width="1.0" height="1.0" fill="#30f030"/><rect x="442.1" y="440.7" width="1.0" height="1.0" fill="#60e020"/><rect x="435.9" y="444.5" width="1.0" height="1.0" fill="#20c090"/><rect x="444.7" y="439.0" width="1.0" height="1.0" fill="#30f030"/><rect x="440.8" y="442.8" width="1.0" height="1.0" fill="#000"/><rect x="442.3" y="441.3" width="1.0" height="1.0" fill="#000"/><rect x="432.9" y="445.9" width="1.0" height="1.0" fill="#a0c000"/><rect x="442.2" y="440.0" width="1.0" height="1.0" fill="#60e020"/><rect x="448.3" y="438.5" width="1.0" height="1.0" fill="#20c090"/><rect x="434.8" y="445.4" width="1.0" height="1.0" fill="#20c090"/><rect x="437.8" y="443.9" width="1.0" height="1.0" fill="#20c090"/><rect x="445.0" y="441.1" width="1.0" height="1.0" fill="#60e020"/><rect x="441.6" y="441.1" width="1.0" height="1.0" fill="#30f030"/><rect x="445.9" y="439.5" width="1.0" height="1.0" fill="#a0c000"/><rect x="448.1" y="437.6" width="1.0" height="1.0" fill="#20c090"/><rect x="441.2" y="441.0" width="1.0" height="1.0" fill="#60e020"/><rect x="442.9" y="440.6" width="1.0" height="1.0" fill="#60e020"/><rect x="434.8" y="446.1" width="1.0" height="1.0" fill="#000"/><rect x="443.1" y="441.5" width="1.0" height="1.0" fill="#000"/><rect x="437.2" y="444.0" width="1.0" height="1.0" fill="#000"/><rect x="447.3" y="437.5" width="1.0" height="1.0" fill="#a0c000"/><rect x="440.0" y="441.5" width="1.0" height="1.0" fill="#a0c000"/><rect x="438.0" y="443.1" width="1.0" height="1.0" fill="#000"/><rect x="443.4" y="440.0" width="1.0" height="1.0" fill="#000"/><rect x="434.3" y="445.9" width="1.0" height="1.0" fill="#20c090"/><rect x="448.3" y="438.4" width="1.0" height="1.0" fill="#a0c000"/><rect x="441.8" y="441.8" width="1.0" height="1.0" fill="#a0c000"/><rect x="438.5" y="443.3" width="1.0" height="1.0" fill="#60e020"/><rect x="438.5" y="442.2" width="1.0" height="1.0" fill="#30f030"/><rect x="448.5" y="438.3" width="1.0" height="1.0" fill="#30f030"/>
<rect x="435.2" y="457.4" width="1.0" height="1.0" fill="#000"/><rect x="445.3" y="450.1" width="1.0" height="1.0" fill="#20c090"/><rect x="431.7" y="451.3" width="1.0" height="1.0" fill="#30f030"/><rect x="431.0" y="452.4" width="1.0" height="1.0" fill="#000"/><rect x="428.4" y="451.2" width="1.0" height="1.0" fill="#000"/><rect x="431.8" y="453.9" width="1.0" height="1.0" fill="#a0c000"/><rect x="417.2" y="446.8" width="1.0" height="1.0" fill="#20c090"/><rect x="446.2" y="449.4" width="1.0" height="1.0" fill="#20c090"/><rect x="414.0" y="447.5" width="1.0" height="1.0" fill="#a0c000"/><rect x="413.4" y="447.7" width="1.0" height="1.0" fill="#a0c000"/><rect x="414.8" y="446.4" width="1.0" height="1.0" fill="#000"/><rect x="436.0" y="458.5" width="1.0" height="1.0" fill="#a0c000"/><rect x="435.2" y="457.0" width="1.0" height="1.0" fill="#60e020"/><rect x="447.7" y="445.5" width="1.0" height="1.0" fill="#60e020"/><rect x="440.9" y="458.6" width="1.0" height="1.0" fill="#30f030"/><rect x="428.7" y="450.9" width="1.0" height="1.0" fill="#a0c000"/><rect x="441.1" y="457.5" width="1.0" height="1.0" fill="#a0c000"/><rect x="431.1" y="456.9" width="1.0" height="1.0" fill="#20c090"/><rect x="428.0" y="451.1" width="1.0" height="1.0" fill="#60e020"/><rect x="444.9" y="450.7" width="1.0" height="1.0" fill="#000"/><rect x="445.9" y="449.5" width="1.0" height="1.0" fill="#20c090"/><rect x="448.2" y="444.8" width="1.0" height="1.0" fill="#20c090"/><rect x="427.6" y="449.7" width="1.0" height="1.0" fill="#a0c000"/><rect x="445.8" y="451.8" width="1.0" height="1.0" fill="#60e020"/><rect x="418.7" y="447.3" width="1.0" height="1.0" fill="#30f030"/><rect x="431.1" y="452.9" width="1.0" height="1.0" fill="#a0c000"/><rect x="444.9" y="451.8" width="1.0" height="1.0" fill="#a0c000"/><rect x="430.3" y="452.0" width="1.0" height="1.0" fill="#30f030"/><rect x="442.7" y="453.7" width="1.0" height="1.0" fill="#60e020"/><rect x="432.8" y="454.6" width="1.0" height="1.0" fill="#000"/><rect x="445.7" y="449.5" width="1.0" height="1.0" fill="#a0c000"/><rect x="438.5" y="457.0" width="1.0" height="1.0" fill="#000"/><rect x="443.4" y="454.0" width="1.0" height="1.0" fill="#60e020"/><rect x="415.9" y="446.7" width="1.0" height="1.0" fill="#60e020"/><rect x="423.8" y="448.6" width="1.0" height="1.0" fill="#000"/><rect x="434.0" y="454.8" width="1.0" height="1.0" fill="#30f030"/><rect x="431.8" y="454.1" width="1.0" height="1.0" fill="#20c090"/><rect x="436.2" y="457.9" width="1.0" height="1.0" fill="#a0c000"/><rect x="435.0" y="457.7" width="1.0" height="1.0" fill="#000"/><rect x="436.5" y="457.8" width="1.0" height="1.0" fill="#20c090"/>
<rect x="432.2" y="441.9" width="1.0" height="1.0" fill="#60e020"/><rect x="436.1" y="441.2" width="1.0" height="1.0" fill="#30f030"/><rect x="422.3" y="437.3" width="1.0" height="1.0" fill="#20c090"/><rect x="436.4" y="443.2" width="1.0" height="1.0" fill="#60e020"/><rect x="422.8" y="436.3" width="1.0" height="1.0" fill="#000"/><rect x="427.6" y="437.6" width="1.0" height="1.0" fill="#20c090"/><rect x="431.5" y="439.3" width="1.0" height="1.0" fill="#60e020"/><rect x="433.2" y="440.6" width="1.0" height="1.0" fill="#20c090"/><rect x="436.2" y="444.1" width="1.0" height="1.0" fill="#20c090"/><rect x="432.8" y="440.8" width="1.0" height="1.0" fill="#20c090"/><rect x="422.7" y="436.4" width="1.0" height="1.0" fill="#a0c000"/><rect x="435.1" y="442.5" width="1.0" height="1.0" fill="#a0c000"/><rect x="433.0" y="441.2" width="1.0" height="1.0" fill="#60e020"/><rect x="422.1" y="436.0" width="1.0" height="1.0" fill="#000"/><rect x="421.8" y="437.0" width="1.0" height="1.0" fill="#000"/><rect x="436.6" y="444.8" width="1.0" height="1.0" fill="#000"/><rect x="436.8" y="445.6" width="1.0" height="1.0" fill="#a0c000"/><rect x="435.2" y="443.1" width="1.0" height="1.0" fill="#30f030"/><rect x="436.9" y="445.5" width="1.0" height="1.0" fill="#30f030"/><rect x="427.0" y="438.1" width="1.0" height="1.0" fill="#000"/><rect x="422.9" y="436.6" width="1.0" height="1.0" fill="#60e020"/><rect x="421.9" y="436.7" width="1.0" height="1.0" fill="#20c090"/><rect x="427.7" y="436.1" width="1.0" height="1.0" fill="#60e020"/><rect x="436.2" y="445.2" width="1.0" height="1.0" fill="#30f030"/><rect x="432.5" y="442.4" width="1.0" height="1.0" fill="#30f030"/><rect x="425.9" y="437.1" width="1.0" height="1.0" fill="#30f030"/><rect x="422.2" y="437.7" width="1.0" height="1.0" fill="#30f030"/><rect x="418.8" y="437.5" width="1.0" height="1.0" fill="#000"/><rect x="423.7" y="436.1" width="1.0" height="1.0" fill="#000"/><rect x="434.5" y="442.3" width="1.0" height="1.0" fill="#000"/><rect x="431.7" y="440.0" width="1.0" height="1.0" fill="#000"/><rect x="435.4" y="442.8" width="1.0" height="1.0" fill="#000"/><rect x="430.6" y="438.1" width="1.0" height="1.0" fill="#20c090"/><rect x="426.3" y="436.8" width="1.0" height="1.0" fill="#20c090"/><rect x="430.1" y="438.4" width="1.0" height="1.0" fill="#30f030"/><rect x="432.3" y="440.0" width="1.0" height="1.0" fill="#30f030"/><rect x="436.7" y="445.9" width="1.0" height="1.0" fill="#20c090"/><rect x="437.4" y="446.1" width="1.0" height="1.0" fill="#a0c000"/><rect x="432.3" y="439.7" width="1.0" height="1.0" fill="#60e020"/><rect x="434.0" y="440.8" width="1.0" height="1.0" fill="#30f030"/>
<path d="M410.3,453.4 L414.5,454.5 L418.7,455.5 L423,457.3 L427,459.7 L430.5,462.5 L434.4,465 L438.5,465 L442.7,463.9 L446.9,459.7" fill="none" stroke="#2cf030" stroke-width="5" stroke-linejoin="round" stroke-linecap="round"/>
<rect x="439.6" y="466.0" width="1.3" height="1.3" fill="#30ff30"/><rect x="430.4" y="454.3" width="1.3" height="1.3" fill="#20e040"/><rect x="414.4" y="453.0" width="1.3" height="1.3" fill="#40ff60"/><rect x="412.7" y="453.3" width="1.3" height="1.3" fill="#20e040"/><rect x="430.1" y="460.4" width="1.3" height="1.3" fill="#40ff60"/><rect x="413.4" y="454.1" width="1.3" height="1.3" fill="#18d828"/><rect x="418.9" y="456.3" width="1.3" height="1.3" fill="#20e040"/><rect x="438.6" y="463.3" width="1.3" height="1.3" fill="#30f080"/><rect x="416.7" y="448.9" width="1.3" height="1.3" fill="#000"/><rect x="418.4" y="456.4" width="1.3" height="1.3" fill="#30f080"/><rect x="431.3" y="462.3" width="1.3" height="1.3" fill="#30f080"/><rect x="445.7" y="463.5" width="1.3" height="1.3" fill="#30f080"/><rect x="444.6" y="462.6" width="1.3" height="1.3" fill="#18d828"/><rect x="441.0" y="464.1" width="1.3" height="1.3" fill="#20e040"/><rect x="430.6" y="463.9" width="1.3" height="1.3" fill="#18d828"/><rect x="411.5" y="453.5" width="1.3" height="1.3" fill="#000"/><rect x="407.7" y="459.0" width="1.3" height="1.3" fill="#30ff30"/><rect x="417.7" y="456.2" width="1.3" height="1.3" fill="#18d828"/><rect x="409.2" y="454.6" width="1.3" height="1.3" fill="#30ff30"/><rect x="415.8" y="454.8" width="1.3" height="1.3" fill="#18d828"/><rect x="447.7" y="460.5" width="1.3" height="1.3" fill="#30f080"/><rect x="410.7" y="452.2" width="1.3" height="1.3" fill="#30ff30"/><rect x="436.6" y="468.3" width="1.3" height="1.3" fill="#18d828"/><rect x="412.9" y="456.2" width="1.3" height="1.3" fill="#20e040"/><rect x="420.9" y="460.1" width="1.3" height="1.3" fill="#20e040"/><rect x="422.4" y="455.9" width="1.3" height="1.3" fill="#20e040"/><rect x="435.8" y="459.3" width="1.3" height="1.3" fill="#30f080"/><rect x="434.8" y="463.5" width="1.3" height="1.3" fill="#40ff60"/><rect x="434.3" y="462.1" width="1.3" height="1.3" fill="#18d828"/><rect x="421.6" y="459.3" width="1.3" height="1.3" fill="#20e040"/><rect x="410.4" y="453.6" width="1.3" height="1.3" fill="#000"/><rect x="419.8" y="457.3" width="1.3" height="1.3" fill="#30f080"/><rect x="420.5" y="456.6" width="1.3" height="1.3" fill="#30ff30"/><rect x="443.6" y="462.8" width="1.3" height="1.3" fill="#18d828"/><rect x="431.1" y="460.2" width="1.3" height="1.3" fill="#000"/><rect x="426.8" y="464.0" width="1.3" height="1.3" fill="#30ff30"/><rect x="440.6" y="468.2" width="1.3" height="1.3" fill="#40ff60"/><rect x="446.3" y="451.5" width="1.3" height="1.3" fill="#18d828"/><rect x="446.8" y="456.9" width="1.3" height="1.3" fill="#18d828"/><rect x="425.7" y="464.1" width="1.3" height="1.3" fill="#18d828"/><rect x="449.0" y="457.6" width="1.3" height="1.3" fill="#000"/><rect x="425.4" y="458.7" width="1.3" height="1.3" fill="#20e040"/><rect x="418.9" y="453.4" width="1.3" height="1.3" fill="#20e040"/><rect x="441.9" y="460.8" width="1.3" height="1.3" fill="#000"/><rect x="427.6" y="462.6" width="1.3" height="1.3" fill="#30f080"/><rect x="414.7" y="453.6" width="1.3" height="1.3" fill="#20e040"/><rect x="432.6" y="467.7" width="1.3" height="1.3" fill="#000"/><rect x="434.3" y="464.1" width="1.3" height="1.3" fill="#000"/><rect x="420.2" y="459.4" width="1.3" height="1.3" fill="#000"/><rect x="445.9" y="465.1" width="1.3" height="1.3" fill="#20e040"/><rect x="429.7" y="458.7" width="1.3" height="1.3" fill="#30ff30"/><rect x="428.5" y="461.0" width="1.3" height="1.3" fill="#20e040"/><rect x="412.7" y="449.9" width="1.3" height="1.3" fill="#30f080"/><rect x="442.3" y="458.5" width="1.3" height="1.3" fill="#30f080"/><rect x="444.3" y="463.2" width="1.3" height="1.3" fill="#000"/><rect x="425.1" y="457.4" width="1.3" height="1.3" fill="#18d828"/><rect x="415.2" y="454.0" width="1.3" height="1.3" fill="#40ff60"/><rect x="429.2" y="463.3" width="1.3" height="1.3" fill="#30f080"/><rect x="423.8" y="456.3" width="1.3" height="1.3" fill="#20e040"/><rect x="429.0" y="461.2" width="1.3" height="1.3" fill="#000"/><rect x="445.6" y="462.9" width="1.3" height="1.3" fill="#40ff60"/><rect x="443.5" y="461.8" width="1.3" height="1.3" fill="#40ff60"/><rect x="440.3" y="466.7" width="1.3" height="1.3" fill="#20e040"/><rect x="444.4" y="462.5" width="1.3" height="1.3" fill="#40ff60"/><rect x="428.3" y="462.7" width="1.3" height="1.3" fill="#20e040"/><rect x="438.6" y="466.6" width="1.3" height="1.3" fill="#30ff30"/><rect x="421.5" y="456.9" width="1.3" height="1.3" fill="#40ff60"/><rect x="429.5" y="464.5" width="1.3" height="1.3" fill="#18d828"/><rect x="438.8" y="462.2" width="1.3" height="1.3" fill="#000"/><rect x="428.6" y="458.3" width="1.3" height="1.3" fill="#18d828"/><rect x="446.1" y="460.8" width="1.3" height="1.3" fill="#30f080"/><rect x="426.9" y="459.1" width="1.3" height="1.3" fill="#30f080"/><rect x="421.8" y="459.6" width="1.3" height="1.3" fill="#18d828"/><rect x="436.4" y="465.1" width="1.3" height="1.3" fill="#40ff60"/><rect x="442.9" y="463.7" width="1.3" height="1.3" fill="#30ff30"/><rect x="425.5" y="459.8" width="1.3" height="1.3" fill="#20e040"/><rect x="415.1" y="455.2" width="1.3" height="1.3" fill="#40ff60"/><rect x="447.8" y="459.1" width="1.3" height="1.3" fill="#20e040"/><rect x="416.8" y="455.4" width="1.3" height="1.3" fill="#30f080"/><rect x="413.3" y="453.3" width="1.3" height="1.3" fill="#000"/><rect x="438.9" y="465.8" width="1.3" height="1.3" fill="#18d828"/><rect x="419.4" y="454.4" width="1.3" height="1.3" fill="#30ff30"/><rect x="411.1" y="451.2" width="1.3" height="1.3" fill="#40ff60"/><rect x="427.3" y="459.8" width="1.3" height="1.3" fill="#40ff60"/><rect x="425.9" y="459.6" width="1.3" height="1.3" fill="#30ff30"/><rect x="436.3" y="459.8" width="1.3" height="1.3" fill="#000"/><rect x="418.8" y="451.6" width="1.3" height="1.3" fill="#40ff60"/><rect x="422.8" y="461.3" width="1.3" height="1.3" fill="#30f080"/><rect x="415.0" y="457.2" width="1.3" height="1.3" fill="#000"/><rect x="435.6" y="464.6" width="1.3" height="1.3" fill="#18d828"/><rect x="425.8" y="461.6" width="1.3" height="1.3" fill="#18d828"/><rect x="415.7" y="457.1" width="1.3" height="1.3" fill="#20e040"/><rect x="423.0" y="451.4" width="1.3" height="1.3" fill="#000"/><rect x="422.7" y="455.6" width="1.3" height="1.3" fill="#40ff60"/><rect x="419.7" y="455.2" width="1.3" height="1.3" fill="#30f080"/><rect x="424.3" y="455.3" width="1.3" height="1.3" fill="#30ff30"/><rect x="427.9" y="460.3" width="1.3" height="1.3" fill="#000"/><rect x="432.6" y="466.3" width="1.3" height="1.3" fill="#000"/><rect x="439.1" y="466.2" width="1.3" height="1.3" fill="#30ff30"/><rect x="431.3" y="465.1" width="1.3" height="1.3" fill="#20e040"/><rect x="443.2" y="461.4" width="1.3" height="1.3" fill="#20e040"/><rect x="412.8" y="454.0" width="1.3" height="1.3" fill="#40ff60"/><rect x="443.0" y="461.0" width="1.3" height="1.3" fill="#30f080"/><rect x="413.0" y="459.5" width="1.3" height="1.3" fill="#30f080"/><rect x="416.5" y="453.7" width="1.3" height="1.3" fill="#20e040"/><rect x="440.4" y="463.0" width="1.3" height="1.3" fill="#30ff30"/><rect x="443.4" y="463.0" width="1.3" height="1.3" fill="#40ff60"/><rect x="447.2" y="464.2" width="1.3" height="1.3" fill="#30f080"/><rect x="421.5" y="457.7" width="1.3" height="1.3" fill="#20e040"/><rect x="426.0" y="457.9" width="1.3" height="1.3" fill="#30ff30"/><rect x="434.0" y="460.7" width="1.3" height="1.3" fill="#000"/><rect x="418.0" y="454.8" width="1.3" height="1.3" fill="#000"/><rect x="410.8" y="451.5" width="1.3" height="1.3" fill="#18d828"/><rect x="417.9" y="456.2" width="1.3" height="1.3" fill="#40ff60"/><rect x="443.4" y="460.1" width="1.3" height="1.3" fill="#20e040"/><rect x="432.1" y="464.9" width="1.3" height="1.3" fill="#40ff60"/><rect x="438.2" y="467.0" width="1.3" height="1.3" fill="#30ff30"/><rect x="414.0" y="454.0" width="1.3" height="1.3" fill="#18d828"/><rect x="414.5" y="455.7" width="1.3" height="1.3" fill="#000"/><rect x="443.0" y="466.3" width="1.3" height="1.3" fill="#30ff30"/><rect x="434.6" y="463.4" width="1.3" height="1.3" fill="#000"/><rect x="425.3" y="461.2" width="1.3" height="1.3" fill="#30ff30"/><rect x="419.8" y="455.8" width="1.3" height="1.3" fill="#18d828"/><rect x="412.2" y="453.7" width="1.3" height="1.3" fill="#30f080"/><rect x="437.4" y="468.3" width="1.3" height="1.3" fill="#30f080"/><rect x="431.1" y="461.7" width="1.3" height="1.3" fill="#40ff60"/><rect x="428.2" y="460.8" width="1.3" height="1.3" fill="#30ff30"/><rect x="409.8" y="456.2" width="1.3" height="1.3" fill="#40ff60"/><rect x="427.2" y="461.0" width="1.3" height="1.3" fill="#000"/><rect x="445.0" y="460.6" width="1.3" height="1.3" fill="#18d828"/><rect x="425.9" y="463.5" width="1.3" height="1.3" fill="#000"/><rect x="412.7" y="452.4" width="1.3" height="1.3" fill="#30ff30"/><rect x="431.8" y="455.5" width="1.3" height="1.3" fill="#40ff60"/><rect x="414.2" y="452.9" width="1.3" height="1.3" fill="#18d828"/><rect x="424.4" y="456.4" width="1.3" height="1.3" fill="#40ff60"/><rect x="443.2" y="463.8" width="1.3" height="1.3" fill="#000"/><rect x="430.6" y="469.7" width="1.3" height="1.3" fill="#000"/><rect x="441.5" y="462.7" width="1.3" height="1.3" fill="#000"/><rect x="445.9" y="460.1" width="1.3" height="1.3" fill="#000"/><rect x="412.6" y="450.3" width="1.3" height="1.3" fill="#18d828"/><rect x="442.1" y="467.3" width="1.3" height="1.3" fill="#30f080"/><rect x="436.3" y="464.8" width="1.3" height="1.3" fill="#18d828"/><rect x="416.9" y="452.5" width="1.3" height="1.3" fill="#18d828"/><rect x="424.9" y="457.5" width="1.3" height="1.3" fill="#30ff30"/><rect x="431.7" y="460.7" width="1.3" height="1.3" fill="#40ff60"/><rect x="444.2" y="464.5" width="1.3" height="1.3" fill="#000"/><rect x="440.0" y="460.3" width="1.3" height="1.3" fill="#18d828"/><rect x="438.8" y="462.0" width="1.3" height="1.3" fill="#18d828"/><rect x="443.5" y="459.4" width="1.3" height="1.3" fill="#18d828"/><rect x="414.5" y="452.9" width="1.3" height="1.3" fill="#30ff30"/><rect x="412.6" y="454.6" width="1.3" height="1.3" fill="#40ff60"/><rect x="417.4" y="457.3" width="1.3" height="1.3" fill="#40ff60"/><rect x="446.4" y="458.5" width="1.3" height="1.3" fill="#30f080"/><rect x="445.9" y="463.7" width="1.3" height="1.3" fill="#18d828"/><rect x="424.6" y="458.9" width="1.3" height="1.3" fill="#30f080"/><rect x="432.8" y="459.2" width="1.3" height="1.3" fill="#30f080"/><rect x="428.9" y="465.5" width="1.3" height="1.3" fill="#000"/><rect x="417.6" y="455.1" width="1.3" height="1.3" fill="#18d828"/><rect x="415.4" y="455.0" width="1.3" height="1.3" fill="#40ff60"/><rect x="418.4" y="453.2" width="1.3" height="1.3" fill="#000"/><rect x="414.2" y="451.5" width="1.3" height="1.3" fill="#000"/><rect x="424.0" y="462.0" width="1.3" height="1.3" fill="#18d828"/><rect x="413.6" y="454.0" width="1.3" height="1.3" fill="#40ff60"/><rect x="413.3" y="455.2" width="1.3" height="1.3" fill="#20e040"/><rect x="430.5" y="460.4" width="1.3" height="1.3" fill="#30ff30"/><rect x="439.5" y="463.7" width="1.3" height="1.3" fill="#20e040"/><rect x="417.4" y="456.1" width="1.3" height="1.3" fill="#30ff30"/><rect x="418.3" y="457.5" width="1.3" height="1.3" fill="#40ff60"/><rect x="434.5" y="462.3" width="1.3" height="1.3" fill="#18d828"/><rect x="447.9" y="459.5" width="1.3" height="1.3" fill="#30ff30"/><rect x="424.1" y="457.0" width="1.3" height="1.3" fill="#18d828"/><rect x="411.2" y="455.2" width="1.3" height="1.3" fill="#20e040"/><rect x="419.9" y="457.8" width="1.3" height="1.3" fill="#30ff30"/><rect x="432.7" y="462.7" width="1.3" height="1.3" fill="#20e040"/><rect x="419.5" y="457.2" width="1.3" height="1.3" fill="#000"/><rect x="420.1" y="456.2" width="1.3" height="1.3" fill="#40ff60"/><rect x="416.9" y="458.0" width="1.3" height="1.3" fill="#30ff30"/><rect x="425.1" y="460.9" width="1.3" height="1.3" fill="#20e040"/><rect x="417.1" y="453.3" width="1.3" height="1.3" fill="#30f080"/><rect x="419.7" y="455.3" width="1.3" height="1.3" fill="#000"/><rect x="425.8" y="454.5" width="1.3" height="1.3" fill="#40ff60"/><rect x="411.9" y="457.1" width="1.3" height="1.3" fill="#30ff30"/><rect x="433.7" y="463.8" width="1.3" height="1.3" fill="#30f080"/><rect x="447.5" y="464.5" width="1.3" height="1.3" fill="#20e040"/><rect x="442.8" y="456.1" width="1.3" height="1.3" fill="#000"/><rect x="446.8" y="464.7" width="1.3" height="1.3" fill="#30ff30"/><rect x="441.2" y="462.7" width="1.3" height="1.3" fill="#20e040"/><rect x="436.7" y="463.3" width="1.3" height="1.3" fill="#000"/><rect x="436.9" y="463.7" width="1.3" height="1.3" fill="#18d828"/><rect x="415.3" y="455.5" width="1.3" height="1.3" fill="#40ff60"/><rect x="422.7" y="456.9" width="1.3" height="1.3" fill="#30f080"/><rect x="425.0" y="455.8" width="1.3" height="1.3" fill="#30f080"/><rect x="431.7" y="464.6" width="1.3" height="1.3" fill="#40ff60"/><rect x="442.4" y="460.2" width="1.3" height="1.3" fill="#40ff60"/><rect x="420.6" y="455.0" width="1.3" height="1.3" fill="#30f080"/><rect x="433.1" y="460.3" width="1.3" height="1.3" fill="#30ff30"/><rect x="439.0" y="466.9" width="1.3" height="1.3" fill="#30f080"/><rect x="417.3" y="457.5" width="1.3" height="1.3" fill="#30f080"/><rect x="414.5" y="455.5" width="1.3" height="1.3" fill="#20e040"/><rect x="411.8" y="451.8" width="1.3" height="1.3" fill="#18d828"/><rect x="443.4" y="462.3" width="1.3" height="1.3" fill="#30f080"/><rect x="423.5" y="457.5" width="1.3" height="1.3" fill="#000"/><rect x="425.0" y="462.0" width="1.3" height="1.3" fill="#30f080"/><rect x="419.1" y="455.2" width="1.3" height="1.3" fill="#000"/><rect x="423.9" y="459.4" width="1.3" height="1.3" fill="#40ff60"/><rect x="437.6" y="464.7" width="1.3" height="1.3" fill="#000"/><rect x="428.1" y="460.2" width="1.3" height="1.3" fill="#18d828"/><rect x="439.1" y="460.8" width="1.3" height="1.3" fill="#30f080"/><rect x="428.4" y="460.0" width="1.3" height="1.3" fill="#30ff30"/><rect x="445.9" y="460.1" width="1.3" height="1.3" fill="#30f080"/><rect x="416.8" y="454.4" width="1.3" height="1.3" fill="#40ff60"/><rect x="441.3" y="468.9" width="1.3" height="1.3" fill="#18d828"/><rect x="448.6" y="465.4" width="1.3" height="1.3" fill="#40ff60"/><rect x="445.1" y="461.8" width="1.3" height="1.3" fill="#30f080"/><rect x="434.1" y="465.1" width="1.3" height="1.3" fill="#18d828"/><rect x="412.2" y="450.7" width="1.3" height="1.3" fill="#30f080"/><rect x="420.4" y="456.7" width="1.3" height="1.3" fill="#000"/><rect x="424.4" y="458.4" width="1.3" height="1.3" fill="#30f080"/><rect x="420.4" y="454.5" width="1.3" height="1.3" fill="#000"/><rect x="432.7" y="465.1" width="1.3" height="1.3" fill="#30f080"/><rect x="442.1" y="463.2" width="1.3" height="1.3" fill="#40ff60"/><rect x="441.7" y="466.2" width="1.3" height="1.3" fill="#40ff60"/><rect x="416.3" y="456.0" width="1.3" height="1.3" fill="#20e040"/><rect x="434.9" y="465.7" width="1.3" height="1.3" fill="#000"/><rect x="446.3" y="462.9" width="1.3" height="1.3" fill="#000"/><rect x="415.3" y="453.4" width="1.3" height="1.3" fill="#40ff60"/><rect x="412.2" y="456.9" width="1.3" height="1.3" fill="#000"/><rect x="423.4" y="456.2" width="1.3" height="1.3" fill="#18d828"/><rect x="418.3" y="454.6" width="1.3" height="1.3" fill="#20e040"/><rect x="441.2" y="460.6" width="1.3" height="1.3" fill="#40ff60"/><rect x="421.4" y="458.0" width="1.3" height="1.3" fill="#30f080"/><rect x="411.4" y="454.7" width="1.3" height="1.3" fill="#40ff60"/><rect x="439.4" y="458.9" width="1.3" height="1.3" fill="#20e040"/><rect x="437.6" y="465.2" width="1.3" height="1.3" fill="#20e040"/><rect x="431.1" y="466.2" width="1.3" height="1.3" fill="#000"/><rect x="444.0" y="460.9" width="1.3" height="1.3" fill="#40ff60"/><rect x="440.9" y="466.2" width="1.3" height="1.3" fill="#000"/><rect x="430.7" y="459.5" width="1.3" height="1.3" fill="#30ff30"/><rect x="427.4" y="456.3" width="1.3" height="1.3" fill="#40ff60"/><rect x="415.2" y="458.3" width="1.3" height="1.3" fill="#40ff60"/><rect x="424.1" y="455.3" width="1.3" height="1.3" fill="#30ff30"/><rect x="439.3" y="465.6" width="1.3" height="1.3" fill="#000"/><rect x="441.6" y="459.9" width="1.3" height="1.3" fill="#30ff30"/><rect x="431.8" y="461.3" width="1.3" height="1.3" fill="#20e040"/><rect x="427.8" y="460.2" width="1.3" height="1.3" fill="#20e040"/><rect x="429.4" y="462.5" width="1.3" height="1.3" fill="#40ff60"/><rect x="443.1" y="461.5" width="1.3" height="1.3" fill="#30ff30"/><rect x="443.7" y="465.9" width="1.3" height="1.3" fill="#30ff30"/><rect x="423.1" y="458.4" width="1.3" height="1.3" fill="#30f080"/><rect x="430.3" y="462.3" width="1.3" height="1.3" fill="#30ff30"/><rect x="444.5" y="460.2" width="1.3" height="1.3" fill="#30f080"/><rect x="445.2" y="463.2" width="1.3" height="1.3" fill="#30ff30"/><rect x="438.8" y="462.1" width="1.3" height="1.3" fill="#30f080"/><rect x="415.0" y="453.9" width="1.3" height="1.3" fill="#30ff30"/><rect x="434.4" y="464.8" width="1.3" height="1.3" fill="#20e040"/><rect x="424.1" y="456.2" width="1.3" height="1.3" fill="#40ff60"/><rect x="421.3" y="457.0" width="1.3" height="1.3" fill="#40ff60"/><rect x="431.7" y="463.0" width="1.3" height="1.3" fill="#40ff60"/><rect x="430.6" y="460.3" width="1.3" height="1.3" fill="#18d828"/><rect x="416.6" y="452.6" width="1.3" height="1.3" fill="#40ff60"/>
<rect x="433.3" y="456.0" width="1.1" height="1.1" fill="#20c090"/><rect x="431.5" y="451.8" width="1.1" height="1.1" fill="#20c090"/><rect x="414.1" y="447.5" width="1.1" height="1.1" fill="#30f030"/><rect x="428.5" y="456.5" width="1.1" height="1.1" fill="#30f030"/><rect x="431.0" y="455.3" width="1.1" height="1.1" fill="#60e020"/><rect x="418.6" y="447.3" width="1.1" height="1.1" fill="#30f030"/><rect x="416.3" y="446.5" width="1.1" height="1.1" fill="#60e020"/><rect x="413.4" y="448.9" width="1.1" height="1.1" fill="#60e020"/><rect x="416.5" y="447.4" width="1.1" height="1.1" fill="#60e020"/><rect x="429.8" y="450.8" width="1.1" height="1.1" fill="#20c090"/><rect x="431.9" y="451.1" width="1.1" height="1.1" fill="#20c090"/><rect x="414.1" y="449.7" width="1.1" height="1.1" fill="#60e020"/><rect x="428.3" y="454.6" width="1.1" height="1.1" fill="#60e020"/><rect x="420.8" y="447.7" width="1.1" height="1.1" fill="#30f030"/><rect x="423.7" y="453.0" width="1.1" height="1.1" fill="#20c090"/><rect x="418.5" y="447.5" width="1.1" height="1.1" fill="#20c090"/><rect x="409.9" y="452.5" width="1.1" height="1.1" fill="#30f030"/><rect x="430.6" y="455.9" width="1.1" height="1.1" fill="#30f030"/><rect x="414.9" y="451.9" width="1.1" height="1.1" fill="#20c090"/><rect x="420.9" y="449.8" width="1.1" height="1.1" fill="#30f030"/><rect x="427.6" y="454.6" width="1.1" height="1.1" fill="#30f030"/><rect x="413.0" y="449.1" width="1.1" height="1.1" fill="#30f030"/><rect x="433.6" y="452.8" width="1.1" height="1.1" fill="#20c090"/><rect x="418.1" y="449.9" width="1.1" height="1.1" fill="#20c090"/><rect x="426.5" y="447.2" width="1.1" height="1.1" fill="#30f030"/><rect x="422.9" y="451.7" width="1.1" height="1.1" fill="#60e020"/><rect x="414.8" y="451.2" width="1.1" height="1.1" fill="#20c090"/><rect x="418.7" y="449.3" width="1.1" height="1.1" fill="#20c090"/><rect x="419.9" y="449.9" width="1.1" height="1.1" fill="#30f030"/><rect x="420.3" y="449.9" width="1.1" height="1.1" fill="#20c090"/><rect x="414.8" y="449.2" width="1.1" height="1.1" fill="#20c090"/><rect x="428.2" y="449.9" width="1.1" height="1.1" fill="#20c090"/><rect x="420.5" y="450.2" width="1.1" height="1.1" fill="#30f030"/><rect x="429.3" y="451.5" width="1.1" height="1.1" fill="#60e020"/><rect x="411.8" y="448.6" width="1.1" height="1.1" fill="#20c090"/><rect x="416.8" y="446.4" width="1.1" height="1.1" fill="#60e020"/><rect x="424.5" y="450.2" width="1.1" height="1.1" fill="#20c090"/><rect x="421.8" y="449.9" width="1.1" height="1.1" fill="#60e020"/><rect x="431.7" y="455.2" width="1.1" height="1.1" fill="#60e020"/><rect x="425.7" y="452.2" width="1.1" height="1.1" fill="#20c090"/><rect x="423.4" y="452.2" width="1.1" height="1.1" fill="#60e020"/><rect x="427.9" y="452.6" width="1.1" height="1.1" fill="#30f030"/><rect x="420.3" y="447.6" width="1.1" height="1.1" fill="#60e020"/><rect x="427.3" y="453.5" width="1.1" height="1.1" fill="#60e020"/><rect x="432.6" y="457.8" width="1.1" height="1.1" fill="#20c090"/><rect x="414.5" y="449.5" width="1.1" height="1.1" fill="#20c090"/><rect x="416.8" y="448.4" width="1.1" height="1.1" fill="#30f030"/><rect x="428.7" y="450.1" width="1.1" height="1.1" fill="#60e020"/><rect x="421.1" y="449.5" width="1.1" height="1.1" fill="#20c090"/><rect x="412.2" y="450.1" width="1.1" height="1.1" fill="#30f030"/><rect x="419.2" y="451.9" width="1.1" height="1.1" fill="#30f030"/><rect x="420.2" y="448.8" width="1.1" height="1.1" fill="#60e020"/><rect x="429.6" y="455.0" width="1.1" height="1.1" fill="#30f030"/><rect x="420.7" y="450.6" width="1.1" height="1.1" fill="#60e020"/><rect x="420.3" y="447.4" width="1.1" height="1.1" fill="#60e020"/><rect x="424.2" y="453.8" width="1.1" height="1.1" fill="#60e020"/><rect x="429.0" y="451.2" width="1.1" height="1.1" fill="#30f030"/><rect x="427.9" y="453.4" width="1.1" height="1.1" fill="#20c090"/><rect x="427.9" y="452.7" width="1.1" height="1.1" fill="#20c090"/><rect x="428.5" y="451.6" width="1.1" height="1.1" fill="#30f030"/>
</g>
<g fill="#2090a0"><rect x="405.8" y="453.7" width="1.2" height="1.2"/><rect x="414.0" y="467.7" width="1.2" height="1.2"/><rect x="454.3" y="469.2" width="1.2" height="1.2"/><rect x="455.0" y="425.4" width="1.2" height="1.2"/><rect x="465.0" y="448.2" width="1.2" height="1.2"/><rect x="405.0" y="446.5" width="1.2" height="1.2"/><rect x="459.0" y="429.6" width="1.2" height="1.2"/><rect x="461.2" y="461.1" width="1.2" height="1.2"/><rect x="406.7" y="437.4" width="1.2" height="1.2"/><rect x="412.7" y="427.6" width="1.2" height="1.2"/><rect x="464.0" y="454.4" width="1.2" height="1.2"/><rect x="413.3" y="467.0" width="1.2" height="1.2"/><rect x="426.3" y="419.2" width="1.2" height="1.2"/><rect x="406.4" y="455.7" width="1.2" height="1.2"/><rect x="430.3" y="418.4" width="1.2" height="1.2"/><rect x="451.5" y="471.2" width="1.2" height="1.2"/><rect x="437.3" y="475.9" width="1.2" height="1.2"/><rect x="458.0" y="465.6" width="1.2" height="1.2"/><rect x="405.0" y="445.9" width="1.2" height="1.2"/><rect x="461.6" y="433.6" width="1.2" height="1.2"/><rect x="409.7" y="431.4" width="1.2" height="1.2"/><rect x="439.5" y="418.3" width="1.2" height="1.2"/><rect x="412.7" y="466.4" width="1.2" height="1.2"/><rect x="434.2" y="418.0" width="1.2" height="1.2"/><rect x="459.1" y="464.3" width="1.2" height="1.2"/><rect x="427.4" y="475.0" width="1.2" height="1.2"/><rect x="421.2" y="421.3" width="1.2" height="1.2"/><rect x="430.4" y="418.3" width="1.2" height="1.2"/></g>
<g filter="url(#soft)"><path d="M501.4,448.2 C502,444 504,440 508.7,434.6 C512,432 515,431 517,430.5 L527.5,429.9 C531,430 534,430.5 536.9,431.5 C539,432.5 541,433.5 541.1,434.6 C541,437 540.5,438.5 540,439.9" fill="none" stroke="#30e028" stroke-width="1.3" stroke-dasharray="3.5 1.2"/><path d="M540,439.9 C538.5,442 537,444 535.9,445.1 C534,446.5 533,447 531.7,448.2 C530,450 528.5,452.5 527.5,454.5 C526.5,455.5 525.5,456 524.4,456.6 C522.5,456 521,455 520.2,453.4 C519,451 518,449.5 517,448.2 C515.5,446.5 514,445.8 512.9,445.6 C510.5,445.5 508.5,446 506.6,446.7 C504.5,447.5 503,448 501.4,448.2" fill="none" stroke="#34f02c" stroke-width="1.9"/></g>
<g filter="url(#soft)"><rect x="528.7" y="448.3" width="1.2" height="1.2" fill="#20e040"/><rect x="539.7" y="442.3" width="1.2" height="1.2" fill="#30f030"/><rect x="527.9" y="453.8" width="1.2" height="1.2" fill="#20e040"/><rect x="528.2" y="454.6" width="1.2" height="1.2" fill="#20c090"/><rect x="518.6" y="451.0" width="1.2" height="1.2" fill="#50ff40"/><rect x="526.6" y="453.9" width="1.2" height="1.2" fill="#20e040"/><rect x="507.5" y="447.1" width="1.2" height="1.2" fill="#20c090"/><rect x="517.4" y="447.9" width="1.2" height="1.2" fill="#50ff40"/><rect x="515.3" y="448.1" width="1.2" height="1.2" fill="#20c090"/><rect x="508.7" y="447.9" width="1.2" height="1.2" fill="#30f030"/><rect x="502.3" y="448.8" width="1.2" height="1.2" fill="#20c090"/><rect x="533.9" y="445.9" width="1.2" height="1.2" fill="#20c090"/><rect x="529.2" y="450.5" width="1.2" height="1.2" fill="#30f030"/><rect x="518.8" y="454.1" width="1.2" height="1.2" fill="#50ff40"/><rect x="516.6" y="447.1" width="1.2" height="1.2" fill="#50ff40"/><rect x="508.4" y="445.9" width="1.2" height="1.2" fill="#20e040"/><rect x="507.3" y="447.0" width="1.2" height="1.2" fill="#20c090"/><rect x="528.2" y="453.6" width="1.2" height="1.2" fill="#50ff40"/><rect x="536.9" y="447.0" width="1.2" height="1.2" fill="#20c090"/><rect x="511.5" y="445.4" width="1.2" height="1.2" fill="#20e040"/><rect x="502.0" y="447.1" width="1.2" height="1.2" fill="#20c090"/><rect x="536.8" y="443.6" width="1.2" height="1.2" fill="#20c090"/><rect x="529.0" y="450.8" width="1.2" height="1.2" fill="#50ff40"/><rect x="511.0" y="446.7" width="1.2" height="1.2" fill="#20c090"/><rect x="508.7" y="446.1" width="1.2" height="1.2" fill="#20e040"/><rect x="527.1" y="454.9" width="1.2" height="1.2" fill="#20c090"/><rect x="525.5" y="455.4" width="1.2" height="1.2" fill="#50ff40"/><rect x="521.5" y="455.6" width="1.2" height="1.2" fill="#20e040"/><rect x="506.2" y="445.9" width="1.2" height="1.2" fill="#20e040"/><rect x="505.9" y="446.6" width="1.2" height="1.2" fill="#30f030"/><rect x="505.5" y="446.9" width="1.2" height="1.2" fill="#20c090"/><rect x="528.1" y="451.6" width="1.2" height="1.2" fill="#50ff40"/><rect x="517.1" y="448.6" width="1.2" height="1.2" fill="#50ff40"/><rect x="522.1" y="454.7" width="1.2" height="1.2" fill="#30f030"/><rect x="527.6" y="454.4" width="1.2" height="1.2" fill="#30f030"/><rect x="537.8" y="441.8" width="1.2" height="1.2" fill="#50ff40"/><rect x="538.6" y="441.9" width="1.2" height="1.2" fill="#20e040"/><rect x="527.5" y="454.5" width="1.2" height="1.2" fill="#20c090"/><rect x="529.0" y="452.7" width="1.2" height="1.2" fill="#20c090"/><rect x="530.2" y="451.2" width="1.2" height="1.2" fill="#30f030"/><rect x="539.8" y="439.6" width="1.2" height="1.2" fill="#20e040"/><rect x="536.7" y="443.7" width="1.2" height="1.2" fill="#20e040"/><rect x="520.7" y="453.2" width="1.2" height="1.2" fill="#30f030"/><rect x="531.4" y="448.3" width="1.2" height="1.2" fill="#20e040"/><rect x="514.6" y="448.0" width="1.2" height="1.2" fill="#20e040"/><rect x="512.8" y="445.8" width="1.2" height="1.2" fill="#20e040"/><rect x="528.0" y="454.2" width="1.2" height="1.2" fill="#30f030"/><rect x="505.3" y="447.9" width="1.2" height="1.2" fill="#20e040"/><rect x="510.0" y="446.3" width="1.2" height="1.2" fill="#20c090"/><rect x="528.7" y="451.8" width="1.2" height="1.2" fill="#30f030"/><rect x="501.7" y="448.9" width="1.2" height="1.2" fill="#50ff40"/><rect x="503.8" y="447.2" width="1.2" height="1.2" fill="#20e040"/><rect x="505.7" y="445.8" width="1.2" height="1.2" fill="#20e040"/><rect x="526.8" y="454.4" width="1.2" height="1.2" fill="#20e040"/><rect x="520.5" y="453.3" width="1.2" height="1.2" fill="#30f030"/><rect x="515.5" y="446.4" width="1.2" height="1.2" fill="#20e040"/><rect x="510.5" y="445.8" width="1.2" height="1.2" fill="#20e040"/><rect x="506.9" y="445.7" width="1.2" height="1.2" fill="#50ff40"/><rect x="506.4" y="447.0" width="1.2" height="1.2" fill="#20c090"/><rect x="535.6" y="444.9" width="1.2" height="1.2" fill="#20e040"/><rect x="533.4" y="447.0" width="1.2" height="1.2" fill="#30f030"/><rect x="513.1" y="446.0" width="1.2" height="1.2" fill="#20c090"/><rect x="537.2" y="444.0" width="1.2" height="1.2" fill="#50ff40"/><rect x="526.2" y="455.5" width="1.2" height="1.2" fill="#30f030"/><rect x="530.8" y="449.3" width="1.2" height="1.2" fill="#20e040"/><rect x="528.9" y="451.8" width="1.2" height="1.2" fill="#20e040"/><rect x="510.4" y="446.1" width="1.2" height="1.2" fill="#20c090"/><rect x="526.2" y="455.4" width="1.2" height="1.2" fill="#30f030"/><rect x="512.4" y="446.2" width="1.2" height="1.2" fill="#20e040"/><rect x="526.7" y="455.9" width="1.2" height="1.2" fill="#20e040"/><rect x="513.8" y="446.3" width="1.2" height="1.2" fill="#20e040"/><rect x="502.7" y="448.5" width="1.2" height="1.2" fill="#50ff40"/><rect x="514.6" y="447.5" width="1.2" height="1.2" fill="#30f030"/><rect x="525.8" y="455.7" width="1.2" height="1.2" fill="#50ff40"/><rect x="535.9" y="445.9" width="1.2" height="1.2" fill="#30f030"/><rect x="513.7" y="446.8" width="1.2" height="1.2" fill="#20c090"/><rect x="529.4" y="450.5" width="1.2" height="1.2" fill="#50ff40"/><rect x="502.0" y="449.0" width="1.2" height="1.2" fill="#50ff40"/><rect x="537.7" y="444.0" width="1.2" height="1.2" fill="#20c090"/><rect x="525.0" y="458.1" width="1.2" height="1.2" fill="#20c090"/><rect x="522.0" y="455.7" width="1.2" height="1.2" fill="#50ff40"/><rect x="531.6" y="447.9" width="1.2" height="1.2" fill="#30f030"/><rect x="510.0" y="447.3" width="1.2" height="1.2" fill="#30f030"/><rect x="540.1" y="440.6" width="1.2" height="1.2" fill="#50ff40"/><rect x="502.4" y="447.8" width="1.2" height="1.2" fill="#30f030"/><rect x="525.5" y="455.0" width="1.2" height="1.2" fill="#50ff40"/><rect x="517.6" y="452.0" width="1.2" height="1.2" fill="#30f030"/><rect x="505.5" y="448.7" width="1.2" height="1.2" fill="#20c090"/><rect x="513.3" y="447.1" width="1.2" height="1.2" fill="#50ff40"/><rect x="515.4" y="448.0" width="1.2" height="1.2" fill="#50ff40"/><rect x="529.2" y="450.5" width="1.2" height="1.2" fill="#20e040"/><rect x="519.4" y="451.7" width="1.2" height="1.2" fill="#30f030"/><rect x="536.7" y="443.7" width="1.2" height="1.2" fill="#20e040"/><rect x="529.5" y="449.1" width="1.2" height="1.2" fill="#30f030"/><rect x="534.2" y="447.8" width="1.2" height="1.2" fill="#20e040"/><rect x="523.7" y="455.7" width="1.2" height="1.2" fill="#50ff40"/><rect x="508.6" y="445.6" width="1.2" height="1.2" fill="#30f030"/><rect x="541.3" y="440.0" width="1.2" height="1.2" fill="#30f030"/><rect x="519.4" y="452.8" width="1.2" height="1.2" fill="#30f030"/><rect x="530.3" y="452.2" width="1.2" height="1.2" fill="#50ff40"/><rect x="536.7" y="445.5" width="1.2" height="1.2" fill="#20e040"/><rect x="503.1" y="446.9" width="1.2" height="1.2" fill="#50ff40"/><rect x="508.2" y="447.3" width="1.2" height="1.2" fill="#50ff40"/><rect x="518.2" y="449.9" width="1.2" height="1.2" fill="#50ff40"/><rect x="530.5" y="451.6" width="1.2" height="1.2" fill="#20e040"/><rect x="528.9" y="451.6" width="1.2" height="1.2" fill="#50ff40"/><rect x="523.1" y="453.4" width="1.2" height="1.2" fill="#20e040"/><rect x="517.0" y="448.8" width="1.2" height="1.2" fill="#50ff40"/><rect x="537.5" y="444.2" width="1.2" height="1.2" fill="#20c090"/><rect x="534.7" y="446.3" width="1.2" height="1.2" fill="#20e040"/></g>
<g fill="#2090a0"><rect x="496.6" y="458.7" width="1.2" height="1.2"/><rect x="548.6" y="460.2" width="1.2" height="1.2"/><rect x="519.9" y="473.8" width="1.2" height="1.2"/><rect x="530.5" y="473.1" width="1.2" height="1.2"/><rect x="517.2" y="473.5" width="1.2" height="1.2"/><rect x="533.9" y="418.0" width="1.2" height="1.2"/><rect x="532.4" y="472.5" width="1.2" height="1.2"/><rect x="545.6" y="426.0" width="1.2" height="1.2"/><rect x="544.7" y="425.0" width="1.2" height="1.2"/><rect x="551.2" y="454.8" width="1.2" height="1.2"/><rect x="501.3" y="465.0" width="1.2" height="1.2"/><rect x="493.0" y="446.6" width="1.2" height="1.2"/><rect x="552.7" y="449.3" width="1.2" height="1.2"/><rect x="496.3" y="458.2" width="1.2" height="1.2"/><rect x="547.9" y="428.8" width="1.2" height="1.2"/><rect x="545.9" y="463.8" width="1.2" height="1.2"/><rect x="498.4" y="428.5" width="1.2" height="1.2"/><rect x="544.7" y="465.0" width="1.2" height="1.2"/><rect x="496.6" y="431.3" width="1.2" height="1.2"/><rect x="546.7" y="427.2" width="1.2" height="1.2"/><rect x="531.7" y="472.7" width="1.2" height="1.2"/><rect x="553.0" y="446.5" width="1.2" height="1.2"/><rect x="549.0" y="459.5" width="1.2" height="1.2"/><rect x="493.9" y="437.9" width="1.2" height="1.2"/><rect x="552.8" y="448.2" width="1.2" height="1.2"/><rect x="548.8" y="459.7" width="1.2" height="1.2"/></g>
<text x="307.2" y="326.9" font-size="16" text-anchor="start" font-weight="normal" fill="#fff" >SCM</text>
<text x="396.9" y="326.9" font-size="16" text-anchor="start" font-weight="normal" fill="#fff" >SLA0.2</text>
<text x="483.6" y="326.9" font-size="16" text-anchor="start" font-weight="normal" fill="#fff" >SLA0.05</text>
<text x="309" y="419" font-size="16" text-anchor="start" font-weight="normal" fill="#fff" >SLA0.02</text>
<text x="396" y="419" font-size="16" text-anchor="start" font-weight="normal" fill="#fff" >SLA0.001</text>
<text x="483.6" y="419" font-size="16" text-anchor="start" font-weight="normal" fill="#fff" >SLA0.005</text>
<defs><linearGradient id="cb" x1="0" y1="0" x2="0" y2="1"><stop offset="0" stop-color="#f00"/><stop offset="0.1" stop-color="#ff2000"/><stop offset="0.2" stop-color="#ff8000"/><stop offset="0.28" stop-color="#ff0"/><stop offset="0.47" stop-color="#0f0"/><stop offset="0.67" stop-color="#0ff"/><stop offset="0.9" stop-color="#00f"/><stop offset="1" stop-color="#00c"/></linearGradient></defs>
<rect x="572.5" y="404" width="11.3" height="84.2" fill="url(#cb)" stroke="#333" stroke-width="0.8"/>
<text x="616.3" y="418.8" font-size="14" text-anchor="end">45<tspan font-size="9" dy="-6">o</tspan><tspan dy="6">C</tspan></text>
<text x="616.3" y="435.5" font-size="14" text-anchor="end">35<tspan font-size="9" dy="-6">o</tspan><tspan dy="6">C</tspan></text>
<text x="616.3" y="452.1" font-size="14" text-anchor="end">25<tspan font-size="9" dy="-6">o</tspan><tspan dy="6">C</tspan></text>
<text x="616.3" y="468.6" font-size="14" text-anchor="end">15<tspan font-size="9" dy="-6">o</tspan><tspan dy="6">C</tspan></text>
<text x="616.3" y="485.7" font-size="14" text-anchor="end">5<tspan font-size="9" dy="-6">o</tspan><tspan dy="6">C</tspan></text>
</svg>
</body></html>
